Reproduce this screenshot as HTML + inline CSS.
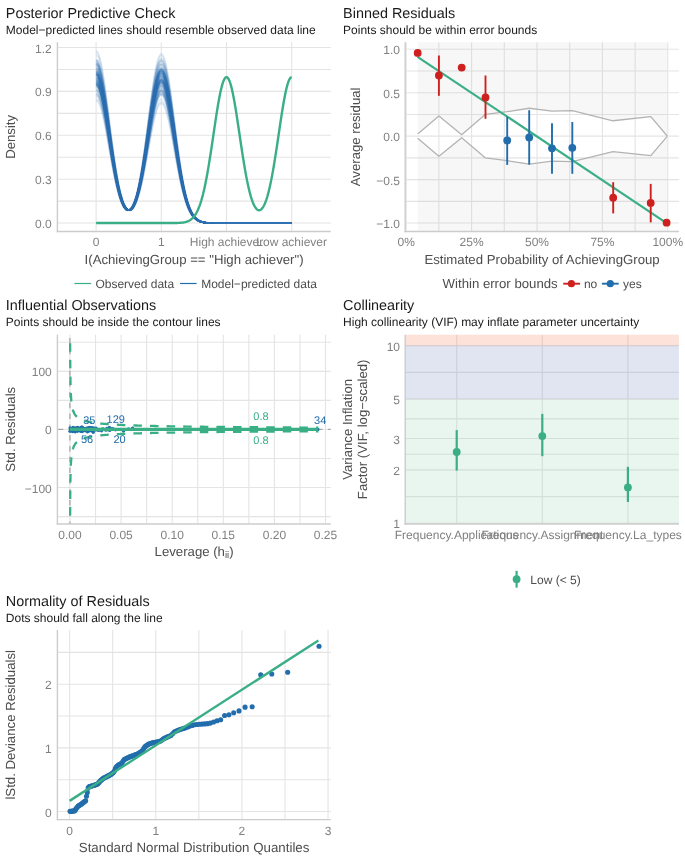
<!DOCTYPE html>
<html><head><meta charset="utf-8"><style>
html,body{margin:0;padding:0;background:#fff;}
svg{display:block;font-family:"Liberation Sans", sans-serif;will-change:transform;text-rendering:geometricPrecision;}
</style></head><body>
<svg width="685" height="861" viewBox="0 0 685 861">
<rect width="685" height="861" fill="#fff"/>
<text x="5.8" y="17.8" font-size="14.4" fill="#1a1a1a" text-anchor="start" >Posterior Predictive Check</text>
<text x="5.8" y="33.8" font-size="12" fill="#1a1a1a" text-anchor="start" >Model−predicted lines should resemble observed data line</text>
<line x1="57.4" y1="223.07" x2="330.8" y2="223.07" stroke="#e4e4e4" stroke-width="1.1" />
<line x1="57.4" y1="201.12" x2="330.8" y2="201.12" stroke="#e4e4e4" stroke-width="1.1" />
<line x1="57.4" y1="179.18" x2="330.8" y2="179.18" stroke="#e4e4e4" stroke-width="1.1" />
<line x1="57.4" y1="157.23" x2="330.8" y2="157.23" stroke="#e4e4e4" stroke-width="1.1" />
<line x1="57.4" y1="135.29" x2="330.8" y2="135.29" stroke="#e4e4e4" stroke-width="1.1" />
<line x1="57.4" y1="113.34" x2="330.8" y2="113.34" stroke="#e4e4e4" stroke-width="1.1" />
<line x1="57.4" y1="91.4" x2="330.8" y2="91.4" stroke="#e4e4e4" stroke-width="1.1" />
<line x1="57.4" y1="69.45" x2="330.8" y2="69.45" stroke="#e4e4e4" stroke-width="1.1" />
<line x1="57.4" y1="47.51" x2="330.8" y2="47.51" stroke="#e4e4e4" stroke-width="1.1" />
<line x1="96.1" y1="42.2" x2="96.1" y2="231.55" stroke="#e4e4e4" stroke-width="1.1" />
<line x1="161.3" y1="42.2" x2="161.3" y2="231.55" stroke="#e4e4e4" stroke-width="1.1" />
<line x1="226.5" y1="42.2" x2="226.5" y2="231.55" stroke="#e4e4e4" stroke-width="1.1" />
<line x1="291.7" y1="42.2" x2="291.7" y2="231.55" stroke="#e4e4e4" stroke-width="1.1" />
<polyline points="96.1,50.89 97.4,51.75 98.71,54.3 100.01,58.47 101.32,64.13 102.62,71.12 103.92,79.25 105.23,88.29 106.53,98.03 107.84,108.2 109.14,118.6 110.44,128.99 111.75,139.17 113.05,148.98 114.36,158.27 115.66,166.91 116.96,174.83 118.27,181.96 119.57,188.28 120.88,193.77 122.18,198.44 123.48,202.3 124.79,205.39 126.09,207.72 127.4,209.33 128.7,210.25 130,210.49 131.31,210.08 132.61,209.01 133.92,207.31 135.22,204.96 136.52,201.98 137.83,198.36 139.13,194.12 140.44,189.27 141.74,183.85 143.04,177.9 144.35,171.49 145.65,164.7 146.96,157.65 148.26,150.44 149.56,143.23 150.87,136.16 152.17,129.4 153.48,123.12 154.78,117.47 156.08,112.62 157.39,108.68 158.69,105.79 160,104.02 161.3,103.42 162.6,104.02 163.91,105.79 165.21,108.69 166.52,112.62 167.82,117.48 169.12,123.13 170.43,129.42 171.73,136.19 173.04,143.27 174.34,150.5 175.64,157.73 176.95,164.83 178.25,171.67 179.56,178.16 180.86,184.23 182.16,189.8 183.47,194.86 184.77,199.39 186.08,203.39 187.38,206.88 188.68,209.88 189.99,212.43 191.29,214.57 192.6,216.35 193.9,217.81 195.2,219 196.51,219.94 197.81,220.7 199.12,221.28 200.42,221.74 201.72,222.09 203.03,222.35 204.33,222.55 205.64,222.7 206.94,222.81 208.24,222.89 209.55,222.94 210.85,222.98 212.16,223.01 213.46,223.03 214.76,223.04 216.07,223.05 217.37,223.06 218.68,223.06 219.98,223.07 221.28,223.07 222.59,223.07 223.89,223.07 225.2,223.07 226.5,223.07 227.8,223.07 229.11,223.07 230.41,223.07 231.72,223.07 233.02,223.07 234.32,223.07 235.63,223.07 236.93,223.07 238.24,223.07 239.54,223.07 240.84,223.07 242.15,223.07 243.45,223.07 244.76,223.07 246.06,223.07 247.36,223.07 248.67,223.07 249.97,223.07 251.28,223.07 252.58,223.07 253.88,223.07 255.19,223.07 256.49,223.07 257.8,223.07 259.1,223.07 260.4,223.07 261.71,223.07 263.01,223.07 264.32,223.07 265.62,223.07 266.92,223.07 268.23,223.07 269.53,223.07 270.84,223.07 272.14,223.07 273.44,223.07 274.75,223.07 276.05,223.07 277.36,223.07 278.66,223.07 279.96,223.07 281.27,223.07 282.57,223.07 283.88,223.07 285.18,223.07 286.48,223.07 287.79,223.07 289.09,223.07 290.4,223.07 291.7,223.07" fill="none" stroke="#3072b3" stroke-width="1.7" stroke-linejoin="round" stroke-opacity="0.12"/>
<polyline points="96.1,52.35 97.4,53.2 98.71,55.73 100.01,59.86 101.32,65.47 102.62,72.41 103.92,80.47 105.23,89.44 106.53,99.09 107.84,109.18 109.14,119.48 110.44,129.78 111.75,139.88 113.05,149.61 114.36,158.81 115.66,167.38 116.96,175.23 118.27,182.3 119.57,188.56 120.88,194 122.18,198.62 123.48,202.44 124.79,205.49 126.09,207.78 127.4,209.36 128.7,210.25 130,210.46 131.31,210.01 132.61,208.91 133.92,207.17 135.22,204.78 136.52,201.75 137.83,198.08 139.13,193.78 140.44,188.87 141.74,183.38 143.04,177.36 144.35,170.87 145.65,164 146.96,156.85 148.26,149.56 149.56,142.26 150.87,135.1 152.17,128.26 153.48,121.9 154.78,116.19 156.08,111.27 157.39,107.29 158.69,104.36 160,102.57 161.3,101.96 162.6,102.57 163.91,104.36 165.21,107.29 166.52,111.27 167.82,116.19 169.12,121.91 170.43,128.28 171.73,135.13 173.04,142.29 174.34,149.61 175.64,156.94 176.95,164.12 178.25,171.05 179.56,177.62 180.86,183.75 182.16,189.4 183.47,194.52 184.77,199.1 186.08,203.15 187.38,206.68 188.68,209.72 189.99,212.3 191.29,214.47 192.6,216.27 193.9,217.75 195.2,218.95 196.51,219.91 197.81,220.67 199.12,221.26 200.42,221.72 201.72,222.08 203.03,222.35 204.33,222.55 205.64,222.7 206.94,222.81 208.24,222.88 209.55,222.94 210.85,222.98 212.16,223.01 213.46,223.03 214.76,223.04 216.07,223.05 217.37,223.06 218.68,223.06 219.98,223.07 221.28,223.07 222.59,223.07 223.89,223.07 225.2,223.07 226.5,223.07 227.8,223.07 229.11,223.07 230.41,223.07 231.72,223.07 233.02,223.07 234.32,223.07 235.63,223.07 236.93,223.07 238.24,223.07 239.54,223.07 240.84,223.07 242.15,223.07 243.45,223.07 244.76,223.07 246.06,223.07 247.36,223.07 248.67,223.07 249.97,223.07 251.28,223.07 252.58,223.07 253.88,223.07 255.19,223.07 256.49,223.07 257.8,223.07 259.1,223.07 260.4,223.07 261.71,223.07 263.01,223.07 264.32,223.07 265.62,223.07 266.92,223.07 268.23,223.07 269.53,223.07 270.84,223.07 272.14,223.07 273.44,223.07 274.75,223.07 276.05,223.07 277.36,223.07 278.66,223.07 279.96,223.07 281.27,223.07 282.57,223.07 283.88,223.07 285.18,223.07 286.48,223.07 287.79,223.07 289.09,223.07 290.4,223.07 291.7,223.07" fill="none" stroke="#3072b3" stroke-width="1.7" stroke-linejoin="round" stroke-opacity="0.12"/>
<polyline points="96.1,55.27 97.4,56.11 98.71,58.59 100.01,62.65 101.32,68.17 102.62,74.98 103.92,82.9 105.23,91.72 106.53,101.2 107.84,111.12 109.14,121.25 110.44,131.38 111.75,141.3 113.05,150.86 114.36,159.9 115.66,168.32 116.96,176.03 118.27,182.98 119.57,189.12 120.88,194.46 122.18,198.98 123.48,202.72 124.79,205.69 126.09,207.92 127.4,209.43 128.7,210.25 130,210.39 131.31,209.88 132.61,208.71 133.92,206.89 135.22,204.42 136.52,201.3 137.83,197.52 139.13,193.11 140.44,188.07 141.74,182.44 143.04,176.26 144.35,169.61 145.65,162.58 146.96,155.26 148.26,147.79 149.56,140.31 150.87,132.98 152.17,125.98 153.48,119.46 154.78,113.61 156.08,108.58 157.39,104.5 158.69,101.5 160,99.66 161.3,99.04 162.6,99.66 163.91,101.5 165.21,104.5 166.52,108.58 167.82,113.62 169.12,119.47 170.43,125.99 171.73,133.01 173.04,140.35 174.34,147.84 175.64,155.34 176.95,162.7 178.25,169.79 179.56,176.52 180.86,182.8 182.16,188.59 183.47,193.83 184.77,198.53 186.08,202.67 187.38,206.28 188.68,209.4 189.99,212.04 191.29,214.26 192.6,216.11 193.9,217.62 195.2,218.85 196.51,219.83 197.81,220.61 199.12,221.22 200.42,221.69 201.72,222.05 203.03,222.33 204.33,222.53 205.64,222.69 206.94,222.8 208.24,222.88 209.55,222.94 210.85,222.98 212.16,223.01 213.46,223.03 214.76,223.04 216.07,223.05 217.37,223.06 218.68,223.06 219.98,223.07 221.28,223.07 222.59,223.07 223.89,223.07 225.2,223.07 226.5,223.07 227.8,223.07 229.11,223.07 230.41,223.07 231.72,223.07 233.02,223.07 234.32,223.07 235.63,223.07 236.93,223.07 238.24,223.07 239.54,223.07 240.84,223.07 242.15,223.07 243.45,223.07 244.76,223.07 246.06,223.07 247.36,223.07 248.67,223.07 249.97,223.07 251.28,223.07 252.58,223.07 253.88,223.07 255.19,223.07 256.49,223.07 257.8,223.07 259.1,223.07 260.4,223.07 261.71,223.07 263.01,223.07 264.32,223.07 265.62,223.07 266.92,223.07 268.23,223.07 269.53,223.07 270.84,223.07 272.14,223.07 273.44,223.07 274.75,223.07 276.05,223.07 277.36,223.07 278.66,223.07 279.96,223.07 281.27,223.07 282.57,223.07 283.88,223.07 285.18,223.07 286.48,223.07 287.79,223.07 289.09,223.07 290.4,223.07 291.7,223.07" fill="none" stroke="#3072b3" stroke-width="1.7" stroke-linejoin="round" stroke-opacity="0.12"/>
<polyline points="96.1,100.5 97.4,101.11 98.71,102.93 100.01,105.89 101.32,109.92 102.62,114.9 103.92,120.68 105.23,127.12 106.53,134.04 107.84,141.28 109.14,148.67 110.44,156.05 111.75,163.29 113.05,170.24 114.36,176.81 115.66,182.91 116.96,188.47 118.27,193.44 119.57,197.8 120.88,201.52 122.18,204.6 123.48,207.03 124.79,208.81 126.09,209.95 127.4,210.43 128.7,210.25 130,209.4 131.31,207.85 132.61,205.59 133.92,202.58 135.22,198.8 136.52,194.23 137.83,188.84 139.13,182.64 140.44,175.63 141.74,167.85 143.04,159.36 144.35,150.23 145.65,140.59 146.96,130.58 148.26,120.37 149.56,110.15 150.87,100.14 152.17,90.58 153.48,81.69 154.78,73.69 156.08,66.82 157.39,61.26 158.69,57.16 160,54.65 161.3,53.81 162.6,54.65 163.91,57.16 165.21,61.26 166.52,66.82 167.82,73.7 169.12,81.69 170.43,90.59 171.73,100.16 173.04,110.18 174.34,120.41 175.64,130.64 176.95,140.68 178.25,150.36 179.56,159.55 180.86,168.12 182.16,176.01 183.47,183.17 184.77,189.57 186.08,195.23 187.38,200.16 188.68,204.41 189.99,208.02 191.29,211.05 192.6,213.57 193.9,215.63 195.2,217.31 196.51,218.65 197.81,219.71 199.12,220.54 200.42,221.19 201.72,221.68 203.03,222.06 204.33,222.34 205.64,222.55 206.94,222.7 208.24,222.81 209.55,222.89 210.85,222.95 212.16,222.99 213.46,223.01 214.76,223.03 216.07,223.04 217.37,223.05 218.68,223.06 219.98,223.06 221.28,223.07 222.59,223.07 223.89,223.07 225.2,223.07 226.5,223.07 227.8,223.07 229.11,223.07 230.41,223.07 231.72,223.07 233.02,223.07 234.32,223.07 235.63,223.07 236.93,223.07 238.24,223.07 239.54,223.07 240.84,223.07 242.15,223.07 243.45,223.07 244.76,223.07 246.06,223.07 247.36,223.07 248.67,223.07 249.97,223.07 251.28,223.07 252.58,223.07 253.88,223.07 255.19,223.07 256.49,223.07 257.8,223.07 259.1,223.07 260.4,223.07 261.71,223.07 263.01,223.07 264.32,223.07 265.62,223.07 266.92,223.07 268.23,223.07 269.53,223.07 270.84,223.07 272.14,223.07 273.44,223.07 274.75,223.07 276.05,223.07 277.36,223.07 278.66,223.07 279.96,223.07 281.27,223.07 282.57,223.07 283.88,223.07 285.18,223.07 286.48,223.07 287.79,223.07 289.09,223.07 290.4,223.07 291.7,223.07" fill="none" stroke="#3072b3" stroke-width="1.7" stroke-linejoin="round" stroke-opacity="0.12"/>
<polyline points="96.1,99.04 97.4,99.66 98.71,101.5 100.01,104.5 101.32,108.58 102.62,113.61 103.92,119.46 105.23,125.98 106.53,132.98 107.84,140.31 109.14,147.79 110.44,155.26 111.75,162.58 113.05,169.61 114.36,176.26 115.66,182.44 116.96,188.07 118.27,193.11 119.57,197.52 120.88,201.3 122.18,204.42 123.48,206.89 124.79,208.71 126.09,209.88 127.4,210.39 128.7,210.25 130,209.43 131.31,207.92 132.61,205.69 133.92,202.72 135.22,198.98 136.52,194.46 137.83,189.12 139.13,182.98 140.44,176.03 141.74,168.32 143.04,159.9 144.35,150.86 145.65,141.3 146.96,131.38 148.26,121.25 149.56,111.12 150.87,101.2 152.17,91.72 153.48,82.9 154.78,74.98 156.08,68.17 157.39,62.65 158.69,58.59 160,56.11 161.3,55.27 162.6,56.11 163.91,58.59 165.21,62.65 166.52,68.17 167.82,74.99 169.12,82.91 170.43,91.73 171.73,101.22 173.04,111.15 174.34,121.29 175.64,131.44 176.95,141.39 178.25,150.99 179.56,160.09 180.86,168.59 182.16,176.42 183.47,183.51 184.77,189.86 186.08,195.47 187.38,200.36 188.68,204.57 189.99,208.15 191.29,211.16 192.6,213.65 193.9,215.7 195.2,217.36 196.51,218.69 197.81,219.74 199.12,220.57 200.42,221.21 201.72,221.7 203.03,222.07 204.33,222.35 205.64,222.55 206.94,222.7 208.24,222.81 209.55,222.89 210.85,222.95 212.16,222.99 213.46,223.01 214.76,223.03 216.07,223.05 217.37,223.05 218.68,223.06 219.98,223.06 221.28,223.07 222.59,223.07 223.89,223.07 225.2,223.07 226.5,223.07 227.8,223.07 229.11,223.07 230.41,223.07 231.72,223.07 233.02,223.07 234.32,223.07 235.63,223.07 236.93,223.07 238.24,223.07 239.54,223.07 240.84,223.07 242.15,223.07 243.45,223.07 244.76,223.07 246.06,223.07 247.36,223.07 248.67,223.07 249.97,223.07 251.28,223.07 252.58,223.07 253.88,223.07 255.19,223.07 256.49,223.07 257.8,223.07 259.1,223.07 260.4,223.07 261.71,223.07 263.01,223.07 264.32,223.07 265.62,223.07 266.92,223.07 268.23,223.07 269.53,223.07 270.84,223.07 272.14,223.07 273.44,223.07 274.75,223.07 276.05,223.07 277.36,223.07 278.66,223.07 279.96,223.07 281.27,223.07 282.57,223.07 283.88,223.07 285.18,223.07 286.48,223.07 287.79,223.07 289.09,223.07 290.4,223.07 291.7,223.07" fill="none" stroke="#3072b3" stroke-width="1.7" stroke-linejoin="round" stroke-opacity="0.12"/>
<polyline points="96.1,96.12 97.4,96.76 98.71,98.64 100.01,101.71 101.32,105.88 102.62,111.04 103.92,117.03 105.23,123.69 106.53,130.87 107.84,138.36 109.14,146.02 110.44,153.67 111.75,161.16 113.05,168.36 114.36,175.17 115.66,181.5 116.96,187.27 118.27,192.43 119.57,196.96 120.88,200.84 122.18,204.06 123.48,206.61 124.79,208.51 126.09,209.75 127.4,210.33 128.7,210.25 130,209.49 131.31,208.05 132.61,205.89 133.92,203 135.22,199.35 136.52,194.91 137.83,189.68 139.13,183.65 140.44,176.83 141.74,169.26 143.04,160.99 144.35,152.11 145.65,142.72 146.96,132.97 148.26,123.02 149.56,113.07 150.87,103.32 152.17,94 153.48,85.34 154.78,77.56 156.08,70.86 157.39,65.44 158.69,61.45 160,59.01 161.3,58.19 162.6,59.01 163.91,61.45 165.21,65.44 166.52,70.86 167.82,77.56 169.12,85.35 170.43,94.02 171.73,103.34 173.04,113.1 174.34,123.06 175.64,133.03 176.95,142.81 178.25,152.24 179.56,161.19 180.86,169.54 182.16,177.23 183.47,184.2 184.77,190.44 186.08,195.95 187.38,200.76 188.68,204.89 189.99,208.41 191.29,211.36 192.6,213.81 193.9,215.83 195.2,217.46 196.51,218.76 197.81,219.8 199.12,220.61 200.42,221.24 201.72,221.72 203.03,222.08 204.33,222.36 205.64,222.56 206.94,222.71 208.24,222.82 209.55,222.89 210.85,222.95 212.16,222.99 213.46,223.01 214.76,223.03 216.07,223.05 217.37,223.05 218.68,223.06 219.98,223.06 221.28,223.07 222.59,223.07 223.89,223.07 225.2,223.07 226.5,223.07 227.8,223.07 229.11,223.07 230.41,223.07 231.72,223.07 233.02,223.07 234.32,223.07 235.63,223.07 236.93,223.07 238.24,223.07 239.54,223.07 240.84,223.07 242.15,223.07 243.45,223.07 244.76,223.07 246.06,223.07 247.36,223.07 248.67,223.07 249.97,223.07 251.28,223.07 252.58,223.07 253.88,223.07 255.19,223.07 256.49,223.07 257.8,223.07 259.1,223.07 260.4,223.07 261.71,223.07 263.01,223.07 264.32,223.07 265.62,223.07 266.92,223.07 268.23,223.07 269.53,223.07 270.84,223.07 272.14,223.07 273.44,223.07 274.75,223.07 276.05,223.07 277.36,223.07 278.66,223.07 279.96,223.07 281.27,223.07 282.57,223.07 283.88,223.07 285.18,223.07 286.48,223.07 287.79,223.07 289.09,223.07 290.4,223.07 291.7,223.07" fill="none" stroke="#3072b3" stroke-width="1.7" stroke-linejoin="round" stroke-opacity="0.12"/>
<polyline points="96.1,59.65 97.4,60.46 98.71,62.88 100.01,66.84 101.32,72.21 102.62,78.84 103.92,86.56 105.23,95.15 106.53,104.38 107.84,114.04 109.14,123.91 110.44,133.77 111.75,143.43 113.05,152.73 114.36,161.54 115.66,169.73 116.96,177.24 118.27,183.99 119.57,189.96 120.88,195.14 122.18,199.53 123.48,203.14 124.79,205.99 126.09,208.11 127.4,209.52 128.7,210.25 130,210.3 131.31,209.68 132.61,208.41 133.92,206.48 135.22,203.88 136.52,200.61 137.83,196.68 139.13,192.09 140.44,186.86 141.74,181.03 143.04,174.63 144.35,167.74 145.65,160.45 146.96,152.87 148.26,145.13 149.56,137.39 150.87,129.81 152.17,122.55 153.48,115.81 154.78,109.75 156.08,104.53 157.39,100.31 158.69,97.21 160,95.31 161.3,94.67 162.6,95.31 163.91,97.21 165.21,100.32 166.52,104.54 167.82,109.75 169.12,115.82 170.43,122.57 171.73,129.83 173.04,137.43 174.34,145.19 175.64,152.95 176.95,160.57 178.25,167.91 179.56,174.88 180.86,181.38 182.16,187.37 183.47,192.8 184.77,197.66 186.08,201.95 187.38,205.69 188.68,208.91 189.99,211.65 191.29,213.95 192.6,215.86 193.9,217.43 195.2,218.7 196.51,219.72 197.81,220.52 199.12,221.15 200.42,221.64 201.72,222.02 203.03,222.3 204.33,222.52 205.64,222.67 206.94,222.79 208.24,222.87 209.55,222.93 210.85,222.98 212.16,223.01 213.46,223.03 214.76,223.04 216.07,223.05 217.37,223.06 218.68,223.06 219.98,223.06 221.28,223.07 222.59,223.07 223.89,223.07 225.2,223.07 226.5,223.07 227.8,223.07 229.11,223.07 230.41,223.07 231.72,223.07 233.02,223.07 234.32,223.07 235.63,223.07 236.93,223.07 238.24,223.07 239.54,223.07 240.84,223.07 242.15,223.07 243.45,223.07 244.76,223.07 246.06,223.07 247.36,223.07 248.67,223.07 249.97,223.07 251.28,223.07 252.58,223.07 253.88,223.07 255.19,223.07 256.49,223.07 257.8,223.07 259.1,223.07 260.4,223.07 261.71,223.07 263.01,223.07 264.32,223.07 265.62,223.07 266.92,223.07 268.23,223.07 269.53,223.07 270.84,223.07 272.14,223.07 273.44,223.07 274.75,223.07 276.05,223.07 277.36,223.07 278.66,223.07 279.96,223.07 281.27,223.07 282.57,223.07 283.88,223.07 285.18,223.07 286.48,223.07 287.79,223.07 289.09,223.07 290.4,223.07 291.7,223.07" fill="none" stroke="#3072b3" stroke-width="1.7" stroke-linejoin="round" stroke-opacity="0.12"/>
<polyline points="96.1,93.21 97.4,93.85 98.71,95.78 100.01,98.92 101.32,103.19 102.62,108.46 103.92,114.59 105.23,121.41 106.53,128.75 107.84,136.42 109.14,144.25 110.44,152.07 111.75,159.74 113.05,167.11 114.36,174.08 115.66,180.56 116.96,186.46 118.27,191.76 119.57,196.4 120.88,200.38 122.18,203.7 123.48,206.34 124.79,208.31 126.09,209.62 127.4,210.27 128.7,210.25 130,209.56 131.31,208.18 132.61,206.09 133.92,203.28 135.22,199.71 136.52,195.37 137.83,190.24 139.13,184.33 140.44,177.64 141.74,170.2 143.04,162.08 144.35,153.36 145.65,144.14 146.96,134.56 148.26,124.79 149.56,115.01 150.87,105.44 152.17,96.29 153.48,87.78 154.78,80.13 156.08,73.56 157.39,68.23 158.69,64.31 160,61.91 161.3,61.11 162.6,61.91 163.91,64.31 165.21,68.23 166.52,73.56 167.82,80.14 169.12,87.79 170.43,96.3 171.73,105.46 173.04,115.04 174.34,124.83 175.64,134.63 176.95,144.23 178.25,153.5 179.56,162.28 180.86,170.49 182.16,178.04 183.47,184.89 184.77,191.02 186.08,196.43 187.38,201.15 188.68,205.21 189.99,208.67 191.29,211.57 192.6,213.98 193.9,215.95 195.2,217.56 196.51,218.84 197.81,219.86 199.12,220.65 200.42,221.27 201.72,221.74 203.03,222.1 204.33,222.37 205.64,222.57 206.94,222.72 208.24,222.82 209.55,222.9 210.85,222.95 212.16,222.99 213.46,223.02 214.76,223.03 216.07,223.05 217.37,223.05 218.68,223.06 219.98,223.06 221.28,223.07 222.59,223.07 223.89,223.07 225.2,223.07 226.5,223.07 227.8,223.07 229.11,223.07 230.41,223.07 231.72,223.07 233.02,223.07 234.32,223.07 235.63,223.07 236.93,223.07 238.24,223.07 239.54,223.07 240.84,223.07 242.15,223.07 243.45,223.07 244.76,223.07 246.06,223.07 247.36,223.07 248.67,223.07 249.97,223.07 251.28,223.07 252.58,223.07 253.88,223.07 255.19,223.07 256.49,223.07 257.8,223.07 259.1,223.07 260.4,223.07 261.71,223.07 263.01,223.07 264.32,223.07 265.62,223.07 266.92,223.07 268.23,223.07 269.53,223.07 270.84,223.07 272.14,223.07 273.44,223.07 274.75,223.07 276.05,223.07 277.36,223.07 278.66,223.07 279.96,223.07 281.27,223.07 282.57,223.07 283.88,223.07 285.18,223.07 286.48,223.07 287.79,223.07 289.09,223.07 290.4,223.07 291.7,223.07" fill="none" stroke="#3072b3" stroke-width="1.7" stroke-linejoin="round" stroke-opacity="0.12"/>
<polyline points="96.1,71.16 97.4,71.92 98.71,74.17 100.01,77.84 101.32,82.83 102.62,89 103.92,96.17 105.23,104.15 106.53,112.74 107.84,121.72 109.14,130.88 110.44,140.05 111.75,149.02 113.05,157.67 114.36,165.84 115.66,173.45 116.96,180.4 118.27,186.65 119.57,192.17 120.88,196.94 122.18,200.96 123.48,204.23 124.79,206.79 126.09,208.63 127.4,209.78 128.7,210.25 130,210.04 131.31,209.17 132.61,207.61 133.92,205.38 135.22,202.45 136.52,198.81 137.83,194.47 139.13,189.43 140.44,183.7 141.74,177.31 143.04,170.33 144.35,162.81 145.65,154.85 146.96,146.59 148.26,138.16 149.56,129.72 150.87,121.45 152.17,113.54 153.48,106.19 154.78,99.59 156.08,93.91 157.39,89.31 158.69,85.92 160,83.85 161.3,83.15 162.6,83.85 163.91,85.93 165.21,89.31 166.52,93.91 167.82,99.6 169.12,106.2 170.43,113.56 171.73,121.47 173.04,129.75 174.34,138.21 175.64,146.67 176.95,154.97 178.25,162.97 179.56,170.56 180.86,177.65 182.16,184.17 183.47,190.09 184.77,195.38 186.08,200.06 187.38,204.13 188.68,207.64 189.99,210.63 191.29,213.14 192.6,215.22 193.9,216.92 195.2,218.31 196.51,219.42 197.81,220.29 199.12,220.98 200.42,221.52 201.72,221.92 203.03,222.23 204.33,222.47 205.64,222.64 206.94,222.76 208.24,222.86 209.55,222.92 210.85,222.97 212.16,223 213.46,223.02 214.76,223.04 216.07,223.05 217.37,223.06 218.68,223.06 219.98,223.06 221.28,223.07 222.59,223.07 223.89,223.07 225.2,223.07 226.5,223.07 227.8,223.07 229.11,223.07 230.41,223.07 231.72,223.07 233.02,223.07 234.32,223.07 235.63,223.07 236.93,223.07 238.24,223.07 239.54,223.07 240.84,223.07 242.15,223.07 243.45,223.07 244.76,223.07 246.06,223.07 247.36,223.07 248.67,223.07 249.97,223.07 251.28,223.07 252.58,223.07 253.88,223.07 255.19,223.07 256.49,223.07 257.8,223.07 259.1,223.07 260.4,223.07 261.71,223.07 263.01,223.07 264.32,223.07 265.62,223.07 266.92,223.07 268.23,223.07 269.53,223.07 270.84,223.07 272.14,223.07 273.44,223.07 274.75,223.07 276.05,223.07 277.36,223.07 278.66,223.07 279.96,223.07 281.27,223.07 282.57,223.07 283.88,223.07 285.18,223.07 286.48,223.07 287.79,223.07 289.09,223.07 290.4,223.07 291.7,223.07" fill="none" stroke="#3072b3" stroke-width="1.7" stroke-linejoin="round" stroke-opacity="0.12"/>
<polyline points="96.1,83.7 97.4,84.4 98.71,86.46 100.01,89.83 101.32,94.41 102.62,100.07 103.92,106.65 105.23,113.97 106.53,121.85 107.84,130.08 109.14,138.49 110.44,146.89 111.75,155.12 113.05,163.04 114.36,170.53 115.66,177.49 116.96,183.85 118.27,189.56 119.57,194.58 120.88,198.9 122.18,202.52 123.48,205.43 124.79,207.65 126.09,209.19 127.4,210.06 128.7,210.25 130,209.77 131.31,208.6 132.61,206.75 133.92,204.18 135.22,200.89 136.52,196.85 137.83,192.07 139.13,186.53 140.44,180.25 141.74,173.27 143.04,165.64 144.35,157.43 145.65,148.76 146.96,139.75 148.26,130.55 149.56,121.35 150.87,112.34 152.17,103.73 153.48,95.72 154.78,88.52 156.08,82.33 157.39,77.32 158.69,73.63 160,71.37 161.3,70.61 162.6,71.37 163.91,73.63 165.21,77.32 166.52,82.33 167.82,88.52 169.12,95.72 170.43,103.74 171.73,112.36 173.04,121.38 174.34,130.6 175.64,139.82 176.95,148.86 178.25,157.58 179.56,165.85 180.86,173.57 182.16,180.68 183.47,187.13 184.77,192.9 186.08,197.99 187.38,202.44 188.68,206.26 189.99,209.51 191.29,212.24 192.6,214.51 193.9,216.37 195.2,217.88 196.51,219.09 197.81,220.05 199.12,220.8 200.42,221.38 201.72,221.82 203.03,222.16 204.33,222.41 205.64,222.6 206.94,222.74 208.24,222.84 209.55,222.91 210.85,222.96 212.16,222.99 213.46,223.02 214.76,223.04 216.07,223.05 217.37,223.06 218.68,223.06 219.98,223.06 221.28,223.07 222.59,223.07 223.89,223.07 225.2,223.07 226.5,223.07 227.8,223.07 229.11,223.07 230.41,223.07 231.72,223.07 233.02,223.07 234.32,223.07 235.63,223.07 236.93,223.07 238.24,223.07 239.54,223.07 240.84,223.07 242.15,223.07 243.45,223.07 244.76,223.07 246.06,223.07 247.36,223.07 248.67,223.07 249.97,223.07 251.28,223.07 252.58,223.07 253.88,223.07 255.19,223.07 256.49,223.07 257.8,223.07 259.1,223.07 260.4,223.07 261.71,223.07 263.01,223.07 264.32,223.07 265.62,223.07 266.92,223.07 268.23,223.07 269.53,223.07 270.84,223.07 272.14,223.07 273.44,223.07 274.75,223.07 276.05,223.07 277.36,223.07 278.66,223.07 279.96,223.07 281.27,223.07 282.57,223.07 283.88,223.07 285.18,223.07 286.48,223.07 287.79,223.07 289.09,223.07 290.4,223.07 291.7,223.07" fill="none" stroke="#3072b3" stroke-width="1.7" stroke-linejoin="round" stroke-opacity="0.12"/>
<polyline points="96.1,65.84 97.4,66.63 98.71,68.96 100.01,72.76 101.32,77.93 102.62,84.31 103.92,91.74 105.23,100 106.53,108.88 107.84,118.17 109.14,127.66 110.44,137.15 111.75,146.44 113.05,155.39 114.36,163.86 115.66,171.73 116.96,178.94 118.27,185.42 119.57,191.15 120.88,196.11 122.18,200.3 123.48,203.73 124.79,206.42 126.09,208.39 127.4,209.66 128.7,210.25 130,210.16 131.31,209.41 132.61,207.98 133.92,205.88 135.22,203.11 136.52,199.64 137.83,195.49 139.13,190.66 140.44,185.16 141.74,179.03 143.04,172.31 144.35,165.08 145.65,157.44 146.96,149.49 148.26,141.38 149.56,133.26 150.87,125.31 152.17,117.7 153.48,110.63 154.78,104.28 156.08,98.81 157.39,94.39 158.69,91.13 160,89.14 161.3,88.47 162.6,89.14 163.91,91.13 165.21,94.39 166.52,98.82 167.82,104.29 169.12,110.64 170.43,117.72 171.73,125.33 173.04,133.29 174.34,141.43 175.64,149.57 176.95,157.55 178.25,165.25 179.56,172.55 180.86,179.37 182.16,185.65 183.47,191.34 184.77,196.43 186.08,200.93 187.38,204.85 188.68,208.23 189.99,211.1 191.29,213.51 192.6,215.51 193.9,217.16 195.2,218.49 196.51,219.55 197.81,220.4 199.12,221.06 200.42,221.57 201.72,221.97 203.03,222.27 204.33,222.49 205.64,222.65 206.94,222.78 208.24,222.86 209.55,222.93 210.85,222.97 212.16,223 213.46,223.02 214.76,223.04 216.07,223.05 217.37,223.06 218.68,223.06 219.98,223.06 221.28,223.07 222.59,223.07 223.89,223.07 225.2,223.07 226.5,223.07 227.8,223.07 229.11,223.07 230.41,223.07 231.72,223.07 233.02,223.07 234.32,223.07 235.63,223.07 236.93,223.07 238.24,223.07 239.54,223.07 240.84,223.07 242.15,223.07 243.45,223.07 244.76,223.07 246.06,223.07 247.36,223.07 248.67,223.07 249.97,223.07 251.28,223.07 252.58,223.07 253.88,223.07 255.19,223.07 256.49,223.07 257.8,223.07 259.1,223.07 260.4,223.07 261.71,223.07 263.01,223.07 264.32,223.07 265.62,223.07 266.92,223.07 268.23,223.07 269.53,223.07 270.84,223.07 272.14,223.07 273.44,223.07 274.75,223.07 276.05,223.07 277.36,223.07 278.66,223.07 279.96,223.07 281.27,223.07 282.57,223.07 283.88,223.07 285.18,223.07 286.48,223.07 287.79,223.07 289.09,223.07 290.4,223.07 291.7,223.07" fill="none" stroke="#3072b3" stroke-width="1.7" stroke-linejoin="round" stroke-opacity="0.12"/>
<polyline points="96.1,72.34 97.4,73.09 98.71,75.33 100.01,78.97 101.32,83.93 102.62,90.05 103.92,97.16 105.23,105.08 106.53,113.6 107.84,122.51 109.14,131.6 110.44,140.69 111.75,149.6 113.05,158.17 114.36,166.28 115.66,173.83 116.96,180.73 118.27,186.93 119.57,192.4 120.88,197.12 122.18,201.1 123.48,204.35 124.79,206.87 126.09,208.68 127.4,209.8 128.7,210.25 130,210.02 131.31,209.11 132.61,207.53 133.92,205.26 135.22,202.3 136.52,198.63 137.83,194.25 139.13,189.16 140.44,183.37 141.74,176.93 143.04,169.88 144.35,162.3 145.65,154.28 146.96,145.94 148.26,137.44 149.56,128.93 150.87,120.59 152.17,112.62 153.48,105.2 154.78,98.54 156.08,92.81 157.39,88.18 158.69,84.76 160,82.67 161.3,81.97 162.6,82.67 163.91,84.76 165.21,88.18 166.52,92.82 167.82,98.55 169.12,105.21 170.43,112.63 171.73,120.61 173.04,128.96 174.34,137.49 175.64,146.02 176.95,154.39 178.25,162.46 179.56,170.11 180.86,177.26 182.16,183.84 183.47,189.81 184.77,195.15 186.08,199.86 187.38,203.97 188.68,207.51 189.99,210.52 191.29,213.05 192.6,215.15 193.9,216.87 195.2,218.27 196.51,219.38 197.81,220.27 199.12,220.96 200.42,221.5 201.72,221.91 203.03,222.23 204.33,222.46 205.64,222.63 206.94,222.76 208.24,222.85 209.55,222.92 210.85,222.97 212.16,223 213.46,223.02 214.76,223.04 216.07,223.05 217.37,223.06 218.68,223.06 219.98,223.06 221.28,223.07 222.59,223.07 223.89,223.07 225.2,223.07 226.5,223.07 227.8,223.07 229.11,223.07 230.41,223.07 231.72,223.07 233.02,223.07 234.32,223.07 235.63,223.07 236.93,223.07 238.24,223.07 239.54,223.07 240.84,223.07 242.15,223.07 243.45,223.07 244.76,223.07 246.06,223.07 247.36,223.07 248.67,223.07 249.97,223.07 251.28,223.07 252.58,223.07 253.88,223.07 255.19,223.07 256.49,223.07 257.8,223.07 259.1,223.07 260.4,223.07 261.71,223.07 263.01,223.07 264.32,223.07 265.62,223.07 266.92,223.07 268.23,223.07 269.53,223.07 270.84,223.07 272.14,223.07 273.44,223.07 274.75,223.07 276.05,223.07 277.36,223.07 278.66,223.07 279.96,223.07 281.27,223.07 282.57,223.07 283.88,223.07 285.18,223.07 286.48,223.07 287.79,223.07 289.09,223.07 290.4,223.07 291.7,223.07" fill="none" stroke="#3072b3" stroke-width="1.7" stroke-linejoin="round" stroke-opacity="0.12"/>
<polyline points="96.1,62.82 97.4,63.62 98.71,65.99 100.01,69.87 101.32,75.14 102.62,81.64 103.92,89.21 105.23,97.63 106.53,106.68 107.84,116.16 109.14,125.83 110.44,135.5 111.75,144.97 113.05,154.09 114.36,162.72 115.66,170.76 116.96,178.11 118.27,184.72 119.57,190.57 120.88,195.64 122.18,199.92 123.48,203.44 124.79,206.21 126.09,208.25 127.4,209.59 128.7,210.25 130,210.23 131.31,209.54 132.61,208.19 133.92,206.17 135.22,203.48 136.52,200.12 137.83,196.07 139.13,191.36 140.44,185.99 141.74,180 143.04,173.44 144.35,166.38 145.65,158.91 146.96,151.14 148.26,143.21 149.56,135.28 150.87,127.5 152.17,120.07 153.48,113.16 154.78,106.95 156.08,101.61 157.39,97.28 158.69,94.1 160,92.15 161.3,91.49 162.6,92.15 163.91,94.1 165.21,97.28 166.52,101.61 167.82,106.96 169.12,113.17 170.43,120.09 171.73,127.53 173.04,135.31 174.34,143.27 175.64,151.22 176.95,159.03 178.25,166.55 179.56,173.69 180.86,180.35 182.16,186.49 183.47,192.05 184.77,197.03 186.08,201.43 187.38,205.26 188.68,208.56 189.99,211.37 191.29,213.73 192.6,215.68 193.9,217.29 195.2,218.59 196.51,219.63 197.81,220.46 199.12,221.11 200.42,221.61 201.72,221.99 203.03,222.28 204.33,222.5 205.64,222.66 206.94,222.78 208.24,222.87 209.55,222.93 210.85,222.97 212.16,223 213.46,223.03 214.76,223.04 216.07,223.05 217.37,223.06 218.68,223.06 219.98,223.06 221.28,223.07 222.59,223.07 223.89,223.07 225.2,223.07 226.5,223.07 227.8,223.07 229.11,223.07 230.41,223.07 231.72,223.07 233.02,223.07 234.32,223.07 235.63,223.07 236.93,223.07 238.24,223.07 239.54,223.07 240.84,223.07 242.15,223.07 243.45,223.07 244.76,223.07 246.06,223.07 247.36,223.07 248.67,223.07 249.97,223.07 251.28,223.07 252.58,223.07 253.88,223.07 255.19,223.07 256.49,223.07 257.8,223.07 259.1,223.07 260.4,223.07 261.71,223.07 263.01,223.07 264.32,223.07 265.62,223.07 266.92,223.07 268.23,223.07 269.53,223.07 270.84,223.07 272.14,223.07 273.44,223.07 274.75,223.07 276.05,223.07 277.36,223.07 278.66,223.07 279.96,223.07 281.27,223.07 282.57,223.07 283.88,223.07 285.18,223.07 286.48,223.07 287.79,223.07 289.09,223.07 290.4,223.07 291.7,223.07" fill="none" stroke="#3072b3" stroke-width="1.7" stroke-linejoin="round" stroke-opacity="0.12"/>
<polyline points="96.1,74.33 97.4,75.07 98.71,77.27 100.01,80.87 101.32,85.76 102.62,91.8 103.92,98.82 105.23,106.63 106.53,115.04 107.84,123.83 109.14,132.8 110.44,141.77 111.75,150.56 113.05,159.02 114.36,167.03 115.66,174.47 116.96,181.27 118.27,187.39 119.57,192.78 120.88,197.43 122.18,201.35 123.48,204.54 124.79,207 126.09,208.77 127.4,209.85 128.7,210.25 130,209.97 131.31,209.02 132.61,207.4 133.92,205.08 135.22,202.05 136.52,198.32 137.83,193.87 139.13,188.7 140.44,182.83 141.74,176.29 143.04,169.14 144.35,161.45 145.65,153.31 146.96,144.86 148.26,136.24 149.56,127.6 150.87,119.15 152.17,111.06 153.48,103.55 154.78,96.79 156.08,90.98 157.39,86.28 158.69,82.82 160,80.7 161.3,79.99 162.6,80.7 163.91,82.82 165.21,86.28 166.52,90.99 167.82,96.8 169.12,103.56 170.43,111.08 171.73,119.17 173.04,127.64 174.34,136.29 175.64,144.94 176.95,153.42 178.25,161.61 179.56,169.37 180.86,176.62 182.16,183.29 183.47,189.34 184.77,194.75 186.08,199.54 187.38,203.71 188.68,207.29 189.99,210.35 191.29,212.91 192.6,215.04 193.9,216.78 195.2,218.2 196.51,219.33 197.81,220.23 199.12,220.94 200.42,221.48 201.72,221.9 203.03,222.21 204.33,222.45 205.64,222.63 206.94,222.76 208.24,222.85 209.55,222.92 210.85,222.97 212.16,223 213.46,223.02 214.76,223.04 216.07,223.05 217.37,223.06 218.68,223.06 219.98,223.06 221.28,223.07 222.59,223.07 223.89,223.07 225.2,223.07 226.5,223.07 227.8,223.07 229.11,223.07 230.41,223.07 231.72,223.07 233.02,223.07 234.32,223.07 235.63,223.07 236.93,223.07 238.24,223.07 239.54,223.07 240.84,223.07 242.15,223.07 243.45,223.07 244.76,223.07 246.06,223.07 247.36,223.07 248.67,223.07 249.97,223.07 251.28,223.07 252.58,223.07 253.88,223.07 255.19,223.07 256.49,223.07 257.8,223.07 259.1,223.07 260.4,223.07 261.71,223.07 263.01,223.07 264.32,223.07 265.62,223.07 266.92,223.07 268.23,223.07 269.53,223.07 270.84,223.07 272.14,223.07 273.44,223.07 274.75,223.07 276.05,223.07 277.36,223.07 278.66,223.07 279.96,223.07 281.27,223.07 282.57,223.07 283.88,223.07 285.18,223.07 286.48,223.07 287.79,223.07 289.09,223.07 290.4,223.07 291.7,223.07" fill="none" stroke="#3072b3" stroke-width="1.7" stroke-linejoin="round" stroke-opacity="0.12"/>
<polyline points="96.1,68.8 97.4,69.57 98.71,71.85 100.01,75.59 101.32,80.66 102.62,86.92 103.92,94.2 105.23,102.31 106.53,111.03 107.84,120.14 109.14,129.45 110.44,138.76 111.75,147.88 113.05,156.66 114.36,164.96 115.66,172.68 116.96,179.75 118.27,186.11 119.57,191.72 120.88,196.57 122.18,200.66 123.48,204.01 124.79,206.62 126.09,208.52 127.4,209.73 128.7,210.25 130,210.1 131.31,209.27 132.61,207.78 133.92,205.6 135.22,202.74 136.52,199.18 137.83,194.93 139.13,189.98 140.44,184.35 141.74,178.07 143.04,171.21 144.35,163.82 145.65,156 146.96,147.88 148.26,139.59 149.56,131.29 150.87,123.16 152.17,115.39 153.48,108.16 154.78,101.67 156.08,96.09 157.39,91.56 158.69,88.24 160,86.2 161.3,85.51 162.6,86.2 163.91,88.24 165.21,91.57 166.52,96.09 167.82,101.68 169.12,108.17 170.43,115.4 171.73,123.18 173.04,131.32 174.34,139.64 175.64,147.95 176.95,156.11 178.25,163.98 179.56,171.44 180.86,178.41 182.16,184.82 183.47,190.64 184.77,195.85 186.08,200.45 187.38,204.45 188.68,207.9 189.99,210.84 191.29,213.3 192.6,215.35 193.9,217.03 195.2,218.39 196.51,219.48 197.81,220.34 199.12,221.02 200.42,221.54 201.72,221.94 203.03,222.25 204.33,222.48 205.64,222.65 206.94,222.77 208.24,222.86 209.55,222.92 210.85,222.97 212.16,223 213.46,223.02 214.76,223.04 216.07,223.05 217.37,223.06 218.68,223.06 219.98,223.06 221.28,223.07 222.59,223.07 223.89,223.07 225.2,223.07 226.5,223.07 227.8,223.07 229.11,223.07 230.41,223.07 231.72,223.07 233.02,223.07 234.32,223.07 235.63,223.07 236.93,223.07 238.24,223.07 239.54,223.07 240.84,223.07 242.15,223.07 243.45,223.07 244.76,223.07 246.06,223.07 247.36,223.07 248.67,223.07 249.97,223.07 251.28,223.07 252.58,223.07 253.88,223.07 255.19,223.07 256.49,223.07 257.8,223.07 259.1,223.07 260.4,223.07 261.71,223.07 263.01,223.07 264.32,223.07 265.62,223.07 266.92,223.07 268.23,223.07 269.53,223.07 270.84,223.07 272.14,223.07 273.44,223.07 274.75,223.07 276.05,223.07 277.36,223.07 278.66,223.07 279.96,223.07 281.27,223.07 282.57,223.07 283.88,223.07 285.18,223.07 286.48,223.07 287.79,223.07 289.09,223.07 290.4,223.07 291.7,223.07" fill="none" stroke="#3072b3" stroke-width="1.7" stroke-linejoin="round" stroke-opacity="0.12"/>
<polyline points="96.1,85.12 97.4,85.81 98.71,87.85 100.01,91.19 101.32,95.72 102.62,101.33 103.92,107.84 105.23,115.08 106.53,122.88 107.84,131.03 109.14,139.35 110.44,147.66 111.75,155.81 113.05,163.65 114.36,171.06 115.66,177.95 116.96,184.24 118.27,189.89 119.57,194.85 120.88,199.12 122.18,202.69 123.48,205.57 124.79,207.75 126.09,209.26 127.4,210.09 128.7,210.25 130,209.74 131.31,208.54 132.61,206.65 133.92,204.05 135.22,200.71 136.52,196.63 137.83,191.79 139.13,186.2 140.44,179.86 141.74,172.81 143.04,165.11 144.35,156.82 145.65,148.07 146.96,138.97 148.26,129.69 149.56,120.41 150.87,111.31 152.17,102.61 153.48,94.53 154.78,87.27 156.08,81.02 157.39,75.96 158.69,72.24 160,69.96 161.3,69.19 162.6,69.96 163.91,72.24 165.21,75.96 166.52,81.02 167.82,87.27 169.12,94.54 170.43,102.63 171.73,111.33 173.04,120.44 174.34,129.74 175.64,139.04 176.95,148.17 178.25,156.97 179.56,165.32 180.86,173.11 182.16,180.29 183.47,186.79 184.77,192.62 186.08,197.76 187.38,202.24 188.68,206.1 189.99,209.39 191.29,212.14 192.6,214.43 193.9,216.31 195.2,217.83 196.51,219.05 197.81,220.02 199.12,220.77 200.42,221.36 201.72,221.81 203.03,222.15 204.33,222.41 205.64,222.59 206.94,222.73 208.24,222.83 209.55,222.91 210.85,222.96 212.16,222.99 213.46,223.02 214.76,223.04 216.07,223.05 217.37,223.06 218.68,223.06 219.98,223.06 221.28,223.07 222.59,223.07 223.89,223.07 225.2,223.07 226.5,223.07 227.8,223.07 229.11,223.07 230.41,223.07 231.72,223.07 233.02,223.07 234.32,223.07 235.63,223.07 236.93,223.07 238.24,223.07 239.54,223.07 240.84,223.07 242.15,223.07 243.45,223.07 244.76,223.07 246.06,223.07 247.36,223.07 248.67,223.07 249.97,223.07 251.28,223.07 252.58,223.07 253.88,223.07 255.19,223.07 256.49,223.07 257.8,223.07 259.1,223.07 260.4,223.07 261.71,223.07 263.01,223.07 264.32,223.07 265.62,223.07 266.92,223.07 268.23,223.07 269.53,223.07 270.84,223.07 272.14,223.07 273.44,223.07 274.75,223.07 276.05,223.07 277.36,223.07 278.66,223.07 279.96,223.07 281.27,223.07 282.57,223.07 283.88,223.07 285.18,223.07 286.48,223.07 287.79,223.07 289.09,223.07 290.4,223.07 291.7,223.07" fill="none" stroke="#3072b3" stroke-width="1.7" stroke-linejoin="round" stroke-opacity="0.12"/>
<polyline points="96.1,74.67 97.4,75.41 98.71,77.61 100.01,81.2 101.32,86.07 102.62,92.1 103.92,99.11 105.23,106.9 106.53,115.29 107.84,124.06 109.14,133.01 110.44,141.96 111.75,150.73 113.05,159.17 114.36,167.15 115.66,174.58 116.96,181.37 118.27,187.47 119.57,192.84 120.88,197.49 122.18,201.39 123.48,204.57 124.79,207.03 126.09,208.79 127.4,209.86 128.7,210.25 130,209.97 131.31,209.01 132.61,207.37 133.92,205.04 135.22,202.01 136.52,198.27 137.83,193.8 139.13,188.62 140.44,182.73 141.74,176.18 143.04,169.01 144.35,161.3 145.65,153.15 146.96,144.68 148.26,136.03 149.56,127.38 150.87,118.9 152.17,110.8 153.48,103.26 154.78,96.49 156.08,90.67 157.39,85.95 158.69,82.48 160,80.36 161.3,79.64 162.6,80.36 163.91,82.48 165.21,85.96 166.52,90.67 167.82,96.5 169.12,103.27 170.43,110.81 171.73,118.92 173.04,127.41 174.34,136.08 175.64,144.75 176.95,153.26 178.25,161.46 179.56,169.24 180.86,176.51 182.16,183.19 183.47,189.26 184.77,194.69 186.08,199.48 187.38,203.66 188.68,207.26 189.99,210.32 191.29,212.89 192.6,215.02 193.9,216.77 195.2,218.19 196.51,219.32 197.81,220.22 199.12,220.93 200.42,221.48 201.72,221.9 203.03,222.21 204.33,222.45 205.64,222.63 206.94,222.76 208.24,222.85 209.55,222.92 210.85,222.97 212.16,223 213.46,223.02 214.76,223.04 216.07,223.05 217.37,223.06 218.68,223.06 219.98,223.06 221.28,223.07 222.59,223.07 223.89,223.07 225.2,223.07 226.5,223.07 227.8,223.07 229.11,223.07 230.41,223.07 231.72,223.07 233.02,223.07 234.32,223.07 235.63,223.07 236.93,223.07 238.24,223.07 239.54,223.07 240.84,223.07 242.15,223.07 243.45,223.07 244.76,223.07 246.06,223.07 247.36,223.07 248.67,223.07 249.97,223.07 251.28,223.07 252.58,223.07 253.88,223.07 255.19,223.07 256.49,223.07 257.8,223.07 259.1,223.07 260.4,223.07 261.71,223.07 263.01,223.07 264.32,223.07 265.62,223.07 266.92,223.07 268.23,223.07 269.53,223.07 270.84,223.07 272.14,223.07 273.44,223.07 274.75,223.07 276.05,223.07 277.36,223.07 278.66,223.07 279.96,223.07 281.27,223.07 282.57,223.07 283.88,223.07 285.18,223.07 286.48,223.07 287.79,223.07 289.09,223.07 290.4,223.07 291.7,223.07" fill="none" stroke="#3072b3" stroke-width="1.7" stroke-linejoin="round" stroke-opacity="0.12"/>
<polyline points="96.1,84.67 97.4,85.36 98.71,87.41 100.01,90.76 101.32,95.3 102.62,100.92 103.92,107.46 105.23,114.73 106.53,122.55 107.84,130.72 109.14,139.07 110.44,147.42 111.75,155.59 113.05,163.45 114.36,170.89 115.66,177.8 116.96,184.12 118.27,189.78 119.57,194.76 120.88,199.05 122.18,202.63 123.48,205.52 124.79,207.72 126.09,209.24 127.4,210.08 128.7,210.25 130,209.75 131.31,208.56 132.61,206.68 133.92,204.09 135.22,200.77 136.52,196.7 137.83,191.88 139.13,186.3 140.44,179.98 141.74,172.96 143.04,165.28 144.35,157.02 145.65,148.29 146.96,139.22 148.26,129.97 149.56,120.71 150.87,111.64 152.17,102.97 153.48,94.91 154.78,87.67 156.08,81.44 157.39,76.39 158.69,72.68 160,70.41 161.3,69.65 162.6,70.41 163.91,72.68 165.21,76.4 166.52,81.44 167.82,87.67 169.12,94.92 170.43,102.98 171.73,111.66 173.04,120.74 174.34,130.01 175.64,139.29 176.95,148.39 178.25,157.17 179.56,165.49 180.86,173.26 182.16,180.41 183.47,186.9 184.77,192.71 186.08,197.84 187.38,202.31 188.68,206.15 189.99,209.43 191.29,212.18 192.6,214.46 193.9,216.33 195.2,217.85 196.51,219.06 197.81,220.03 199.12,220.78 200.42,221.37 201.72,221.81 203.03,222.15 204.33,222.41 205.64,222.6 206.94,222.73 208.24,222.83 209.55,222.91 210.85,222.96 212.16,222.99 213.46,223.02 214.76,223.04 216.07,223.05 217.37,223.06 218.68,223.06 219.98,223.06 221.28,223.07 222.59,223.07 223.89,223.07 225.2,223.07 226.5,223.07 227.8,223.07 229.11,223.07 230.41,223.07 231.72,223.07 233.02,223.07 234.32,223.07 235.63,223.07 236.93,223.07 238.24,223.07 239.54,223.07 240.84,223.07 242.15,223.07 243.45,223.07 244.76,223.07 246.06,223.07 247.36,223.07 248.67,223.07 249.97,223.07 251.28,223.07 252.58,223.07 253.88,223.07 255.19,223.07 256.49,223.07 257.8,223.07 259.1,223.07 260.4,223.07 261.71,223.07 263.01,223.07 264.32,223.07 265.62,223.07 266.92,223.07 268.23,223.07 269.53,223.07 270.84,223.07 272.14,223.07 273.44,223.07 274.75,223.07 276.05,223.07 277.36,223.07 278.66,223.07 279.96,223.07 281.27,223.07 282.57,223.07 283.88,223.07 285.18,223.07 286.48,223.07 287.79,223.07 289.09,223.07 290.4,223.07 291.7,223.07" fill="none" stroke="#3072b3" stroke-width="1.7" stroke-linejoin="round" stroke-opacity="0.12"/>
<polyline points="96.1,73.93 97.4,74.67 98.71,76.88 100.01,80.49 101.32,85.39 102.62,91.45 103.92,98.49 105.23,106.32 106.53,114.75 107.84,123.56 109.14,132.56 110.44,141.56 111.75,150.37 113.05,158.85 114.36,166.88 115.66,174.34 116.96,181.16 118.27,187.29 119.57,192.7 120.88,197.37 122.18,201.3 123.48,204.5 124.79,206.98 126.09,208.75 127.4,209.84 128.7,210.25 130,209.98 131.31,209.04 132.61,207.42 133.92,205.11 135.22,202.1 136.52,198.38 137.83,193.94 139.13,188.79 140.44,182.94 141.74,176.42 143.04,169.29 144.35,161.62 145.65,153.51 146.96,145.08 148.26,136.48 149.56,127.87 150.87,119.44 152.17,111.38 153.48,103.88 154.78,97.14 156.08,91.35 157.39,86.66 158.69,83.21 160,81.1 161.3,80.38 162.6,81.1 163.91,83.21 165.21,86.66 166.52,91.35 167.82,97.15 169.12,103.89 170.43,111.39 171.73,119.46 173.04,127.9 174.34,136.53 175.64,145.15 176.95,153.62 178.25,161.78 179.56,169.52 180.86,176.75 182.16,183.4 183.47,189.43 184.77,194.83 186.08,199.6 187.38,203.76 188.68,207.34 189.99,210.38 191.29,212.94 192.6,215.06 193.9,216.8 195.2,218.21 196.51,219.34 197.81,220.24 199.12,220.94 200.42,221.48 201.72,221.9 203.03,222.22 204.33,222.45 205.64,222.63 206.94,222.76 208.24,222.85 209.55,222.92 210.85,222.97 212.16,223 213.46,223.02 214.76,223.04 216.07,223.05 217.37,223.06 218.68,223.06 219.98,223.06 221.28,223.07 222.59,223.07 223.89,223.07 225.2,223.07 226.5,223.07 227.8,223.07 229.11,223.07 230.41,223.07 231.72,223.07 233.02,223.07 234.32,223.07 235.63,223.07 236.93,223.07 238.24,223.07 239.54,223.07 240.84,223.07 242.15,223.07 243.45,223.07 244.76,223.07 246.06,223.07 247.36,223.07 248.67,223.07 249.97,223.07 251.28,223.07 252.58,223.07 253.88,223.07 255.19,223.07 256.49,223.07 257.8,223.07 259.1,223.07 260.4,223.07 261.71,223.07 263.01,223.07 264.32,223.07 265.62,223.07 266.92,223.07 268.23,223.07 269.53,223.07 270.84,223.07 272.14,223.07 273.44,223.07 274.75,223.07 276.05,223.07 277.36,223.07 278.66,223.07 279.96,223.07 281.27,223.07 282.57,223.07 283.88,223.07 285.18,223.07 286.48,223.07 287.79,223.07 289.09,223.07 290.4,223.07 291.7,223.07" fill="none" stroke="#3072b3" stroke-width="1.7" stroke-linejoin="round" stroke-opacity="0.12"/>
<polyline points="96.1,74.89 97.4,75.63 98.71,77.82 100.01,81.41 101.32,86.28 102.62,92.3 103.92,99.29 105.23,107.07 106.53,115.45 107.84,124.21 109.14,133.15 110.44,142.08 111.75,150.84 113.05,159.27 114.36,167.24 115.66,174.65 116.96,181.43 118.27,187.52 119.57,192.89 120.88,197.52 122.18,201.42 123.48,204.59 124.79,207.04 126.09,208.8 127.4,209.86 128.7,210.25 130,209.96 131.31,209 132.61,207.36 133.92,205.02 135.22,201.98 136.52,198.23 137.83,193.76 139.13,188.57 140.44,182.67 141.74,176.11 143.04,168.93 144.35,161.21 145.65,153.04 146.96,144.55 148.26,135.89 149.56,127.23 150.87,118.74 152.17,110.62 153.48,103.08 154.78,96.3 156.08,90.46 157.39,85.74 158.69,82.27 160,80.14 161.3,79.42 162.6,80.14 163.91,82.27 165.21,85.74 166.52,90.47 167.82,96.3 169.12,103.09 170.43,110.64 171.73,118.76 173.04,127.26 174.34,135.94 175.64,144.63 176.95,153.15 178.25,161.37 179.56,169.16 180.86,176.43 182.16,183.13 183.47,189.21 184.77,194.64 186.08,199.44 187.38,203.63 188.68,207.23 189.99,210.3 191.29,212.87 192.6,215.01 193.9,216.76 195.2,218.18 196.51,219.32 197.81,220.22 199.12,220.93 200.42,221.47 201.72,221.89 203.03,222.21 204.33,222.45 205.64,222.63 206.94,222.76 208.24,222.85 209.55,222.92 210.85,222.96 212.16,223 213.46,223.02 214.76,223.04 216.07,223.05 217.37,223.06 218.68,223.06 219.98,223.06 221.28,223.07 222.59,223.07 223.89,223.07 225.2,223.07 226.5,223.07 227.8,223.07 229.11,223.07 230.41,223.07 231.72,223.07 233.02,223.07 234.32,223.07 235.63,223.07 236.93,223.07 238.24,223.07 239.54,223.07 240.84,223.07 242.15,223.07 243.45,223.07 244.76,223.07 246.06,223.07 247.36,223.07 248.67,223.07 249.97,223.07 251.28,223.07 252.58,223.07 253.88,223.07 255.19,223.07 256.49,223.07 257.8,223.07 259.1,223.07 260.4,223.07 261.71,223.07 263.01,223.07 264.32,223.07 265.62,223.07 266.92,223.07 268.23,223.07 269.53,223.07 270.84,223.07 272.14,223.07 273.44,223.07 274.75,223.07 276.05,223.07 277.36,223.07 278.66,223.07 279.96,223.07 281.27,223.07 282.57,223.07 283.88,223.07 285.18,223.07 286.48,223.07 287.79,223.07 289.09,223.07 290.4,223.07 291.7,223.07" fill="none" stroke="#3072b3" stroke-width="1.7" stroke-linejoin="round" stroke-opacity="0.12"/>
<polyline points="96.1,86.58 97.4,87.26 98.71,89.29 100.01,92.59 101.32,97.07 102.62,102.62 103.92,109.06 105.23,116.23 106.53,123.94 107.84,132 109.14,140.24 110.44,148.46 111.75,156.52 113.05,164.28 114.36,171.61 115.66,178.42 116.96,184.64 118.27,190.22 119.57,195.13 120.88,199.35 122.18,202.87 123.48,205.7 124.79,207.85 126.09,209.32 127.4,210.12 128.7,210.25 130,209.7 131.31,208.47 132.61,206.55 133.92,203.91 135.22,200.53 136.52,196.4 137.83,191.51 139.13,185.86 140.44,179.46 141.74,172.34 143.04,164.56 144.35,156.2 145.65,147.36 146.96,138.17 148.26,128.8 149.56,119.43 150.87,110.25 152.17,101.47 153.48,93.31 154.78,85.98 156.08,79.67 157.39,74.56 158.69,70.8 160,68.5 161.3,67.73 162.6,68.5 163.91,70.8 165.21,74.56 166.52,79.67 167.82,85.98 169.12,93.32 170.43,101.48 171.73,110.27 173.04,119.46 174.34,128.85 175.64,138.24 176.95,147.46 178.25,156.34 179.56,164.77 180.86,172.64 182.16,179.88 183.47,186.45 184.77,192.33 186.08,197.52 187.38,202.05 188.68,205.94 189.99,209.26 191.29,212.04 192.6,214.35 193.9,216.24 195.2,217.78 196.51,219.01 197.81,219.99 199.12,220.75 200.42,221.34 201.72,221.8 203.03,222.14 204.33,222.4 205.64,222.59 206.94,222.73 208.24,222.83 209.55,222.9 210.85,222.96 212.16,222.99 213.46,223.02 214.76,223.04 216.07,223.05 217.37,223.05 218.68,223.06 219.98,223.06 221.28,223.07 222.59,223.07 223.89,223.07 225.2,223.07 226.5,223.07 227.8,223.07 229.11,223.07 230.41,223.07 231.72,223.07 233.02,223.07 234.32,223.07 235.63,223.07 236.93,223.07 238.24,223.07 239.54,223.07 240.84,223.07 242.15,223.07 243.45,223.07 244.76,223.07 246.06,223.07 247.36,223.07 248.67,223.07 249.97,223.07 251.28,223.07 252.58,223.07 253.88,223.07 255.19,223.07 256.49,223.07 257.8,223.07 259.1,223.07 260.4,223.07 261.71,223.07 263.01,223.07 264.32,223.07 265.62,223.07 266.92,223.07 268.23,223.07 269.53,223.07 270.84,223.07 272.14,223.07 273.44,223.07 274.75,223.07 276.05,223.07 277.36,223.07 278.66,223.07 279.96,223.07 281.27,223.07 282.57,223.07 283.88,223.07 285.18,223.07 286.48,223.07 287.79,223.07 289.09,223.07 290.4,223.07 291.7,223.07" fill="none" stroke="#3072b3" stroke-width="1.7" stroke-linejoin="round" stroke-opacity="0.12"/>
<polyline points="96.1,73.16 97.4,73.91 98.71,76.13 100.01,79.75 101.32,84.68 102.62,90.77 103.92,97.84 105.23,105.72 106.53,114.19 107.84,123.05 109.14,132.1 110.44,141.14 111.75,150 113.05,158.52 114.36,166.59 115.66,174.09 116.96,180.95 118.27,187.12 119.57,192.55 120.88,197.25 122.18,201.21 123.48,204.42 124.79,206.92 126.09,208.72 127.4,209.82 128.7,210.25 130,210 131.31,209.08 132.61,207.48 133.92,205.19 135.22,202.2 136.52,198.5 137.83,194.09 139.13,188.97 140.44,183.15 141.74,176.67 143.04,169.58 144.35,161.95 145.65,153.88 146.96,145.5 148.26,136.94 149.56,128.38 150.87,120 152.17,111.98 153.48,104.52 154.78,97.82 156.08,92.06 157.39,87.4 158.69,83.96 160,81.86 161.3,81.15 162.6,81.86 163.91,83.97 165.21,87.4 166.52,92.07 167.82,97.83 169.12,104.53 170.43,111.99 171.73,120.02 173.04,128.42 174.34,136.99 175.64,145.57 176.95,153.99 178.25,162.11 179.56,169.81 180.86,177 182.16,183.61 183.47,189.61 184.77,194.99 186.08,199.73 187.38,203.86 188.68,207.42 189.99,210.45 191.29,212.99 192.6,215.1 193.9,216.83 195.2,218.24 196.51,219.36 197.81,220.25 199.12,220.95 200.42,221.49 201.72,221.91 203.03,222.22 204.33,222.46 205.64,222.63 206.94,222.76 208.24,222.85 209.55,222.92 210.85,222.97 212.16,223 213.46,223.02 214.76,223.04 216.07,223.05 217.37,223.06 218.68,223.06 219.98,223.06 221.28,223.07 222.59,223.07 223.89,223.07 225.2,223.07 226.5,223.07 227.8,223.07 229.11,223.07 230.41,223.07 231.72,223.07 233.02,223.07 234.32,223.07 235.63,223.07 236.93,223.07 238.24,223.07 239.54,223.07 240.84,223.07 242.15,223.07 243.45,223.07 244.76,223.07 246.06,223.07 247.36,223.07 248.67,223.07 249.97,223.07 251.28,223.07 252.58,223.07 253.88,223.07 255.19,223.07 256.49,223.07 257.8,223.07 259.1,223.07 260.4,223.07 261.71,223.07 263.01,223.07 264.32,223.07 265.62,223.07 266.92,223.07 268.23,223.07 269.53,223.07 270.84,223.07 272.14,223.07 273.44,223.07 274.75,223.07 276.05,223.07 277.36,223.07 278.66,223.07 279.96,223.07 281.27,223.07 282.57,223.07 283.88,223.07 285.18,223.07 286.48,223.07 287.79,223.07 289.09,223.07 290.4,223.07 291.7,223.07" fill="none" stroke="#3072b3" stroke-width="1.7" stroke-linejoin="round" stroke-opacity="0.12"/>
<polyline points="96.1,82.27 97.4,82.97 98.71,85.06 100.01,88.46 101.32,93.09 102.62,98.81 103.92,105.45 105.23,112.85 106.53,120.81 107.84,129.13 109.14,137.62 110.44,146.11 111.75,154.42 113.05,162.43 114.36,169.99 115.66,177.03 116.96,183.46 118.27,189.22 119.57,194.3 120.88,198.68 122.18,202.34 123.48,205.29 124.79,207.55 126.09,209.13 127.4,210.02 128.7,210.25 130,209.8 131.31,208.67 132.61,206.85 133.92,204.32 135.22,201.07 136.52,197.08 137.83,192.34 139.13,186.86 140.44,180.64 141.74,173.73 143.04,166.17 144.35,158.05 145.65,149.46 146.96,140.53 148.26,131.42 149.56,122.31 150.87,113.38 152.17,104.85 153.48,96.91 154.78,89.78 156.08,83.65 157.39,78.69 158.69,75.03 160,72.8 161.3,72.04 162.6,72.8 163.91,75.03 165.21,78.69 166.52,83.66 167.82,89.79 169.12,96.92 170.43,104.86 171.73,113.4 173.04,122.34 174.34,131.47 175.64,140.6 176.95,149.56 178.25,158.2 179.56,166.39 180.86,174.04 182.16,181.08 183.47,187.47 184.77,193.18 186.08,198.23 187.38,202.63 188.68,206.42 189.99,209.64 191.29,212.35 192.6,214.59 193.9,216.43 195.2,217.93 196.51,219.13 197.81,220.07 199.12,220.82 200.42,221.39 201.72,221.83 203.03,222.17 204.33,222.42 205.64,222.6 206.94,222.74 208.24,222.84 209.55,222.91 210.85,222.96 212.16,222.99 213.46,223.02 214.76,223.04 216.07,223.05 217.37,223.06 218.68,223.06 219.98,223.06 221.28,223.07 222.59,223.07 223.89,223.07 225.2,223.07 226.5,223.07 227.8,223.07 229.11,223.07 230.41,223.07 231.72,223.07 233.02,223.07 234.32,223.07 235.63,223.07 236.93,223.07 238.24,223.07 239.54,223.07 240.84,223.07 242.15,223.07 243.45,223.07 244.76,223.07 246.06,223.07 247.36,223.07 248.67,223.07 249.97,223.07 251.28,223.07 252.58,223.07 253.88,223.07 255.19,223.07 256.49,223.07 257.8,223.07 259.1,223.07 260.4,223.07 261.71,223.07 263.01,223.07 264.32,223.07 265.62,223.07 266.92,223.07 268.23,223.07 269.53,223.07 270.84,223.07 272.14,223.07 273.44,223.07 274.75,223.07 276.05,223.07 277.36,223.07 278.66,223.07 279.96,223.07 281.27,223.07 282.57,223.07 283.88,223.07 285.18,223.07 286.48,223.07 287.79,223.07 289.09,223.07 290.4,223.07 291.7,223.07" fill="none" stroke="#3072b3" stroke-width="1.7" stroke-linejoin="round" stroke-opacity="0.12"/>
<polyline points="96.1,72.7 97.4,73.45 98.71,75.68 100.01,79.31 101.32,84.26 102.62,90.36 103.92,97.46 105.23,105.36 106.53,113.86 107.84,122.74 109.14,131.82 110.44,140.89 111.75,149.77 113.05,158.33 114.36,166.42 115.66,173.94 116.96,180.82 118.27,187.01 119.57,192.47 120.88,197.18 122.18,201.15 123.48,204.38 124.79,206.89 126.09,208.7 127.4,209.81 128.7,210.25 130,210.01 131.31,209.1 132.61,207.51 133.92,205.23 135.22,202.26 136.52,198.57 137.83,194.18 139.13,189.07 140.44,183.28 141.74,176.82 143.04,169.75 144.35,162.15 145.65,154.11 146.96,145.75 148.26,137.22 149.56,128.69 150.87,120.33 152.17,112.34 153.48,104.91 154.78,98.23 156.08,92.49 157.39,87.84 158.69,84.41 160,82.32 161.3,81.61 162.6,82.32 163.91,84.42 165.21,87.84 166.52,92.49 167.82,98.24 169.12,104.92 170.43,112.35 171.73,120.35 173.04,128.72 174.34,137.27 175.64,145.82 176.95,154.22 178.25,162.31 179.56,169.98 180.86,177.15 182.16,183.74 183.47,189.72 184.77,195.08 186.08,199.8 187.38,203.93 188.68,207.47 189.99,210.49 191.29,213.03 192.6,215.13 193.9,216.85 195.2,218.25 196.51,219.37 197.81,220.26 199.12,220.96 200.42,221.5 201.72,221.91 203.03,222.22 204.33,222.46 205.64,222.63 206.94,222.76 208.24,222.85 209.55,222.92 210.85,222.97 212.16,223 213.46,223.02 214.76,223.04 216.07,223.05 217.37,223.06 218.68,223.06 219.98,223.06 221.28,223.07 222.59,223.07 223.89,223.07 225.2,223.07 226.5,223.07 227.8,223.07 229.11,223.07 230.41,223.07 231.72,223.07 233.02,223.07 234.32,223.07 235.63,223.07 236.93,223.07 238.24,223.07 239.54,223.07 240.84,223.07 242.15,223.07 243.45,223.07 244.76,223.07 246.06,223.07 247.36,223.07 248.67,223.07 249.97,223.07 251.28,223.07 252.58,223.07 253.88,223.07 255.19,223.07 256.49,223.07 257.8,223.07 259.1,223.07 260.4,223.07 261.71,223.07 263.01,223.07 264.32,223.07 265.62,223.07 266.92,223.07 268.23,223.07 269.53,223.07 270.84,223.07 272.14,223.07 273.44,223.07 274.75,223.07 276.05,223.07 277.36,223.07 278.66,223.07 279.96,223.07 281.27,223.07 282.57,223.07 283.88,223.07 285.18,223.07 286.48,223.07 287.79,223.07 289.09,223.07 290.4,223.07 291.7,223.07" fill="none" stroke="#3072b3" stroke-width="1.7" stroke-linejoin="round" stroke-opacity="0.12"/>
<polyline points="96.1,68.05 97.4,68.83 98.71,71.12 100.01,74.87 101.32,79.97 102.62,86.26 103.92,93.58 105.23,101.73 106.53,110.49 107.84,119.65 109.14,129 110.44,138.35 111.75,147.52 113.05,156.34 114.36,164.68 115.66,172.44 116.96,179.55 118.27,185.93 119.57,191.58 120.88,196.45 122.18,200.57 123.48,203.94 124.79,206.57 126.09,208.49 127.4,209.71 128.7,210.25 130,210.11 131.31,209.31 132.61,207.83 133.92,205.67 135.22,202.83 136.52,199.3 137.83,195.07 139.13,190.15 140.44,184.55 141.74,178.32 143.04,171.49 144.35,164.14 145.65,156.36 146.96,148.28 148.26,140.04 149.56,131.79 150.87,123.7 152.17,115.97 153.48,108.79 154.78,102.33 156.08,96.77 157.39,92.28 158.69,88.97 160,86.94 161.3,86.26 162.6,86.94 163.91,88.97 165.21,92.28 166.52,96.78 167.82,102.34 169.12,108.8 170.43,115.99 171.73,123.73 173.04,131.82 174.34,140.09 175.64,148.36 176.95,156.48 178.25,164.3 179.56,171.72 180.86,178.65 182.16,185.03 183.47,190.82 184.77,196 186.08,200.57 187.38,204.55 188.68,207.99 189.99,210.9 191.29,213.36 192.6,215.39 193.9,217.06 195.2,218.41 196.51,219.5 197.81,220.36 199.12,221.03 200.42,221.55 201.72,221.95 203.03,222.25 204.33,222.48 205.64,222.65 206.94,222.77 208.24,222.86 209.55,222.92 210.85,222.97 212.16,223 213.46,223.02 214.76,223.04 216.07,223.05 217.37,223.06 218.68,223.06 219.98,223.06 221.28,223.07 222.59,223.07 223.89,223.07 225.2,223.07 226.5,223.07 227.8,223.07 229.11,223.07 230.41,223.07 231.72,223.07 233.02,223.07 234.32,223.07 235.63,223.07 236.93,223.07 238.24,223.07 239.54,223.07 240.84,223.07 242.15,223.07 243.45,223.07 244.76,223.07 246.06,223.07 247.36,223.07 248.67,223.07 249.97,223.07 251.28,223.07 252.58,223.07 253.88,223.07 255.19,223.07 256.49,223.07 257.8,223.07 259.1,223.07 260.4,223.07 261.71,223.07 263.01,223.07 264.32,223.07 265.62,223.07 266.92,223.07 268.23,223.07 269.53,223.07 270.84,223.07 272.14,223.07 273.44,223.07 274.75,223.07 276.05,223.07 277.36,223.07 278.66,223.07 279.96,223.07 281.27,223.07 282.57,223.07 283.88,223.07 285.18,223.07 286.48,223.07 287.79,223.07 289.09,223.07 290.4,223.07 291.7,223.07" fill="none" stroke="#3072b3" stroke-width="1.7" stroke-linejoin="round" stroke-opacity="0.12"/>
<polyline points="96.1,83.41 97.4,84.11 98.71,86.17 100.01,89.55 101.32,94.14 102.62,99.81 103.92,106.41 105.23,113.74 106.53,121.63 107.84,129.89 109.14,138.31 110.44,146.73 111.75,154.98 113.05,162.92 114.36,170.42 115.66,177.4 116.96,183.77 118.27,189.49 119.57,194.52 120.88,198.85 122.18,202.48 123.48,205.4 124.79,207.63 126.09,209.18 127.4,210.05 128.7,210.25 130,209.77 131.31,208.62 132.61,206.77 133.92,204.21 135.22,200.93 136.52,196.9 137.83,192.12 139.13,186.59 140.44,180.33 141.74,173.36 143.04,165.75 144.35,157.56 145.65,148.9 146.96,139.91 148.26,130.73 149.56,121.55 150.87,112.55 152.17,103.96 153.48,95.96 154.78,88.78 156.08,82.6 157.39,77.6 158.69,73.92 160,71.66 161.3,70.9 162.6,71.66 163.91,73.92 165.21,77.6 166.52,82.6 167.82,88.78 169.12,95.97 170.43,103.97 171.73,112.57 173.04,121.58 174.34,130.78 175.64,139.98 176.95,149 178.25,157.71 179.56,165.96 180.86,173.67 182.16,180.76 183.47,187.2 184.77,192.96 186.08,198.04 187.38,202.48 188.68,206.29 189.99,209.54 191.29,212.27 192.6,214.53 193.9,216.38 195.2,217.89 196.51,219.1 197.81,220.05 199.12,220.8 200.42,221.38 201.72,221.82 203.03,222.16 204.33,222.41 205.64,222.6 206.94,222.74 208.24,222.84 209.55,222.91 210.85,222.96 212.16,222.99 213.46,223.02 214.76,223.04 216.07,223.05 217.37,223.06 218.68,223.06 219.98,223.06 221.28,223.07 222.59,223.07 223.89,223.07 225.2,223.07 226.5,223.07 227.8,223.07 229.11,223.07 230.41,223.07 231.72,223.07 233.02,223.07 234.32,223.07 235.63,223.07 236.93,223.07 238.24,223.07 239.54,223.07 240.84,223.07 242.15,223.07 243.45,223.07 244.76,223.07 246.06,223.07 247.36,223.07 248.67,223.07 249.97,223.07 251.28,223.07 252.58,223.07 253.88,223.07 255.19,223.07 256.49,223.07 257.8,223.07 259.1,223.07 260.4,223.07 261.71,223.07 263.01,223.07 264.32,223.07 265.62,223.07 266.92,223.07 268.23,223.07 269.53,223.07 270.84,223.07 272.14,223.07 273.44,223.07 274.75,223.07 276.05,223.07 277.36,223.07 278.66,223.07 279.96,223.07 281.27,223.07 282.57,223.07 283.88,223.07 285.18,223.07 286.48,223.07 287.79,223.07 289.09,223.07 290.4,223.07 291.7,223.07" fill="none" stroke="#3072b3" stroke-width="1.7" stroke-linejoin="round" stroke-opacity="0.12"/>
<polyline points="96.1,66.29 97.4,67.07 98.71,69.39 100.01,73.19 101.32,78.34 102.62,84.71 103.92,92.11 105.23,100.35 106.53,109.21 107.84,118.47 109.14,127.93 110.44,137.39 111.75,146.66 113.05,155.58 114.36,164.02 115.66,171.88 116.96,179.06 118.27,185.53 119.57,191.24 120.88,196.18 122.18,200.35 123.48,203.77 124.79,206.45 126.09,208.41 127.4,209.67 128.7,210.25 130,210.15 131.31,209.39 132.61,207.95 133.92,205.84 135.22,203.05 136.52,199.57 137.83,195.41 139.13,190.56 140.44,185.04 141.74,178.88 143.04,172.14 144.35,164.89 145.65,157.22 146.96,149.25 148.26,141.11 149.56,132.96 150.87,124.98 152.17,117.35 153.48,110.26 154.78,103.88 156.08,98.4 157.39,93.96 158.69,90.69 160,88.69 161.3,88.02 162.6,88.7 163.91,90.7 165.21,93.96 166.52,98.4 167.82,103.89 169.12,110.27 170.43,117.37 171.73,125.01 173.04,133 174.34,141.16 175.64,149.32 176.95,157.34 178.25,165.06 179.56,172.39 180.86,179.23 182.16,185.52 183.47,191.23 184.77,196.34 186.08,200.86 187.38,204.79 188.68,208.18 189.99,211.06 191.29,213.48 192.6,215.49 193.9,217.14 195.2,218.47 196.51,219.54 197.81,220.39 199.12,221.05 200.42,221.57 201.72,221.96 203.03,222.26 204.33,222.49 205.64,222.65 206.94,222.77 208.24,222.86 209.55,222.93 210.85,222.97 212.16,223 213.46,223.02 214.76,223.04 216.07,223.05 217.37,223.06 218.68,223.06 219.98,223.06 221.28,223.07 222.59,223.07 223.89,223.07 225.2,223.07 226.5,223.07 227.8,223.07 229.11,223.07 230.41,223.07 231.72,223.07 233.02,223.07 234.32,223.07 235.63,223.07 236.93,223.07 238.24,223.07 239.54,223.07 240.84,223.07 242.15,223.07 243.45,223.07 244.76,223.07 246.06,223.07 247.36,223.07 248.67,223.07 249.97,223.07 251.28,223.07 252.58,223.07 253.88,223.07 255.19,223.07 256.49,223.07 257.8,223.07 259.1,223.07 260.4,223.07 261.71,223.07 263.01,223.07 264.32,223.07 265.62,223.07 266.92,223.07 268.23,223.07 269.53,223.07 270.84,223.07 272.14,223.07 273.44,223.07 274.75,223.07 276.05,223.07 277.36,223.07 278.66,223.07 279.96,223.07 281.27,223.07 282.57,223.07 283.88,223.07 285.18,223.07 286.48,223.07 287.79,223.07 289.09,223.07 290.4,223.07 291.7,223.07" fill="none" stroke="#3072b3" stroke-width="1.7" stroke-linejoin="round" stroke-opacity="0.12"/>
<polyline points="96.1,77.77 97.4,78.5 98.71,80.65 100.01,84.16 101.32,88.94 102.62,94.84 103.92,101.7 105.23,109.33 106.53,117.54 107.84,126.13 109.14,134.89 110.44,143.65 111.75,152.24 113.05,160.5 114.36,168.31 115.66,175.58 116.96,182.22 118.27,188.18 119.57,193.44 120.88,197.97 122.18,201.78 123.48,204.86 124.79,207.24 126.09,208.93 127.4,209.92 128.7,210.25 130,209.9 131.31,208.87 132.61,207.16 133.92,204.75 135.22,201.63 136.52,197.78 137.83,193.2 139.13,187.9 140.44,181.88 141.74,175.18 143.04,167.85 144.35,159.97 145.65,151.64 146.96,142.98 148.26,134.15 149.56,125.31 150.87,116.65 152.17,108.37 153.48,100.67 154.78,93.75 156.08,87.8 157.39,82.99 158.69,79.44 160,77.27 161.3,76.54 162.6,77.27 163.91,79.44 165.21,82.99 166.52,87.81 167.82,93.76 169.12,100.68 170.43,108.38 171.73,116.67 173.04,125.34 174.34,134.2 175.64,143.05 176.95,151.75 178.25,160.13 179.56,168.08 180.86,175.5 182.16,182.33 183.47,188.53 184.77,194.07 186.08,198.97 187.38,203.24 188.68,206.92 189.99,210.04 191.29,212.67 192.6,214.84 193.9,216.63 195.2,218.08 196.51,219.24 197.81,220.16 199.12,220.88 200.42,221.44 201.72,221.87 203.03,222.19 204.33,222.44 205.64,222.62 206.94,222.75 208.24,222.85 209.55,222.91 210.85,222.96 212.16,223 213.46,223.02 214.76,223.04 216.07,223.05 217.37,223.06 218.68,223.06 219.98,223.06 221.28,223.07 222.59,223.07 223.89,223.07 225.2,223.07 226.5,223.07 227.8,223.07 229.11,223.07 230.41,223.07 231.72,223.07 233.02,223.07 234.32,223.07 235.63,223.07 236.93,223.07 238.24,223.07 239.54,223.07 240.84,223.07 242.15,223.07 243.45,223.07 244.76,223.07 246.06,223.07 247.36,223.07 248.67,223.07 249.97,223.07 251.28,223.07 252.58,223.07 253.88,223.07 255.19,223.07 256.49,223.07 257.8,223.07 259.1,223.07 260.4,223.07 261.71,223.07 263.01,223.07 264.32,223.07 265.62,223.07 266.92,223.07 268.23,223.07 269.53,223.07 270.84,223.07 272.14,223.07 273.44,223.07 274.75,223.07 276.05,223.07 277.36,223.07 278.66,223.07 279.96,223.07 281.27,223.07 282.57,223.07 283.88,223.07 285.18,223.07 286.48,223.07 287.79,223.07 289.09,223.07 290.4,223.07 291.7,223.07" fill="none" stroke="#3072b3" stroke-width="1.7" stroke-linejoin="round" stroke-opacity="0.12"/>
<polyline points="96.1,61.73 97.4,62.53 98.71,64.92 100.01,68.82 101.32,74.13 102.62,80.68 103.92,88.3 105.23,96.77 106.53,105.89 107.84,115.43 109.14,125.17 110.44,134.9 111.75,144.44 113.05,153.62 114.36,162.32 115.66,170.4 116.96,177.81 118.27,184.47 119.57,190.36 120.88,195.46 122.18,199.79 123.48,203.33 124.79,206.13 126.09,208.21 127.4,209.57 128.7,210.25 130,210.25 131.31,209.59 132.61,208.27 133.92,206.28 135.22,203.62 136.52,200.29 137.83,196.28 139.13,191.61 140.44,186.29 141.74,180.36 143.04,173.85 144.35,166.85 145.65,159.44 146.96,151.74 148.26,143.87 149.56,136 150.87,128.3 152.17,120.92 153.48,114.07 154.78,107.91 156.08,102.61 157.39,98.33 158.69,95.17 160,93.24 161.3,92.59 162.6,93.24 163.91,95.17 165.21,98.33 166.52,102.62 167.82,107.92 169.12,114.08 170.43,120.94 171.73,128.32 173.04,136.04 174.34,143.93 175.64,151.82 176.95,159.56 178.25,167.02 179.56,174.1 180.86,180.71 182.16,186.79 183.47,192.31 184.77,197.25 186.08,201.61 187.38,205.41 188.68,208.68 189.99,211.47 191.29,213.8 192.6,215.75 193.9,217.34 195.2,218.63 196.51,219.66 197.81,220.48 199.12,221.12 200.42,221.62 201.72,222 203.03,222.29 204.33,222.51 205.64,222.67 206.94,222.78 208.24,222.87 209.55,222.93 210.85,222.97 212.16,223.01 213.46,223.03 214.76,223.04 216.07,223.05 217.37,223.06 218.68,223.06 219.98,223.06 221.28,223.07 222.59,223.07 223.89,223.07 225.2,223.07 226.5,223.07 227.8,223.07 229.11,223.07 230.41,223.07 231.72,223.07 233.02,223.07 234.32,223.07 235.63,223.07 236.93,223.07 238.24,223.07 239.54,223.07 240.84,223.07 242.15,223.07 243.45,223.07 244.76,223.07 246.06,223.07 247.36,223.07 248.67,223.07 249.97,223.07 251.28,223.07 252.58,223.07 253.88,223.07 255.19,223.07 256.49,223.07 257.8,223.07 259.1,223.07 260.4,223.07 261.71,223.07 263.01,223.07 264.32,223.07 265.62,223.07 266.92,223.07 268.23,223.07 269.53,223.07 270.84,223.07 272.14,223.07 273.44,223.07 274.75,223.07 276.05,223.07 277.36,223.07 278.66,223.07 279.96,223.07 281.27,223.07 282.57,223.07 283.88,223.07 285.18,223.07 286.48,223.07 287.79,223.07 289.09,223.07 290.4,223.07 291.7,223.07" fill="none" stroke="#3072b3" stroke-width="1.7" stroke-linejoin="round" stroke-opacity="0.12"/>
<polyline points="96.1,80.64 97.4,81.35 98.71,83.46 100.01,86.91 101.32,91.59 102.62,97.37 103.92,104.1 105.23,111.58 106.53,119.62 107.84,128.04 109.14,136.63 110.44,145.22 111.75,153.63 113.05,161.73 114.36,169.39 115.66,176.5 116.96,183.01 118.27,188.85 119.57,193.99 120.88,198.42 122.18,202.13 123.48,205.14 124.79,207.44 126.09,209.05 127.4,209.99 128.7,210.25 130,209.83 131.31,208.74 132.61,206.96 133.92,204.47 135.22,201.27 136.52,197.33 137.83,192.65 139.13,187.23 140.44,181.09 141.74,174.26 143.04,166.78 144.35,158.74 145.65,150.25 146.96,141.42 148.26,132.41 149.56,123.39 150.87,114.56 152.17,106.12 153.48,98.27 154.78,91.22 156.08,85.15 157.39,80.24 158.69,76.63 160,74.41 161.3,73.67 162.6,74.42 163.91,76.63 165.21,80.24 166.52,85.16 167.82,91.23 169.12,98.28 170.43,106.13 171.73,114.58 173.04,123.42 174.34,132.45 175.64,141.49 176.95,150.35 178.25,158.89 179.56,167 180.86,174.57 182.16,181.53 183.47,187.85 184.77,193.5 186.08,198.5 187.38,202.85 188.68,206.6 189.99,209.79 191.29,212.46 192.6,214.68 193.9,216.51 195.2,217.98 196.51,219.17 197.81,220.11 199.12,220.84 200.42,221.41 201.72,221.85 203.03,222.18 204.33,222.42 205.64,222.61 206.94,222.74 208.24,222.84 209.55,222.91 210.85,222.96 212.16,223 213.46,223.02 214.76,223.04 216.07,223.05 217.37,223.06 218.68,223.06 219.98,223.06 221.28,223.07 222.59,223.07 223.89,223.07 225.2,223.07 226.5,223.07 227.8,223.07 229.11,223.07 230.41,223.07 231.72,223.07 233.02,223.07 234.32,223.07 235.63,223.07 236.93,223.07 238.24,223.07 239.54,223.07 240.84,223.07 242.15,223.07 243.45,223.07 244.76,223.07 246.06,223.07 247.36,223.07 248.67,223.07 249.97,223.07 251.28,223.07 252.58,223.07 253.88,223.07 255.19,223.07 256.49,223.07 257.8,223.07 259.1,223.07 260.4,223.07 261.71,223.07 263.01,223.07 264.32,223.07 265.62,223.07 266.92,223.07 268.23,223.07 269.53,223.07 270.84,223.07 272.14,223.07 273.44,223.07 274.75,223.07 276.05,223.07 277.36,223.07 278.66,223.07 279.96,223.07 281.27,223.07 282.57,223.07 283.88,223.07 285.18,223.07 286.48,223.07 287.79,223.07 289.09,223.07 290.4,223.07 291.7,223.07" fill="none" stroke="#3072b3" stroke-width="1.7" stroke-linejoin="round" stroke-opacity="0.12"/>
<polyline points="96.1,73.83 97.4,74.57 98.71,76.78 100.01,80.39 101.32,85.3 102.62,91.36 103.92,98.4 105.23,106.24 106.53,114.68 107.84,123.5 109.14,132.5 110.44,141.5 111.75,150.32 113.05,158.81 114.36,166.84 115.66,174.31 116.96,181.13 118.27,187.27 119.57,192.68 120.88,197.36 122.18,201.29 123.48,204.49 124.79,206.97 126.09,208.75 127.4,209.84 128.7,210.25 130,209.98 131.31,209.05 132.61,207.43 133.92,205.12 135.22,202.12 136.52,198.4 137.83,193.96 139.13,188.81 140.44,182.97 141.74,176.45 143.04,169.33 144.35,161.66 145.65,153.56 146.96,145.13 148.26,136.54 149.56,127.94 150.87,119.51 152.17,111.46 153.48,103.97 154.78,97.24 156.08,91.45 157.39,86.76 158.69,83.31 160,81.2 161.3,80.49 162.6,81.2 163.91,83.31 165.21,86.76 166.52,91.45 167.82,97.24 169.12,103.97 170.43,111.47 171.73,119.53 173.04,127.97 174.34,136.59 175.64,145.21 176.95,153.67 178.25,161.82 179.56,169.56 180.86,176.78 182.16,183.43 183.47,189.46 184.77,194.85 186.08,199.62 187.38,203.77 188.68,207.35 189.99,210.39 191.29,212.95 192.6,215.07 193.9,216.81 195.2,218.22 196.51,219.35 197.81,220.24 199.12,220.94 200.42,221.49 201.72,221.9 203.03,222.22 204.33,222.45 205.64,222.63 206.94,222.76 208.24,222.85 209.55,222.92 210.85,222.97 212.16,223 213.46,223.02 214.76,223.04 216.07,223.05 217.37,223.06 218.68,223.06 219.98,223.06 221.28,223.07 222.59,223.07 223.89,223.07 225.2,223.07 226.5,223.07 227.8,223.07 229.11,223.07 230.41,223.07 231.72,223.07 233.02,223.07 234.32,223.07 235.63,223.07 236.93,223.07 238.24,223.07 239.54,223.07 240.84,223.07 242.15,223.07 243.45,223.07 244.76,223.07 246.06,223.07 247.36,223.07 248.67,223.07 249.97,223.07 251.28,223.07 252.58,223.07 253.88,223.07 255.19,223.07 256.49,223.07 257.8,223.07 259.1,223.07 260.4,223.07 261.71,223.07 263.01,223.07 264.32,223.07 265.62,223.07 266.92,223.07 268.23,223.07 269.53,223.07 270.84,223.07 272.14,223.07 273.44,223.07 274.75,223.07 276.05,223.07 277.36,223.07 278.66,223.07 279.96,223.07 281.27,223.07 282.57,223.07 283.88,223.07 285.18,223.07 286.48,223.07 287.79,223.07 289.09,223.07 290.4,223.07 291.7,223.07" fill="none" stroke="#3072b3" stroke-width="1.7" stroke-linejoin="round" stroke-opacity="0.12"/>
<polyline points="96.1,63.79 97.4,64.59 98.71,66.95 100.01,70.8 101.32,76.04 102.62,82.5 103.92,90.02 105.23,98.39 106.53,107.39 107.84,116.81 109.14,126.42 110.44,136.03 111.75,145.45 113.05,154.51 114.36,163.09 115.66,171.07 116.96,178.38 118.27,184.95 119.57,190.76 120.88,195.79 122.18,200.04 123.48,203.53 124.79,206.28 126.09,208.3 127.4,209.62 128.7,210.25 130,210.21 131.31,209.5 132.61,208.12 133.92,206.08 135.22,203.36 136.52,199.96 137.83,195.89 139.13,191.13 140.44,185.72 141.74,179.69 143.04,173.08 144.35,165.96 145.65,158.43 146.96,150.61 148.26,142.62 149.56,134.63 150.87,126.79 152.17,119.31 153.48,112.34 154.78,106.09 156.08,100.71 157.39,96.35 158.69,93.14 160,91.18 161.3,90.52 162.6,91.18 163.91,93.14 165.21,96.35 166.52,100.71 167.82,106.09 169.12,112.35 170.43,119.32 171.73,126.82 173.04,134.66 174.34,142.67 175.64,150.69 176.95,158.55 178.25,166.13 179.56,173.32 180.86,180.04 182.16,186.22 183.47,191.82 184.77,196.84 186.08,201.27 187.38,205.13 188.68,208.46 189.99,211.28 191.29,213.66 192.6,215.63 193.9,217.25 195.2,218.56 196.51,219.61 197.81,220.44 199.12,221.09 200.42,221.6 201.72,221.98 203.03,222.28 204.33,222.5 205.64,222.66 206.94,222.78 208.24,222.87 209.55,222.93 210.85,222.97 212.16,223 213.46,223.03 214.76,223.04 216.07,223.05 217.37,223.06 218.68,223.06 219.98,223.06 221.28,223.07 222.59,223.07 223.89,223.07 225.2,223.07 226.5,223.07 227.8,223.07 229.11,223.07 230.41,223.07 231.72,223.07 233.02,223.07 234.32,223.07 235.63,223.07 236.93,223.07 238.24,223.07 239.54,223.07 240.84,223.07 242.15,223.07 243.45,223.07 244.76,223.07 246.06,223.07 247.36,223.07 248.67,223.07 249.97,223.07 251.28,223.07 252.58,223.07 253.88,223.07 255.19,223.07 256.49,223.07 257.8,223.07 259.1,223.07 260.4,223.07 261.71,223.07 263.01,223.07 264.32,223.07 265.62,223.07 266.92,223.07 268.23,223.07 269.53,223.07 270.84,223.07 272.14,223.07 273.44,223.07 274.75,223.07 276.05,223.07 277.36,223.07 278.66,223.07 279.96,223.07 281.27,223.07 282.57,223.07 283.88,223.07 285.18,223.07 286.48,223.07 287.79,223.07 289.09,223.07 290.4,223.07 291.7,223.07" fill="none" stroke="#3072b3" stroke-width="1.7" stroke-linejoin="round" stroke-opacity="0.12"/>
<polyline points="96.1,63.97 97.4,64.76 98.71,67.12 100.01,70.97 101.32,76.2 102.62,82.66 103.92,90.17 105.23,98.53 106.53,107.52 107.84,116.92 109.14,126.53 110.44,136.12 111.75,145.53 113.05,154.59 114.36,163.15 115.66,171.13 116.96,178.42 118.27,184.99 119.57,190.79 120.88,195.82 122.18,200.06 123.48,203.55 124.79,206.29 126.09,208.31 127.4,209.62 128.7,210.25 130,210.2 131.31,209.49 132.61,208.11 133.92,206.06 135.22,203.34 136.52,199.94 137.83,195.85 139.13,191.09 140.44,185.68 141.74,179.63 143.04,173.01 144.35,165.89 145.65,158.35 146.96,150.51 148.26,142.51 149.56,134.51 150.87,126.67 152.17,119.17 153.48,112.2 154.78,105.93 156.08,100.55 157.39,96.18 158.69,92.97 160,91.01 161.3,90.34 162.6,91.01 163.91,92.97 165.21,96.18 166.52,100.55 167.82,105.94 169.12,112.21 170.43,119.19 171.73,126.69 173.04,134.55 174.34,142.57 175.64,150.59 176.95,158.47 178.25,166.06 179.56,173.26 180.86,179.98 182.16,186.17 183.47,191.78 184.77,196.8 186.08,201.24 187.38,205.11 188.68,208.44 189.99,211.27 191.29,213.65 192.6,215.62 193.9,217.24 195.2,218.55 196.51,219.6 197.81,220.44 199.12,221.09 200.42,221.6 201.72,221.98 203.03,222.28 204.33,222.5 205.64,222.66 206.94,222.78 208.24,222.87 209.55,222.93 210.85,222.97 212.16,223 213.46,223.03 214.76,223.04 216.07,223.05 217.37,223.06 218.68,223.06 219.98,223.06 221.28,223.07 222.59,223.07 223.89,223.07 225.2,223.07 226.5,223.07 227.8,223.07 229.11,223.07 230.41,223.07 231.72,223.07 233.02,223.07 234.32,223.07 235.63,223.07 236.93,223.07 238.24,223.07 239.54,223.07 240.84,223.07 242.15,223.07 243.45,223.07 244.76,223.07 246.06,223.07 247.36,223.07 248.67,223.07 249.97,223.07 251.28,223.07 252.58,223.07 253.88,223.07 255.19,223.07 256.49,223.07 257.8,223.07 259.1,223.07 260.4,223.07 261.71,223.07 263.01,223.07 264.32,223.07 265.62,223.07 266.92,223.07 268.23,223.07 269.53,223.07 270.84,223.07 272.14,223.07 273.44,223.07 274.75,223.07 276.05,223.07 277.36,223.07 278.66,223.07 279.96,223.07 281.27,223.07 282.57,223.07 283.88,223.07 285.18,223.07 286.48,223.07 287.79,223.07 289.09,223.07 290.4,223.07 291.7,223.07" fill="none" stroke="#3072b3" stroke-width="1.7" stroke-linejoin="round" stroke-opacity="0.12"/>
<polyline points="96.1,71.6 97.4,72.36 98.71,74.6 100.01,78.26 101.32,83.24 102.62,89.39 103.92,96.54 105.23,104.5 106.53,113.06 107.84,122.01 109.14,131.15 110.44,140.29 111.75,149.24 113.05,157.86 114.36,166.01 115.66,173.59 116.96,180.52 118.27,186.76 119.57,192.26 120.88,197.01 122.18,201.01 123.48,204.28 124.79,206.82 126.09,208.65 127.4,209.79 128.7,210.25 130,210.03 131.31,209.15 132.61,207.58 133.92,205.34 135.22,202.39 136.52,198.74 137.83,194.39 139.13,189.33 140.44,183.58 141.74,177.17 143.04,170.16 144.35,162.62 145.65,154.64 146.96,146.35 148.26,137.89 149.56,129.42 150.87,121.13 152.17,113.2 153.48,105.82 154.78,99.2 156.08,93.5 157.39,88.89 158.69,85.49 160,83.41 161.3,82.71 162.6,83.41 163.91,85.49 165.21,88.89 166.52,93.5 167.82,99.21 169.12,105.83 170.43,113.21 171.73,121.15 173.04,129.46 174.34,137.94 175.64,146.42 176.95,154.75 178.25,162.78 179.56,170.39 180.86,177.5 182.16,184.05 183.47,189.98 184.77,195.29 186.08,199.98 187.38,204.07 188.68,207.6 189.99,210.59 191.29,213.1 192.6,215.19 193.9,216.9 195.2,218.29 196.51,219.4 197.81,220.29 199.12,220.98 200.42,221.51 201.72,221.92 203.03,222.23 204.33,222.46 205.64,222.64 206.94,222.76 208.24,222.85 209.55,222.92 210.85,222.97 212.16,223 213.46,223.02 214.76,223.04 216.07,223.05 217.37,223.06 218.68,223.06 219.98,223.06 221.28,223.07 222.59,223.07 223.89,223.07 225.2,223.07 226.5,223.07 227.8,223.07 229.11,223.07 230.41,223.07 231.72,223.07 233.02,223.07 234.32,223.07 235.63,223.07 236.93,223.07 238.24,223.07 239.54,223.07 240.84,223.07 242.15,223.07 243.45,223.07 244.76,223.07 246.06,223.07 247.36,223.07 248.67,223.07 249.97,223.07 251.28,223.07 252.58,223.07 253.88,223.07 255.19,223.07 256.49,223.07 257.8,223.07 259.1,223.07 260.4,223.07 261.71,223.07 263.01,223.07 264.32,223.07 265.62,223.07 266.92,223.07 268.23,223.07 269.53,223.07 270.84,223.07 272.14,223.07 273.44,223.07 274.75,223.07 276.05,223.07 277.36,223.07 278.66,223.07 279.96,223.07 281.27,223.07 282.57,223.07 283.88,223.07 285.18,223.07 286.48,223.07 287.79,223.07 289.09,223.07 290.4,223.07 291.7,223.07" fill="none" stroke="#3072b3" stroke-width="1.7" stroke-linejoin="round" stroke-opacity="0.12"/>
<polyline points="96.1,74.81 97.4,75.55 98.71,77.75 100.01,81.33 101.32,86.21 102.62,92.23 103.92,99.23 105.23,107.01 106.53,115.39 107.84,124.15 109.14,133.1 110.44,142.04 111.75,150.8 113.05,159.23 114.36,167.21 115.66,174.62 116.96,181.41 118.27,187.5 119.57,192.87 120.88,197.51 122.18,201.41 123.48,204.58 124.79,207.04 126.09,208.79 127.4,209.86 128.7,210.25 130,209.96 131.31,209 132.61,207.36 133.92,205.03 135.22,201.99 136.52,198.24 137.83,193.77 139.13,188.58 140.44,182.69 141.74,176.14 143.04,168.96 144.35,161.24 145.65,153.08 146.96,144.6 148.26,135.94 149.56,127.28 150.87,118.8 152.17,110.68 153.48,103.14 154.78,96.37 156.08,90.54 157.39,85.82 158.69,82.34 160,80.22 161.3,79.5 162.6,80.22 163.91,82.34 165.21,85.82 166.52,90.54 167.82,96.37 169.12,103.15 170.43,110.7 171.73,118.82 173.04,127.31 174.34,135.99 175.64,144.67 176.95,153.19 178.25,161.4 179.56,169.19 180.86,176.46 182.16,183.15 183.47,189.22 184.77,194.66 186.08,199.46 187.38,203.64 188.68,207.24 189.99,210.3 191.29,212.88 192.6,215.01 193.9,216.76 195.2,218.18 196.51,219.32 197.81,220.22 199.12,220.93 200.42,221.48 201.72,221.89 203.03,222.21 204.33,222.45 205.64,222.63 206.94,222.76 208.24,222.85 209.55,222.92 210.85,222.96 212.16,223 213.46,223.02 214.76,223.04 216.07,223.05 217.37,223.06 218.68,223.06 219.98,223.06 221.28,223.07 222.59,223.07 223.89,223.07 225.2,223.07 226.5,223.07 227.8,223.07 229.11,223.07 230.41,223.07 231.72,223.07 233.02,223.07 234.32,223.07 235.63,223.07 236.93,223.07 238.24,223.07 239.54,223.07 240.84,223.07 242.15,223.07 243.45,223.07 244.76,223.07 246.06,223.07 247.36,223.07 248.67,223.07 249.97,223.07 251.28,223.07 252.58,223.07 253.88,223.07 255.19,223.07 256.49,223.07 257.8,223.07 259.1,223.07 260.4,223.07 261.71,223.07 263.01,223.07 264.32,223.07 265.62,223.07 266.92,223.07 268.23,223.07 269.53,223.07 270.84,223.07 272.14,223.07 273.44,223.07 274.75,223.07 276.05,223.07 277.36,223.07 278.66,223.07 279.96,223.07 281.27,223.07 282.57,223.07 283.88,223.07 285.18,223.07 286.48,223.07 287.79,223.07 289.09,223.07 290.4,223.07 291.7,223.07" fill="none" stroke="#3072b3" stroke-width="1.7" stroke-linejoin="round" stroke-opacity="0.12"/>
<polyline points="96.1,84.28 97.4,84.97 98.71,87.03 100.01,90.39 101.32,94.95 102.62,100.58 103.92,107.13 105.23,114.42 106.53,122.27 107.84,130.47 109.14,138.84 110.44,147.2 111.75,155.4 113.05,163.29 114.36,170.75 115.66,177.68 116.96,184.01 118.27,189.69 119.57,194.69 120.88,198.99 122.18,202.59 123.48,205.49 124.79,207.69 126.09,209.22 127.4,210.07 128.7,210.25 130,209.75 131.31,208.58 132.61,206.71 133.92,204.13 135.22,200.82 136.52,196.76 137.83,191.95 139.13,186.39 140.44,180.09 141.74,173.08 143.04,165.42 144.35,157.18 145.65,148.48 146.96,139.43 148.26,130.2 149.56,120.97 150.87,111.92 152.17,103.27 153.48,95.23 154.78,88.01 156.08,81.8 157.39,76.76 158.69,73.06 160,70.79 161.3,70.03 162.6,70.8 163.91,73.06 165.21,76.77 166.52,81.8 167.82,88.01 169.12,95.24 170.43,103.29 171.73,111.94 173.04,121 174.34,130.25 175.64,139.5 176.95,148.58 178.25,157.33 179.56,165.63 180.86,173.39 182.16,180.52 183.47,186.99 184.77,192.78 186.08,197.9 187.38,202.36 188.68,206.2 189.99,209.46 191.29,212.2 192.6,214.48 193.9,216.35 195.2,217.86 196.51,219.07 197.81,220.03 199.12,220.79 200.42,221.37 201.72,221.82 203.03,222.16 204.33,222.41 205.64,222.6 206.94,222.74 208.24,222.84 209.55,222.91 210.85,222.96 212.16,222.99 213.46,223.02 214.76,223.04 216.07,223.05 217.37,223.06 218.68,223.06 219.98,223.06 221.28,223.07 222.59,223.07 223.89,223.07 225.2,223.07 226.5,223.07 227.8,223.07 229.11,223.07 230.41,223.07 231.72,223.07 233.02,223.07 234.32,223.07 235.63,223.07 236.93,223.07 238.24,223.07 239.54,223.07 240.84,223.07 242.15,223.07 243.45,223.07 244.76,223.07 246.06,223.07 247.36,223.07 248.67,223.07 249.97,223.07 251.28,223.07 252.58,223.07 253.88,223.07 255.19,223.07 256.49,223.07 257.8,223.07 259.1,223.07 260.4,223.07 261.71,223.07 263.01,223.07 264.32,223.07 265.62,223.07 266.92,223.07 268.23,223.07 269.53,223.07 270.84,223.07 272.14,223.07 273.44,223.07 274.75,223.07 276.05,223.07 277.36,223.07 278.66,223.07 279.96,223.07 281.27,223.07 282.57,223.07 283.88,223.07 285.18,223.07 286.48,223.07 287.79,223.07 289.09,223.07 290.4,223.07 291.7,223.07" fill="none" stroke="#3072b3" stroke-width="1.7" stroke-linejoin="round" stroke-opacity="0.12"/>
<polyline points="96.1,72.48 97.4,73.23 98.71,75.46 100.01,79.1 101.32,84.05 102.62,90.17 103.92,97.28 105.23,105.19 106.53,113.7 107.84,122.6 109.14,131.68 110.44,140.76 111.75,149.67 113.05,158.23 114.36,166.33 115.66,173.87 116.96,180.76 118.27,186.96 119.57,192.42 120.88,197.14 122.18,201.12 123.48,204.36 124.79,206.88 126.09,208.69 127.4,209.81 128.7,210.25 130,210.01 131.31,209.11 132.61,207.52 133.92,205.25 135.22,202.28 136.52,198.61 137.83,194.22 139.13,189.12 140.44,183.34 141.74,176.89 143.04,169.83 144.35,162.24 145.65,154.21 146.96,145.87 148.26,137.36 149.56,128.84 150.87,120.49 152.17,112.51 153.48,105.09 154.78,98.43 156.08,92.69 157.39,88.05 158.69,84.63 160,82.54 161.3,81.84 162.6,82.54 163.91,84.63 165.21,88.05 166.52,92.69 167.82,98.43 169.12,105.1 170.43,112.53 171.73,120.51 173.04,128.87 174.34,137.41 175.64,145.95 176.95,154.32 178.25,162.4 179.56,170.06 180.86,177.22 182.16,183.8 183.47,189.77 184.77,195.12 186.08,199.84 187.38,203.96 188.68,207.5 189.99,210.51 191.29,213.04 192.6,215.14 193.9,216.86 195.2,218.26 196.51,219.38 197.81,220.27 199.12,220.96 200.42,221.5 201.72,221.91 203.03,222.23 204.33,222.46 205.64,222.63 206.94,222.76 208.24,222.85 209.55,222.92 210.85,222.97 212.16,223 213.46,223.02 214.76,223.04 216.07,223.05 217.37,223.06 218.68,223.06 219.98,223.06 221.28,223.07 222.59,223.07 223.89,223.07 225.2,223.07 226.5,223.07 227.8,223.07 229.11,223.07 230.41,223.07 231.72,223.07 233.02,223.07 234.32,223.07 235.63,223.07 236.93,223.07 238.24,223.07 239.54,223.07 240.84,223.07 242.15,223.07 243.45,223.07 244.76,223.07 246.06,223.07 247.36,223.07 248.67,223.07 249.97,223.07 251.28,223.07 252.58,223.07 253.88,223.07 255.19,223.07 256.49,223.07 257.8,223.07 259.1,223.07 260.4,223.07 261.71,223.07 263.01,223.07 264.32,223.07 265.62,223.07 266.92,223.07 268.23,223.07 269.53,223.07 270.84,223.07 272.14,223.07 273.44,223.07 274.75,223.07 276.05,223.07 277.36,223.07 278.66,223.07 279.96,223.07 281.27,223.07 282.57,223.07 283.88,223.07 285.18,223.07 286.48,223.07 287.79,223.07 289.09,223.07 290.4,223.07 291.7,223.07" fill="none" stroke="#3072b3" stroke-width="1.7" stroke-linejoin="round" stroke-opacity="0.12"/>
<polyline points="96.1,68.23 97.4,69 98.71,71.3 100.01,75.04 101.32,80.13 102.62,86.42 103.92,93.73 105.23,101.86 106.53,110.61 107.84,119.77 109.14,129.11 110.44,138.45 111.75,147.6 113.05,156.41 114.36,164.75 115.66,172.5 116.96,179.6 118.27,185.98 119.57,191.61 120.88,196.48 122.18,200.59 123.48,203.96 124.79,206.58 126.09,208.5 127.4,209.71 128.7,210.25 130,210.11 131.31,209.3 132.61,207.82 133.92,205.66 135.22,202.81 136.52,199.27 137.83,195.03 139.13,190.11 140.44,184.5 141.74,178.26 143.04,171.42 144.35,164.06 145.65,156.28 146.96,148.19 148.26,139.93 149.56,131.67 150.87,123.57 152.17,115.83 153.48,108.64 154.78,102.17 156.08,96.61 157.39,92.11 158.69,88.79 160,86.76 161.3,86.08 162.6,86.76 163.91,88.79 165.21,92.11 166.52,96.61 167.82,102.18 169.12,108.65 170.43,115.85 171.73,123.6 173.04,131.7 174.34,139.98 175.64,148.26 176.95,156.39 178.25,164.23 179.56,171.66 180.86,178.6 182.16,184.98 183.47,190.78 184.77,195.96 186.08,200.54 187.38,204.53 188.68,207.97 189.99,210.89 191.29,213.34 192.6,215.38 193.9,217.05 195.2,218.41 196.51,219.49 197.81,220.35 199.12,221.03 200.42,221.55 201.72,221.95 203.03,222.25 204.33,222.48 205.64,222.65 206.94,222.77 208.24,222.86 209.55,222.92 210.85,222.97 212.16,223 213.46,223.02 214.76,223.04 216.07,223.05 217.37,223.06 218.68,223.06 219.98,223.06 221.28,223.07 222.59,223.07 223.89,223.07 225.2,223.07 226.5,223.07 227.8,223.07 229.11,223.07 230.41,223.07 231.72,223.07 233.02,223.07 234.32,223.07 235.63,223.07 236.93,223.07 238.24,223.07 239.54,223.07 240.84,223.07 242.15,223.07 243.45,223.07 244.76,223.07 246.06,223.07 247.36,223.07 248.67,223.07 249.97,223.07 251.28,223.07 252.58,223.07 253.88,223.07 255.19,223.07 256.49,223.07 257.8,223.07 259.1,223.07 260.4,223.07 261.71,223.07 263.01,223.07 264.32,223.07 265.62,223.07 266.92,223.07 268.23,223.07 269.53,223.07 270.84,223.07 272.14,223.07 273.44,223.07 274.75,223.07 276.05,223.07 277.36,223.07 278.66,223.07 279.96,223.07 281.27,223.07 282.57,223.07 283.88,223.07 285.18,223.07 286.48,223.07 287.79,223.07 289.09,223.07 290.4,223.07 291.7,223.07" fill="none" stroke="#3072b3" stroke-width="1.7" stroke-linejoin="round" stroke-opacity="0.12"/>
<polyline points="96.1,84.49 97.4,85.18 98.71,87.23 100.01,90.58 101.32,95.14 102.62,100.76 103.92,107.31 105.23,114.59 106.53,122.42 107.84,130.6 109.14,138.96 110.44,147.32 111.75,155.5 113.05,163.38 114.36,170.82 115.66,177.74 116.96,184.07 118.27,189.74 119.57,194.73 120.88,199.02 122.18,202.61 123.48,205.5 124.79,207.71 126.09,209.23 127.4,210.07 128.7,210.25 130,209.75 131.31,208.57 132.61,206.69 133.92,204.11 135.22,200.79 136.52,196.73 137.83,191.92 139.13,186.35 140.44,180.03 141.74,173.02 143.04,165.34 144.35,157.1 145.65,148.38 146.96,139.32 148.26,130.08 149.56,120.83 150.87,111.77 152.17,103.11 153.48,95.06 154.78,87.83 156.08,81.61 157.39,76.57 158.69,72.86 160,70.59 161.3,69.83 162.6,70.59 163.91,72.86 165.21,76.57 166.52,81.61 167.82,87.83 169.12,95.07 170.43,103.13 171.73,111.79 173.04,120.86 174.34,130.12 175.64,139.39 176.95,148.48 178.25,157.24 179.56,165.56 180.86,173.32 182.16,180.46 183.47,186.94 184.77,192.74 186.08,197.87 187.38,202.33 188.68,206.17 189.99,209.44 191.29,212.19 192.6,214.47 193.9,216.34 195.2,217.85 196.51,219.07 197.81,220.03 199.12,220.78 200.42,221.37 201.72,221.82 203.03,222.15 204.33,222.41 205.64,222.6 206.94,222.73 208.24,222.83 209.55,222.91 210.85,222.96 212.16,222.99 213.46,223.02 214.76,223.04 216.07,223.05 217.37,223.06 218.68,223.06 219.98,223.06 221.28,223.07 222.59,223.07 223.89,223.07 225.2,223.07 226.5,223.07 227.8,223.07 229.11,223.07 230.41,223.07 231.72,223.07 233.02,223.07 234.32,223.07 235.63,223.07 236.93,223.07 238.24,223.07 239.54,223.07 240.84,223.07 242.15,223.07 243.45,223.07 244.76,223.07 246.06,223.07 247.36,223.07 248.67,223.07 249.97,223.07 251.28,223.07 252.58,223.07 253.88,223.07 255.19,223.07 256.49,223.07 257.8,223.07 259.1,223.07 260.4,223.07 261.71,223.07 263.01,223.07 264.32,223.07 265.62,223.07 266.92,223.07 268.23,223.07 269.53,223.07 270.84,223.07 272.14,223.07 273.44,223.07 274.75,223.07 276.05,223.07 277.36,223.07 278.66,223.07 279.96,223.07 281.27,223.07 282.57,223.07 283.88,223.07 285.18,223.07 286.48,223.07 287.79,223.07 289.09,223.07 290.4,223.07 291.7,223.07" fill="none" stroke="#3072b3" stroke-width="1.7" stroke-linejoin="round" stroke-opacity="0.12"/>
<polyline points="96.1,64.01 97.4,64.8 98.71,67.16 100.01,71.01 101.32,76.24 102.62,82.7 103.92,90.21 105.23,98.56 106.53,107.55 107.84,116.95 109.14,126.55 110.44,136.15 111.75,145.55 113.05,154.6 114.36,163.17 115.66,171.14 116.96,178.44 118.27,185 119.57,190.8 120.88,195.82 122.18,200.07 123.48,203.55 124.79,206.29 126.09,208.31 127.4,209.62 128.7,210.25 130,210.2 131.31,209.49 132.61,208.11 133.92,206.06 135.22,203.33 136.52,199.93 137.83,195.84 139.13,191.08 140.44,185.66 141.74,179.62 143.04,173 144.35,165.87 145.65,158.33 146.96,150.49 148.26,142.49 149.56,134.48 150.87,126.64 152.17,119.14 153.48,112.16 154.78,105.9 156.08,100.51 157.39,96.14 158.69,92.93 160,90.96 161.3,90.3 162.6,90.96 163.91,92.93 165.21,96.14 166.52,100.51 167.82,105.9 169.12,112.17 170.43,119.15 171.73,126.66 173.04,134.52 174.34,142.54 175.64,150.57 176.95,158.44 178.25,166.04 179.56,173.24 180.86,179.97 182.16,186.16 183.47,191.77 184.77,196.8 186.08,201.23 187.38,205.1 188.68,208.43 189.99,211.26 191.29,213.64 192.6,215.62 193.9,217.24 195.2,218.55 196.51,219.6 197.81,220.44 199.12,221.09 200.42,221.6 201.72,221.98 203.03,222.28 204.33,222.5 205.64,222.66 206.94,222.78 208.24,222.87 209.55,222.93 210.85,222.97 212.16,223 213.46,223.03 214.76,223.04 216.07,223.05 217.37,223.06 218.68,223.06 219.98,223.06 221.28,223.07 222.59,223.07 223.89,223.07 225.2,223.07 226.5,223.07 227.8,223.07 229.11,223.07 230.41,223.07 231.72,223.07 233.02,223.07 234.32,223.07 235.63,223.07 236.93,223.07 238.24,223.07 239.54,223.07 240.84,223.07 242.15,223.07 243.45,223.07 244.76,223.07 246.06,223.07 247.36,223.07 248.67,223.07 249.97,223.07 251.28,223.07 252.58,223.07 253.88,223.07 255.19,223.07 256.49,223.07 257.8,223.07 259.1,223.07 260.4,223.07 261.71,223.07 263.01,223.07 264.32,223.07 265.62,223.07 266.92,223.07 268.23,223.07 269.53,223.07 270.84,223.07 272.14,223.07 273.44,223.07 274.75,223.07 276.05,223.07 277.36,223.07 278.66,223.07 279.96,223.07 281.27,223.07 282.57,223.07 283.88,223.07 285.18,223.07 286.48,223.07 287.79,223.07 289.09,223.07 290.4,223.07 291.7,223.07" fill="none" stroke="#3072b3" stroke-width="1.7" stroke-linejoin="round" stroke-opacity="0.12"/>
<polyline points="96.1,73.08 97.4,73.83 98.71,76.05 100.01,79.68 101.32,84.61 102.62,90.7 103.92,97.78 105.23,105.66 106.53,114.13 107.84,123 109.14,132.05 110.44,141.09 111.75,149.96 113.05,158.49 114.36,166.56 115.66,174.07 116.96,180.93 118.27,187.1 119.57,192.54 120.88,197.24 122.18,201.2 123.48,204.42 124.79,206.92 126.09,208.71 127.4,209.82 128.7,210.25 130,210 131.31,209.08 132.61,207.48 133.92,205.19 135.22,202.21 136.52,198.51 137.83,194.1 139.13,188.98 140.44,183.17 141.74,176.69 143.04,169.61 144.35,161.98 145.65,153.92 146.96,145.54 148.26,136.99 149.56,128.43 150.87,120.05 152.17,112.04 153.48,104.59 154.78,97.89 156.08,92.13 157.39,87.47 158.69,84.04 160,81.94 161.3,81.23 162.6,81.94 163.91,84.04 165.21,87.47 166.52,92.14 167.82,97.9 169.12,104.6 170.43,112.05 171.73,120.08 173.04,128.47 174.34,137.04 175.64,145.62 176.95,154.03 178.25,162.14 179.56,169.84 180.86,177.02 182.16,183.63 183.47,189.63 184.77,195 186.08,199.74 187.38,203.87 188.68,207.43 189.99,210.46 191.29,213 192.6,215.11 193.9,216.84 195.2,218.24 196.51,219.37 197.81,220.26 199.12,220.95 200.42,221.49 201.72,221.91 203.03,222.22 204.33,222.46 205.64,222.63 206.94,222.76 208.24,222.85 209.55,222.92 210.85,222.97 212.16,223 213.46,223.02 214.76,223.04 216.07,223.05 217.37,223.06 218.68,223.06 219.98,223.06 221.28,223.07 222.59,223.07 223.89,223.07 225.2,223.07 226.5,223.07 227.8,223.07 229.11,223.07 230.41,223.07 231.72,223.07 233.02,223.07 234.32,223.07 235.63,223.07 236.93,223.07 238.24,223.07 239.54,223.07 240.84,223.07 242.15,223.07 243.45,223.07 244.76,223.07 246.06,223.07 247.36,223.07 248.67,223.07 249.97,223.07 251.28,223.07 252.58,223.07 253.88,223.07 255.19,223.07 256.49,223.07 257.8,223.07 259.1,223.07 260.4,223.07 261.71,223.07 263.01,223.07 264.32,223.07 265.62,223.07 266.92,223.07 268.23,223.07 269.53,223.07 270.84,223.07 272.14,223.07 273.44,223.07 274.75,223.07 276.05,223.07 277.36,223.07 278.66,223.07 279.96,223.07 281.27,223.07 282.57,223.07 283.88,223.07 285.18,223.07 286.48,223.07 287.79,223.07 289.09,223.07 290.4,223.07 291.7,223.07" fill="none" stroke="#3072b3" stroke-width="1.7" stroke-linejoin="round" stroke-opacity="0.12"/>
<polyline points="96.1,89.52 97.4,90.19 98.71,92.16 100.01,95.39 101.32,99.78 102.62,105.21 103.92,111.51 105.23,118.52 106.53,126.07 107.84,133.96 109.14,142.01 110.44,150.06 111.75,157.95 113.05,165.53 114.36,172.7 115.66,179.37 116.96,185.45 118.27,190.9 119.57,195.69 120.88,199.81 122.18,203.24 123.48,205.98 124.79,208.05 126.09,209.45 127.4,210.18 128.7,210.25 130,209.64 131.31,208.34 132.61,206.35 133.92,203.63 135.22,200.17 136.52,195.94 137.83,190.95 139.13,185.18 140.44,178.65 141.74,171.39 143.04,163.46 144.35,154.94 145.65,145.93 146.96,136.57 148.26,127.03 149.56,117.47 150.87,108.12 152.17,99.17 153.48,90.86 154.78,83.39 156.08,76.96 157.39,71.76 158.69,67.93 160,65.58 161.3,64.79 162.6,65.58 163.91,67.93 165.21,71.76 166.52,76.96 167.82,83.39 169.12,90.87 170.43,99.19 171.73,108.14 173.04,117.5 174.34,127.07 175.64,136.64 176.95,146.03 178.25,155.08 179.56,163.67 180.86,171.69 182.16,179.06 183.47,185.76 184.77,191.75 186.08,197.04 187.38,201.65 188.68,205.62 189.99,209 191.29,211.83 192.6,214.19 193.9,216.12 195.2,217.68 196.51,218.94 197.81,219.93 199.12,220.71 200.42,221.31 201.72,221.77 203.03,222.12 204.33,222.39 205.64,222.58 206.94,222.72 208.24,222.83 209.55,222.9 210.85,222.95 212.16,222.99 213.46,223.02 214.76,223.03 216.07,223.05 217.37,223.05 218.68,223.06 219.98,223.06 221.28,223.07 222.59,223.07 223.89,223.07 225.2,223.07 226.5,223.07 227.8,223.07 229.11,223.07 230.41,223.07 231.72,223.07 233.02,223.07 234.32,223.07 235.63,223.07 236.93,223.07 238.24,223.07 239.54,223.07 240.84,223.07 242.15,223.07 243.45,223.07 244.76,223.07 246.06,223.07 247.36,223.07 248.67,223.07 249.97,223.07 251.28,223.07 252.58,223.07 253.88,223.07 255.19,223.07 256.49,223.07 257.8,223.07 259.1,223.07 260.4,223.07 261.71,223.07 263.01,223.07 264.32,223.07 265.62,223.07 266.92,223.07 268.23,223.07 269.53,223.07 270.84,223.07 272.14,223.07 273.44,223.07 274.75,223.07 276.05,223.07 277.36,223.07 278.66,223.07 279.96,223.07 281.27,223.07 282.57,223.07 283.88,223.07 285.18,223.07 286.48,223.07 287.79,223.07 289.09,223.07 290.4,223.07 291.7,223.07" fill="none" stroke="#3072b3" stroke-width="1.7" stroke-linejoin="round" stroke-opacity="0.12"/>
<polyline points="96.1,85.54 97.4,86.23 98.71,88.27 100.01,91.59 101.32,96.11 102.62,101.7 103.92,108.19 105.23,115.41 106.53,123.18 107.84,131.31 109.14,139.61 110.44,147.89 111.75,156.02 113.05,163.83 114.36,171.22 115.66,178.08 116.96,184.36 118.27,189.98 119.57,194.93 120.88,199.19 122.18,202.74 123.48,205.61 124.79,207.78 126.09,209.27 127.4,210.1 128.7,210.25 130,209.73 131.31,208.52 132.61,206.62 133.92,204.01 135.22,200.66 136.52,196.57 137.83,191.71 139.13,186.1 140.44,179.74 141.74,172.67 143.04,164.95 144.35,156.64 145.65,147.86 146.96,138.74 148.26,129.44 149.56,120.12 150.87,111 152.17,102.28 153.48,94.18 154.78,86.89 156.08,80.63 157.39,75.56 158.69,71.82 160,69.54 161.3,68.77 162.6,69.54 163.91,71.82 165.21,75.56 166.52,80.63 167.82,86.9 169.12,94.19 170.43,102.3 171.73,111.02 173.04,120.15 174.34,129.48 175.64,138.81 176.95,147.96 178.25,156.79 179.56,165.16 180.86,172.98 182.16,180.17 183.47,186.69 184.77,192.53 186.08,197.69 187.38,202.19 188.68,206.06 189.99,209.35 191.29,212.11 192.6,214.41 193.9,216.29 195.2,217.82 196.51,219.04 197.81,220.01 199.12,220.77 200.42,221.36 201.72,221.81 203.03,222.15 204.33,222.4 205.64,222.59 206.94,222.73 208.24,222.83 209.55,222.91 210.85,222.96 212.16,222.99 213.46,223.02 214.76,223.04 216.07,223.05 217.37,223.06 218.68,223.06 219.98,223.06 221.28,223.07 222.59,223.07 223.89,223.07 225.2,223.07 226.5,223.07 227.8,223.07 229.11,223.07 230.41,223.07 231.72,223.07 233.02,223.07 234.32,223.07 235.63,223.07 236.93,223.07 238.24,223.07 239.54,223.07 240.84,223.07 242.15,223.07 243.45,223.07 244.76,223.07 246.06,223.07 247.36,223.07 248.67,223.07 249.97,223.07 251.28,223.07 252.58,223.07 253.88,223.07 255.19,223.07 256.49,223.07 257.8,223.07 259.1,223.07 260.4,223.07 261.71,223.07 263.01,223.07 264.32,223.07 265.62,223.07 266.92,223.07 268.23,223.07 269.53,223.07 270.84,223.07 272.14,223.07 273.44,223.07 274.75,223.07 276.05,223.07 277.36,223.07 278.66,223.07 279.96,223.07 281.27,223.07 282.57,223.07 283.88,223.07 285.18,223.07 286.48,223.07 287.79,223.07 289.09,223.07 290.4,223.07 291.7,223.07" fill="none" stroke="#3072b3" stroke-width="1.7" stroke-linejoin="round" stroke-opacity="0.12"/>
<polyline points="96.1,62.13 97.4,62.93 98.71,65.32 100.01,69.21 101.32,74.5 102.62,81.04 103.92,88.63 105.23,97.09 106.53,106.18 107.84,115.7 109.14,125.41 110.44,135.12 111.75,144.64 113.05,153.8 114.36,162.47 115.66,170.53 116.96,177.92 118.27,184.56 119.57,190.44 120.88,195.53 122.18,199.84 123.48,203.37 124.79,206.16 126.09,208.22 127.4,209.58 128.7,210.25 130,210.24 131.31,209.57 132.61,208.24 133.92,206.24 135.22,203.57 136.52,200.22 137.83,196.21 139.13,191.52 140.44,186.18 141.74,180.23 143.04,173.7 144.35,166.68 145.65,159.24 146.96,151.52 148.26,143.63 149.56,135.74 150.87,128 152.17,120.61 153.48,113.73 154.78,107.56 156.08,102.24 157.39,97.94 158.69,94.77 160,92.83 161.3,92.18 162.6,92.84 163.91,94.77 165.21,97.94 166.52,102.25 167.82,107.56 169.12,113.74 170.43,120.62 171.73,128.03 173.04,135.77 174.34,143.68 175.64,151.6 176.95,159.36 178.25,166.85 179.56,173.95 180.86,180.58 182.16,186.68 183.47,192.21 184.77,197.17 186.08,201.54 187.38,205.36 188.68,208.64 189.99,211.43 191.29,213.78 192.6,215.72 193.9,217.32 195.2,218.61 196.51,219.65 197.81,220.47 199.12,221.12 200.42,221.62 201.72,222 203.03,222.29 204.33,222.5 205.64,222.67 206.94,222.78 208.24,222.87 209.55,222.93 210.85,222.97 212.16,223 213.46,223.03 214.76,223.04 216.07,223.05 217.37,223.06 218.68,223.06 219.98,223.06 221.28,223.07 222.59,223.07 223.89,223.07 225.2,223.07 226.5,223.07 227.8,223.07 229.11,223.07 230.41,223.07 231.72,223.07 233.02,223.07 234.32,223.07 235.63,223.07 236.93,223.07 238.24,223.07 239.54,223.07 240.84,223.07 242.15,223.07 243.45,223.07 244.76,223.07 246.06,223.07 247.36,223.07 248.67,223.07 249.97,223.07 251.28,223.07 252.58,223.07 253.88,223.07 255.19,223.07 256.49,223.07 257.8,223.07 259.1,223.07 260.4,223.07 261.71,223.07 263.01,223.07 264.32,223.07 265.62,223.07 266.92,223.07 268.23,223.07 269.53,223.07 270.84,223.07 272.14,223.07 273.44,223.07 274.75,223.07 276.05,223.07 277.36,223.07 278.66,223.07 279.96,223.07 281.27,223.07 282.57,223.07 283.88,223.07 285.18,223.07 286.48,223.07 287.79,223.07 289.09,223.07 290.4,223.07 291.7,223.07" fill="none" stroke="#3072b3" stroke-width="1.7" stroke-linejoin="round" stroke-opacity="0.12"/>
<polyline points="96.1,84.35 97.4,85.04 98.71,87.09 100.01,90.45 101.32,95.01 102.62,100.64 103.92,107.19 105.23,114.48 106.53,122.31 107.84,130.51 109.14,138.88 110.44,147.24 111.75,155.43 113.05,163.32 114.36,170.77 115.66,177.7 116.96,184.03 118.27,189.71 119.57,194.7 120.88,199 122.18,202.59 123.48,205.49 124.79,207.7 126.09,209.22 127.4,210.07 128.7,210.25 130,209.75 131.31,208.58 132.61,206.7 133.92,204.12 135.22,200.81 136.52,196.75 137.83,191.94 139.13,186.38 140.44,180.07 141.74,173.06 143.04,165.4 144.35,157.16 145.65,148.45 146.96,139.4 148.26,130.16 149.56,120.92 150.87,111.87 152.17,103.22 153.48,95.18 154.78,87.95 156.08,81.73 157.39,76.7 158.69,73 160,70.73 161.3,69.97 162.6,70.73 163.91,73 165.21,76.7 166.52,81.74 167.82,87.96 169.12,95.19 170.43,103.24 171.73,111.89 173.04,120.95 174.34,130.21 175.64,139.46 176.95,148.55 178.25,157.3 179.56,165.61 180.86,173.36 182.16,180.5 183.47,186.98 184.77,192.77 186.08,197.89 187.38,202.35 188.68,206.19 189.99,209.46 191.29,212.2 192.6,214.48 193.9,216.34 195.2,217.86 196.51,219.07 197.81,220.03 199.12,220.79 200.42,221.37 201.72,221.82 203.03,222.16 204.33,222.41 205.64,222.6 206.94,222.74 208.24,222.84 209.55,222.91 210.85,222.96 212.16,222.99 213.46,223.02 214.76,223.04 216.07,223.05 217.37,223.06 218.68,223.06 219.98,223.06 221.28,223.07 222.59,223.07 223.89,223.07 225.2,223.07 226.5,223.07 227.8,223.07 229.11,223.07 230.41,223.07 231.72,223.07 233.02,223.07 234.32,223.07 235.63,223.07 236.93,223.07 238.24,223.07 239.54,223.07 240.84,223.07 242.15,223.07 243.45,223.07 244.76,223.07 246.06,223.07 247.36,223.07 248.67,223.07 249.97,223.07 251.28,223.07 252.58,223.07 253.88,223.07 255.19,223.07 256.49,223.07 257.8,223.07 259.1,223.07 260.4,223.07 261.71,223.07 263.01,223.07 264.32,223.07 265.62,223.07 266.92,223.07 268.23,223.07 269.53,223.07 270.84,223.07 272.14,223.07 273.44,223.07 274.75,223.07 276.05,223.07 277.36,223.07 278.66,223.07 279.96,223.07 281.27,223.07 282.57,223.07 283.88,223.07 285.18,223.07 286.48,223.07 287.79,223.07 289.09,223.07 290.4,223.07 291.7,223.07" fill="none" stroke="#3072b3" stroke-width="1.7" stroke-linejoin="round" stroke-opacity="0.12"/>
<polyline points="96.1,60.2 97.4,61.01 98.71,63.43 100.01,67.37 101.32,72.72 102.62,79.33 103.92,87.02 105.23,95.58 106.53,104.78 107.84,114.41 109.14,124.24 110.44,134.07 111.75,143.7 113.05,152.97 114.36,161.75 115.66,169.91 116.96,177.39 118.27,184.12 119.57,190.07 120.88,195.23 122.18,199.6 123.48,203.19 124.79,206.03 126.09,208.14 127.4,209.54 128.7,210.25 130,210.29 131.31,209.66 132.61,208.37 133.92,206.42 135.22,203.81 136.52,200.53 137.83,196.58 139.13,191.97 140.44,186.71 141.74,180.85 143.04,174.42 144.35,167.5 145.65,160.18 146.96,152.57 148.26,144.8 149.56,137.02 150.87,129.4 152.17,122.12 153.48,115.34 154.78,109.26 156.08,104.02 157.39,99.78 158.69,96.66 160,94.75 161.3,94.11 162.6,94.75 163.91,96.66 165.21,99.79 166.52,104.03 167.82,109.26 169.12,115.35 170.43,122.13 171.73,129.43 173.04,137.06 174.34,144.85 175.64,152.65 176.95,160.3 178.25,167.67 179.56,174.67 180.86,181.2 182.16,187.21 183.47,192.67 184.77,197.55 186.08,201.86 187.38,205.62 188.68,208.85 189.99,211.6 191.29,213.91 192.6,215.83 193.9,217.4 195.2,218.68 196.51,219.7 197.81,220.51 199.12,221.15 200.42,221.64 201.72,222.01 203.03,222.3 204.33,222.51 205.64,222.67 206.94,222.79 208.24,222.87 209.55,222.93 210.85,222.98 212.16,223.01 213.46,223.03 214.76,223.04 216.07,223.05 217.37,223.06 218.68,223.06 219.98,223.06 221.28,223.07 222.59,223.07 223.89,223.07 225.2,223.07 226.5,223.07 227.8,223.07 229.11,223.07 230.41,223.07 231.72,223.07 233.02,223.07 234.32,223.07 235.63,223.07 236.93,223.07 238.24,223.07 239.54,223.07 240.84,223.07 242.15,223.07 243.45,223.07 244.76,223.07 246.06,223.07 247.36,223.07 248.67,223.07 249.97,223.07 251.28,223.07 252.58,223.07 253.88,223.07 255.19,223.07 256.49,223.07 257.8,223.07 259.1,223.07 260.4,223.07 261.71,223.07 263.01,223.07 264.32,223.07 265.62,223.07 266.92,223.07 268.23,223.07 269.53,223.07 270.84,223.07 272.14,223.07 273.44,223.07 274.75,223.07 276.05,223.07 277.36,223.07 278.66,223.07 279.96,223.07 281.27,223.07 282.57,223.07 283.88,223.07 285.18,223.07 286.48,223.07 287.79,223.07 289.09,223.07 290.4,223.07 291.7,223.07" fill="none" stroke="#3072b3" stroke-width="1.7" stroke-linejoin="round" stroke-opacity="0.12"/>
<polyline points="96.1,85.72 97.4,86.41 98.71,88.44 100.01,91.77 101.32,96.28 102.62,101.86 103.92,108.34 105.23,115.55 106.53,123.31 107.84,131.43 109.14,139.71 110.44,147.99 111.75,156.1 113.05,163.91 114.36,171.29 115.66,178.14 116.96,184.41 118.27,190.02 119.57,194.97 120.88,199.22 122.18,202.77 123.48,205.62 124.79,207.79 126.09,209.28 127.4,210.1 128.7,210.25 130,209.72 131.31,208.51 132.61,206.61 133.92,203.99 135.22,200.64 136.52,196.54 137.83,191.68 139.13,186.06 140.44,179.69 141.74,172.62 143.04,164.88 144.35,156.57 145.65,147.78 146.96,138.64 148.26,129.33 149.56,120 150.87,110.87 152.17,102.14 153.48,94.03 154.78,86.74 156.08,80.46 157.39,75.38 158.69,71.65 160,69.36 161.3,68.59 162.6,69.36 163.91,71.65 165.21,75.39 166.52,80.47 167.82,86.74 169.12,94.04 170.43,102.16 171.73,110.89 173.04,120.03 174.34,129.37 175.64,138.71 176.95,147.88 178.25,156.71 179.56,165.09 180.86,172.92 182.16,180.12 183.47,186.65 184.77,192.5 186.08,197.66 187.38,202.16 188.68,206.04 189.99,209.33 191.29,212.1 192.6,214.4 193.9,216.28 195.2,217.81 196.51,219.03 197.81,220 199.12,220.77 200.42,221.35 201.72,221.8 203.03,222.15 204.33,222.4 205.64,222.59 206.94,222.73 208.24,222.83 209.55,222.91 210.85,222.96 212.16,222.99 213.46,223.02 214.76,223.04 216.07,223.05 217.37,223.06 218.68,223.06 219.98,223.06 221.28,223.07 222.59,223.07 223.89,223.07 225.2,223.07 226.5,223.07 227.8,223.07 229.11,223.07 230.41,223.07 231.72,223.07 233.02,223.07 234.32,223.07 235.63,223.07 236.93,223.07 238.24,223.07 239.54,223.07 240.84,223.07 242.15,223.07 243.45,223.07 244.76,223.07 246.06,223.07 247.36,223.07 248.67,223.07 249.97,223.07 251.28,223.07 252.58,223.07 253.88,223.07 255.19,223.07 256.49,223.07 257.8,223.07 259.1,223.07 260.4,223.07 261.71,223.07 263.01,223.07 264.32,223.07 265.62,223.07 266.92,223.07 268.23,223.07 269.53,223.07 270.84,223.07 272.14,223.07 273.44,223.07 274.75,223.07 276.05,223.07 277.36,223.07 278.66,223.07 279.96,223.07 281.27,223.07 282.57,223.07 283.88,223.07 285.18,223.07 286.48,223.07 287.79,223.07 289.09,223.07 290.4,223.07 291.7,223.07" fill="none" stroke="#3072b3" stroke-width="1.7" stroke-linejoin="round" stroke-opacity="0.12"/>
<polyline points="96.1,74.98 97.4,75.72 98.71,77.91 100.01,81.49 101.32,86.36 102.62,92.38 103.92,99.37 105.23,107.15 106.53,115.51 107.84,124.27 109.14,133.2 110.44,142.13 111.75,150.88 113.05,159.3 114.36,167.27 115.66,174.68 116.96,181.45 118.27,187.54 119.57,192.9 120.88,197.54 122.18,201.43 123.48,204.6 124.79,207.05 126.09,208.8 127.4,209.86 128.7,210.25 130,209.96 131.31,209 132.61,207.35 133.92,205.01 135.22,201.97 136.52,198.22 137.83,193.74 139.13,188.55 140.44,182.65 141.74,176.08 143.04,168.9 144.35,161.17 145.65,153 146.96,144.51 148.26,135.84 149.56,127.17 150.87,118.67 152.17,110.55 153.48,103 154.78,96.22 156.08,90.38 157.39,85.66 158.69,82.18 160,80.05 161.3,79.33 162.6,80.05 163.91,82.18 165.21,85.66 166.52,90.38 167.82,96.22 169.12,103.01 170.43,110.57 171.73,118.7 173.04,127.2 174.34,135.89 175.64,144.58 176.95,153.11 178.25,161.33 179.56,169.12 180.86,176.41 182.16,183.11 183.47,189.18 184.77,194.62 186.08,199.43 187.38,203.62 188.68,207.22 189.99,210.29 191.29,212.86 192.6,215 193.9,216.75 195.2,218.18 196.51,219.32 197.81,220.22 199.12,220.93 200.42,221.47 201.72,221.89 203.03,222.21 204.33,222.45 205.64,222.63 206.94,222.76 208.24,222.85 209.55,222.92 210.85,222.96 212.16,223 213.46,223.02 214.76,223.04 216.07,223.05 217.37,223.06 218.68,223.06 219.98,223.06 221.28,223.07 222.59,223.07 223.89,223.07 225.2,223.07 226.5,223.07 227.8,223.07 229.11,223.07 230.41,223.07 231.72,223.07 233.02,223.07 234.32,223.07 235.63,223.07 236.93,223.07 238.24,223.07 239.54,223.07 240.84,223.07 242.15,223.07 243.45,223.07 244.76,223.07 246.06,223.07 247.36,223.07 248.67,223.07 249.97,223.07 251.28,223.07 252.58,223.07 253.88,223.07 255.19,223.07 256.49,223.07 257.8,223.07 259.1,223.07 260.4,223.07 261.71,223.07 263.01,223.07 264.32,223.07 265.62,223.07 266.92,223.07 268.23,223.07 269.53,223.07 270.84,223.07 272.14,223.07 273.44,223.07 274.75,223.07 276.05,223.07 277.36,223.07 278.66,223.07 279.96,223.07 281.27,223.07 282.57,223.07 283.88,223.07 285.18,223.07 286.48,223.07 287.79,223.07 289.09,223.07 290.4,223.07 291.7,223.07" fill="none" stroke="#3072b3" stroke-width="1.7" stroke-linejoin="round" stroke-opacity="0.12"/>
<polyline points="96.1,86.61 97.4,87.29 98.71,89.31 100.01,92.61 101.32,97.1 102.62,102.64 103.92,109.08 105.23,116.25 106.53,123.96 107.84,132.02 109.14,140.25 110.44,148.48 111.75,156.54 113.05,164.29 114.36,171.62 115.66,178.43 116.96,184.65 118.27,190.23 119.57,195.14 120.88,199.35 122.18,202.88 123.48,205.71 124.79,207.85 126.09,209.32 127.4,210.12 128.7,210.25 130,209.7 131.31,208.47 132.61,206.55 133.92,203.9 135.22,200.53 136.52,196.4 137.83,191.51 139.13,185.85 140.44,179.45 141.74,172.33 143.04,164.55 144.35,156.19 145.65,147.34 146.96,138.16 148.26,128.79 149.56,119.41 150.87,110.23 152.17,101.45 153.48,93.29 154.78,85.95 156.08,79.64 157.39,74.54 158.69,70.78 160,68.48 161.3,67.7 162.6,68.48 163.91,70.78 165.21,74.54 166.52,79.65 167.82,85.96 169.12,93.3 170.43,101.46 171.73,110.25 173.04,119.44 174.34,128.83 175.64,138.23 176.95,147.44 178.25,156.33 179.56,164.76 180.86,172.63 182.16,179.87 183.47,186.44 184.77,192.32 186.08,197.52 187.38,202.04 188.68,205.94 189.99,209.25 191.29,212.04 192.6,214.35 193.9,216.24 195.2,217.78 196.51,219.01 197.81,219.99 199.12,220.75 200.42,221.34 201.72,221.8 203.03,222.14 204.33,222.4 205.64,222.59 206.94,222.73 208.24,222.83 209.55,222.9 210.85,222.96 212.16,222.99 213.46,223.02 214.76,223.04 216.07,223.05 217.37,223.05 218.68,223.06 219.98,223.06 221.28,223.07 222.59,223.07 223.89,223.07 225.2,223.07 226.5,223.07 227.8,223.07 229.11,223.07 230.41,223.07 231.72,223.07 233.02,223.07 234.32,223.07 235.63,223.07 236.93,223.07 238.24,223.07 239.54,223.07 240.84,223.07 242.15,223.07 243.45,223.07 244.76,223.07 246.06,223.07 247.36,223.07 248.67,223.07 249.97,223.07 251.28,223.07 252.58,223.07 253.88,223.07 255.19,223.07 256.49,223.07 257.8,223.07 259.1,223.07 260.4,223.07 261.71,223.07 263.01,223.07 264.32,223.07 265.62,223.07 266.92,223.07 268.23,223.07 269.53,223.07 270.84,223.07 272.14,223.07 273.44,223.07 274.75,223.07 276.05,223.07 277.36,223.07 278.66,223.07 279.96,223.07 281.27,223.07 282.57,223.07 283.88,223.07 285.18,223.07 286.48,223.07 287.79,223.07 289.09,223.07 290.4,223.07 291.7,223.07" fill="none" stroke="#3072b3" stroke-width="1.7" stroke-linejoin="round" stroke-opacity="0.12"/>
<polyline points="96.1,80.85 97.4,81.56 98.71,83.66 100.01,87.11 101.32,91.78 102.62,97.56 103.92,104.27 105.23,111.74 106.53,119.77 107.84,128.18 109.14,136.76 110.44,145.33 111.75,153.73 113.05,161.82 114.36,169.46 115.66,176.57 116.96,183.07 118.27,188.9 119.57,194.03 120.88,198.45 122.18,202.16 123.48,205.16 124.79,207.46 126.09,209.06 127.4,209.99 128.7,210.25 130,209.83 131.31,208.73 132.61,206.94 133.92,204.45 135.22,201.24 136.52,197.3 137.83,192.61 139.13,187.19 140.44,181.03 141.74,174.19 143.04,166.7 144.35,158.65 145.65,150.14 146.96,141.3 148.26,132.28 149.56,123.25 150.87,114.41 152.17,105.96 153.48,98.1 154.78,91.04 156.08,84.96 157.39,80.04 158.69,76.42 160,74.21 161.3,73.46 162.6,74.21 163.91,76.43 165.21,80.05 166.52,84.97 167.82,91.04 169.12,98.11 170.43,105.97 171.73,114.43 173.04,123.29 174.34,132.33 175.64,141.37 176.95,150.25 178.25,158.81 179.56,166.92 180.86,174.5 182.16,181.47 183.47,187.8 184.77,193.46 186.08,198.46 187.38,202.82 188.68,206.58 189.99,209.77 191.29,212.45 192.6,214.67 193.9,216.5 195.2,217.98 196.51,219.16 197.81,220.1 199.12,220.84 200.42,221.41 201.72,221.84 203.03,222.18 204.33,222.42 205.64,222.61 206.94,222.74 208.24,222.84 209.55,222.91 210.85,222.96 212.16,223 213.46,223.02 214.76,223.04 216.07,223.05 217.37,223.06 218.68,223.06 219.98,223.06 221.28,223.07 222.59,223.07 223.89,223.07 225.2,223.07 226.5,223.07 227.8,223.07 229.11,223.07 230.41,223.07 231.72,223.07 233.02,223.07 234.32,223.07 235.63,223.07 236.93,223.07 238.24,223.07 239.54,223.07 240.84,223.07 242.15,223.07 243.45,223.07 244.76,223.07 246.06,223.07 247.36,223.07 248.67,223.07 249.97,223.07 251.28,223.07 252.58,223.07 253.88,223.07 255.19,223.07 256.49,223.07 257.8,223.07 259.1,223.07 260.4,223.07 261.71,223.07 263.01,223.07 264.32,223.07 265.62,223.07 266.92,223.07 268.23,223.07 269.53,223.07 270.84,223.07 272.14,223.07 273.44,223.07 274.75,223.07 276.05,223.07 277.36,223.07 278.66,223.07 279.96,223.07 281.27,223.07 282.57,223.07 283.88,223.07 285.18,223.07 286.48,223.07 287.79,223.07 289.09,223.07 290.4,223.07 291.7,223.07" fill="none" stroke="#3072b3" stroke-width="1.7" stroke-linejoin="round" stroke-opacity="0.12"/>
<polyline points="96.1,87.73 97.4,88.41 98.71,90.41 100.01,93.68 101.32,98.13 102.62,103.63 103.92,110.02 105.23,117.12 106.53,124.77 107.84,132.77 109.14,140.93 110.44,149.09 111.75,157.08 113.05,164.77 114.36,172.04 115.66,178.79 116.96,184.96 118.27,190.49 119.57,195.35 120.88,199.53 122.18,203.02 123.48,205.81 124.79,207.93 126.09,209.37 127.4,210.14 128.7,210.25 130,209.68 131.31,208.42 132.61,206.47 133.92,203.8 135.22,200.39 136.52,196.22 137.83,191.29 139.13,185.59 140.44,179.14 141.74,171.97 143.04,164.13 144.35,155.71 145.65,146.8 146.96,137.55 148.26,128.11 149.56,118.67 150.87,109.42 152.17,100.57 153.48,92.35 154.78,84.96 156.08,78.61 157.39,73.47 158.69,69.68 160,67.36 161.3,66.58 162.6,67.36 163.91,69.68 165.21,73.47 166.52,78.61 167.82,84.97 169.12,92.36 170.43,100.59 171.73,109.44 173.04,118.7 174.34,128.16 175.64,137.62 176.95,146.9 178.25,155.85 179.56,164.34 180.86,172.27 182.16,179.56 183.47,186.18 184.77,192.1 186.08,197.33 187.38,201.89 188.68,205.82 189.99,209.15 191.29,211.96 192.6,214.29 193.9,216.19 195.2,217.74 196.51,218.98 197.81,219.97 199.12,220.74 200.42,221.33 201.72,221.79 203.03,222.13 204.33,222.39 205.64,222.59 206.94,222.73 208.24,222.83 209.55,222.9 210.85,222.96 212.16,222.99 213.46,223.02 214.76,223.03 216.07,223.05 217.37,223.05 218.68,223.06 219.98,223.06 221.28,223.07 222.59,223.07 223.89,223.07 225.2,223.07 226.5,223.07 227.8,223.07 229.11,223.07 230.41,223.07 231.72,223.07 233.02,223.07 234.32,223.07 235.63,223.07 236.93,223.07 238.24,223.07 239.54,223.07 240.84,223.07 242.15,223.07 243.45,223.07 244.76,223.07 246.06,223.07 247.36,223.07 248.67,223.07 249.97,223.07 251.28,223.07 252.58,223.07 253.88,223.07 255.19,223.07 256.49,223.07 257.8,223.07 259.1,223.07 260.4,223.07 261.71,223.07 263.01,223.07 264.32,223.07 265.62,223.07 266.92,223.07 268.23,223.07 269.53,223.07 270.84,223.07 272.14,223.07 273.44,223.07 274.75,223.07 276.05,223.07 277.36,223.07 278.66,223.07 279.96,223.07 281.27,223.07 282.57,223.07 283.88,223.07 285.18,223.07 286.48,223.07 287.79,223.07 289.09,223.07 290.4,223.07 291.7,223.07" fill="none" stroke="#3072b3" stroke-width="1.7" stroke-linejoin="round" stroke-opacity="0.12"/>
<polyline points="96.1,72.28 97.4,73.03 98.71,75.26 100.01,78.91 101.32,83.87 102.62,89.99 103.92,97.11 105.23,105.03 106.53,113.55 107.84,122.46 109.14,131.56 110.44,140.66 111.75,149.57 113.05,158.15 114.36,166.26 115.66,173.81 116.96,180.71 118.27,186.91 119.57,192.39 120.88,197.11 122.18,201.1 123.48,204.34 124.79,206.86 126.09,208.68 127.4,209.8 128.7,210.25 130,210.02 131.31,209.12 132.61,207.54 133.92,205.27 135.22,202.31 136.52,198.64 137.83,194.26 139.13,189.17 140.44,183.39 141.74,176.95 143.04,169.91 144.35,162.33 145.65,154.31 146.96,145.98 148.26,137.48 149.56,128.97 150.87,120.64 152.17,112.67 153.48,105.26 154.78,98.6 156.08,92.88 157.39,88.24 158.69,84.83 160,82.74 161.3,82.04 162.6,82.74 163.91,84.83 165.21,88.24 166.52,92.88 167.82,98.61 169.12,105.27 170.43,112.68 171.73,120.66 173.04,129 174.34,137.53 175.64,146.06 176.95,154.42 178.25,162.49 179.56,170.14 180.86,177.28 182.16,183.86 183.47,189.82 184.77,195.16 186.08,199.87 187.38,203.98 188.68,207.52 189.99,210.53 191.29,213.06 192.6,215.15 193.9,216.87 195.2,218.27 196.51,219.39 197.81,220.27 199.12,220.97 200.42,221.5 201.72,221.92 203.03,222.23 204.33,222.46 205.64,222.63 206.94,222.76 208.24,222.85 209.55,222.92 210.85,222.97 212.16,223 213.46,223.02 214.76,223.04 216.07,223.05 217.37,223.06 218.68,223.06 219.98,223.06 221.28,223.07 222.59,223.07 223.89,223.07 225.2,223.07 226.5,223.07 227.8,223.07 229.11,223.07 230.41,223.07 231.72,223.07 233.02,223.07 234.32,223.07 235.63,223.07 236.93,223.07 238.24,223.07 239.54,223.07 240.84,223.07 242.15,223.07 243.45,223.07 244.76,223.07 246.06,223.07 247.36,223.07 248.67,223.07 249.97,223.07 251.28,223.07 252.58,223.07 253.88,223.07 255.19,223.07 256.49,223.07 257.8,223.07 259.1,223.07 260.4,223.07 261.71,223.07 263.01,223.07 264.32,223.07 265.62,223.07 266.92,223.07 268.23,223.07 269.53,223.07 270.84,223.07 272.14,223.07 273.44,223.07 274.75,223.07 276.05,223.07 277.36,223.07 278.66,223.07 279.96,223.07 281.27,223.07 282.57,223.07 283.88,223.07 285.18,223.07 286.48,223.07 287.79,223.07 289.09,223.07 290.4,223.07 291.7,223.07" fill="none" stroke="#3072b3" stroke-width="1.7" stroke-linejoin="round" stroke-opacity="0.12"/>
<polyline points="96.1,68.39 97.4,69.16 98.71,71.45 100.01,75.19 101.32,80.28 102.62,86.56 103.92,93.86 105.23,101.99 106.53,110.73 107.84,119.87 109.14,129.21 110.44,138.53 111.75,147.68 113.05,156.48 114.36,164.81 115.66,172.55 116.96,179.64 118.27,186.01 119.57,191.64 120.88,196.51 122.18,200.61 123.48,203.97 124.79,206.59 126.09,208.5 127.4,209.72 128.7,210.25 130,210.1 131.31,209.29 132.61,207.81 133.92,205.64 135.22,202.79 136.52,199.25 137.83,195 139.13,190.07 140.44,184.46 141.74,178.21 143.04,171.36 144.35,163.99 145.65,156.2 146.96,148.1 148.26,139.84 149.56,131.56 150.87,123.46 152.17,115.71 153.48,108.51 154.78,102.03 156.08,96.46 157.39,91.96 158.69,88.64 160,86.61 161.3,85.92 162.6,86.61 163.91,88.64 165.21,91.96 166.52,96.47 167.82,102.04 169.12,108.52 170.43,115.73 171.73,123.48 173.04,131.6 174.34,139.89 175.64,148.18 176.95,156.31 178.25,164.16 179.56,171.6 180.86,178.55 182.16,184.94 183.47,190.74 184.77,195.93 186.08,200.51 187.38,204.51 188.68,207.95 189.99,210.87 191.29,213.33 192.6,215.37 193.9,217.04 195.2,218.4 196.51,219.49 197.81,220.35 199.12,221.02 200.42,221.55 201.72,221.95 203.03,222.25 204.33,222.48 205.64,222.65 206.94,222.77 208.24,222.86 209.55,222.92 210.85,222.97 212.16,223 213.46,223.02 214.76,223.04 216.07,223.05 217.37,223.06 218.68,223.06 219.98,223.06 221.28,223.07 222.59,223.07 223.89,223.07 225.2,223.07 226.5,223.07 227.8,223.07 229.11,223.07 230.41,223.07 231.72,223.07 233.02,223.07 234.32,223.07 235.63,223.07 236.93,223.07 238.24,223.07 239.54,223.07 240.84,223.07 242.15,223.07 243.45,223.07 244.76,223.07 246.06,223.07 247.36,223.07 248.67,223.07 249.97,223.07 251.28,223.07 252.58,223.07 253.88,223.07 255.19,223.07 256.49,223.07 257.8,223.07 259.1,223.07 260.4,223.07 261.71,223.07 263.01,223.07 264.32,223.07 265.62,223.07 266.92,223.07 268.23,223.07 269.53,223.07 270.84,223.07 272.14,223.07 273.44,223.07 274.75,223.07 276.05,223.07 277.36,223.07 278.66,223.07 279.96,223.07 281.27,223.07 282.57,223.07 283.88,223.07 285.18,223.07 286.48,223.07 287.79,223.07 289.09,223.07 290.4,223.07 291.7,223.07" fill="none" stroke="#3072b3" stroke-width="1.7" stroke-linejoin="round" stroke-opacity="0.12"/>
<polyline points="96.1,80.62 97.4,81.33 98.71,83.44 100.01,86.89 101.32,91.57 102.62,97.35 103.92,104.08 105.23,111.56 106.53,119.61 107.84,128.03 109.14,136.62 110.44,145.21 111.75,153.62 113.05,161.72 114.36,169.38 115.66,176.5 116.96,183 118.27,188.84 119.57,193.99 120.88,198.42 122.18,202.13 123.48,205.14 124.79,207.44 126.09,209.05 127.4,209.99 128.7,210.25 130,209.83 131.31,208.74 132.61,206.96 133.92,204.48 135.22,201.27 136.52,197.33 137.83,192.66 139.13,187.24 140.44,181.1 141.74,174.26 143.04,166.79 144.35,158.75 145.65,150.26 146.96,141.43 148.26,132.42 149.56,123.41 150.87,114.58 152.17,106.14 153.48,98.29 154.78,91.24 156.08,85.17 157.39,80.26 158.69,76.65 160,74.44 161.3,73.69 162.6,74.44 163.91,76.65 165.21,80.27 166.52,85.18 167.82,91.24 169.12,98.3 170.43,106.15 171.73,114.6 173.04,123.44 174.34,132.47 175.64,141.5 176.95,150.36 178.25,158.9 179.56,167.01 180.86,174.57 182.16,181.54 183.47,187.85 184.77,193.51 186.08,198.5 187.38,202.85 188.68,206.6 189.99,209.79 191.29,212.46 192.6,214.68 193.9,216.51 195.2,217.98 196.51,219.17 197.81,220.11 199.12,220.84 200.42,221.41 201.72,221.85 203.03,222.18 204.33,222.43 205.64,222.61 206.94,222.74 208.24,222.84 209.55,222.91 210.85,222.96 212.16,223 213.46,223.02 214.76,223.04 216.07,223.05 217.37,223.06 218.68,223.06 219.98,223.06 221.28,223.07 222.59,223.07 223.89,223.07 225.2,223.07 226.5,223.07 227.8,223.07 229.11,223.07 230.41,223.07 231.72,223.07 233.02,223.07 234.32,223.07 235.63,223.07 236.93,223.07 238.24,223.07 239.54,223.07 240.84,223.07 242.15,223.07 243.45,223.07 244.76,223.07 246.06,223.07 247.36,223.07 248.67,223.07 249.97,223.07 251.28,223.07 252.58,223.07 253.88,223.07 255.19,223.07 256.49,223.07 257.8,223.07 259.1,223.07 260.4,223.07 261.71,223.07 263.01,223.07 264.32,223.07 265.62,223.07 266.92,223.07 268.23,223.07 269.53,223.07 270.84,223.07 272.14,223.07 273.44,223.07 274.75,223.07 276.05,223.07 277.36,223.07 278.66,223.07 279.96,223.07 281.27,223.07 282.57,223.07 283.88,223.07 285.18,223.07 286.48,223.07 287.79,223.07 289.09,223.07 290.4,223.07 291.7,223.07" fill="none" stroke="#3072b3" stroke-width="1.7" stroke-linejoin="round" stroke-opacity="0.12"/>
<polyline points="96.1,78.44 97.4,79.16 98.71,81.31 100.01,84.81 101.32,89.56 102.62,95.43 103.92,102.26 105.23,109.86 106.53,118.03 107.84,126.57 109.14,135.3 110.44,144.02 111.75,152.57 113.05,160.79 114.36,168.56 115.66,175.79 116.96,182.4 118.27,188.34 119.57,193.57 120.88,198.08 122.18,201.86 123.48,204.93 124.79,207.29 126.09,208.96 127.4,209.94 128.7,210.25 130,209.88 131.31,208.84 132.61,207.11 133.92,204.68 135.22,201.54 136.52,197.68 137.83,193.07 139.13,187.74 140.44,181.7 141.74,174.96 143.04,167.6 144.35,159.69 145.65,151.31 146.96,142.62 148.26,133.74 149.56,124.86 150.87,116.16 152.17,107.84 153.48,100.11 154.78,93.16 156.08,87.18 157.39,82.34 158.69,78.78 160,76.6 161.3,75.87 162.6,76.6 163.91,78.78 165.21,82.35 166.52,87.19 167.82,93.17 169.12,100.12 170.43,107.86 171.73,116.18 173.04,124.89 174.34,133.79 175.64,142.69 176.95,151.42 178.25,159.84 179.56,167.82 180.86,175.28 182.16,182.14 183.47,188.37 184.77,193.94 186.08,198.86 187.38,203.15 188.68,206.84 189.99,209.98 191.29,212.62 192.6,214.81 193.9,216.6 195.2,218.06 196.51,219.22 197.81,220.15 199.12,220.87 200.42,221.43 201.72,221.86 203.03,222.19 204.33,222.43 205.64,222.62 206.94,222.75 208.24,222.84 209.55,222.91 210.85,222.96 212.16,223 213.46,223.02 214.76,223.04 216.07,223.05 217.37,223.06 218.68,223.06 219.98,223.06 221.28,223.07 222.59,223.07 223.89,223.07 225.2,223.07 226.5,223.07 227.8,223.07 229.11,223.07 230.41,223.07 231.72,223.07 233.02,223.07 234.32,223.07 235.63,223.07 236.93,223.07 238.24,223.07 239.54,223.07 240.84,223.07 242.15,223.07 243.45,223.07 244.76,223.07 246.06,223.07 247.36,223.07 248.67,223.07 249.97,223.07 251.28,223.07 252.58,223.07 253.88,223.07 255.19,223.07 256.49,223.07 257.8,223.07 259.1,223.07 260.4,223.07 261.71,223.07 263.01,223.07 264.32,223.07 265.62,223.07 266.92,223.07 268.23,223.07 269.53,223.07 270.84,223.07 272.14,223.07 273.44,223.07 274.75,223.07 276.05,223.07 277.36,223.07 278.66,223.07 279.96,223.07 281.27,223.07 282.57,223.07 283.88,223.07 285.18,223.07 286.48,223.07 287.79,223.07 289.09,223.07 290.4,223.07 291.7,223.07" fill="none" stroke="#3072b3" stroke-width="1.7" stroke-linejoin="round" stroke-opacity="0.12"/>
<polyline points="96.1,77.86 97.4,78.59 98.71,80.74 100.01,84.25 101.32,89.02 102.62,94.92 103.92,101.77 105.23,109.4 106.53,117.61 107.84,126.19 109.14,134.95 110.44,143.7 111.75,152.28 113.05,160.54 114.36,168.35 115.66,175.61 116.96,182.24 118.27,188.21 119.57,193.46 120.88,197.99 122.18,201.79 123.48,204.87 124.79,207.25 126.09,208.93 127.4,209.93 128.7,210.25 130,209.9 131.31,208.87 132.61,207.15 133.92,204.74 135.22,201.61 136.52,197.77 137.83,193.19 139.13,187.88 140.44,181.86 141.74,175.15 143.04,167.82 144.35,159.93 145.65,151.6 146.96,142.93 148.26,134.09 149.56,125.25 150.87,116.58 152.17,108.3 153.48,100.59 154.78,93.67 156.08,87.72 157.39,82.9 158.69,79.35 160,77.18 161.3,76.45 162.6,77.18 163.91,79.35 165.21,82.9 166.52,87.72 167.82,93.68 169.12,100.6 170.43,108.31 171.73,116.6 173.04,125.28 174.34,134.14 175.64,143 176.95,151.7 178.25,160.09 179.56,168.04 180.86,175.47 182.16,182.3 183.47,188.5 184.77,194.05 186.08,198.95 187.38,203.23 188.68,206.91 189.99,210.03 191.29,212.66 192.6,214.84 193.9,216.63 195.2,218.08 196.51,219.24 197.81,220.16 199.12,220.88 200.42,221.44 201.72,221.87 203.03,222.19 204.33,222.44 205.64,222.62 206.94,222.75 208.24,222.85 209.55,222.91 210.85,222.96 212.16,223 213.46,223.02 214.76,223.04 216.07,223.05 217.37,223.06 218.68,223.06 219.98,223.06 221.28,223.07 222.59,223.07 223.89,223.07 225.2,223.07 226.5,223.07 227.8,223.07 229.11,223.07 230.41,223.07 231.72,223.07 233.02,223.07 234.32,223.07 235.63,223.07 236.93,223.07 238.24,223.07 239.54,223.07 240.84,223.07 242.15,223.07 243.45,223.07 244.76,223.07 246.06,223.07 247.36,223.07 248.67,223.07 249.97,223.07 251.28,223.07 252.58,223.07 253.88,223.07 255.19,223.07 256.49,223.07 257.8,223.07 259.1,223.07 260.4,223.07 261.71,223.07 263.01,223.07 264.32,223.07 265.62,223.07 266.92,223.07 268.23,223.07 269.53,223.07 270.84,223.07 272.14,223.07 273.44,223.07 274.75,223.07 276.05,223.07 277.36,223.07 278.66,223.07 279.96,223.07 281.27,223.07 282.57,223.07 283.88,223.07 285.18,223.07 286.48,223.07 287.79,223.07 289.09,223.07 290.4,223.07 291.7,223.07" fill="none" stroke="#3072b3" stroke-width="1.7" stroke-linejoin="round" stroke-opacity="0.12"/>
<polyline points="96.1,67.63 97.4,68.4 98.71,70.7 100.01,74.47 101.32,79.58 102.62,85.89 103.92,93.23 105.23,101.39 106.53,110.18 107.84,119.36 109.14,128.74 110.44,138.12 111.75,147.31 113.05,156.15 114.36,164.52 115.66,172.31 116.96,179.43 118.27,185.84 119.57,191.49 120.88,196.39 122.18,200.52 123.48,203.9 124.79,206.54 126.09,208.47 127.4,209.7 128.7,210.25 130,210.12 131.31,209.33 132.61,207.86 133.92,205.71 135.22,202.89 136.52,199.37 137.83,195.15 139.13,190.25 140.44,184.67 141.74,178.45 143.04,171.65 144.35,164.32 145.65,156.57 146.96,148.52 148.26,140.3 149.56,132.07 150.87,124.01 152.17,116.31 153.48,109.14 154.78,102.71 156.08,97.17 157.39,92.68 158.69,89.38 160,87.37 161.3,86.69 162.6,87.37 163.91,89.39 165.21,92.69 166.52,97.17 167.82,102.71 169.12,109.15 170.43,116.32 171.73,124.03 173.04,132.1 174.34,140.35 175.64,148.59 176.95,156.68 178.25,164.49 179.56,171.88 180.86,178.79 182.16,185.15 183.47,190.92 184.77,196.08 186.08,200.64 187.38,204.61 188.68,208.03 189.99,210.94 191.29,213.39 192.6,215.41 193.9,217.08 195.2,218.43 196.51,219.51 197.81,220.36 199.12,221.04 200.42,221.55 201.72,221.95 203.03,222.25 204.33,222.48 205.64,222.65 206.94,222.77 208.24,222.86 209.55,222.92 210.85,222.97 212.16,223 213.46,223.02 214.76,223.04 216.07,223.05 217.37,223.06 218.68,223.06 219.98,223.06 221.28,223.07 222.59,223.07 223.89,223.07 225.2,223.07 226.5,223.07 227.8,223.07 229.11,223.07 230.41,223.07 231.72,223.07 233.02,223.07 234.32,223.07 235.63,223.07 236.93,223.07 238.24,223.07 239.54,223.07 240.84,223.07 242.15,223.07 243.45,223.07 244.76,223.07 246.06,223.07 247.36,223.07 248.67,223.07 249.97,223.07 251.28,223.07 252.58,223.07 253.88,223.07 255.19,223.07 256.49,223.07 257.8,223.07 259.1,223.07 260.4,223.07 261.71,223.07 263.01,223.07 264.32,223.07 265.62,223.07 266.92,223.07 268.23,223.07 269.53,223.07 270.84,223.07 272.14,223.07 273.44,223.07 274.75,223.07 276.05,223.07 277.36,223.07 278.66,223.07 279.96,223.07 281.27,223.07 282.57,223.07 283.88,223.07 285.18,223.07 286.48,223.07 287.79,223.07 289.09,223.07 290.4,223.07 291.7,223.07" fill="none" stroke="#3072b3" stroke-width="1.7" stroke-linejoin="round" stroke-opacity="0.12"/>
<polyline points="96.1,73.38 97.4,74.12 98.71,76.34 100.01,79.96 101.32,84.88 102.62,90.96 103.92,98.03 105.23,105.89 106.53,114.35 107.84,123.2 109.14,132.23 110.44,141.26 111.75,150.1 113.05,158.62 114.36,166.67 115.66,174.16 116.96,181.01 118.27,187.17 119.57,192.6 120.88,197.29 122.18,201.23 123.48,204.45 124.79,206.94 126.09,208.73 127.4,209.83 128.7,210.25 130,209.99 131.31,209.07 132.61,207.46 133.92,205.17 135.22,202.17 136.52,198.47 137.83,194.05 139.13,188.92 140.44,183.09 141.74,176.6 143.04,169.5 144.35,161.86 145.65,153.78 146.96,145.38 148.26,136.81 149.56,128.24 150.87,119.84 152.17,111.81 153.48,104.34 154.78,97.63 156.08,91.86 157.39,87.19 158.69,83.75 160,81.64 161.3,80.93 162.6,81.64 163.91,83.75 165.21,87.19 166.52,91.86 167.82,97.64 169.12,104.35 170.43,111.82 171.73,119.86 173.04,128.27 174.34,136.86 175.64,145.45 176.95,153.89 178.25,162.01 179.56,169.73 180.86,176.93 182.16,183.55 183.47,189.56 184.77,194.94 186.08,199.69 187.38,203.83 188.68,207.4 189.99,210.43 191.29,212.98 192.6,215.09 193.9,216.83 195.2,218.23 196.51,219.36 197.81,220.25 199.12,220.95 200.42,221.49 201.72,221.91 203.03,222.22 204.33,222.46 205.64,222.63 206.94,222.76 208.24,222.85 209.55,222.92 210.85,222.97 212.16,223 213.46,223.02 214.76,223.04 216.07,223.05 217.37,223.06 218.68,223.06 219.98,223.06 221.28,223.07 222.59,223.07 223.89,223.07 225.2,223.07 226.5,223.07 227.8,223.07 229.11,223.07 230.41,223.07 231.72,223.07 233.02,223.07 234.32,223.07 235.63,223.07 236.93,223.07 238.24,223.07 239.54,223.07 240.84,223.07 242.15,223.07 243.45,223.07 244.76,223.07 246.06,223.07 247.36,223.07 248.67,223.07 249.97,223.07 251.28,223.07 252.58,223.07 253.88,223.07 255.19,223.07 256.49,223.07 257.8,223.07 259.1,223.07 260.4,223.07 261.71,223.07 263.01,223.07 264.32,223.07 265.62,223.07 266.92,223.07 268.23,223.07 269.53,223.07 270.84,223.07 272.14,223.07 273.44,223.07 274.75,223.07 276.05,223.07 277.36,223.07 278.66,223.07 279.96,223.07 281.27,223.07 282.57,223.07 283.88,223.07 285.18,223.07 286.48,223.07 287.79,223.07 289.09,223.07 290.4,223.07 291.7,223.07" fill="none" stroke="#3072b3" stroke-width="1.7" stroke-linejoin="round" stroke-opacity="0.12"/>
<polyline points="96.1,84.02 97.4,84.72 98.71,86.78 100.01,90.14 101.32,94.71 102.62,100.36 103.92,106.92 105.23,114.22 106.53,122.08 107.84,130.3 109.14,138.68 110.44,147.06 111.75,155.28 113.05,163.18 114.36,170.65 115.66,177.59 116.96,183.94 118.27,189.63 119.57,194.64 120.88,198.95 122.18,202.56 123.48,205.46 124.79,207.67 126.09,209.21 127.4,210.06 128.7,210.25 130,209.76 131.31,208.59 132.61,206.73 133.92,204.15 135.22,200.85 136.52,196.8 137.83,192 139.13,186.45 140.44,180.16 141.74,173.17 143.04,165.52 144.35,157.29 145.65,148.6 146.96,139.57 148.26,130.36 149.56,121.14 150.87,112.11 152.17,103.47 153.48,95.45 154.78,88.24 156.08,82.03 157.39,77.01 158.69,73.31 160,71.05 161.3,70.29 162.6,71.05 163.91,73.31 165.21,77.01 166.52,82.04 167.82,88.24 169.12,95.46 170.43,103.49 171.73,112.13 173.04,121.17 174.34,130.4 175.64,139.64 176.95,148.7 178.25,157.44 179.56,165.73 180.86,173.47 182.16,180.59 183.47,187.05 184.77,192.83 186.08,197.94 187.38,202.39 188.68,206.23 189.99,209.48 191.29,212.22 192.6,214.49 193.9,216.36 195.2,217.87 196.51,219.08 197.81,220.04 199.12,220.79 200.42,221.37 201.72,221.82 203.03,222.16 204.33,222.41 205.64,222.6 206.94,222.74 208.24,222.84 209.55,222.91 210.85,222.96 212.16,222.99 213.46,223.02 214.76,223.04 216.07,223.05 217.37,223.06 218.68,223.06 219.98,223.06 221.28,223.07 222.59,223.07 223.89,223.07 225.2,223.07 226.5,223.07 227.8,223.07 229.11,223.07 230.41,223.07 231.72,223.07 233.02,223.07 234.32,223.07 235.63,223.07 236.93,223.07 238.24,223.07 239.54,223.07 240.84,223.07 242.15,223.07 243.45,223.07 244.76,223.07 246.06,223.07 247.36,223.07 248.67,223.07 249.97,223.07 251.28,223.07 252.58,223.07 253.88,223.07 255.19,223.07 256.49,223.07 257.8,223.07 259.1,223.07 260.4,223.07 261.71,223.07 263.01,223.07 264.32,223.07 265.62,223.07 266.92,223.07 268.23,223.07 269.53,223.07 270.84,223.07 272.14,223.07 273.44,223.07 274.75,223.07 276.05,223.07 277.36,223.07 278.66,223.07 279.96,223.07 281.27,223.07 282.57,223.07 283.88,223.07 285.18,223.07 286.48,223.07 287.79,223.07 289.09,223.07 290.4,223.07 291.7,223.07" fill="none" stroke="#3072b3" stroke-width="1.7" stroke-linejoin="round" stroke-opacity="0.12"/>
<polyline points="96.1,95.11 97.4,95.75 98.71,97.64 100.01,100.74 101.32,104.94 102.62,110.14 103.92,116.18 105.23,122.9 106.53,130.13 107.84,137.69 109.14,145.4 110.44,153.11 111.75,160.67 113.05,167.93 114.36,174.79 115.66,181.17 116.96,186.99 118.27,192.2 119.57,196.77 120.88,200.68 122.18,203.93 123.48,206.52 124.79,208.44 126.09,209.7 127.4,210.31 128.7,210.25 130,209.51 131.31,208.09 132.61,205.96 133.92,203.09 135.22,199.47 136.52,195.07 137.83,189.88 139.13,183.89 140.44,177.11 141.74,169.59 143.04,161.37 144.35,152.54 145.65,143.21 146.96,133.52 148.26,123.64 149.56,113.75 150.87,104.06 152.17,94.8 153.48,86.19 154.78,78.45 156.08,71.8 157.39,66.41 158.69,62.45 160,60.02 161.3,59.2 162.6,60.02 163.91,62.45 165.21,66.41 166.52,71.8 167.82,78.46 169.12,86.2 170.43,94.81 171.73,104.08 173.04,113.78 174.34,123.68 175.64,133.59 176.95,143.31 178.25,152.68 179.56,161.57 180.86,169.87 182.16,177.51 183.47,184.44 184.77,190.64 186.08,196.12 187.38,200.89 188.68,205 189.99,208.5 191.29,211.43 192.6,213.87 193.9,215.87 195.2,217.49 196.51,218.79 197.81,219.82 199.12,220.62 200.42,221.25 201.72,221.73 203.03,222.09 204.33,222.36 205.64,222.56 206.94,222.71 208.24,222.82 209.55,222.9 210.85,222.95 212.16,222.99 213.46,223.02 214.76,223.03 216.07,223.05 217.37,223.05 218.68,223.06 219.98,223.06 221.28,223.07 222.59,223.07 223.89,223.07 225.2,223.07 226.5,223.07 227.8,223.07 229.11,223.07 230.41,223.07 231.72,223.07 233.02,223.07 234.32,223.07 235.63,223.07 236.93,223.07 238.24,223.07 239.54,223.07 240.84,223.07 242.15,223.07 243.45,223.07 244.76,223.07 246.06,223.07 247.36,223.07 248.67,223.07 249.97,223.07 251.28,223.07 252.58,223.07 253.88,223.07 255.19,223.07 256.49,223.07 257.8,223.07 259.1,223.07 260.4,223.07 261.71,223.07 263.01,223.07 264.32,223.07 265.62,223.07 266.92,223.07 268.23,223.07 269.53,223.07 270.84,223.07 272.14,223.07 273.44,223.07 274.75,223.07 276.05,223.07 277.36,223.07 278.66,223.07 279.96,223.07 281.27,223.07 282.57,223.07 283.88,223.07 285.18,223.07 286.48,223.07 287.79,223.07 289.09,223.07 290.4,223.07 291.7,223.07" fill="none" stroke="#3072b3" stroke-width="1.7" stroke-linejoin="round" stroke-opacity="0.12"/>
<polyline points="96.1,85.56 97.4,86.25 98.71,88.29 100.01,91.61 101.32,96.13 102.62,101.72 103.92,108.21 105.23,115.43 106.53,123.2 107.84,131.32 109.14,139.62 110.44,147.91 111.75,156.03 113.05,163.84 114.36,171.23 115.66,178.09 116.96,184.36 118.27,189.99 119.57,194.94 120.88,199.19 122.18,202.75 123.48,205.61 124.79,207.78 126.09,209.28 127.4,210.1 128.7,210.25 130,209.73 131.31,208.52 132.61,206.62 133.92,204 135.22,200.66 136.52,196.56 137.83,191.71 139.13,186.1 140.44,179.74 141.74,172.67 143.04,164.94 144.35,156.63 145.65,147.85 146.96,138.73 148.26,129.42 149.56,120.11 150.87,110.99 152.17,102.27 153.48,94.16 154.78,86.88 156.08,80.61 157.39,75.54 158.69,71.8 160,69.52 161.3,68.75 162.6,69.52 163.91,71.8 165.21,75.54 166.52,80.61 167.82,86.88 169.12,94.17 170.43,102.28 171.73,111.01 173.04,120.14 174.34,129.47 175.64,138.8 176.95,147.95 178.25,156.78 179.56,165.15 180.86,172.97 182.16,180.16 183.47,186.69 184.77,192.53 186.08,197.69 187.38,202.18 188.68,206.06 189.99,209.35 191.29,212.11 192.6,214.41 193.9,216.29 195.2,217.82 196.51,219.04 197.81,220.01 199.12,220.77 200.42,221.36 201.72,221.81 203.03,222.15 204.33,222.4 205.64,222.59 206.94,222.73 208.24,222.83 209.55,222.91 210.85,222.96 212.16,222.99 213.46,223.02 214.76,223.04 216.07,223.05 217.37,223.06 218.68,223.06 219.98,223.06 221.28,223.07 222.59,223.07 223.89,223.07 225.2,223.07 226.5,223.07 227.8,223.07 229.11,223.07 230.41,223.07 231.72,223.07 233.02,223.07 234.32,223.07 235.63,223.07 236.93,223.07 238.24,223.07 239.54,223.07 240.84,223.07 242.15,223.07 243.45,223.07 244.76,223.07 246.06,223.07 247.36,223.07 248.67,223.07 249.97,223.07 251.28,223.07 252.58,223.07 253.88,223.07 255.19,223.07 256.49,223.07 257.8,223.07 259.1,223.07 260.4,223.07 261.71,223.07 263.01,223.07 264.32,223.07 265.62,223.07 266.92,223.07 268.23,223.07 269.53,223.07 270.84,223.07 272.14,223.07 273.44,223.07 274.75,223.07 276.05,223.07 277.36,223.07 278.66,223.07 279.96,223.07 281.27,223.07 282.57,223.07 283.88,223.07 285.18,223.07 286.48,223.07 287.79,223.07 289.09,223.07 290.4,223.07 291.7,223.07" fill="none" stroke="#3072b3" stroke-width="1.7" stroke-linejoin="round" stroke-opacity="0.12"/>
<polyline points="96.1,93.92 97.4,94.57 98.71,96.48 100.01,99.6 101.32,103.85 102.62,109.09 103.92,115.19 105.23,121.97 106.53,129.27 107.84,136.9 109.14,144.68 110.44,152.47 111.75,160.09 113.05,167.42 114.36,174.35 115.66,180.79 116.96,186.66 118.27,191.92 119.57,196.54 120.88,200.5 122.18,203.78 123.48,206.4 124.79,208.36 126.09,209.65 127.4,210.28 128.7,210.25 130,209.54 131.31,208.15 132.61,206.04 133.92,203.21 135.22,199.62 136.52,195.26 137.83,190.1 139.13,184.16 140.44,177.44 141.74,169.97 143.04,161.82 144.35,153.05 145.65,143.79 146.96,134.17 148.26,124.36 149.56,114.54 150.87,104.92 152.17,95.73 153.48,87.18 154.78,79.5 156.08,72.89 157.39,67.55 158.69,63.61 160,61.2 161.3,60.39 162.6,61.2 163.91,63.61 165.21,67.55 166.52,72.9 167.82,79.51 169.12,87.19 170.43,95.74 171.73,104.94 173.04,114.57 174.34,124.4 175.64,134.23 176.95,143.88 178.25,153.19 179.56,162.01 180.86,170.26 182.16,177.84 183.47,184.72 184.77,190.88 186.08,196.31 187.38,201.05 188.68,205.13 189.99,208.6 191.29,211.52 192.6,213.94 193.9,215.92 195.2,217.53 196.51,218.82 197.81,219.84 199.12,220.64 200.42,221.26 201.72,221.74 203.03,222.1 204.33,222.37 205.64,222.57 206.94,222.71 208.24,222.82 209.55,222.9 210.85,222.95 212.16,222.99 213.46,223.02 214.76,223.03 216.07,223.05 217.37,223.05 218.68,223.06 219.98,223.06 221.28,223.07 222.59,223.07 223.89,223.07 225.2,223.07 226.5,223.07 227.8,223.07 229.11,223.07 230.41,223.07 231.72,223.07 233.02,223.07 234.32,223.07 235.63,223.07 236.93,223.07 238.24,223.07 239.54,223.07 240.84,223.07 242.15,223.07 243.45,223.07 244.76,223.07 246.06,223.07 247.36,223.07 248.67,223.07 249.97,223.07 251.28,223.07 252.58,223.07 253.88,223.07 255.19,223.07 256.49,223.07 257.8,223.07 259.1,223.07 260.4,223.07 261.71,223.07 263.01,223.07 264.32,223.07 265.62,223.07 266.92,223.07 268.23,223.07 269.53,223.07 270.84,223.07 272.14,223.07 273.44,223.07 274.75,223.07 276.05,223.07 277.36,223.07 278.66,223.07 279.96,223.07 281.27,223.07 282.57,223.07 283.88,223.07 285.18,223.07 286.48,223.07 287.79,223.07 289.09,223.07 290.4,223.07 291.7,223.07" fill="none" stroke="#3072b3" stroke-width="1.7" stroke-linejoin="round" stroke-opacity="0.12"/>
<polyline points="96.1,82.51 97.4,83.21 98.71,85.29 100.01,88.69 101.32,93.31 102.62,99.02 103.92,105.65 105.23,113.04 106.53,120.98 107.84,129.29 109.14,137.76 110.44,146.24 111.75,154.54 113.05,162.53 114.36,170.08 115.66,177.11 116.96,183.52 118.27,189.28 119.57,194.35 120.88,198.71 122.18,202.37 123.48,205.32 124.79,207.57 126.09,209.14 127.4,210.03 128.7,210.25 130,209.79 131.31,208.66 132.61,206.83 133.92,204.3 135.22,201.04 136.52,197.04 137.83,192.29 139.13,186.8 140.44,180.58 141.74,173.65 143.04,166.08 144.35,157.94 145.65,149.34 146.96,140.4 148.26,131.28 149.56,122.15 150.87,113.21 152.17,104.66 153.48,96.71 154.78,89.57 156.08,83.43 157.39,78.46 158.69,74.8 160,72.56 161.3,71.8 162.6,72.56 163.91,74.8 165.21,78.46 166.52,83.43 167.82,89.58 169.12,96.72 170.43,104.67 171.73,113.23 173.04,122.18 174.34,131.32 175.64,140.47 176.95,149.44 178.25,158.09 179.56,166.3 180.86,173.96 182.16,181.01 183.47,187.41 184.77,193.13 186.08,198.19 187.38,202.6 188.68,206.39 189.99,209.62 191.29,212.33 192.6,214.58 193.9,216.42 195.2,217.92 196.51,219.12 197.81,220.07 199.12,220.81 200.42,221.39 201.72,221.83 203.03,222.17 204.33,222.42 205.64,222.6 206.94,222.74 208.24,222.84 209.55,222.91 210.85,222.96 212.16,222.99 213.46,223.02 214.76,223.04 216.07,223.05 217.37,223.06 218.68,223.06 219.98,223.06 221.28,223.07 222.59,223.07 223.89,223.07 225.2,223.07 226.5,223.07 227.8,223.07 229.11,223.07 230.41,223.07 231.72,223.07 233.02,223.07 234.32,223.07 235.63,223.07 236.93,223.07 238.24,223.07 239.54,223.07 240.84,223.07 242.15,223.07 243.45,223.07 244.76,223.07 246.06,223.07 247.36,223.07 248.67,223.07 249.97,223.07 251.28,223.07 252.58,223.07 253.88,223.07 255.19,223.07 256.49,223.07 257.8,223.07 259.1,223.07 260.4,223.07 261.71,223.07 263.01,223.07 264.32,223.07 265.62,223.07 266.92,223.07 268.23,223.07 269.53,223.07 270.84,223.07 272.14,223.07 273.44,223.07 274.75,223.07 276.05,223.07 277.36,223.07 278.66,223.07 279.96,223.07 281.27,223.07 282.57,223.07 283.88,223.07 285.18,223.07 286.48,223.07 287.79,223.07 289.09,223.07 290.4,223.07 291.7,223.07" fill="none" stroke="#3072b3" stroke-width="1.7" stroke-linejoin="round" stroke-opacity="0.12"/>
<polyline points="96.1,80.68 97.4,81.39 98.71,83.5 100.01,86.94 101.32,91.62 102.62,97.41 103.92,104.13 105.23,111.61 106.53,119.65 107.84,128.07 109.14,136.66 110.44,145.24 111.75,153.65 113.05,161.75 114.36,169.4 115.66,176.52 116.96,183.02 118.27,188.86 119.57,194 120.88,198.43 122.18,202.14 123.48,205.14 124.79,207.44 126.09,209.06 127.4,209.99 128.7,210.25 130,209.83 131.31,208.74 132.61,206.96 133.92,204.47 135.22,201.26 136.52,197.33 137.83,192.65 139.13,187.23 140.44,181.08 141.74,174.24 143.04,166.77 144.35,158.73 145.65,150.23 146.96,141.4 148.26,132.38 149.56,123.37 150.87,114.54 152.17,106.09 153.48,98.24 154.78,91.19 156.08,85.12 157.39,80.21 158.69,76.59 160,74.38 161.3,73.63 162.6,74.38 163.91,76.59 165.21,80.21 166.52,85.12 167.82,91.19 169.12,98.25 170.43,106.11 171.73,114.56 173.04,123.4 174.34,132.43 175.64,141.47 176.95,150.33 178.25,158.88 179.56,166.98 180.86,174.55 182.16,181.52 183.47,187.84 184.77,193.5 186.08,198.49 187.38,202.85 188.68,206.59 189.99,209.78 191.29,212.46 192.6,214.68 193.9,216.5 195.2,217.98 196.51,219.17 197.81,220.11 199.12,220.84 200.42,221.41 201.72,221.85 203.03,222.18 204.33,222.42 205.64,222.61 206.94,222.74 208.24,222.84 209.55,222.91 210.85,222.96 212.16,223 213.46,223.02 214.76,223.04 216.07,223.05 217.37,223.06 218.68,223.06 219.98,223.06 221.28,223.07 222.59,223.07 223.89,223.07 225.2,223.07 226.5,223.07 227.8,223.07 229.11,223.07 230.41,223.07 231.72,223.07 233.02,223.07 234.32,223.07 235.63,223.07 236.93,223.07 238.24,223.07 239.54,223.07 240.84,223.07 242.15,223.07 243.45,223.07 244.76,223.07 246.06,223.07 247.36,223.07 248.67,223.07 249.97,223.07 251.28,223.07 252.58,223.07 253.88,223.07 255.19,223.07 256.49,223.07 257.8,223.07 259.1,223.07 260.4,223.07 261.71,223.07 263.01,223.07 264.32,223.07 265.62,223.07 266.92,223.07 268.23,223.07 269.53,223.07 270.84,223.07 272.14,223.07 273.44,223.07 274.75,223.07 276.05,223.07 277.36,223.07 278.66,223.07 279.96,223.07 281.27,223.07 282.57,223.07 283.88,223.07 285.18,223.07 286.48,223.07 287.79,223.07 289.09,223.07 290.4,223.07 291.7,223.07" fill="none" stroke="#3072b3" stroke-width="1.7" stroke-linejoin="round" stroke-opacity="0.12"/>
<polyline points="96.1,83.84 97.4,84.53 98.71,86.59 100.01,89.96 101.32,94.54 102.62,100.19 103.92,106.77 105.23,114.08 106.53,121.95 107.84,130.17 109.14,138.57 110.44,146.96 111.75,155.19 113.05,163.1 114.36,170.58 115.66,177.53 116.96,183.89 118.27,189.59 119.57,194.6 120.88,198.92 122.18,202.53 123.48,205.44 124.79,207.66 126.09,209.2 127.4,210.06 128.7,210.25 130,209.76 131.31,208.6 132.61,206.74 133.92,204.17 135.22,200.87 136.52,196.83 137.83,192.04 139.13,186.5 140.44,180.21 141.74,173.22 143.04,165.59 144.35,157.37 145.65,148.69 146.96,139.67 148.26,130.47 149.56,121.26 150.87,112.24 152.17,103.62 153.48,95.6 154.78,88.4 156.08,82.2 157.39,77.19 158.69,73.49 160,71.23 161.3,70.47 162.6,71.24 163.91,73.5 165.21,77.19 166.52,82.21 167.82,88.4 169.12,95.61 170.43,103.63 171.73,112.26 173.04,121.29 174.34,130.52 175.64,139.74 176.95,148.79 178.25,157.52 179.56,165.8 180.86,173.53 182.16,180.64 183.47,187.1 184.77,192.87 186.08,197.97 187.38,202.42 188.68,206.25 189.99,209.5 191.29,212.23 192.6,214.5 193.9,216.37 195.2,217.87 196.51,219.08 197.81,220.04 199.12,220.79 200.42,221.37 201.72,221.82 203.03,222.16 204.33,222.41 205.64,222.6 206.94,222.74 208.24,222.84 209.55,222.91 210.85,222.96 212.16,222.99 213.46,223.02 214.76,223.04 216.07,223.05 217.37,223.06 218.68,223.06 219.98,223.06 221.28,223.07 222.59,223.07 223.89,223.07 225.2,223.07 226.5,223.07 227.8,223.07 229.11,223.07 230.41,223.07 231.72,223.07 233.02,223.07 234.32,223.07 235.63,223.07 236.93,223.07 238.24,223.07 239.54,223.07 240.84,223.07 242.15,223.07 243.45,223.07 244.76,223.07 246.06,223.07 247.36,223.07 248.67,223.07 249.97,223.07 251.28,223.07 252.58,223.07 253.88,223.07 255.19,223.07 256.49,223.07 257.8,223.07 259.1,223.07 260.4,223.07 261.71,223.07 263.01,223.07 264.32,223.07 265.62,223.07 266.92,223.07 268.23,223.07 269.53,223.07 270.84,223.07 272.14,223.07 273.44,223.07 274.75,223.07 276.05,223.07 277.36,223.07 278.66,223.07 279.96,223.07 281.27,223.07 282.57,223.07 283.88,223.07 285.18,223.07 286.48,223.07 287.79,223.07 289.09,223.07 290.4,223.07 291.7,223.07" fill="none" stroke="#3072b3" stroke-width="1.7" stroke-linejoin="round" stroke-opacity="0.12"/>
<polyline points="96.1,69.96 97.4,70.73 98.71,72.99 100.01,76.7 101.32,81.73 102.62,87.95 103.92,95.18 105.23,103.22 106.53,111.87 107.84,120.92 109.14,130.16 110.44,139.39 111.75,148.44 113.05,157.15 114.36,165.4 115.66,173.06 116.96,180.07 118.27,186.38 119.57,191.94 120.88,196.75 122.18,200.81 123.48,204.12 124.79,206.7 126.09,208.58 127.4,209.75 128.7,210.25 130,210.07 131.31,209.22 132.61,207.7 133.92,205.49 135.22,202.6 136.52,199 137.83,194.7 139.13,189.71 140.44,184.03 141.74,177.7 143.04,170.77 144.35,163.32 145.65,155.44 146.96,147.24 148.26,138.88 149.56,130.51 150.87,122.32 152.17,114.48 153.48,107.19 154.78,100.64 156.08,95.01 157.39,90.45 158.69,87.09 160,85.04 161.3,84.35 162.6,85.04 163.91,87.1 165.21,90.45 166.52,95.01 167.82,100.65 169.12,107.2 170.43,114.49 171.73,122.34 173.04,130.55 174.34,138.93 175.64,147.32 176.95,155.55 178.25,163.48 179.56,171.01 180.86,178.03 182.16,184.5 183.47,190.37 184.77,195.62 186.08,200.25 187.38,204.3 188.68,207.78 189.99,210.73 191.29,213.22 192.6,215.28 193.9,216.98 195.2,218.35 196.51,219.45 197.81,220.32 199.12,221 200.42,221.53 201.72,221.93 203.03,222.24 204.33,222.47 205.64,222.64 206.94,222.77 208.24,222.86 209.55,222.92 210.85,222.97 212.16,223 213.46,223.02 214.76,223.04 216.07,223.05 217.37,223.06 218.68,223.06 219.98,223.06 221.28,223.07 222.59,223.07 223.89,223.07 225.2,223.07 226.5,223.07 227.8,223.07 229.11,223.07 230.41,223.07 231.72,223.07 233.02,223.07 234.32,223.07 235.63,223.07 236.93,223.07 238.24,223.07 239.54,223.07 240.84,223.07 242.15,223.07 243.45,223.07 244.76,223.07 246.06,223.07 247.36,223.07 248.67,223.07 249.97,223.07 251.28,223.07 252.58,223.07 253.88,223.07 255.19,223.07 256.49,223.07 257.8,223.07 259.1,223.07 260.4,223.07 261.71,223.07 263.01,223.07 264.32,223.07 265.62,223.07 266.92,223.07 268.23,223.07 269.53,223.07 270.84,223.07 272.14,223.07 273.44,223.07 274.75,223.07 276.05,223.07 277.36,223.07 278.66,223.07 279.96,223.07 281.27,223.07 282.57,223.07 283.88,223.07 285.18,223.07 286.48,223.07 287.79,223.07 289.09,223.07 290.4,223.07 291.7,223.07" fill="none" stroke="#3072b3" stroke-width="1.7" stroke-linejoin="round" stroke-opacity="0.12"/>
<polyline points="96.1,76.92 97.4,77.65 98.71,79.81 100.01,83.35 101.32,88.15 102.62,94.09 103.92,100.99 105.23,108.66 106.53,116.92 107.84,125.56 109.14,134.38 110.44,143.19 111.75,151.82 113.05,160.13 114.36,167.99 115.66,175.3 116.96,181.98 118.27,187.99 119.57,193.28 120.88,197.84 122.18,201.67 123.48,204.78 124.79,207.18 126.09,208.89 127.4,209.91 128.7,210.25 130,209.92 131.31,208.91 132.61,207.22 133.92,204.83 135.22,201.73 136.52,197.91 137.83,193.37 139.13,188.1 140.44,182.12 141.74,175.46 143.04,168.17 144.35,160.34 145.65,152.06 146.96,143.45 148.26,134.66 149.56,125.88 150.87,117.27 152.17,109.04 153.48,101.38 154.78,94.51 156.08,88.59 157.39,83.8 158.69,80.28 160,78.12 161.3,77.39 162.6,78.12 163.91,80.28 165.21,83.8 166.52,88.59 167.82,94.51 169.12,101.39 170.43,109.05 171.73,117.29 173.04,125.91 174.34,134.71 175.64,143.52 176.95,152.16 178.25,160.49 179.56,168.4 180.86,175.78 182.16,182.57 183.47,188.73 184.77,194.24 186.08,199.11 187.38,203.35 188.68,207.01 189.99,210.12 191.29,212.73 192.6,214.89 193.9,216.67 195.2,218.11 196.51,219.26 197.81,220.18 199.12,220.9 200.42,221.45 201.72,221.88 203.03,222.2 204.33,222.44 205.64,222.62 206.94,222.75 208.24,222.85 209.55,222.91 210.85,222.96 212.16,223 213.46,223.02 214.76,223.04 216.07,223.05 217.37,223.06 218.68,223.06 219.98,223.06 221.28,223.07 222.59,223.07 223.89,223.07 225.2,223.07 226.5,223.07 227.8,223.07 229.11,223.07 230.41,223.07 231.72,223.07 233.02,223.07 234.32,223.07 235.63,223.07 236.93,223.07 238.24,223.07 239.54,223.07 240.84,223.07 242.15,223.07 243.45,223.07 244.76,223.07 246.06,223.07 247.36,223.07 248.67,223.07 249.97,223.07 251.28,223.07 252.58,223.07 253.88,223.07 255.19,223.07 256.49,223.07 257.8,223.07 259.1,223.07 260.4,223.07 261.71,223.07 263.01,223.07 264.32,223.07 265.62,223.07 266.92,223.07 268.23,223.07 269.53,223.07 270.84,223.07 272.14,223.07 273.44,223.07 274.75,223.07 276.05,223.07 277.36,223.07 278.66,223.07 279.96,223.07 281.27,223.07 282.57,223.07 283.88,223.07 285.18,223.07 286.48,223.07 287.79,223.07 289.09,223.07 290.4,223.07 291.7,223.07" fill="none" stroke="#3072b3" stroke-width="1.7" stroke-linejoin="round" stroke-opacity="0.12"/>
<polyline points="96.1,78.84 97.4,79.56 98.71,81.7 100.01,85.19 101.32,89.93 102.62,95.79 103.92,102.59 105.23,110.17 106.53,118.32 107.84,126.84 109.14,135.54 110.44,144.24 111.75,152.76 113.05,160.96 114.36,168.71 115.66,175.92 116.96,182.51 118.27,188.43 119.57,193.65 120.88,198.14 122.18,201.91 123.48,204.97 124.79,207.32 126.09,208.97 127.4,209.95 128.7,210.25 130,209.87 131.31,208.82 132.61,207.08 133.92,204.64 135.22,201.49 136.52,197.61 137.83,193 139.13,187.65 140.44,181.59 141.74,174.84 143.04,167.45 144.35,159.51 145.65,151.12 146.96,142.4 148.26,133.5 149.56,124.59 150.87,115.87 152.17,107.53 153.48,99.77 154.78,92.81 156.08,86.81 157.39,81.96 158.69,78.39 160,76.2 161.3,75.47 162.6,76.2 163.91,78.39 165.21,81.96 166.52,86.82 167.82,92.81 169.12,99.78 170.43,107.54 171.73,115.89 173.04,124.62 174.34,133.55 175.64,142.47 176.95,151.22 178.25,159.67 179.56,167.67 180.86,175.15 182.16,182.03 183.47,188.27 184.77,193.86 186.08,198.79 187.38,203.09 188.68,206.8 189.99,209.95 191.29,212.59 192.6,214.78 193.9,216.58 195.2,218.04 196.51,219.21 197.81,220.14 199.12,220.87 200.42,221.43 201.72,221.86 203.03,222.19 204.33,222.43 205.64,222.61 206.94,222.75 208.24,222.84 209.55,222.91 210.85,222.96 212.16,223 213.46,223.02 214.76,223.04 216.07,223.05 217.37,223.06 218.68,223.06 219.98,223.06 221.28,223.07 222.59,223.07 223.89,223.07 225.2,223.07 226.5,223.07 227.8,223.07 229.11,223.07 230.41,223.07 231.72,223.07 233.02,223.07 234.32,223.07 235.63,223.07 236.93,223.07 238.24,223.07 239.54,223.07 240.84,223.07 242.15,223.07 243.45,223.07 244.76,223.07 246.06,223.07 247.36,223.07 248.67,223.07 249.97,223.07 251.28,223.07 252.58,223.07 253.88,223.07 255.19,223.07 256.49,223.07 257.8,223.07 259.1,223.07 260.4,223.07 261.71,223.07 263.01,223.07 264.32,223.07 265.62,223.07 266.92,223.07 268.23,223.07 269.53,223.07 270.84,223.07 272.14,223.07 273.44,223.07 274.75,223.07 276.05,223.07 277.36,223.07 278.66,223.07 279.96,223.07 281.27,223.07 282.57,223.07 283.88,223.07 285.18,223.07 286.48,223.07 287.79,223.07 289.09,223.07 290.4,223.07 291.7,223.07" fill="none" stroke="#3072b3" stroke-width="1.7" stroke-linejoin="round" stroke-opacity="0.12"/>
<polyline points="96.1,79.06 97.4,79.78 98.71,81.91 100.01,85.4 101.32,90.13 102.62,95.98 103.92,102.78 105.23,110.34 106.53,118.48 107.84,126.99 109.14,135.68 110.44,144.36 111.75,152.87 113.05,161.05 114.36,168.8 115.66,175.99 116.96,182.57 118.27,188.48 119.57,193.69 120.88,198.17 122.18,201.94 123.48,204.99 124.79,207.33 126.09,208.98 127.4,209.95 128.7,210.25 130,209.87 131.31,208.81 132.61,207.07 133.92,204.62 135.22,201.47 136.52,197.58 137.83,192.96 139.13,187.6 140.44,181.53 141.74,174.77 143.04,167.37 144.35,159.42 145.65,151.01 146.96,142.28 148.26,133.36 149.56,124.45 150.87,115.71 152.17,107.36 153.48,99.59 154.78,92.61 156.08,86.61 157.39,81.75 158.69,78.18 160,75.99 161.3,75.25 162.6,75.99 163.91,78.18 165.21,81.76 166.52,86.62 167.82,92.62 169.12,99.6 170.43,107.37 171.73,115.73 173.04,124.48 174.34,133.41 175.64,142.35 176.95,151.12 178.25,159.57 179.56,167.59 180.86,175.08 182.16,181.97 183.47,188.22 184.77,193.82 186.08,198.76 187.38,203.06 188.68,206.77 189.99,209.93 191.29,212.57 192.6,214.77 193.9,216.58 195.2,218.04 196.51,219.21 197.81,220.14 199.12,220.86 200.42,221.43 201.72,221.86 203.03,222.19 204.33,222.43 205.64,222.61 206.94,222.75 208.24,222.84 209.55,222.91 210.85,222.96 212.16,223 213.46,223.02 214.76,223.04 216.07,223.05 217.37,223.06 218.68,223.06 219.98,223.06 221.28,223.07 222.59,223.07 223.89,223.07 225.2,223.07 226.5,223.07 227.8,223.07 229.11,223.07 230.41,223.07 231.72,223.07 233.02,223.07 234.32,223.07 235.63,223.07 236.93,223.07 238.24,223.07 239.54,223.07 240.84,223.07 242.15,223.07 243.45,223.07 244.76,223.07 246.06,223.07 247.36,223.07 248.67,223.07 249.97,223.07 251.28,223.07 252.58,223.07 253.88,223.07 255.19,223.07 256.49,223.07 257.8,223.07 259.1,223.07 260.4,223.07 261.71,223.07 263.01,223.07 264.32,223.07 265.62,223.07 266.92,223.07 268.23,223.07 269.53,223.07 270.84,223.07 272.14,223.07 273.44,223.07 274.75,223.07 276.05,223.07 277.36,223.07 278.66,223.07 279.96,223.07 281.27,223.07 282.57,223.07 283.88,223.07 285.18,223.07 286.48,223.07 287.79,223.07 289.09,223.07 290.4,223.07 291.7,223.07" fill="none" stroke="#3072b3" stroke-width="1.7" stroke-linejoin="round" stroke-opacity="0.12"/>
<polyline points="96.1,72.34 97.4,73.09 98.71,75.33 100.01,78.97 101.32,83.93 102.62,90.05 103.92,97.16 105.23,105.08 106.53,113.6 107.84,122.51 109.14,131.6 110.44,140.69 111.75,149.6 113.05,158.17 114.36,166.28 115.66,173.83 116.96,180.73 118.27,186.93 119.57,192.4 120.88,197.12 122.18,201.1 123.48,204.35 124.79,206.87 126.09,208.68 127.4,209.8 128.7,210.25 130,210.02 131.31,209.11 132.61,207.53 133.92,205.26 135.22,202.3 136.52,198.63 137.83,194.25 139.13,189.16 140.44,183.37 141.74,176.93 143.04,169.88 144.35,162.3 145.65,154.28 146.96,145.94 148.26,137.44 149.56,128.93 150.87,120.59 152.17,112.62 153.48,105.2 154.78,98.54 156.08,92.81 157.39,88.18 158.69,84.76 160,82.67 161.3,81.97 162.6,82.67 163.91,84.76 165.21,88.18 166.52,92.82 167.82,98.55 169.12,105.21 170.43,112.63 171.73,120.61 173.04,128.96 174.34,137.49 175.64,146.02 176.95,154.39 178.25,162.46 179.56,170.11 180.86,177.26 182.16,183.84 183.47,189.81 184.77,195.15 186.08,199.86 187.38,203.97 188.68,207.51 189.99,210.52 191.29,213.05 192.6,215.15 193.9,216.87 195.2,218.27 196.51,219.38 197.81,220.27 199.12,220.96 200.42,221.5 201.72,221.91 203.03,222.23 204.33,222.46 205.64,222.63 206.94,222.76 208.24,222.85 209.55,222.92 210.85,222.97 212.16,223 213.46,223.02 214.76,223.04 216.07,223.05 217.37,223.06 218.68,223.06 219.98,223.06 221.28,223.07 222.59,223.07 223.89,223.07 225.2,223.07 226.5,223.07 227.8,223.07 229.11,223.07 230.41,223.07 231.72,223.07 233.02,223.07 234.32,223.07 235.63,223.07 236.93,223.07 238.24,223.07 239.54,223.07 240.84,223.07 242.15,223.07 243.45,223.07 244.76,223.07 246.06,223.07 247.36,223.07 248.67,223.07 249.97,223.07 251.28,223.07 252.58,223.07 253.88,223.07 255.19,223.07 256.49,223.07 257.8,223.07 259.1,223.07 260.4,223.07 261.71,223.07 263.01,223.07 264.32,223.07 265.62,223.07 266.92,223.07 268.23,223.07 269.53,223.07 270.84,223.07 272.14,223.07 273.44,223.07 274.75,223.07 276.05,223.07 277.36,223.07 278.66,223.07 279.96,223.07 281.27,223.07 282.57,223.07 283.88,223.07 285.18,223.07 286.48,223.07 287.79,223.07 289.09,223.07 290.4,223.07 291.7,223.07" fill="none" stroke="#3072b3" stroke-width="1.7" stroke-linejoin="round" stroke-opacity="0.12"/>
<polyline points="96.1,74.17 97.4,74.91 98.71,77.11 100.01,80.72 101.32,85.61 102.62,91.66 103.92,98.69 105.23,106.51 106.53,114.92 107.84,123.72 109.14,132.71 110.44,141.69 111.75,150.49 113.05,158.96 114.36,166.97 115.66,174.42 116.96,181.23 118.27,187.35 119.57,192.75 120.88,197.41 122.18,201.33 123.48,204.52 124.79,206.99 126.09,208.76 127.4,209.85 128.7,210.25 130,209.98 131.31,209.03 132.61,207.41 133.92,205.09 135.22,202.07 136.52,198.34 137.83,193.9 139.13,188.73 140.44,182.87 141.74,176.34 143.04,169.2 144.35,161.52 145.65,153.39 146.96,144.95 148.26,136.33 149.56,127.71 150.87,119.26 152.17,111.19 153.48,103.68 154.78,96.93 156.08,91.13 157.39,86.43 158.69,82.97 160,80.86 161.3,80.15 162.6,80.86 163.91,82.98 165.21,86.44 166.52,91.13 167.82,96.94 169.12,103.69 170.43,111.2 171.73,119.29 173.04,127.74 174.34,136.38 175.64,145.02 176.95,153.5 178.25,161.68 179.56,169.43 180.86,176.67 182.16,183.33 183.47,189.38 184.77,194.79 186.08,199.56 187.38,203.73 188.68,207.31 189.99,210.36 191.29,212.92 192.6,215.05 193.9,216.79 195.2,218.2 196.51,219.34 197.81,220.23 199.12,220.94 200.42,221.48 201.72,221.9 203.03,222.22 204.33,222.45 205.64,222.63 206.94,222.76 208.24,222.85 209.55,222.92 210.85,222.97 212.16,223 213.46,223.02 214.76,223.04 216.07,223.05 217.37,223.06 218.68,223.06 219.98,223.06 221.28,223.07 222.59,223.07 223.89,223.07 225.2,223.07 226.5,223.07 227.8,223.07 229.11,223.07 230.41,223.07 231.72,223.07 233.02,223.07 234.32,223.07 235.63,223.07 236.93,223.07 238.24,223.07 239.54,223.07 240.84,223.07 242.15,223.07 243.45,223.07 244.76,223.07 246.06,223.07 247.36,223.07 248.67,223.07 249.97,223.07 251.28,223.07 252.58,223.07 253.88,223.07 255.19,223.07 256.49,223.07 257.8,223.07 259.1,223.07 260.4,223.07 261.71,223.07 263.01,223.07 264.32,223.07 265.62,223.07 266.92,223.07 268.23,223.07 269.53,223.07 270.84,223.07 272.14,223.07 273.44,223.07 274.75,223.07 276.05,223.07 277.36,223.07 278.66,223.07 279.96,223.07 281.27,223.07 282.57,223.07 283.88,223.07 285.18,223.07 286.48,223.07 287.79,223.07 289.09,223.07 290.4,223.07 291.7,223.07" fill="none" stroke="#3072b3" stroke-width="1.7" stroke-linejoin="round" stroke-opacity="0.12"/>
<polyline points="96.1,69.95 97.4,70.72 98.71,72.98 100.01,76.69 101.32,81.72 102.62,87.94 103.92,95.17 105.23,103.21 106.53,111.86 107.84,120.91 109.14,130.15 110.44,139.39 111.75,148.44 113.05,157.15 114.36,165.39 115.66,173.06 116.96,180.07 118.27,186.37 119.57,191.94 120.88,196.75 122.18,200.81 123.48,204.12 124.79,206.7 126.09,208.57 127.4,209.75 128.7,210.25 130,210.07 131.31,209.22 132.61,207.7 133.92,205.49 135.22,202.6 136.52,199 137.83,194.7 139.13,189.71 140.44,184.03 141.74,177.7 143.04,170.78 144.35,163.32 145.65,155.44 146.96,147.25 148.26,138.89 149.56,130.52 150.87,122.32 152.17,114.49 153.48,107.2 154.78,100.65 156.08,95.02 157.39,90.46 158.69,87.11 160,85.05 161.3,84.36 162.6,85.05 163.91,87.11 165.21,90.46 166.52,95.02 167.82,100.66 169.12,107.21 170.43,114.5 171.73,122.35 173.04,130.55 174.34,138.94 175.64,147.32 176.95,155.55 178.25,163.49 179.56,171.01 180.86,178.04 182.16,184.5 183.47,190.37 184.77,195.62 186.08,200.26 187.38,204.3 188.68,207.78 189.99,210.74 191.29,213.22 192.6,215.28 193.9,216.98 195.2,218.35 196.51,219.45 197.81,220.32 199.12,221 200.42,221.53 201.72,221.93 203.03,222.24 204.33,222.47 205.64,222.64 206.94,222.77 208.24,222.86 209.55,222.92 210.85,222.97 212.16,223 213.46,223.02 214.76,223.04 216.07,223.05 217.37,223.06 218.68,223.06 219.98,223.06 221.28,223.07 222.59,223.07 223.89,223.07 225.2,223.07 226.5,223.07 227.8,223.07 229.11,223.07 230.41,223.07 231.72,223.07 233.02,223.07 234.32,223.07 235.63,223.07 236.93,223.07 238.24,223.07 239.54,223.07 240.84,223.07 242.15,223.07 243.45,223.07 244.76,223.07 246.06,223.07 247.36,223.07 248.67,223.07 249.97,223.07 251.28,223.07 252.58,223.07 253.88,223.07 255.19,223.07 256.49,223.07 257.8,223.07 259.1,223.07 260.4,223.07 261.71,223.07 263.01,223.07 264.32,223.07 265.62,223.07 266.92,223.07 268.23,223.07 269.53,223.07 270.84,223.07 272.14,223.07 273.44,223.07 274.75,223.07 276.05,223.07 277.36,223.07 278.66,223.07 279.96,223.07 281.27,223.07 282.57,223.07 283.88,223.07 285.18,223.07 286.48,223.07 287.79,223.07 289.09,223.07 290.4,223.07 291.7,223.07" fill="none" stroke="#3072b3" stroke-width="1.7" stroke-linejoin="round" stroke-opacity="0.12"/>
<polyline points="96.1,80.03 97.4,80.74 98.71,82.86 100.01,86.32 101.32,91.02 102.62,96.83 103.92,103.58 105.23,111.1 106.53,119.18 107.84,127.63 109.14,136.26 110.44,144.89 111.75,153.34 113.05,161.47 114.36,169.16 115.66,176.31 116.96,182.84 118.27,188.71 119.57,193.87 120.88,198.33 122.18,202.06 123.48,205.08 124.79,207.4 126.09,209.03 127.4,209.97 128.7,210.25 130,209.85 131.31,208.77 132.61,207 133.92,204.53 135.22,201.34 136.52,197.43 137.83,192.77 139.13,187.38 140.44,181.26 141.74,174.45 143.04,167.01 144.35,159.01 145.65,150.54 146.96,141.75 148.26,132.78 149.56,123.8 150.87,115.01 152.17,106.6 153.48,98.78 154.78,91.76 156.08,85.72 157.39,80.83 158.69,77.23 160,75.03 161.3,74.28 162.6,75.03 163.91,77.23 165.21,80.83 166.52,85.72 167.82,91.77 169.12,98.79 170.43,106.61 171.73,115.03 173.04,123.83 174.34,132.83 175.64,141.82 176.95,150.65 178.25,159.16 179.56,167.23 180.86,174.77 182.16,181.7 183.47,187.99 184.77,193.63 186.08,198.6 187.38,202.93 188.68,206.67 189.99,209.84 191.29,212.51 192.6,214.72 193.9,216.53 195.2,218 196.51,219.18 197.81,220.12 199.12,220.85 200.42,221.42 201.72,221.85 203.03,222.18 204.33,222.43 205.64,222.61 206.94,222.74 208.24,222.84 209.55,222.91 210.85,222.96 212.16,223 213.46,223.02 214.76,223.04 216.07,223.05 217.37,223.06 218.68,223.06 219.98,223.06 221.28,223.07 222.59,223.07 223.89,223.07 225.2,223.07 226.5,223.07 227.8,223.07 229.11,223.07 230.41,223.07 231.72,223.07 233.02,223.07 234.32,223.07 235.63,223.07 236.93,223.07 238.24,223.07 239.54,223.07 240.84,223.07 242.15,223.07 243.45,223.07 244.76,223.07 246.06,223.07 247.36,223.07 248.67,223.07 249.97,223.07 251.28,223.07 252.58,223.07 253.88,223.07 255.19,223.07 256.49,223.07 257.8,223.07 259.1,223.07 260.4,223.07 261.71,223.07 263.01,223.07 264.32,223.07 265.62,223.07 266.92,223.07 268.23,223.07 269.53,223.07 270.84,223.07 272.14,223.07 273.44,223.07 274.75,223.07 276.05,223.07 277.36,223.07 278.66,223.07 279.96,223.07 281.27,223.07 282.57,223.07 283.88,223.07 285.18,223.07 286.48,223.07 287.79,223.07 289.09,223.07 290.4,223.07 291.7,223.07" fill="none" stroke="#3072b3" stroke-width="1.7" stroke-linejoin="round" stroke-opacity="0.12"/>
<polyline points="96.1,71.24 97.4,72 98.71,74.25 100.01,77.92 101.32,82.91 102.62,89.08 103.92,96.24 105.23,104.22 106.53,112.8 107.84,121.77 109.14,130.94 110.44,140.09 111.75,149.07 113.05,157.7 114.36,165.87 115.66,173.47 116.96,180.42 118.27,186.67 119.57,192.19 120.88,196.95 122.18,200.97 123.48,204.24 124.79,206.79 126.09,208.63 127.4,209.78 128.7,210.25 130,210.04 131.31,209.16 132.61,207.61 133.92,205.37 135.22,202.44 136.52,198.8 137.83,194.46 139.13,189.41 140.44,183.68 141.74,177.29 143.04,170.29 144.35,162.77 145.65,154.81 146.96,146.54 148.26,138.11 149.56,129.66 150.87,121.39 152.17,113.48 153.48,106.12 154.78,99.52 156.08,93.83 157.39,89.23 158.69,85.84 160,83.77 161.3,83.07 162.6,83.77 163.91,85.84 165.21,89.23 166.52,93.83 167.82,99.52 169.12,106.13 170.43,113.49 171.73,121.41 173.04,129.69 174.34,138.16 175.64,146.62 176.95,154.93 178.25,162.93 179.56,170.53 180.86,177.62 182.16,184.15 183.47,190.07 184.77,195.36 186.08,200.04 187.38,204.12 188.68,207.64 189.99,210.62 191.29,213.13 192.6,215.21 193.9,216.92 195.2,218.3 196.51,219.41 197.81,220.29 199.12,220.98 200.42,221.51 201.72,221.92 203.03,222.23 204.33,222.47 205.64,222.64 206.94,222.76 208.24,222.86 209.55,222.92 210.85,222.97 212.16,223 213.46,223.02 214.76,223.04 216.07,223.05 217.37,223.06 218.68,223.06 219.98,223.06 221.28,223.07 222.59,223.07 223.89,223.07 225.2,223.07 226.5,223.07 227.8,223.07 229.11,223.07 230.41,223.07 231.72,223.07 233.02,223.07 234.32,223.07 235.63,223.07 236.93,223.07 238.24,223.07 239.54,223.07 240.84,223.07 242.15,223.07 243.45,223.07 244.76,223.07 246.06,223.07 247.36,223.07 248.67,223.07 249.97,223.07 251.28,223.07 252.58,223.07 253.88,223.07 255.19,223.07 256.49,223.07 257.8,223.07 259.1,223.07 260.4,223.07 261.71,223.07 263.01,223.07 264.32,223.07 265.62,223.07 266.92,223.07 268.23,223.07 269.53,223.07 270.84,223.07 272.14,223.07 273.44,223.07 274.75,223.07 276.05,223.07 277.36,223.07 278.66,223.07 279.96,223.07 281.27,223.07 282.57,223.07 283.88,223.07 285.18,223.07 286.48,223.07 287.79,223.07 289.09,223.07 290.4,223.07 291.7,223.07" fill="none" stroke="#3072b3" stroke-width="1.7" stroke-linejoin="round" stroke-opacity="0.12"/>
<polyline points="96.1,74.42 97.4,75.16 98.71,77.36 100.01,80.96 101.32,85.85 102.62,91.88 103.92,98.9 105.23,106.71 106.53,115.11 107.84,123.89 109.14,132.86 110.44,141.83 111.75,150.61 113.05,159.06 114.36,167.06 115.66,174.5 116.96,181.3 118.27,187.41 119.57,192.8 120.88,197.45 122.18,201.36 123.48,204.55 124.79,207.01 126.09,208.78 127.4,209.85 128.7,210.25 130,209.97 131.31,209.02 132.61,207.39 133.92,205.07 135.22,202.04 136.52,198.3 137.83,193.85 139.13,188.67 140.44,182.8 141.74,176.26 143.04,169.11 144.35,161.41 145.65,153.27 146.96,144.81 148.26,136.18 149.56,127.54 150.87,119.08 152.17,110.99 153.48,103.47 154.78,96.71 156.08,90.9 157.39,86.19 158.69,82.73 160,80.61 161.3,79.89 162.6,80.61 163.91,82.73 165.21,86.19 166.52,90.9 167.82,96.72 169.12,103.48 170.43,111 171.73,119.1 173.04,127.57 174.34,136.23 175.64,144.88 176.95,153.38 178.25,161.57 179.56,169.33 180.86,176.59 182.16,183.26 183.47,189.32 184.77,194.74 186.08,199.52 187.38,203.69 188.68,207.28 189.99,210.34 191.29,212.9 192.6,215.03 193.9,216.78 195.2,218.2 196.51,219.33 197.81,220.23 199.12,220.93 200.42,221.48 201.72,221.9 203.03,222.21 204.33,222.45 205.64,222.63 206.94,222.76 208.24,222.85 209.55,222.92 210.85,222.97 212.16,223 213.46,223.02 214.76,223.04 216.07,223.05 217.37,223.06 218.68,223.06 219.98,223.06 221.28,223.07 222.59,223.07 223.89,223.07 225.2,223.07 226.5,223.07 227.8,223.07 229.11,223.07 230.41,223.07 231.72,223.07 233.02,223.07 234.32,223.07 235.63,223.07 236.93,223.07 238.24,223.07 239.54,223.07 240.84,223.07 242.15,223.07 243.45,223.07 244.76,223.07 246.06,223.07 247.36,223.07 248.67,223.07 249.97,223.07 251.28,223.07 252.58,223.07 253.88,223.07 255.19,223.07 256.49,223.07 257.8,223.07 259.1,223.07 260.4,223.07 261.71,223.07 263.01,223.07 264.32,223.07 265.62,223.07 266.92,223.07 268.23,223.07 269.53,223.07 270.84,223.07 272.14,223.07 273.44,223.07 274.75,223.07 276.05,223.07 277.36,223.07 278.66,223.07 279.96,223.07 281.27,223.07 282.57,223.07 283.88,223.07 285.18,223.07 286.48,223.07 287.79,223.07 289.09,223.07 290.4,223.07 291.7,223.07" fill="none" stroke="#3072b3" stroke-width="1.7" stroke-linejoin="round" stroke-opacity="0.12"/>
<polyline points="96.1,80.66 97.4,81.37 98.71,83.48 100.01,86.92 101.32,91.6 102.62,97.39 103.92,104.11 105.23,111.59 106.53,119.64 107.84,128.05 109.14,136.64 110.44,145.23 111.75,153.64 113.05,161.74 114.36,169.39 115.66,176.51 116.96,183.01 118.27,188.85 119.57,193.99 120.88,198.42 122.18,202.14 123.48,205.14 124.79,207.44 126.09,209.06 127.4,209.99 128.7,210.25 130,209.83 131.31,208.74 132.61,206.96 133.92,204.47 135.22,201.27 136.52,197.33 137.83,192.65 139.13,187.23 140.44,181.09 141.74,174.25 143.04,166.77 144.35,158.74 145.65,150.24 146.96,141.41 148.26,132.4 149.56,123.38 150.87,114.55 152.17,106.11 153.48,98.26 154.78,91.21 156.08,85.14 157.39,80.23 158.69,76.61 160,74.4 161.3,73.65 162.6,74.4 163.91,76.61 165.21,80.23 166.52,85.14 167.82,91.21 169.12,98.27 170.43,106.12 171.73,114.57 173.04,123.41 174.34,132.45 175.64,141.48 176.95,150.34 178.25,158.89 179.56,166.99 180.86,174.56 182.16,181.53 183.47,187.85 184.77,193.5 186.08,198.5 187.38,202.85 188.68,206.6 189.99,209.78 191.29,212.46 192.6,214.68 193.9,216.51 195.2,217.98 196.51,219.17 197.81,220.11 199.12,220.84 200.42,221.41 201.72,221.85 203.03,222.18 204.33,222.42 205.64,222.61 206.94,222.74 208.24,222.84 209.55,222.91 210.85,222.96 212.16,223 213.46,223.02 214.76,223.04 216.07,223.05 217.37,223.06 218.68,223.06 219.98,223.06 221.28,223.07 222.59,223.07 223.89,223.07 225.2,223.07 226.5,223.07 227.8,223.07 229.11,223.07 230.41,223.07 231.72,223.07 233.02,223.07 234.32,223.07 235.63,223.07 236.93,223.07 238.24,223.07 239.54,223.07 240.84,223.07 242.15,223.07 243.45,223.07 244.76,223.07 246.06,223.07 247.36,223.07 248.67,223.07 249.97,223.07 251.28,223.07 252.58,223.07 253.88,223.07 255.19,223.07 256.49,223.07 257.8,223.07 259.1,223.07 260.4,223.07 261.71,223.07 263.01,223.07 264.32,223.07 265.62,223.07 266.92,223.07 268.23,223.07 269.53,223.07 270.84,223.07 272.14,223.07 273.44,223.07 274.75,223.07 276.05,223.07 277.36,223.07 278.66,223.07 279.96,223.07 281.27,223.07 282.57,223.07 283.88,223.07 285.18,223.07 286.48,223.07 287.79,223.07 289.09,223.07 290.4,223.07 291.7,223.07" fill="none" stroke="#3072b3" stroke-width="1.7" stroke-linejoin="round" stroke-opacity="0.12"/>
<polyline points="96.1,71.17 97.4,71.92 98.71,74.17 100.01,77.85 101.32,82.84 102.62,89.01 103.92,96.18 105.23,104.16 106.53,112.74 107.84,121.72 109.14,130.89 110.44,140.05 111.75,149.03 113.05,157.67 114.36,165.84 115.66,173.45 116.96,180.4 118.27,186.66 119.57,192.17 120.88,196.94 122.18,200.96 123.48,204.23 124.79,206.79 126.09,208.63 127.4,209.78 128.7,210.25 130,210.04 131.31,209.17 132.61,207.61 133.92,205.38 135.22,202.45 136.52,198.81 137.83,194.47 139.13,189.43 140.44,183.7 141.74,177.31 143.04,170.32 144.35,162.8 145.65,154.85 146.96,146.59 148.26,138.15 149.56,129.71 150.87,121.44 152.17,113.54 153.48,106.19 154.78,99.58 156.08,93.9 157.39,89.3 158.69,85.92 160,83.84 161.3,83.15 162.6,83.85 163.91,85.92 165.21,89.3 166.52,93.91 167.82,99.59 169.12,106.2 170.43,113.55 171.73,121.47 173.04,129.74 174.34,138.2 175.64,146.66 176.95,154.96 178.25,162.97 179.56,170.56 180.86,177.64 182.16,184.17 183.47,190.08 184.77,195.38 186.08,200.06 187.38,204.13 188.68,207.64 189.99,210.63 191.29,213.13 192.6,215.22 193.9,216.92 195.2,218.31 196.51,219.42 197.81,220.29 199.12,220.98 200.42,221.52 201.72,221.92 203.03,222.23 204.33,222.47 205.64,222.64 206.94,222.76 208.24,222.86 209.55,222.92 210.85,222.97 212.16,223 213.46,223.02 214.76,223.04 216.07,223.05 217.37,223.06 218.68,223.06 219.98,223.06 221.28,223.07 222.59,223.07 223.89,223.07 225.2,223.07 226.5,223.07 227.8,223.07 229.11,223.07 230.41,223.07 231.72,223.07 233.02,223.07 234.32,223.07 235.63,223.07 236.93,223.07 238.24,223.07 239.54,223.07 240.84,223.07 242.15,223.07 243.45,223.07 244.76,223.07 246.06,223.07 247.36,223.07 248.67,223.07 249.97,223.07 251.28,223.07 252.58,223.07 253.88,223.07 255.19,223.07 256.49,223.07 257.8,223.07 259.1,223.07 260.4,223.07 261.71,223.07 263.01,223.07 264.32,223.07 265.62,223.07 266.92,223.07 268.23,223.07 269.53,223.07 270.84,223.07 272.14,223.07 273.44,223.07 274.75,223.07 276.05,223.07 277.36,223.07 278.66,223.07 279.96,223.07 281.27,223.07 282.57,223.07 283.88,223.07 285.18,223.07 286.48,223.07 287.79,223.07 289.09,223.07 290.4,223.07 291.7,223.07" fill="none" stroke="#3072b3" stroke-width="1.7" stroke-linejoin="round" stroke-opacity="0.12"/>
<polyline points="96.1,82.44 97.4,83.15 98.71,85.23 100.01,88.63 101.32,93.25 102.62,98.96 103.92,105.6 105.23,112.99 106.53,120.93 107.84,129.24 109.14,137.73 110.44,146.2 111.75,154.51 113.05,162.5 114.36,170.06 115.66,177.09 116.96,183.5 118.27,189.27 119.57,194.34 120.88,198.7 122.18,202.36 123.48,205.31 124.79,207.57 126.09,209.14 127.4,210.03 128.7,210.25 130,209.79 131.31,208.66 132.61,206.83 133.92,204.3 135.22,201.04 136.52,197.05 137.83,192.31 139.13,186.82 140.44,180.6 141.74,173.67 143.04,166.11 144.35,157.97 145.65,149.37 146.96,140.43 148.26,131.31 149.56,122.19 150.87,113.25 152.17,104.71 153.48,96.77 154.78,89.63 156.08,83.49 157.39,78.52 158.69,74.86 160,72.62 161.3,71.87 162.6,72.62 163.91,74.86 165.21,78.52 166.52,83.49 167.82,89.64 169.12,96.78 170.43,104.72 171.73,113.28 173.04,122.22 174.34,131.36 175.64,140.5 176.95,149.47 178.25,158.12 179.56,166.32 180.86,173.98 182.16,181.03 183.47,187.42 184.77,193.15 186.08,198.2 187.38,202.61 188.68,206.4 189.99,209.62 191.29,212.33 192.6,214.58 193.9,216.43 195.2,217.92 196.51,219.12 197.81,220.07 199.12,220.81 200.42,221.39 201.72,221.83 203.03,222.17 204.33,222.42 205.64,222.6 206.94,222.74 208.24,222.84 209.55,222.91 210.85,222.96 212.16,222.99 213.46,223.02 214.76,223.04 216.07,223.05 217.37,223.06 218.68,223.06 219.98,223.06 221.28,223.07 222.59,223.07 223.89,223.07 225.2,223.07 226.5,223.07 227.8,223.07 229.11,223.07 230.41,223.07 231.72,223.07 233.02,223.07 234.32,223.07 235.63,223.07 236.93,223.07 238.24,223.07 239.54,223.07 240.84,223.07 242.15,223.07 243.45,223.07 244.76,223.07 246.06,223.07 247.36,223.07 248.67,223.07 249.97,223.07 251.28,223.07 252.58,223.07 253.88,223.07 255.19,223.07 256.49,223.07 257.8,223.07 259.1,223.07 260.4,223.07 261.71,223.07 263.01,223.07 264.32,223.07 265.62,223.07 266.92,223.07 268.23,223.07 269.53,223.07 270.84,223.07 272.14,223.07 273.44,223.07 274.75,223.07 276.05,223.07 277.36,223.07 278.66,223.07 279.96,223.07 281.27,223.07 282.57,223.07 283.88,223.07 285.18,223.07 286.48,223.07 287.79,223.07 289.09,223.07 290.4,223.07 291.7,223.07" fill="none" stroke="#3072b3" stroke-width="1.7" stroke-linejoin="round" stroke-opacity="0.12"/>
<polyline points="96.1,81.82 97.4,82.53 98.71,84.62 100.01,88.04 101.32,92.68 102.62,98.41 103.92,105.08 105.23,112.5 106.53,120.48 107.84,128.83 109.14,137.35 110.44,145.86 111.75,154.21 113.05,162.24 114.36,169.83 115.66,176.88 116.96,183.33 118.27,189.12 119.57,194.22 120.88,198.61 122.18,202.28 123.48,205.25 124.79,207.52 126.09,209.11 127.4,210.01 128.7,210.25 130,209.81 131.31,208.69 132.61,206.88 133.92,204.36 135.22,201.12 136.52,197.15 137.83,192.43 139.13,186.96 140.44,180.77 141.74,173.88 143.04,166.34 144.35,158.24 145.65,149.67 146.96,140.77 148.26,131.69 149.56,122.61 150.87,113.71 152.17,105.2 153.48,97.29 154.78,90.18 156.08,84.06 157.39,79.12 158.69,75.47 160,73.24 161.3,72.49 162.6,73.24 163.91,75.47 165.21,79.12 166.52,84.07 167.82,90.18 169.12,97.3 170.43,105.21 171.73,113.73 173.04,122.64 174.34,131.74 175.64,140.84 176.95,149.78 178.25,158.39 179.56,166.56 180.86,174.18 182.16,181.2 183.47,187.57 184.77,193.27 186.08,198.3 187.38,202.69 188.68,206.47 189.99,209.68 191.29,212.38 192.6,214.62 193.9,216.45 195.2,217.94 196.51,219.14 197.81,220.08 199.12,220.82 200.42,221.4 201.72,221.84 203.03,222.17 204.33,222.42 205.64,222.6 206.94,222.74 208.24,222.84 209.55,222.91 210.85,222.96 212.16,223 213.46,223.02 214.76,223.04 216.07,223.05 217.37,223.06 218.68,223.06 219.98,223.06 221.28,223.07 222.59,223.07 223.89,223.07 225.2,223.07 226.5,223.07 227.8,223.07 229.11,223.07 230.41,223.07 231.72,223.07 233.02,223.07 234.32,223.07 235.63,223.07 236.93,223.07 238.24,223.07 239.54,223.07 240.84,223.07 242.15,223.07 243.45,223.07 244.76,223.07 246.06,223.07 247.36,223.07 248.67,223.07 249.97,223.07 251.28,223.07 252.58,223.07 253.88,223.07 255.19,223.07 256.49,223.07 257.8,223.07 259.1,223.07 260.4,223.07 261.71,223.07 263.01,223.07 264.32,223.07 265.62,223.07 266.92,223.07 268.23,223.07 269.53,223.07 270.84,223.07 272.14,223.07 273.44,223.07 274.75,223.07 276.05,223.07 277.36,223.07 278.66,223.07 279.96,223.07 281.27,223.07 282.57,223.07 283.88,223.07 285.18,223.07 286.48,223.07 287.79,223.07 289.09,223.07 290.4,223.07 291.7,223.07" fill="none" stroke="#3072b3" stroke-width="1.7" stroke-linejoin="round" stroke-opacity="0.12"/>
<polyline points="96.1,78.03 97.4,78.76 98.71,80.91 100.01,84.42 101.32,89.18 102.62,95.07 103.92,101.92 105.23,109.54 106.53,117.73 107.84,126.3 109.14,135.05 110.44,143.8 111.75,152.37 113.05,160.61 114.36,168.41 115.66,175.66 116.96,182.29 118.27,188.24 119.57,193.49 120.88,198.01 122.18,201.81 123.48,204.89 124.79,207.26 126.09,208.94 127.4,209.93 128.7,210.25 130,209.89 131.31,208.86 132.61,207.14 133.92,204.72 135.22,201.59 136.52,197.74 137.83,193.15 139.13,187.84 140.44,181.81 141.74,175.1 143.04,167.75 144.35,159.86 145.65,151.51 146.96,142.84 148.26,133.99 149.56,125.13 150.87,116.46 152.17,108.16 153.48,100.45 154.78,93.52 156.08,87.56 157.39,82.74 158.69,79.18 160,77.01 161.3,76.28 162.6,77.01 163.91,79.18 165.21,82.74 166.52,87.56 167.82,93.53 169.12,100.46 170.43,108.18 171.73,116.48 173.04,125.16 174.34,134.04 175.64,142.91 176.95,151.62 178.25,160.01 179.56,167.98 180.86,175.41 182.16,182.26 183.47,188.46 184.77,194.02 186.08,198.93 187.38,203.2 188.68,206.89 189.99,210.02 191.29,212.65 192.6,214.83 193.9,216.62 195.2,218.07 196.51,219.24 197.81,220.16 199.12,220.88 200.42,221.44 201.72,221.87 203.03,222.19 204.33,222.44 205.64,222.62 206.94,222.75 208.24,222.84 209.55,222.91 210.85,222.96 212.16,223 213.46,223.02 214.76,223.04 216.07,223.05 217.37,223.06 218.68,223.06 219.98,223.06 221.28,223.07 222.59,223.07 223.89,223.07 225.2,223.07 226.5,223.07 227.8,223.07 229.11,223.07 230.41,223.07 231.72,223.07 233.02,223.07 234.32,223.07 235.63,223.07 236.93,223.07 238.24,223.07 239.54,223.07 240.84,223.07 242.15,223.07 243.45,223.07 244.76,223.07 246.06,223.07 247.36,223.07 248.67,223.07 249.97,223.07 251.28,223.07 252.58,223.07 253.88,223.07 255.19,223.07 256.49,223.07 257.8,223.07 259.1,223.07 260.4,223.07 261.71,223.07 263.01,223.07 264.32,223.07 265.62,223.07 266.92,223.07 268.23,223.07 269.53,223.07 270.84,223.07 272.14,223.07 273.44,223.07 274.75,223.07 276.05,223.07 277.36,223.07 278.66,223.07 279.96,223.07 281.27,223.07 282.57,223.07 283.88,223.07 285.18,223.07 286.48,223.07 287.79,223.07 289.09,223.07 290.4,223.07 291.7,223.07" fill="none" stroke="#3072b3" stroke-width="1.7" stroke-linejoin="round" stroke-opacity="0.12"/>
<polyline points="96.1,74.77 97.4,75.51 98.71,77.7 100.01,81.29 101.32,86.17 102.62,92.19 103.92,99.19 105.23,106.98 106.53,115.36 107.84,124.12 109.14,133.07 110.44,142.01 111.75,150.78 113.05,159.21 114.36,167.19 115.66,174.61 116.96,181.39 118.27,187.49 119.57,192.86 120.88,197.5 122.18,201.41 123.48,204.58 124.79,207.04 126.09,208.79 127.4,209.86 128.7,210.25 130,209.96 131.31,209.01 132.61,207.37 133.92,205.03 135.22,202 136.52,198.25 137.83,193.78 139.13,188.59 140.44,182.71 141.74,176.15 143.04,168.98 144.35,161.26 145.65,153.1 146.96,144.62 148.26,135.97 149.56,127.31 150.87,118.83 152.17,110.72 153.48,103.18 154.78,96.4 156.08,90.58 157.39,85.86 158.69,82.39 160,80.26 161.3,79.55 162.6,80.26 163.91,82.39 165.21,85.86 166.52,90.58 167.82,96.41 169.12,103.19 170.43,110.73 171.73,118.85 173.04,127.34 174.34,136.02 175.64,144.7 176.95,153.21 178.25,161.42 179.56,169.2 180.86,176.47 182.16,183.17 183.47,189.23 184.77,194.67 186.08,199.46 187.38,203.65 188.68,207.25 189.99,210.31 191.29,212.88 192.6,215.01 193.9,216.76 195.2,218.18 196.51,219.32 197.81,220.22 199.12,220.93 200.42,221.48 201.72,221.89 203.03,222.21 204.33,222.45 205.64,222.63 206.94,222.76 208.24,222.85 209.55,222.92 210.85,222.96 212.16,223 213.46,223.02 214.76,223.04 216.07,223.05 217.37,223.06 218.68,223.06 219.98,223.06 221.28,223.07 222.59,223.07 223.89,223.07 225.2,223.07 226.5,223.07 227.8,223.07 229.11,223.07 230.41,223.07 231.72,223.07 233.02,223.07 234.32,223.07 235.63,223.07 236.93,223.07 238.24,223.07 239.54,223.07 240.84,223.07 242.15,223.07 243.45,223.07 244.76,223.07 246.06,223.07 247.36,223.07 248.67,223.07 249.97,223.07 251.28,223.07 252.58,223.07 253.88,223.07 255.19,223.07 256.49,223.07 257.8,223.07 259.1,223.07 260.4,223.07 261.71,223.07 263.01,223.07 264.32,223.07 265.62,223.07 266.92,223.07 268.23,223.07 269.53,223.07 270.84,223.07 272.14,223.07 273.44,223.07 274.75,223.07 276.05,223.07 277.36,223.07 278.66,223.07 279.96,223.07 281.27,223.07 282.57,223.07 283.88,223.07 285.18,223.07 286.48,223.07 287.79,223.07 289.09,223.07 290.4,223.07 291.7,223.07" fill="none" stroke="#3072b3" stroke-width="1.7" stroke-linejoin="round" stroke-opacity="0.12"/>
<polyline points="96.1,71.77 97.4,72.52 98.71,74.76 100.01,78.42 101.32,83.4 102.62,89.54 103.92,96.68 105.23,104.63 106.53,113.18 107.84,122.12 109.14,131.25 110.44,140.38 111.75,149.32 113.05,157.93 114.36,166.07 115.66,173.64 116.96,180.57 118.27,186.79 119.57,192.29 120.88,197.03 122.18,201.03 123.48,204.29 124.79,206.83 126.09,208.66 127.4,209.79 128.7,210.25 130,210.03 131.31,209.14 132.61,207.57 133.92,205.32 135.22,202.37 136.52,198.72 137.83,194.36 139.13,189.29 140.44,183.53 141.74,177.12 143.04,170.1 144.35,162.55 145.65,154.56 146.96,146.26 148.26,137.79 149.56,129.31 150.87,121.01 152.17,113.07 153.48,105.69 154.78,99.05 156.08,93.35 157.39,88.73 158.69,85.33 160,83.25 161.3,82.55 162.6,83.25 163.91,85.33 165.21,88.73 166.52,93.35 167.82,99.06 169.12,105.7 170.43,113.08 171.73,121.03 173.04,129.34 174.34,137.84 175.64,146.33 176.95,154.67 178.25,162.71 179.56,170.33 180.86,177.45 182.16,184 183.47,189.94 184.77,195.26 186.08,199.96 187.38,204.05 188.68,207.58 189.99,210.57 191.29,213.09 192.6,215.18 193.9,216.9 195.2,218.29 196.51,219.4 197.81,220.28 199.12,220.97 200.42,221.51 201.72,221.92 203.03,222.23 204.33,222.46 205.64,222.64 206.94,222.76 208.24,222.85 209.55,222.92 210.85,222.97 212.16,223 213.46,223.02 214.76,223.04 216.07,223.05 217.37,223.06 218.68,223.06 219.98,223.06 221.28,223.07 222.59,223.07 223.89,223.07 225.2,223.07 226.5,223.07 227.8,223.07 229.11,223.07 230.41,223.07 231.72,223.07 233.02,223.07 234.32,223.07 235.63,223.07 236.93,223.07 238.24,223.07 239.54,223.07 240.84,223.07 242.15,223.07 243.45,223.07 244.76,223.07 246.06,223.07 247.36,223.07 248.67,223.07 249.97,223.07 251.28,223.07 252.58,223.07 253.88,223.07 255.19,223.07 256.49,223.07 257.8,223.07 259.1,223.07 260.4,223.07 261.71,223.07 263.01,223.07 264.32,223.07 265.62,223.07 266.92,223.07 268.23,223.07 269.53,223.07 270.84,223.07 272.14,223.07 273.44,223.07 274.75,223.07 276.05,223.07 277.36,223.07 278.66,223.07 279.96,223.07 281.27,223.07 282.57,223.07 283.88,223.07 285.18,223.07 286.48,223.07 287.79,223.07 289.09,223.07 290.4,223.07 291.7,223.07" fill="none" stroke="#3072b3" stroke-width="1.7" stroke-linejoin="round" stroke-opacity="0.12"/>
<polyline points="96.1,74.83 97.4,75.57 98.71,77.77 100.01,81.35 101.32,86.23 102.62,92.25 103.92,99.24 105.23,107.03 106.53,115.41 107.84,124.17 109.14,133.11 110.44,142.05 111.75,150.81 113.05,159.24 114.36,167.21 115.66,174.63 116.96,181.41 118.27,187.5 119.57,192.88 120.88,197.51 122.18,201.41 123.48,204.58 124.79,207.04 126.09,208.79 127.4,209.86 128.7,210.25 130,209.96 131.31,209 132.61,207.36 133.92,205.03 135.22,201.99 136.52,198.24 137.83,193.77 139.13,188.58 140.44,182.69 141.74,176.13 143.04,168.95 144.35,161.23 145.65,153.07 146.96,144.59 148.26,135.93 149.56,127.27 150.87,118.78 152.17,110.67 153.48,103.13 154.78,96.35 156.08,90.52 157.39,85.8 158.69,82.32 160,80.2 161.3,79.48 162.6,80.2 163.91,82.32 165.21,85.8 166.52,90.52 167.82,96.35 169.12,103.13 170.43,110.68 171.73,118.8 173.04,127.3 174.34,135.98 175.64,144.66 176.95,153.18 178.25,161.39 179.56,169.18 180.86,176.45 182.16,183.15 183.47,189.22 184.77,194.65 186.08,199.45 187.38,203.64 188.68,207.24 189.99,210.3 191.29,212.87 192.6,215.01 193.9,216.76 195.2,218.18 196.51,219.32 197.81,220.22 199.12,220.93 200.42,221.47 201.72,221.89 203.03,222.21 204.33,222.45 205.64,222.63 206.94,222.76 208.24,222.85 209.55,222.92 210.85,222.96 212.16,223 213.46,223.02 214.76,223.04 216.07,223.05 217.37,223.06 218.68,223.06 219.98,223.06 221.28,223.07 222.59,223.07 223.89,223.07 225.2,223.07 226.5,223.07 227.8,223.07 229.11,223.07 230.41,223.07 231.72,223.07 233.02,223.07 234.32,223.07 235.63,223.07 236.93,223.07 238.24,223.07 239.54,223.07 240.84,223.07 242.15,223.07 243.45,223.07 244.76,223.07 246.06,223.07 247.36,223.07 248.67,223.07 249.97,223.07 251.28,223.07 252.58,223.07 253.88,223.07 255.19,223.07 256.49,223.07 257.8,223.07 259.1,223.07 260.4,223.07 261.71,223.07 263.01,223.07 264.32,223.07 265.62,223.07 266.92,223.07 268.23,223.07 269.53,223.07 270.84,223.07 272.14,223.07 273.44,223.07 274.75,223.07 276.05,223.07 277.36,223.07 278.66,223.07 279.96,223.07 281.27,223.07 282.57,223.07 283.88,223.07 285.18,223.07 286.48,223.07 287.79,223.07 289.09,223.07 290.4,223.07 291.7,223.07" fill="none" stroke="#3072b3" stroke-width="1.7" stroke-linejoin="round" stroke-opacity="0.12"/>
<polyline points="96.1,83.46 97.4,84.15 98.71,86.22 100.01,89.6 101.32,94.19 102.62,99.86 103.92,106.45 105.23,113.78 106.53,121.67 107.84,129.92 109.14,138.34 110.44,146.75 111.75,155 113.05,162.94 114.36,170.44 115.66,177.41 116.96,183.78 118.27,189.5 119.57,194.53 120.88,198.86 122.18,202.48 123.48,205.41 124.79,207.64 126.09,209.18 127.4,210.05 128.7,210.25 130,209.77 131.31,208.62 132.61,206.76 133.92,204.21 135.22,200.92 136.52,196.89 137.83,192.11 139.13,186.58 140.44,180.32 141.74,173.35 143.04,165.73 144.35,157.54 145.65,148.88 146.96,139.88 148.26,130.7 149.56,121.52 150.87,112.52 152.17,103.92 153.48,95.92 154.78,88.74 156.08,82.56 157.39,77.55 158.69,73.87 160,71.62 161.3,70.86 162.6,71.62 163.91,73.87 165.21,77.55 166.52,82.56 167.82,88.74 169.12,95.93 170.43,103.93 171.73,112.54 173.04,121.55 174.34,130.75 175.64,139.95 176.95,148.98 178.25,157.69 179.56,165.94 180.86,173.65 182.16,180.75 183.47,187.19 184.77,192.95 186.08,198.03 187.38,202.47 188.68,206.29 189.99,209.53 191.29,212.26 192.6,214.53 193.9,216.38 195.2,217.89 196.51,219.09 197.81,220.05 199.12,220.8 200.42,221.38 201.72,221.82 203.03,222.16 204.33,222.41 205.64,222.6 206.94,222.74 208.24,222.84 209.55,222.91 210.85,222.96 212.16,222.99 213.46,223.02 214.76,223.04 216.07,223.05 217.37,223.06 218.68,223.06 219.98,223.06 221.28,223.07 222.59,223.07 223.89,223.07 225.2,223.07 226.5,223.07 227.8,223.07 229.11,223.07 230.41,223.07 231.72,223.07 233.02,223.07 234.32,223.07 235.63,223.07 236.93,223.07 238.24,223.07 239.54,223.07 240.84,223.07 242.15,223.07 243.45,223.07 244.76,223.07 246.06,223.07 247.36,223.07 248.67,223.07 249.97,223.07 251.28,223.07 252.58,223.07 253.88,223.07 255.19,223.07 256.49,223.07 257.8,223.07 259.1,223.07 260.4,223.07 261.71,223.07 263.01,223.07 264.32,223.07 265.62,223.07 266.92,223.07 268.23,223.07 269.53,223.07 270.84,223.07 272.14,223.07 273.44,223.07 274.75,223.07 276.05,223.07 277.36,223.07 278.66,223.07 279.96,223.07 281.27,223.07 282.57,223.07 283.88,223.07 285.18,223.07 286.48,223.07 287.79,223.07 289.09,223.07 290.4,223.07 291.7,223.07" fill="none" stroke="#3072b3" stroke-width="1.7" stroke-linejoin="round" stroke-opacity="0.12"/>
<polyline points="96.1,75.58 97.4,76.31 98.71,78.5 100.01,82.07 101.32,86.91 102.62,92.9 103.92,99.87 105.23,107.61 106.53,115.95 107.84,124.66 109.14,133.56 110.44,142.46 111.75,151.17 113.05,159.56 114.36,167.49 115.66,174.87 116.96,181.62 118.27,187.68 119.57,193.02 120.88,197.63 122.18,201.51 123.48,204.66 124.79,207.09 126.09,208.83 127.4,209.88 128.7,210.25 130,209.95 131.31,208.97 132.61,207.31 133.92,204.96 135.22,201.9 136.52,198.12 137.83,193.63 139.13,188.41 140.44,182.48 141.74,175.89 143.04,168.67 144.35,160.91 145.65,152.71 146.96,144.18 148.26,135.48 149.56,126.77 150.87,118.24 152.17,110.08 153.48,102.5 154.78,95.69 156.08,89.83 157.39,85.08 158.69,81.59 160,79.45 161.3,78.74 162.6,79.46 163.91,81.59 165.21,85.09 166.52,89.83 167.82,95.7 169.12,102.51 170.43,110.1 171.73,118.26 173.04,126.8 174.34,135.53 175.64,144.25 176.95,152.82 178.25,161.07 179.56,168.9 180.86,176.21 182.16,182.94 183.47,189.04 184.77,194.51 186.08,199.33 187.38,203.54 188.68,207.16 189.99,210.24 191.29,212.82 192.6,214.97 193.9,216.73 195.2,218.16 196.51,219.3 197.81,220.21 199.12,220.92 200.42,221.47 201.72,221.89 203.03,222.21 204.33,222.45 205.64,222.62 206.94,222.75 208.24,222.85 209.55,222.92 210.85,222.96 212.16,223 213.46,223.02 214.76,223.04 216.07,223.05 217.37,223.06 218.68,223.06 219.98,223.06 221.28,223.07 222.59,223.07 223.89,223.07 225.2,223.07 226.5,223.07 227.8,223.07 229.11,223.07 230.41,223.07 231.72,223.07 233.02,223.07 234.32,223.07 235.63,223.07 236.93,223.07 238.24,223.07 239.54,223.07 240.84,223.07 242.15,223.07 243.45,223.07 244.76,223.07 246.06,223.07 247.36,223.07 248.67,223.07 249.97,223.07 251.28,223.07 252.58,223.07 253.88,223.07 255.19,223.07 256.49,223.07 257.8,223.07 259.1,223.07 260.4,223.07 261.71,223.07 263.01,223.07 264.32,223.07 265.62,223.07 266.92,223.07 268.23,223.07 269.53,223.07 270.84,223.07 272.14,223.07 273.44,223.07 274.75,223.07 276.05,223.07 277.36,223.07 278.66,223.07 279.96,223.07 281.27,223.07 282.57,223.07 283.88,223.07 285.18,223.07 286.48,223.07 287.79,223.07 289.09,223.07 290.4,223.07 291.7,223.07" fill="none" stroke="#3072b3" stroke-width="1.7" stroke-linejoin="round" stroke-opacity="0.12"/>
<polyline points="96.1,82.74 97.4,83.44 98.71,85.52 100.01,88.91 101.32,93.53 102.62,99.22 103.92,105.85 105.23,113.22 106.53,121.15 107.84,129.44 109.14,137.91 110.44,146.36 111.75,154.65 113.05,162.63 114.36,170.17 115.66,177.18 116.96,183.59 118.27,189.33 119.57,194.39 120.88,198.75 122.18,202.4 123.48,205.34 124.79,207.59 126.09,209.15 127.4,210.03 128.7,210.25 130,209.79 131.31,208.65 132.61,206.81 133.92,204.27 135.22,201.01 136.52,197 137.83,192.25 139.13,186.75 140.44,180.51 141.74,173.58 143.04,166 144.35,157.84 145.65,149.23 146.96,140.27 148.26,131.14 149.56,121.99 150.87,113.04 152.17,104.48 153.48,96.52 154.78,89.37 156.08,83.22 157.39,78.24 158.69,74.57 160,72.33 161.3,71.57 162.6,72.33 163.91,74.57 165.21,78.24 166.52,83.22 167.82,89.37 169.12,96.53 170.43,104.49 171.73,113.06 173.04,122.02 174.34,131.18 175.64,140.34 176.95,149.33 178.25,157.99 179.56,166.21 180.86,173.89 182.16,180.95 183.47,187.36 184.77,193.09 186.08,198.15 187.38,202.57 188.68,206.37 189.99,209.6 191.29,212.31 192.6,214.57 193.9,216.41 195.2,217.91 196.51,219.11 197.81,220.06 199.12,220.81 200.42,221.39 201.72,221.83 203.03,222.16 204.33,222.42 205.64,222.6 206.94,222.74 208.24,222.84 209.55,222.91 210.85,222.96 212.16,222.99 213.46,223.02 214.76,223.04 216.07,223.05 217.37,223.06 218.68,223.06 219.98,223.06 221.28,223.07 222.59,223.07 223.89,223.07 225.2,223.07 226.5,223.07 227.8,223.07 229.11,223.07 230.41,223.07 231.72,223.07 233.02,223.07 234.32,223.07 235.63,223.07 236.93,223.07 238.24,223.07 239.54,223.07 240.84,223.07 242.15,223.07 243.45,223.07 244.76,223.07 246.06,223.07 247.36,223.07 248.67,223.07 249.97,223.07 251.28,223.07 252.58,223.07 253.88,223.07 255.19,223.07 256.49,223.07 257.8,223.07 259.1,223.07 260.4,223.07 261.71,223.07 263.01,223.07 264.32,223.07 265.62,223.07 266.92,223.07 268.23,223.07 269.53,223.07 270.84,223.07 272.14,223.07 273.44,223.07 274.75,223.07 276.05,223.07 277.36,223.07 278.66,223.07 279.96,223.07 281.27,223.07 282.57,223.07 283.88,223.07 285.18,223.07 286.48,223.07 287.79,223.07 289.09,223.07 290.4,223.07 291.7,223.07" fill="none" stroke="#3072b3" stroke-width="1.7" stroke-linejoin="round" stroke-opacity="0.12"/>
<polyline points="96.1,83.71 97.4,84.41 98.71,86.47 100.01,89.84 101.32,94.42 102.62,100.08 103.92,106.66 105.23,113.98 106.53,121.85 107.84,130.09 109.14,138.5 110.44,146.9 111.75,155.13 113.05,163.05 114.36,170.53 115.66,177.49 116.96,183.85 118.27,189.56 119.57,194.58 120.88,198.9 122.18,202.52 123.48,205.43 124.79,207.65 126.09,209.19 127.4,210.06 128.7,210.25 130,209.77 131.31,208.6 132.61,206.75 133.92,204.18 135.22,200.89 136.52,196.85 137.83,192.06 139.13,186.52 140.44,180.25 141.74,173.27 143.04,165.63 144.35,157.43 145.65,148.75 146.96,139.74 148.26,130.55 149.56,121.34 150.87,112.33 152.17,103.72 153.48,95.71 154.78,88.51 156.08,82.32 157.39,77.31 158.69,73.62 160,71.36 161.3,70.6 162.6,71.36 163.91,73.62 165.21,77.31 166.52,82.32 167.82,88.52 169.12,95.72 170.43,103.73 171.73,112.35 173.04,121.38 174.34,130.59 175.64,139.81 176.95,148.85 178.25,157.58 179.56,165.85 180.86,173.57 182.16,180.68 183.47,187.13 184.77,192.9 186.08,197.99 187.38,202.44 188.68,206.26 189.99,209.51 191.29,212.24 192.6,214.51 193.9,216.37 195.2,217.88 196.51,219.09 197.81,220.04 199.12,220.8 200.42,221.38 201.72,221.82 203.03,222.16 204.33,222.41 205.64,222.6 206.94,222.74 208.24,222.84 209.55,222.91 210.85,222.96 212.16,222.99 213.46,223.02 214.76,223.04 216.07,223.05 217.37,223.06 218.68,223.06 219.98,223.06 221.28,223.07 222.59,223.07 223.89,223.07 225.2,223.07 226.5,223.07 227.8,223.07 229.11,223.07 230.41,223.07 231.72,223.07 233.02,223.07 234.32,223.07 235.63,223.07 236.93,223.07 238.24,223.07 239.54,223.07 240.84,223.07 242.15,223.07 243.45,223.07 244.76,223.07 246.06,223.07 247.36,223.07 248.67,223.07 249.97,223.07 251.28,223.07 252.58,223.07 253.88,223.07 255.19,223.07 256.49,223.07 257.8,223.07 259.1,223.07 260.4,223.07 261.71,223.07 263.01,223.07 264.32,223.07 265.62,223.07 266.92,223.07 268.23,223.07 269.53,223.07 270.84,223.07 272.14,223.07 273.44,223.07 274.75,223.07 276.05,223.07 277.36,223.07 278.66,223.07 279.96,223.07 281.27,223.07 282.57,223.07 283.88,223.07 285.18,223.07 286.48,223.07 287.79,223.07 289.09,223.07 290.4,223.07 291.7,223.07" fill="none" stroke="#3072b3" stroke-width="1.7" stroke-linejoin="round" stroke-opacity="0.12"/>
<polyline points="96.1,73.54 97.4,74.28 98.71,76.5 100.01,80.12 101.32,85.03 102.62,91.1 103.92,98.16 105.23,106.02 106.53,114.47 107.84,123.3 109.14,132.33 110.44,141.34 111.75,150.18 113.05,158.69 114.36,166.73 115.66,174.21 116.96,181.06 118.27,187.2 119.57,192.63 120.88,197.31 122.18,201.25 123.48,204.46 124.79,206.95 126.09,208.74 127.4,209.83 128.7,210.25 130,209.99 131.31,209.06 132.61,207.45 133.92,205.15 135.22,202.15 136.52,198.44 137.83,194.02 139.13,188.88 140.44,183.04 141.74,176.55 143.04,169.44 144.35,161.79 145.65,153.7 146.96,145.29 148.26,136.71 149.56,128.13 150.87,119.72 152.17,111.68 153.48,104.21 154.78,97.49 156.08,91.71 157.39,87.03 158.69,83.59 160,81.48 161.3,80.77 162.6,81.48 163.91,83.59 165.21,87.04 166.52,91.71 167.82,97.49 169.12,104.21 170.43,111.69 171.73,119.74 173.04,128.16 174.34,136.76 175.64,145.37 176.95,153.81 178.25,161.95 179.56,169.66 180.86,176.87 182.16,183.51 183.47,189.52 184.77,194.91 186.08,199.67 187.38,203.81 188.68,207.38 189.99,210.42 191.29,212.97 192.6,215.08 193.9,216.82 195.2,218.23 196.51,219.35 197.81,220.25 199.12,220.95 200.42,221.49 201.72,221.9 203.03,222.22 204.33,222.46 205.64,222.63 206.94,222.76 208.24,222.85 209.55,222.92 210.85,222.97 212.16,223 213.46,223.02 214.76,223.04 216.07,223.05 217.37,223.06 218.68,223.06 219.98,223.06 221.28,223.07 222.59,223.07 223.89,223.07 225.2,223.07 226.5,223.07 227.8,223.07 229.11,223.07 230.41,223.07 231.72,223.07 233.02,223.07 234.32,223.07 235.63,223.07 236.93,223.07 238.24,223.07 239.54,223.07 240.84,223.07 242.15,223.07 243.45,223.07 244.76,223.07 246.06,223.07 247.36,223.07 248.67,223.07 249.97,223.07 251.28,223.07 252.58,223.07 253.88,223.07 255.19,223.07 256.49,223.07 257.8,223.07 259.1,223.07 260.4,223.07 261.71,223.07 263.01,223.07 264.32,223.07 265.62,223.07 266.92,223.07 268.23,223.07 269.53,223.07 270.84,223.07 272.14,223.07 273.44,223.07 274.75,223.07 276.05,223.07 277.36,223.07 278.66,223.07 279.96,223.07 281.27,223.07 282.57,223.07 283.88,223.07 285.18,223.07 286.48,223.07 287.79,223.07 289.09,223.07 290.4,223.07 291.7,223.07" fill="none" stroke="#3072b3" stroke-width="1.7" stroke-linejoin="round" stroke-opacity="0.12"/>
<polyline points="96.1,59.69 97.4,60.5 98.71,62.92 100.01,66.87 101.32,72.25 102.62,78.88 103.92,86.59 105.23,95.18 106.53,104.41 107.84,114.07 109.14,123.93 110.44,133.79 111.75,143.45 113.05,152.75 114.36,161.55 115.66,169.75 116.96,177.25 118.27,184 119.57,189.97 120.88,195.15 122.18,199.53 123.48,203.14 124.79,205.99 126.09,208.11 127.4,209.53 128.7,210.25 130,210.3 131.31,209.68 132.61,208.41 133.92,206.47 135.22,203.87 136.52,200.61 137.83,196.67 139.13,192.08 140.44,186.85 141.74,181.01 143.04,174.61 144.35,167.72 145.65,160.43 146.96,152.85 148.26,145.11 149.56,137.36 150.87,129.78 152.17,122.52 153.48,115.77 154.78,109.71 156.08,104.5 157.39,100.28 158.69,97.17 160,95.27 161.3,94.63 162.6,95.27 163.91,97.17 165.21,100.28 166.52,104.5 167.82,109.72 169.12,115.79 170.43,122.54 171.73,129.8 173.04,137.4 174.34,145.17 175.64,152.93 176.95,160.55 178.25,167.9 179.56,174.86 180.86,181.37 182.16,187.36 183.47,192.79 184.77,197.65 186.08,201.94 187.38,205.69 188.68,208.91 189.99,211.65 191.29,213.95 192.6,215.86 193.9,217.43 195.2,218.7 196.51,219.71 197.81,220.52 199.12,221.15 200.42,221.64 201.72,222.02 203.03,222.3 204.33,222.52 205.64,222.67 206.94,222.79 208.24,222.87 209.55,222.93 210.85,222.98 212.16,223.01 213.46,223.03 214.76,223.04 216.07,223.05 217.37,223.06 218.68,223.06 219.98,223.06 221.28,223.07 222.59,223.07 223.89,223.07 225.2,223.07 226.5,223.07 227.8,223.07 229.11,223.07 230.41,223.07 231.72,223.07 233.02,223.07 234.32,223.07 235.63,223.07 236.93,223.07 238.24,223.07 239.54,223.07 240.84,223.07 242.15,223.07 243.45,223.07 244.76,223.07 246.06,223.07 247.36,223.07 248.67,223.07 249.97,223.07 251.28,223.07 252.58,223.07 253.88,223.07 255.19,223.07 256.49,223.07 257.8,223.07 259.1,223.07 260.4,223.07 261.71,223.07 263.01,223.07 264.32,223.07 265.62,223.07 266.92,223.07 268.23,223.07 269.53,223.07 270.84,223.07 272.14,223.07 273.44,223.07 274.75,223.07 276.05,223.07 277.36,223.07 278.66,223.07 279.96,223.07 281.27,223.07 282.57,223.07 283.88,223.07 285.18,223.07 286.48,223.07 287.79,223.07 289.09,223.07 290.4,223.07 291.7,223.07" fill="none" stroke="#3072b3" stroke-width="1.7" stroke-linejoin="round" stroke-opacity="0.12"/>
<polyline points="96.1,76.64 97.4,77.37 98.71,79.54 100.01,83.09 101.32,87.9 102.62,93.84 103.92,100.76 105.23,108.45 106.53,116.72 107.84,125.38 109.14,134.21 110.44,143.04 111.75,151.69 113.05,160.02 114.36,167.89 115.66,175.21 116.96,181.91 118.27,187.92 119.57,193.22 120.88,197.8 122.18,201.64 123.48,204.76 124.79,207.16 126.09,208.87 127.4,209.9 128.7,210.25 130,209.92 131.31,208.92 132.61,207.24 133.92,204.85 135.22,201.77 136.52,197.96 137.83,193.42 139.13,188.16 140.44,182.19 141.74,175.54 143.04,168.27 144.35,160.46 145.65,152.19 146.96,143.6 148.26,134.83 149.56,126.06 150.87,117.47 152.17,109.25 153.48,101.61 154.78,94.75 156.08,88.84 157.39,84.06 158.69,80.55 160,78.39 161.3,77.67 162.6,78.39 163.91,80.55 165.21,84.07 166.52,88.85 167.82,94.75 169.12,101.62 170.43,109.26 171.73,117.49 173.04,126.09 174.34,134.88 175.64,143.67 176.95,152.3 178.25,160.61 179.56,168.5 180.86,175.87 182.16,182.64 183.47,188.79 184.77,194.3 186.08,199.16 187.38,203.39 188.68,207.04 189.99,210.14 191.29,212.75 192.6,214.91 193.9,216.68 195.2,218.12 196.51,219.27 197.81,220.19 199.12,220.9 200.42,221.45 201.72,221.88 203.03,222.2 204.33,222.44 205.64,222.62 206.94,222.75 208.24,222.85 209.55,222.92 210.85,222.96 212.16,223 213.46,223.02 214.76,223.04 216.07,223.05 217.37,223.06 218.68,223.06 219.98,223.06 221.28,223.07 222.59,223.07 223.89,223.07 225.2,223.07 226.5,223.07 227.8,223.07 229.11,223.07 230.41,223.07 231.72,223.07 233.02,223.07 234.32,223.07 235.63,223.07 236.93,223.07 238.24,223.07 239.54,223.07 240.84,223.07 242.15,223.07 243.45,223.07 244.76,223.07 246.06,223.07 247.36,223.07 248.67,223.07 249.97,223.07 251.28,223.07 252.58,223.07 253.88,223.07 255.19,223.07 256.49,223.07 257.8,223.07 259.1,223.07 260.4,223.07 261.71,223.07 263.01,223.07 264.32,223.07 265.62,223.07 266.92,223.07 268.23,223.07 269.53,223.07 270.84,223.07 272.14,223.07 273.44,223.07 274.75,223.07 276.05,223.07 277.36,223.07 278.66,223.07 279.96,223.07 281.27,223.07 282.57,223.07 283.88,223.07 285.18,223.07 286.48,223.07 287.79,223.07 289.09,223.07 290.4,223.07 291.7,223.07" fill="none" stroke="#3072b3" stroke-width="1.7" stroke-linejoin="round" stroke-opacity="0.12"/>
<polyline points="96.1,93.53 97.4,94.17 98.71,96.09 100.01,99.22 101.32,103.48 102.62,108.74 103.92,114.86 105.23,121.66 106.53,128.98 107.84,136.63 109.14,144.44 110.44,152.25 111.75,159.9 113.05,167.25 114.36,174.2 115.66,180.66 116.96,186.55 118.27,191.83 119.57,196.46 120.88,200.43 122.18,203.74 123.48,206.37 124.79,208.33 126.09,209.63 127.4,210.27 128.7,210.25 130,209.55 131.31,208.16 132.61,206.07 133.92,203.25 135.22,199.67 136.52,195.32 137.83,190.18 139.13,184.25 140.44,177.55 141.74,170.1 143.04,161.97 144.35,153.22 145.65,143.98 146.96,134.39 148.26,124.6 149.56,114.8 150.87,105.21 152.17,96.04 153.48,87.51 154.78,79.85 156.08,73.26 157.39,67.93 158.69,64 160,61.6 161.3,60.79 162.6,61.6 163.91,64 165.21,67.93 166.52,73.26 167.82,79.86 169.12,87.52 170.43,96.05 171.73,105.23 173.04,114.83 174.34,124.64 175.64,134.45 176.95,144.08 178.25,153.36 179.56,162.16 180.86,170.38 182.16,177.95 183.47,184.81 184.77,190.95 186.08,196.38 187.38,201.11 188.68,205.18 189.99,208.64 191.29,211.55 192.6,213.96 193.9,215.94 195.2,217.54 196.51,218.83 197.81,219.85 199.12,220.65 200.42,221.27 201.72,221.74 203.03,222.1 204.33,222.37 205.64,222.57 206.94,222.72 208.24,222.82 209.55,222.9 210.85,222.95 212.16,222.99 213.46,223.02 214.76,223.03 216.07,223.05 217.37,223.05 218.68,223.06 219.98,223.06 221.28,223.07 222.59,223.07 223.89,223.07 225.2,223.07 226.5,223.07 227.8,223.07 229.11,223.07 230.41,223.07 231.72,223.07 233.02,223.07 234.32,223.07 235.63,223.07 236.93,223.07 238.24,223.07 239.54,223.07 240.84,223.07 242.15,223.07 243.45,223.07 244.76,223.07 246.06,223.07 247.36,223.07 248.67,223.07 249.97,223.07 251.28,223.07 252.58,223.07 253.88,223.07 255.19,223.07 256.49,223.07 257.8,223.07 259.1,223.07 260.4,223.07 261.71,223.07 263.01,223.07 264.32,223.07 265.62,223.07 266.92,223.07 268.23,223.07 269.53,223.07 270.84,223.07 272.14,223.07 273.44,223.07 274.75,223.07 276.05,223.07 277.36,223.07 278.66,223.07 279.96,223.07 281.27,223.07 282.57,223.07 283.88,223.07 285.18,223.07 286.48,223.07 287.79,223.07 289.09,223.07 290.4,223.07 291.7,223.07" fill="none" stroke="#3072b3" stroke-width="1.7" stroke-linejoin="round" stroke-opacity="0.12"/>
<polyline points="96.1,69.99 97.4,70.76 98.71,73.02 100.01,76.73 101.32,81.76 102.62,87.98 103.92,95.2 105.23,103.24 106.53,111.89 107.84,120.94 109.14,130.18 110.44,139.41 111.75,148.46 113.05,157.17 114.36,165.41 115.66,173.07 116.96,180.08 118.27,186.38 119.57,191.95 120.88,196.76 122.18,200.81 123.48,204.12 124.79,206.71 126.09,208.58 127.4,209.75 128.7,210.25 130,210.07 131.31,209.22 132.61,207.69 133.92,205.49 135.22,202.59 136.52,199 137.83,194.7 139.13,189.7 140.44,184.02 141.74,177.69 143.04,170.76 144.35,163.31 145.65,155.42 146.96,147.23 148.26,138.86 149.56,130.49 150.87,122.29 152.17,114.45 153.48,107.17 154.78,100.62 156.08,94.98 157.39,90.42 158.69,87.07 160,85.01 161.3,84.32 162.6,85.01 163.91,87.07 165.21,90.42 166.52,94.99 167.82,100.62 169.12,107.18 170.43,114.47 171.73,122.32 173.04,130.53 174.34,138.91 175.64,147.3 176.95,155.53 178.25,163.47 179.56,171 180.86,178.02 182.16,184.49 183.47,190.36 184.77,195.61 186.08,200.25 187.38,204.29 188.68,207.77 189.99,210.73 191.29,213.22 192.6,215.28 193.9,216.97 195.2,218.35 196.51,219.45 197.81,220.32 199.12,221 200.42,221.53 201.72,221.93 203.03,222.24 204.33,222.47 205.64,222.64 206.94,222.77 208.24,222.86 209.55,222.92 210.85,222.97 212.16,223 213.46,223.02 214.76,223.04 216.07,223.05 217.37,223.06 218.68,223.06 219.98,223.06 221.28,223.07 222.59,223.07 223.89,223.07 225.2,223.07 226.5,223.07 227.8,223.07 229.11,223.07 230.41,223.07 231.72,223.07 233.02,223.07 234.32,223.07 235.63,223.07 236.93,223.07 238.24,223.07 239.54,223.07 240.84,223.07 242.15,223.07 243.45,223.07 244.76,223.07 246.06,223.07 247.36,223.07 248.67,223.07 249.97,223.07 251.28,223.07 252.58,223.07 253.88,223.07 255.19,223.07 256.49,223.07 257.8,223.07 259.1,223.07 260.4,223.07 261.71,223.07 263.01,223.07 264.32,223.07 265.62,223.07 266.92,223.07 268.23,223.07 269.53,223.07 270.84,223.07 272.14,223.07 273.44,223.07 274.75,223.07 276.05,223.07 277.36,223.07 278.66,223.07 279.96,223.07 281.27,223.07 282.57,223.07 283.88,223.07 285.18,223.07 286.48,223.07 287.79,223.07 289.09,223.07 290.4,223.07 291.7,223.07" fill="none" stroke="#3072b3" stroke-width="1.7" stroke-linejoin="round" stroke-opacity="0.12"/>
<polyline points="96.1,77.55 97.4,78.27 98.71,80.43 100.01,83.95 101.32,88.73 102.62,94.64 103.92,101.51 105.23,109.15 106.53,117.38 107.84,125.98 109.14,134.76 110.44,143.53 111.75,152.13 113.05,160.4 114.36,168.23 115.66,175.51 116.96,182.16 118.27,188.13 119.57,193.4 120.88,197.94 122.18,201.75 123.48,204.84 124.79,207.23 126.09,208.92 127.4,209.92 128.7,210.25 130,209.9 131.31,208.88 132.61,207.17 133.92,204.77 135.22,201.65 136.52,197.82 137.83,193.25 139.13,187.95 140.44,181.94 141.74,175.25 143.04,167.94 144.35,160.07 145.65,151.75 146.96,143.1 148.26,134.28 149.56,125.46 150.87,116.81 152.17,108.54 153.48,100.86 154.78,93.95 156.08,88.01 157.39,83.2 158.69,79.66 160,77.5 161.3,76.77 162.6,77.5 163.91,79.66 165.21,83.2 166.52,88.01 167.82,93.96 169.12,100.87 170.43,108.56 171.73,116.83 173.04,125.49 174.34,134.33 175.64,143.18 176.95,151.86 178.25,160.22 179.56,168.16 180.86,175.57 182.16,182.39 183.47,188.58 184.77,194.12 186.08,199.01 187.38,203.27 188.68,206.94 189.99,210.06 191.29,212.68 192.6,214.86 193.9,216.64 195.2,218.09 196.51,219.25 197.81,220.17 199.12,220.89 200.42,221.44 201.72,221.87 203.03,222.2 204.33,222.44 205.64,222.62 206.94,222.75 208.24,222.85 209.55,222.91 210.85,222.96 212.16,223 213.46,223.02 214.76,223.04 216.07,223.05 217.37,223.06 218.68,223.06 219.98,223.06 221.28,223.07 222.59,223.07 223.89,223.07 225.2,223.07 226.5,223.07 227.8,223.07 229.11,223.07 230.41,223.07 231.72,223.07 233.02,223.07 234.32,223.07 235.63,223.07 236.93,223.07 238.24,223.07 239.54,223.07 240.84,223.07 242.15,223.07 243.45,223.07 244.76,223.07 246.06,223.07 247.36,223.07 248.67,223.07 249.97,223.07 251.28,223.07 252.58,223.07 253.88,223.07 255.19,223.07 256.49,223.07 257.8,223.07 259.1,223.07 260.4,223.07 261.71,223.07 263.01,223.07 264.32,223.07 265.62,223.07 266.92,223.07 268.23,223.07 269.53,223.07 270.84,223.07 272.14,223.07 273.44,223.07 274.75,223.07 276.05,223.07 277.36,223.07 278.66,223.07 279.96,223.07 281.27,223.07 282.57,223.07 283.88,223.07 285.18,223.07 286.48,223.07 287.79,223.07 289.09,223.07 290.4,223.07 291.7,223.07" fill="none" stroke="#3072b3" stroke-width="1.7" stroke-linejoin="round" stroke-opacity="0.12"/>
<polyline points="96.1,91.04 97.4,91.7 98.71,93.65 100.01,96.85 101.32,101.19 102.62,106.55 103.92,112.78 105.23,119.71 106.53,127.17 107.84,134.97 109.14,142.94 110.44,150.89 111.75,158.69 113.05,166.19 114.36,173.27 115.66,179.86 116.96,185.87 118.27,191.25 119.57,195.99 120.88,200.05 122.18,203.43 123.48,206.13 124.79,208.16 126.09,209.52 127.4,210.22 128.7,210.25 130,209.6 131.31,208.27 132.61,206.24 133.92,203.48 135.22,199.98 136.52,195.71 137.83,190.66 139.13,184.83 140.44,178.23 141.74,170.9 143.04,162.89 144.35,154.29 145.65,145.19 146.96,135.74 148.26,126.1 149.56,116.46 150.87,107.01 152.17,97.98 153.48,89.59 154.78,82.04 156.08,75.56 157.39,70.3 158.69,66.44 160,64.07 161.3,63.27 162.6,64.07 163.91,66.44 165.21,70.3 166.52,75.56 167.82,82.05 169.12,89.6 170.43,98 171.73,107.03 173.04,116.49 174.34,126.15 175.64,135.81 176.95,145.29 178.25,154.43 179.56,163.1 180.86,171.19 182.16,178.64 183.47,185.4 184.77,191.45 186.08,196.79 187.38,201.44 188.68,205.45 189.99,208.86 191.29,211.72 192.6,214.1 193.9,216.05 195.2,217.63 196.51,218.9 197.81,219.9 199.12,220.69 200.42,221.29 201.72,221.76 203.03,222.12 204.33,222.38 205.64,222.58 206.94,222.72 208.24,222.82 209.55,222.9 210.85,222.95 212.16,222.99 213.46,223.02 214.76,223.03 216.07,223.05 217.37,223.05 218.68,223.06 219.98,223.06 221.28,223.07 222.59,223.07 223.89,223.07 225.2,223.07 226.5,223.07 227.8,223.07 229.11,223.07 230.41,223.07 231.72,223.07 233.02,223.07 234.32,223.07 235.63,223.07 236.93,223.07 238.24,223.07 239.54,223.07 240.84,223.07 242.15,223.07 243.45,223.07 244.76,223.07 246.06,223.07 247.36,223.07 248.67,223.07 249.97,223.07 251.28,223.07 252.58,223.07 253.88,223.07 255.19,223.07 256.49,223.07 257.8,223.07 259.1,223.07 260.4,223.07 261.71,223.07 263.01,223.07 264.32,223.07 265.62,223.07 266.92,223.07 268.23,223.07 269.53,223.07 270.84,223.07 272.14,223.07 273.44,223.07 274.75,223.07 276.05,223.07 277.36,223.07 278.66,223.07 279.96,223.07 281.27,223.07 282.57,223.07 283.88,223.07 285.18,223.07 286.48,223.07 287.79,223.07 289.09,223.07 290.4,223.07 291.7,223.07" fill="none" stroke="#3072b3" stroke-width="1.7" stroke-linejoin="round" stroke-opacity="0.12"/>
<polyline points="96.1,78.77 97.4,79.49 98.71,81.63 100.01,85.12 101.32,89.87 102.62,95.72 103.92,102.54 105.23,110.12 106.53,118.27 107.84,126.8 109.14,135.5 110.44,144.2 111.75,152.73 113.05,160.93 114.36,168.69 115.66,175.9 116.96,182.49 118.27,188.42 119.57,193.63 120.88,198.13 122.18,201.9 123.48,204.96 124.79,207.31 126.09,208.97 127.4,209.95 128.7,210.25 130,209.88 131.31,208.83 132.61,207.09 133.92,204.65 135.22,201.5 136.52,197.62 137.83,193.01 139.13,187.67 140.44,181.61 141.74,174.86 143.04,167.48 144.35,159.54 145.65,151.15 146.96,142.43 148.26,133.54 149.56,124.64 150.87,115.92 152.17,107.58 153.48,99.83 154.78,92.87 156.08,86.88 157.39,82.03 158.69,78.46 160,76.27 161.3,75.54 162.6,76.27 163.91,78.46 165.21,82.03 166.52,86.88 167.82,92.87 169.12,99.84 170.43,107.6 171.73,115.94 173.04,124.67 174.34,133.59 175.64,142.51 176.95,151.26 178.25,159.7 179.56,167.7 180.86,175.17 182.16,182.05 183.47,188.29 184.77,193.87 186.08,198.8 187.38,203.1 188.68,206.8 189.99,209.95 191.29,212.59 192.6,214.79 193.9,216.59 195.2,218.05 196.51,219.22 197.81,220.14 199.12,220.87 200.42,221.43 201.72,221.86 203.03,222.19 204.33,222.43 205.64,222.61 206.94,222.75 208.24,222.84 209.55,222.91 210.85,222.96 212.16,223 213.46,223.02 214.76,223.04 216.07,223.05 217.37,223.06 218.68,223.06 219.98,223.06 221.28,223.07 222.59,223.07 223.89,223.07 225.2,223.07 226.5,223.07 227.8,223.07 229.11,223.07 230.41,223.07 231.72,223.07 233.02,223.07 234.32,223.07 235.63,223.07 236.93,223.07 238.24,223.07 239.54,223.07 240.84,223.07 242.15,223.07 243.45,223.07 244.76,223.07 246.06,223.07 247.36,223.07 248.67,223.07 249.97,223.07 251.28,223.07 252.58,223.07 253.88,223.07 255.19,223.07 256.49,223.07 257.8,223.07 259.1,223.07 260.4,223.07 261.71,223.07 263.01,223.07 264.32,223.07 265.62,223.07 266.92,223.07 268.23,223.07 269.53,223.07 270.84,223.07 272.14,223.07 273.44,223.07 274.75,223.07 276.05,223.07 277.36,223.07 278.66,223.07 279.96,223.07 281.27,223.07 282.57,223.07 283.88,223.07 285.18,223.07 286.48,223.07 287.79,223.07 289.09,223.07 290.4,223.07 291.7,223.07" fill="none" stroke="#3072b3" stroke-width="1.7" stroke-linejoin="round" stroke-opacity="0.12"/>
<polyline points="96.1,73.53 97.4,74.28 98.71,76.49 100.01,80.11 101.32,85.03 102.62,91.1 103.92,98.16 105.23,106.01 106.53,114.46 107.84,123.3 109.14,132.32 110.44,141.34 111.75,150.18 113.05,158.68 114.36,166.73 115.66,174.21 116.96,181.05 118.27,187.2 119.57,192.63 120.88,197.31 122.18,201.25 123.48,204.46 124.79,206.95 126.09,208.74 127.4,209.83 128.7,210.25 130,209.99 131.31,209.06 132.61,207.45 133.92,205.15 135.22,202.15 136.52,198.44 137.83,194.02 139.13,188.88 140.44,183.05 141.74,176.55 143.04,169.44 144.35,161.79 145.65,153.7 146.96,145.29 148.26,136.72 149.56,128.13 150.87,119.72 152.17,111.68 153.48,104.21 154.78,97.49 156.08,91.72 157.39,87.04 158.69,83.6 160,81.49 161.3,80.78 162.6,81.49 163.91,83.6 165.21,87.04 166.52,91.72 167.82,97.5 169.12,104.22 170.43,111.7 171.73,119.75 173.04,128.17 174.34,136.77 175.64,145.37 176.95,153.81 178.25,161.95 179.56,169.67 180.86,176.88 182.16,183.51 183.47,189.53 184.77,194.91 186.08,199.67 187.38,203.81 188.68,207.38 189.99,210.42 191.29,212.97 192.6,215.08 193.9,216.82 195.2,218.23 196.51,219.35 197.81,220.25 199.12,220.95 200.42,221.49 201.72,221.9 203.03,222.22 204.33,222.46 205.64,222.63 206.94,222.76 208.24,222.85 209.55,222.92 210.85,222.97 212.16,223 213.46,223.02 214.76,223.04 216.07,223.05 217.37,223.06 218.68,223.06 219.98,223.06 221.28,223.07 222.59,223.07 223.89,223.07 225.2,223.07 226.5,223.07 227.8,223.07 229.11,223.07 230.41,223.07 231.72,223.07 233.02,223.07 234.32,223.07 235.63,223.07 236.93,223.07 238.24,223.07 239.54,223.07 240.84,223.07 242.15,223.07 243.45,223.07 244.76,223.07 246.06,223.07 247.36,223.07 248.67,223.07 249.97,223.07 251.28,223.07 252.58,223.07 253.88,223.07 255.19,223.07 256.49,223.07 257.8,223.07 259.1,223.07 260.4,223.07 261.71,223.07 263.01,223.07 264.32,223.07 265.62,223.07 266.92,223.07 268.23,223.07 269.53,223.07 270.84,223.07 272.14,223.07 273.44,223.07 274.75,223.07 276.05,223.07 277.36,223.07 278.66,223.07 279.96,223.07 281.27,223.07 282.57,223.07 283.88,223.07 285.18,223.07 286.48,223.07 287.79,223.07 289.09,223.07 290.4,223.07 291.7,223.07" fill="none" stroke="#3072b3" stroke-width="1.7" stroke-linejoin="round" stroke-opacity="0.12"/>
<polyline points="96.1,60.67 97.4,61.48 98.71,63.88 100.01,67.81 101.32,73.15 102.62,79.74 103.92,87.41 105.23,95.94 106.53,105.12 107.84,114.72 109.14,124.52 110.44,134.32 111.75,143.93 113.05,153.17 114.36,161.92 115.66,170.06 116.96,177.52 118.27,184.23 119.57,190.16 120.88,195.3 122.18,199.65 123.48,203.23 124.79,206.06 126.09,208.16 127.4,209.55 128.7,210.25 130,210.28 131.31,209.64 132.61,208.34 133.92,206.38 135.22,203.75 136.52,200.45 137.83,196.49 139.13,191.86 140.44,186.58 141.74,180.7 143.04,174.25 144.35,167.3 145.65,159.95 146.96,152.31 148.26,144.52 149.56,136.71 150.87,129.07 152.17,121.75 153.48,114.96 154.78,108.85 156.08,103.59 157.39,99.34 158.69,96.21 160,94.29 161.3,93.65 162.6,94.29 163.91,96.21 165.21,99.34 166.52,103.6 167.82,108.85 169.12,114.97 170.43,121.77 171.73,129.09 173.04,136.75 174.34,144.57 175.64,152.4 176.95,160.07 178.25,167.48 179.56,174.5 180.86,181.05 182.16,187.09 183.47,192.56 184.77,197.46 186.08,201.78 187.38,205.55 188.68,208.8 189.99,211.56 191.29,213.88 192.6,215.8 193.9,217.38 195.2,218.66 196.51,219.69 197.81,220.5 199.12,221.14 200.42,221.63 201.72,222.01 203.03,222.3 204.33,222.51 205.64,222.67 206.94,222.79 208.24,222.87 209.55,222.93 210.85,222.98 212.16,223.01 213.46,223.03 214.76,223.04 216.07,223.05 217.37,223.06 218.68,223.06 219.98,223.06 221.28,223.07 222.59,223.07 223.89,223.07 225.2,223.07 226.5,223.07 227.8,223.07 229.11,223.07 230.41,223.07 231.72,223.07 233.02,223.07 234.32,223.07 235.63,223.07 236.93,223.07 238.24,223.07 239.54,223.07 240.84,223.07 242.15,223.07 243.45,223.07 244.76,223.07 246.06,223.07 247.36,223.07 248.67,223.07 249.97,223.07 251.28,223.07 252.58,223.07 253.88,223.07 255.19,223.07 256.49,223.07 257.8,223.07 259.1,223.07 260.4,223.07 261.71,223.07 263.01,223.07 264.32,223.07 265.62,223.07 266.92,223.07 268.23,223.07 269.53,223.07 270.84,223.07 272.14,223.07 273.44,223.07 274.75,223.07 276.05,223.07 277.36,223.07 278.66,223.07 279.96,223.07 281.27,223.07 282.57,223.07 283.88,223.07 285.18,223.07 286.48,223.07 287.79,223.07 289.09,223.07 290.4,223.07 291.7,223.07" fill="none" stroke="#3072b3" stroke-width="1.7" stroke-linejoin="round" stroke-opacity="0.12"/>
<polyline points="96.1,64.21 97.4,65.01 98.71,67.36 100.01,71.2 101.32,76.42 102.62,82.88 103.92,90.37 105.23,98.72 106.53,107.7 107.84,117.09 109.14,126.67 110.44,136.26 111.75,145.65 113.05,154.69 114.36,163.25 115.66,171.21 116.96,178.49 118.27,185.05 119.57,190.84 120.88,195.85 122.18,200.09 123.48,203.57 124.79,206.31 126.09,208.32 127.4,209.63 128.7,210.25 130,210.2 131.31,209.48 132.61,208.09 133.92,206.04 135.22,203.31 136.52,199.9 137.83,195.81 139.13,191.04 140.44,185.61 141.74,179.55 143.04,172.92 144.35,165.78 145.65,158.23 146.96,150.38 148.26,142.37 149.56,134.35 150.87,126.49 152.17,118.98 153.48,111.99 154.78,105.72 156.08,100.32 157.39,95.95 158.69,92.73 160,90.76 161.3,90.1 162.6,90.76 163.91,92.73 165.21,95.95 166.52,100.32 167.82,105.72 169.12,112 170.43,118.99 171.73,126.51 173.04,134.38 174.34,142.42 175.64,150.46 176.95,158.35 178.25,165.95 179.56,173.16 180.86,179.9 182.16,186.1 183.47,191.72 184.77,196.76 186.08,201.2 187.38,205.07 188.68,208.41 189.99,211.25 191.29,213.63 192.6,215.61 193.9,217.23 195.2,218.54 196.51,219.6 197.81,220.43 199.12,221.09 200.42,221.59 201.72,221.98 203.03,222.28 204.33,222.5 205.64,222.66 206.94,222.78 208.24,222.87 209.55,222.93 210.85,222.97 212.16,223 213.46,223.03 214.76,223.04 216.07,223.05 217.37,223.06 218.68,223.06 219.98,223.06 221.28,223.07 222.59,223.07 223.89,223.07 225.2,223.07 226.5,223.07 227.8,223.07 229.11,223.07 230.41,223.07 231.72,223.07 233.02,223.07 234.32,223.07 235.63,223.07 236.93,223.07 238.24,223.07 239.54,223.07 240.84,223.07 242.15,223.07 243.45,223.07 244.76,223.07 246.06,223.07 247.36,223.07 248.67,223.07 249.97,223.07 251.28,223.07 252.58,223.07 253.88,223.07 255.19,223.07 256.49,223.07 257.8,223.07 259.1,223.07 260.4,223.07 261.71,223.07 263.01,223.07 264.32,223.07 265.62,223.07 266.92,223.07 268.23,223.07 269.53,223.07 270.84,223.07 272.14,223.07 273.44,223.07 274.75,223.07 276.05,223.07 277.36,223.07 278.66,223.07 279.96,223.07 281.27,223.07 282.57,223.07 283.88,223.07 285.18,223.07 286.48,223.07 287.79,223.07 289.09,223.07 290.4,223.07 291.7,223.07" fill="none" stroke="#3072b3" stroke-width="1.7" stroke-linejoin="round" stroke-opacity="0.12"/>
<polyline points="96.1,63.36 97.4,64.16 98.71,66.52 100.01,70.39 101.32,75.64 102.62,82.12 103.92,89.66 105.23,98.05 106.53,107.08 107.84,116.52 109.14,126.16 110.44,135.79 111.75,145.23 113.05,154.33 114.36,162.93 115.66,170.93 116.96,178.26 118.27,184.85 119.57,190.67 120.88,195.72 122.18,199.99 123.48,203.49 124.79,206.25 126.09,208.28 127.4,209.61 128.7,210.25 130,210.22 131.31,209.52 132.61,208.15 133.92,206.12 135.22,203.42 136.52,200.03 137.83,195.97 139.13,191.23 140.44,185.84 141.74,179.83 143.04,173.24 144.35,166.15 145.65,158.64 146.96,150.84 148.26,142.88 149.56,134.92 150.87,127.11 152.17,119.65 153.48,112.71 154.78,106.47 156.08,101.11 157.39,96.76 158.69,93.57 160,91.61 161.3,90.95 162.6,91.61 163.91,93.57 165.21,96.77 166.52,101.11 167.82,106.48 169.12,112.72 170.43,119.66 171.73,127.13 173.04,134.95 174.34,142.94 175.64,150.92 176.95,158.76 178.25,166.32 179.56,173.48 180.86,180.18 182.16,186.34 183.47,191.92 184.77,196.92 186.08,201.34 187.38,205.19 188.68,208.5 189.99,211.32 191.29,213.69 192.6,215.65 193.9,217.27 195.2,218.57 196.51,219.62 197.81,220.45 199.12,221.1 200.42,221.6 201.72,221.99 203.03,222.28 204.33,222.5 205.64,222.66 206.94,222.78 208.24,222.87 209.55,222.93 210.85,222.97 212.16,223 213.46,223.03 214.76,223.04 216.07,223.05 217.37,223.06 218.68,223.06 219.98,223.06 221.28,223.07 222.59,223.07 223.89,223.07 225.2,223.07 226.5,223.07 227.8,223.07 229.11,223.07 230.41,223.07 231.72,223.07 233.02,223.07 234.32,223.07 235.63,223.07 236.93,223.07 238.24,223.07 239.54,223.07 240.84,223.07 242.15,223.07 243.45,223.07 244.76,223.07 246.06,223.07 247.36,223.07 248.67,223.07 249.97,223.07 251.28,223.07 252.58,223.07 253.88,223.07 255.19,223.07 256.49,223.07 257.8,223.07 259.1,223.07 260.4,223.07 261.71,223.07 263.01,223.07 264.32,223.07 265.62,223.07 266.92,223.07 268.23,223.07 269.53,223.07 270.84,223.07 272.14,223.07 273.44,223.07 274.75,223.07 276.05,223.07 277.36,223.07 278.66,223.07 279.96,223.07 281.27,223.07 282.57,223.07 283.88,223.07 285.18,223.07 286.48,223.07 287.79,223.07 289.09,223.07 290.4,223.07 291.7,223.07" fill="none" stroke="#3072b3" stroke-width="1.7" stroke-linejoin="round" stroke-opacity="0.12"/>
<polyline points="96.1,84.31 97.4,85 98.71,87.06 100.01,90.42 101.32,94.98 102.62,100.61 103.92,107.16 105.23,114.45 106.53,122.29 107.84,130.49 109.14,138.86 110.44,147.22 111.75,155.42 113.05,163.3 114.36,170.76 115.66,177.69 116.96,184.02 118.27,189.7 119.57,194.7 120.88,198.99 122.18,202.59 123.48,205.49 124.79,207.69 126.09,209.22 127.4,210.07 128.7,210.25 130,209.75 131.31,208.58 132.61,206.71 133.92,204.12 135.22,200.81 136.52,196.76 137.83,191.95 139.13,186.39 140.44,180.08 141.74,173.07 143.04,165.41 144.35,157.17 145.65,148.46 146.96,139.41 148.26,130.18 149.56,120.95 150.87,111.9 152.17,103.25 153.48,95.21 154.78,87.98 156.08,81.77 157.39,76.74 158.69,73.03 160,70.76 161.3,70 162.6,70.77 163.91,73.03 165.21,76.74 166.52,81.77 167.82,87.99 169.12,95.22 170.43,103.26 171.73,111.92 173.04,120.98 174.34,130.23 175.64,139.48 176.95,148.56 178.25,157.32 179.56,165.62 180.86,173.38 182.16,180.51 183.47,186.98 184.77,192.78 186.08,197.89 187.38,202.35 188.68,206.19 189.99,209.46 191.29,212.2 192.6,214.48 193.9,216.34 195.2,217.86 196.51,219.07 197.81,220.03 199.12,220.79 200.42,221.37 201.72,221.82 203.03,222.16 204.33,222.41 205.64,222.6 206.94,222.74 208.24,222.84 209.55,222.91 210.85,222.96 212.16,222.99 213.46,223.02 214.76,223.04 216.07,223.05 217.37,223.06 218.68,223.06 219.98,223.06 221.28,223.07 222.59,223.07 223.89,223.07 225.2,223.07 226.5,223.07 227.8,223.07 229.11,223.07 230.41,223.07 231.72,223.07 233.02,223.07 234.32,223.07 235.63,223.07 236.93,223.07 238.24,223.07 239.54,223.07 240.84,223.07 242.15,223.07 243.45,223.07 244.76,223.07 246.06,223.07 247.36,223.07 248.67,223.07 249.97,223.07 251.28,223.07 252.58,223.07 253.88,223.07 255.19,223.07 256.49,223.07 257.8,223.07 259.1,223.07 260.4,223.07 261.71,223.07 263.01,223.07 264.32,223.07 265.62,223.07 266.92,223.07 268.23,223.07 269.53,223.07 270.84,223.07 272.14,223.07 273.44,223.07 274.75,223.07 276.05,223.07 277.36,223.07 278.66,223.07 279.96,223.07 281.27,223.07 282.57,223.07 283.88,223.07 285.18,223.07 286.48,223.07 287.79,223.07 289.09,223.07 290.4,223.07 291.7,223.07" fill="none" stroke="#3072b3" stroke-width="1.7" stroke-linejoin="round" stroke-opacity="0.12"/>
<polyline points="96.1,65.13 97.4,65.92 98.71,68.26 100.01,72.08 101.32,77.27 102.62,83.68 103.92,91.14 105.23,99.44 106.53,108.36 107.84,117.7 109.14,127.23 110.44,136.76 111.75,146.1 113.05,155.08 114.36,163.59 115.66,171.5 116.96,178.74 118.27,185.26 119.57,191.01 120.88,196 122.18,200.21 123.48,203.66 124.79,206.37 126.09,208.36 127.4,209.65 128.7,210.25 130,210.18 131.31,209.44 132.61,208.03 133.92,205.95 135.22,203.2 136.52,199.76 137.83,195.63 139.13,190.82 140.44,185.36 141.74,179.26 143.04,172.58 144.35,165.39 145.65,157.78 146.96,149.88 148.26,141.81 149.56,133.73 150.87,125.82 152.17,118.26 153.48,111.23 154.78,104.91 156.08,99.47 157.39,95.07 158.69,91.83 160,89.85 161.3,89.18 162.6,89.85 163.91,91.83 165.21,95.07 166.52,99.48 167.82,104.91 169.12,111.24 170.43,118.28 171.73,125.85 173.04,133.77 174.34,141.86 175.64,149.96 176.95,157.9 178.25,165.56 179.56,172.82 180.86,179.6 182.16,185.84 183.47,191.51 184.77,196.57 186.08,201.05 187.38,204.95 188.68,208.31 189.99,211.16 191.29,213.56 192.6,215.55 193.9,217.19 195.2,218.51 196.51,219.57 197.81,220.41 199.12,221.07 200.42,221.58 201.72,221.97 203.03,222.27 204.33,222.49 205.64,222.66 206.94,222.78 208.24,222.86 209.55,222.93 210.85,222.97 212.16,223 213.46,223.03 214.76,223.04 216.07,223.05 217.37,223.06 218.68,223.06 219.98,223.06 221.28,223.07 222.59,223.07 223.89,223.07 225.2,223.07 226.5,223.07 227.8,223.07 229.11,223.07 230.41,223.07 231.72,223.07 233.02,223.07 234.32,223.07 235.63,223.07 236.93,223.07 238.24,223.07 239.54,223.07 240.84,223.07 242.15,223.07 243.45,223.07 244.76,223.07 246.06,223.07 247.36,223.07 248.67,223.07 249.97,223.07 251.28,223.07 252.58,223.07 253.88,223.07 255.19,223.07 256.49,223.07 257.8,223.07 259.1,223.07 260.4,223.07 261.71,223.07 263.01,223.07 264.32,223.07 265.62,223.07 266.92,223.07 268.23,223.07 269.53,223.07 270.84,223.07 272.14,223.07 273.44,223.07 274.75,223.07 276.05,223.07 277.36,223.07 278.66,223.07 279.96,223.07 281.27,223.07 282.57,223.07 283.88,223.07 285.18,223.07 286.48,223.07 287.79,223.07 289.09,223.07 290.4,223.07 291.7,223.07" fill="none" stroke="#3072b3" stroke-width="1.7" stroke-linejoin="round" stroke-opacity="0.12"/>
<polyline points="96.1,76.16 97.4,76.89 98.71,79.07 100.01,82.62 101.32,87.45 102.62,93.42 103.92,100.35 105.23,108.07 106.53,116.37 107.84,125.05 109.14,133.92 110.44,142.77 111.75,151.46 113.05,159.81 114.36,167.71 115.66,175.06 116.96,181.78 118.27,187.81 119.57,193.13 120.88,197.72 122.18,201.58 123.48,204.71 124.79,207.13 126.09,208.85 127.4,209.89 128.7,210.25 130,209.93 131.31,208.94 132.61,207.27 133.92,204.9 135.22,201.83 136.52,198.03 137.83,193.51 139.13,188.27 140.44,182.32 141.74,175.7 143.04,168.46 144.35,160.66 145.65,152.42 146.96,143.86 148.26,135.12 149.56,126.38 150.87,117.82 152.17,109.63 153.48,102.02 154.78,95.17 156.08,89.29 157.39,84.53 158.69,81.02 160,78.87 161.3,78.15 162.6,78.87 163.91,81.02 165.21,84.53 166.52,89.29 167.82,95.18 169.12,102.02 170.43,109.64 171.73,117.84 173.04,126.41 174.34,135.17 175.64,143.93 176.95,152.53 178.25,160.82 179.56,168.68 180.86,176.02 182.16,182.78 183.47,188.91 184.77,194.39 186.08,199.23 187.38,203.46 188.68,207.09 189.99,210.18 191.29,212.78 192.6,214.94 193.9,216.7 195.2,218.14 196.51,219.28 197.81,220.19 199.12,220.91 200.42,221.46 201.72,221.88 203.03,222.2 204.33,222.44 205.64,222.62 206.94,222.75 208.24,222.85 209.55,222.92 210.85,222.96 212.16,223 213.46,223.02 214.76,223.04 216.07,223.05 217.37,223.06 218.68,223.06 219.98,223.06 221.28,223.07 222.59,223.07 223.89,223.07 225.2,223.07 226.5,223.07 227.8,223.07 229.11,223.07 230.41,223.07 231.72,223.07 233.02,223.07 234.32,223.07 235.63,223.07 236.93,223.07 238.24,223.07 239.54,223.07 240.84,223.07 242.15,223.07 243.45,223.07 244.76,223.07 246.06,223.07 247.36,223.07 248.67,223.07 249.97,223.07 251.28,223.07 252.58,223.07 253.88,223.07 255.19,223.07 256.49,223.07 257.8,223.07 259.1,223.07 260.4,223.07 261.71,223.07 263.01,223.07 264.32,223.07 265.62,223.07 266.92,223.07 268.23,223.07 269.53,223.07 270.84,223.07 272.14,223.07 273.44,223.07 274.75,223.07 276.05,223.07 277.36,223.07 278.66,223.07 279.96,223.07 281.27,223.07 282.57,223.07 283.88,223.07 285.18,223.07 286.48,223.07 287.79,223.07 289.09,223.07 290.4,223.07 291.7,223.07" fill="none" stroke="#3072b3" stroke-width="1.7" stroke-linejoin="round" stroke-opacity="0.12"/>
<polyline points="96.1,81.79 97.4,82.49 98.71,84.59 100.01,88 101.32,92.65 102.62,98.38 103.92,105.05 105.23,112.47 106.53,120.46 107.84,128.81 109.14,137.33 110.44,145.85 111.75,154.19 113.05,162.22 114.36,169.81 115.66,176.87 116.96,183.32 118.27,189.11 119.57,194.21 120.88,198.6 122.18,202.28 123.48,205.25 124.79,207.52 126.09,209.11 127.4,210.01 128.7,210.25 130,209.81 131.31,208.69 132.61,206.88 133.92,204.36 135.22,201.13 136.52,197.15 137.83,192.43 139.13,186.97 140.44,180.78 141.74,173.89 143.04,166.35 144.35,158.25 145.65,149.69 146.96,140.79 148.26,131.71 149.56,122.63 150.87,113.73 152.17,105.22 153.48,97.32 154.78,90.21 156.08,84.1 157.39,79.15 158.69,75.5 160,73.27 161.3,72.52 162.6,73.28 163.91,75.51 165.21,79.15 166.52,84.1 167.82,90.21 169.12,97.32 170.43,105.24 171.73,113.75 173.04,122.66 174.34,131.76 175.64,140.86 176.95,149.79 178.25,158.4 179.56,166.57 180.86,174.2 182.16,181.21 183.47,187.58 184.77,193.28 186.08,198.31 187.38,202.7 188.68,206.47 189.99,209.68 191.29,212.38 192.6,214.62 193.9,216.46 195.2,217.94 196.51,219.14 197.81,220.08 199.12,220.82 200.42,221.4 201.72,221.84 203.03,222.17 204.33,222.42 205.64,222.61 206.94,222.74 208.24,222.84 209.55,222.91 210.85,222.96 212.16,223 213.46,223.02 214.76,223.04 216.07,223.05 217.37,223.06 218.68,223.06 219.98,223.06 221.28,223.07 222.59,223.07 223.89,223.07 225.2,223.07 226.5,223.07 227.8,223.07 229.11,223.07 230.41,223.07 231.72,223.07 233.02,223.07 234.32,223.07 235.63,223.07 236.93,223.07 238.24,223.07 239.54,223.07 240.84,223.07 242.15,223.07 243.45,223.07 244.76,223.07 246.06,223.07 247.36,223.07 248.67,223.07 249.97,223.07 251.28,223.07 252.58,223.07 253.88,223.07 255.19,223.07 256.49,223.07 257.8,223.07 259.1,223.07 260.4,223.07 261.71,223.07 263.01,223.07 264.32,223.07 265.62,223.07 266.92,223.07 268.23,223.07 269.53,223.07 270.84,223.07 272.14,223.07 273.44,223.07 274.75,223.07 276.05,223.07 277.36,223.07 278.66,223.07 279.96,223.07 281.27,223.07 282.57,223.07 283.88,223.07 285.18,223.07 286.48,223.07 287.79,223.07 289.09,223.07 290.4,223.07 291.7,223.07" fill="none" stroke="#3072b3" stroke-width="1.7" stroke-linejoin="round" stroke-opacity="0.12"/>
<polyline points="96.1,84.76 97.4,85.45 98.71,87.5 100.01,90.84 101.32,95.39 102.62,101 103.92,107.53 105.23,114.8 106.53,122.61 107.84,130.78 109.14,139.13 110.44,147.47 111.75,155.63 113.05,163.49 114.36,170.92 115.66,177.83 116.96,184.14 118.27,189.8 119.57,194.78 120.88,199.06 122.18,202.65 123.48,205.53 124.79,207.73 126.09,209.24 127.4,210.08 128.7,210.25 130,209.74 131.31,208.56 132.61,206.67 133.92,204.08 135.22,200.76 136.52,196.69 137.83,191.86 139.13,186.28 140.44,179.96 141.74,172.93 143.04,165.24 144.35,156.98 145.65,148.25 146.96,139.17 148.26,129.91 149.56,120.65 150.87,111.58 152.17,102.9 153.48,94.84 154.78,87.59 156.08,81.35 157.39,76.31 158.69,72.59 160,70.32 161.3,69.55 162.6,70.32 163.91,72.59 165.21,76.31 166.52,81.36 167.82,87.59 169.12,94.84 170.43,102.91 171.73,111.6 173.04,120.68 174.34,129.96 175.64,139.24 176.95,148.35 178.25,157.13 179.56,165.45 180.86,173.23 182.16,180.39 183.47,186.88 184.77,192.69 186.08,197.82 187.38,202.29 188.68,206.14 189.99,209.42 191.29,212.17 192.6,214.45 193.9,216.33 195.2,217.84 196.51,219.06 197.81,220.02 199.12,220.78 200.42,221.36 201.72,221.81 203.03,222.15 204.33,222.41 205.64,222.6 206.94,222.73 208.24,222.83 209.55,222.91 210.85,222.96 212.16,222.99 213.46,223.02 214.76,223.04 216.07,223.05 217.37,223.06 218.68,223.06 219.98,223.06 221.28,223.07 222.59,223.07 223.89,223.07 225.2,223.07 226.5,223.07 227.8,223.07 229.11,223.07 230.41,223.07 231.72,223.07 233.02,223.07 234.32,223.07 235.63,223.07 236.93,223.07 238.24,223.07 239.54,223.07 240.84,223.07 242.15,223.07 243.45,223.07 244.76,223.07 246.06,223.07 247.36,223.07 248.67,223.07 249.97,223.07 251.28,223.07 252.58,223.07 253.88,223.07 255.19,223.07 256.49,223.07 257.8,223.07 259.1,223.07 260.4,223.07 261.71,223.07 263.01,223.07 264.32,223.07 265.62,223.07 266.92,223.07 268.23,223.07 269.53,223.07 270.84,223.07 272.14,223.07 273.44,223.07 274.75,223.07 276.05,223.07 277.36,223.07 278.66,223.07 279.96,223.07 281.27,223.07 282.57,223.07 283.88,223.07 285.18,223.07 286.48,223.07 287.79,223.07 289.09,223.07 290.4,223.07 291.7,223.07" fill="none" stroke="#3072b3" stroke-width="1.7" stroke-linejoin="round" stroke-opacity="0.12"/>
<polyline points="96.1,82.24 97.4,82.94 98.71,85.02 100.01,88.43 101.32,93.06 102.62,98.78 103.92,105.43 105.23,112.82 106.53,120.78 107.84,129.1 109.14,137.6 110.44,146.09 111.75,154.41 113.05,162.41 114.36,169.98 115.66,177.02 116.96,183.45 118.27,189.22 119.57,194.3 120.88,198.67 122.18,202.33 123.48,205.29 124.79,207.55 126.09,209.13 127.4,210.02 128.7,210.25 130,209.8 131.31,208.67 132.61,206.85 133.92,204.32 135.22,201.07 136.52,197.08 137.83,192.35 139.13,186.87 140.44,180.65 141.74,173.74 143.04,166.18 144.35,158.06 145.65,149.47 146.96,140.55 148.26,131.44 149.56,122.33 150.87,113.41 152.17,104.87 153.48,96.94 154.78,89.81 156.08,83.68 157.39,78.72 158.69,75.07 160,72.83 161.3,72.08 162.6,72.83 163.91,75.07 165.21,78.72 166.52,83.69 167.82,89.82 169.12,96.95 170.43,104.89 171.73,113.43 173.04,122.36 174.34,131.49 175.64,140.62 176.95,149.57 178.25,158.21 179.56,166.4 180.86,174.05 182.16,181.09 183.47,187.47 184.77,193.19 186.08,198.24 187.38,202.64 188.68,206.42 189.99,209.64 191.29,212.35 192.6,214.59 193.9,216.44 195.2,217.93 196.51,219.13 197.81,220.07 199.12,220.82 200.42,221.39 201.72,221.83 203.03,222.17 204.33,222.42 205.64,222.6 206.94,222.74 208.24,222.84 209.55,222.91 210.85,222.96 212.16,222.99 213.46,223.02 214.76,223.04 216.07,223.05 217.37,223.06 218.68,223.06 219.98,223.06 221.28,223.07 222.59,223.07 223.89,223.07 225.2,223.07 226.5,223.07 227.8,223.07 229.11,223.07 230.41,223.07 231.72,223.07 233.02,223.07 234.32,223.07 235.63,223.07 236.93,223.07 238.24,223.07 239.54,223.07 240.84,223.07 242.15,223.07 243.45,223.07 244.76,223.07 246.06,223.07 247.36,223.07 248.67,223.07 249.97,223.07 251.28,223.07 252.58,223.07 253.88,223.07 255.19,223.07 256.49,223.07 257.8,223.07 259.1,223.07 260.4,223.07 261.71,223.07 263.01,223.07 264.32,223.07 265.62,223.07 266.92,223.07 268.23,223.07 269.53,223.07 270.84,223.07 272.14,223.07 273.44,223.07 274.75,223.07 276.05,223.07 277.36,223.07 278.66,223.07 279.96,223.07 281.27,223.07 282.57,223.07 283.88,223.07 285.18,223.07 286.48,223.07 287.79,223.07 289.09,223.07 290.4,223.07 291.7,223.07" fill="none" stroke="#3072b3" stroke-width="1.7" stroke-linejoin="round" stroke-opacity="0.12"/>
<polyline points="96.1,81.48 97.4,82.18 98.71,84.28 100.01,87.7 101.32,92.36 102.62,98.11 103.92,104.79 105.23,112.23 106.53,120.23 107.84,128.6 109.14,137.14 110.44,145.67 111.75,154.04 113.05,162.09 114.36,169.7 115.66,176.77 116.96,183.24 118.27,189.04 119.57,194.15 120.88,198.55 122.18,202.24 123.48,205.22 124.79,207.5 126.09,209.09 127.4,210.01 128.7,210.25 130,209.82 131.31,208.7 132.61,206.9 133.92,204.39 135.22,201.17 136.52,197.2 137.83,192.49 139.13,187.04 140.44,180.86 141.74,173.99 143.04,166.47 144.35,158.39 145.65,149.84 146.96,140.96 148.26,131.9 149.56,122.84 150.87,113.96 152.17,105.47 153.48,97.58 154.78,90.48 156.08,84.38 157.39,79.45 158.69,75.81 160,73.59 161.3,72.84 162.6,73.59 163.91,75.81 165.21,79.45 166.52,84.39 167.82,90.49 169.12,97.59 170.43,105.48 171.73,113.98 173.04,122.87 174.34,131.95 175.64,141.03 176.95,149.94 178.25,158.54 179.56,166.69 180.86,174.3 182.16,181.3 183.47,187.65 184.77,193.34 186.08,198.36 187.38,202.74 188.68,206.51 189.99,209.71 191.29,212.4 192.6,214.64 193.9,216.47 195.2,217.95 196.51,219.15 197.81,220.09 199.12,220.83 200.42,221.4 201.72,221.84 203.03,222.17 204.33,222.42 205.64,222.61 206.94,222.74 208.24,222.84 209.55,222.91 210.85,222.96 212.16,223 213.46,223.02 214.76,223.04 216.07,223.05 217.37,223.06 218.68,223.06 219.98,223.06 221.28,223.07 222.59,223.07 223.89,223.07 225.2,223.07 226.5,223.07 227.8,223.07 229.11,223.07 230.41,223.07 231.72,223.07 233.02,223.07 234.32,223.07 235.63,223.07 236.93,223.07 238.24,223.07 239.54,223.07 240.84,223.07 242.15,223.07 243.45,223.07 244.76,223.07 246.06,223.07 247.36,223.07 248.67,223.07 249.97,223.07 251.28,223.07 252.58,223.07 253.88,223.07 255.19,223.07 256.49,223.07 257.8,223.07 259.1,223.07 260.4,223.07 261.71,223.07 263.01,223.07 264.32,223.07 265.62,223.07 266.92,223.07 268.23,223.07 269.53,223.07 270.84,223.07 272.14,223.07 273.44,223.07 274.75,223.07 276.05,223.07 277.36,223.07 278.66,223.07 279.96,223.07 281.27,223.07 282.57,223.07 283.88,223.07 285.18,223.07 286.48,223.07 287.79,223.07 289.09,223.07 290.4,223.07 291.7,223.07" fill="none" stroke="#3072b3" stroke-width="1.7" stroke-linejoin="round" stroke-opacity="0.12"/>
<polyline points="96.1,89.77 97.4,90.43 98.71,92.4 100.01,95.63 101.32,100.01 102.62,105.42 103.92,111.72 105.23,118.72 106.53,126.25 107.84,134.12 109.14,142.16 110.44,150.2 111.75,158.07 113.05,165.64 114.36,172.8 115.66,179.45 116.96,185.52 118.27,190.96 119.57,195.74 120.88,199.85 122.18,203.27 123.48,206.01 124.79,208.07 126.09,209.46 127.4,210.19 128.7,210.25 130,209.63 131.31,208.33 132.61,206.33 133.92,203.6 135.22,200.14 136.52,195.91 137.83,190.9 139.13,185.12 140.44,178.58 141.74,171.31 143.04,163.37 144.35,154.83 145.65,145.81 146.96,136.44 148.26,126.88 149.56,117.31 150.87,107.94 152.17,98.98 153.48,90.65 154.78,83.17 156.08,76.73 157.39,71.52 158.69,67.68 160,65.34 161.3,64.55 162.6,65.34 163.91,67.69 165.21,71.52 166.52,76.73 167.82,83.17 169.12,90.66 170.43,98.99 171.73,107.96 173.04,117.34 174.34,126.92 175.64,136.5 176.95,145.91 178.25,154.98 179.56,163.57 180.86,171.61 182.16,178.99 183.47,185.7 184.77,191.7 186.08,197 187.38,201.62 188.68,205.59 189.99,208.97 191.29,211.81 192.6,214.17 193.9,216.1 195.2,217.67 196.51,218.93 197.81,219.92 199.12,220.7 200.42,221.31 201.72,221.77 203.03,222.12 204.33,222.39 205.64,222.58 206.94,222.72 208.24,222.83 209.55,222.9 210.85,222.95 212.16,222.99 213.46,223.02 214.76,223.03 216.07,223.05 217.37,223.05 218.68,223.06 219.98,223.06 221.28,223.07 222.59,223.07 223.89,223.07 225.2,223.07 226.5,223.07 227.8,223.07 229.11,223.07 230.41,223.07 231.72,223.07 233.02,223.07 234.32,223.07 235.63,223.07 236.93,223.07 238.24,223.07 239.54,223.07 240.84,223.07 242.15,223.07 243.45,223.07 244.76,223.07 246.06,223.07 247.36,223.07 248.67,223.07 249.97,223.07 251.28,223.07 252.58,223.07 253.88,223.07 255.19,223.07 256.49,223.07 257.8,223.07 259.1,223.07 260.4,223.07 261.71,223.07 263.01,223.07 264.32,223.07 265.62,223.07 266.92,223.07 268.23,223.07 269.53,223.07 270.84,223.07 272.14,223.07 273.44,223.07 274.75,223.07 276.05,223.07 277.36,223.07 278.66,223.07 279.96,223.07 281.27,223.07 282.57,223.07 283.88,223.07 285.18,223.07 286.48,223.07 287.79,223.07 289.09,223.07 290.4,223.07 291.7,223.07" fill="none" stroke="#3072b3" stroke-width="1.7" stroke-linejoin="round" stroke-opacity="0.12"/>
<polyline points="96.1,75.34 97.4,76.07 98.71,78.26 100.01,81.84 101.32,86.69 102.62,92.69 103.92,99.66 105.23,107.43 106.53,115.77 107.84,124.5 109.14,133.42 110.44,142.33 111.75,151.06 113.05,159.46 114.36,167.4 115.66,174.79 116.96,181.55 118.27,187.62 119.57,192.97 120.88,197.59 122.18,201.48 123.48,204.63 124.79,207.07 126.09,208.82 127.4,209.87 128.7,210.25 130,209.95 131.31,208.98 132.61,207.33 133.92,204.98 135.22,201.93 136.52,198.16 137.83,193.67 139.13,188.46 140.44,182.55 141.74,175.97 143.04,168.76 144.35,161.02 145.65,152.82 146.96,144.31 148.26,135.62 149.56,126.93 150.87,118.41 152.17,110.27 153.48,102.7 154.78,95.9 156.08,90.05 157.39,85.31 158.69,81.83 160,79.69 161.3,78.98 162.6,79.69 163.91,81.83 165.21,85.32 166.52,90.05 167.82,95.91 169.12,102.71 170.43,110.29 171.73,118.44 173.04,126.96 174.34,135.67 175.64,144.38 176.95,152.93 178.25,161.17 179.56,168.99 180.86,176.29 182.16,183.01 183.47,189.1 184.77,194.55 186.08,199.37 187.38,203.57 188.68,207.18 189.99,210.26 191.29,212.84 192.6,214.98 193.9,216.74 195.2,218.16 196.51,219.31 197.81,220.21 199.12,220.92 200.42,221.47 201.72,221.89 203.03,222.21 204.33,222.45 205.64,222.62 206.94,222.75 208.24,222.85 209.55,222.92 210.85,222.96 212.16,223 213.46,223.02 214.76,223.04 216.07,223.05 217.37,223.06 218.68,223.06 219.98,223.06 221.28,223.07 222.59,223.07 223.89,223.07 225.2,223.07 226.5,223.07 227.8,223.07 229.11,223.07 230.41,223.07 231.72,223.07 233.02,223.07 234.32,223.07 235.63,223.07 236.93,223.07 238.24,223.07 239.54,223.07 240.84,223.07 242.15,223.07 243.45,223.07 244.76,223.07 246.06,223.07 247.36,223.07 248.67,223.07 249.97,223.07 251.28,223.07 252.58,223.07 253.88,223.07 255.19,223.07 256.49,223.07 257.8,223.07 259.1,223.07 260.4,223.07 261.71,223.07 263.01,223.07 264.32,223.07 265.62,223.07 266.92,223.07 268.23,223.07 269.53,223.07 270.84,223.07 272.14,223.07 273.44,223.07 274.75,223.07 276.05,223.07 277.36,223.07 278.66,223.07 279.96,223.07 281.27,223.07 282.57,223.07 283.88,223.07 285.18,223.07 286.48,223.07 287.79,223.07 289.09,223.07 290.4,223.07 291.7,223.07" fill="none" stroke="#3072b3" stroke-width="1.7" stroke-linejoin="round" stroke-opacity="0.12"/>
<polyline points="96.1,90.28 97.4,90.94 98.71,92.91 100.01,96.12 101.32,100.49 102.62,105.88 103.92,112.15 105.23,119.12 106.53,126.62 107.84,134.47 109.14,142.48 110.44,150.48 111.75,158.32 113.05,165.86 114.36,172.99 115.66,179.61 116.96,185.66 118.27,191.08 119.57,195.84 120.88,199.93 122.18,203.33 123.48,206.06 124.79,208.11 126.09,209.49 127.4,210.2 128.7,210.25 130,209.62 131.31,208.31 132.61,206.29 133.92,203.55 135.22,200.07 136.52,195.83 137.83,190.8 139.13,185 140.44,178.44 141.74,171.15 143.04,163.18 144.35,154.61 145.65,145.56 146.96,136.16 148.26,126.56 149.56,116.97 150.87,107.57 152.17,98.58 153.48,90.22 154.78,82.71 156.08,76.26 157.39,71.03 158.69,67.18 160,64.82 161.3,64.03 162.6,64.83 163.91,67.18 165.21,71.03 166.52,76.26 167.82,82.72 169.12,90.23 170.43,98.59 171.73,107.58 173.04,117 174.34,126.61 175.64,136.22 176.95,145.66 178.25,154.75 179.56,163.38 180.86,171.44 182.16,178.85 183.47,185.58 184.77,191.6 186.08,196.91 187.38,201.55 188.68,205.54 189.99,208.93 191.29,211.78 192.6,214.14 193.9,216.08 195.2,217.66 196.51,218.92 197.81,219.91 199.12,220.7 200.42,221.3 201.72,221.77 203.03,222.12 204.33,222.38 205.64,222.58 206.94,222.72 208.24,222.83 209.55,222.9 210.85,222.95 212.16,222.99 213.46,223.02 214.76,223.03 216.07,223.05 217.37,223.05 218.68,223.06 219.98,223.06 221.28,223.07 222.59,223.07 223.89,223.07 225.2,223.07 226.5,223.07 227.8,223.07 229.11,223.07 230.41,223.07 231.72,223.07 233.02,223.07 234.32,223.07 235.63,223.07 236.93,223.07 238.24,223.07 239.54,223.07 240.84,223.07 242.15,223.07 243.45,223.07 244.76,223.07 246.06,223.07 247.36,223.07 248.67,223.07 249.97,223.07 251.28,223.07 252.58,223.07 253.88,223.07 255.19,223.07 256.49,223.07 257.8,223.07 259.1,223.07 260.4,223.07 261.71,223.07 263.01,223.07 264.32,223.07 265.62,223.07 266.92,223.07 268.23,223.07 269.53,223.07 270.84,223.07 272.14,223.07 273.44,223.07 274.75,223.07 276.05,223.07 277.36,223.07 278.66,223.07 279.96,223.07 281.27,223.07 282.57,223.07 283.88,223.07 285.18,223.07 286.48,223.07 287.79,223.07 289.09,223.07 290.4,223.07 291.7,223.07" fill="none" stroke="#3072b3" stroke-width="1.7" stroke-linejoin="round" stroke-opacity="0.12"/>
<polyline points="96.1,80.06 97.4,80.77 98.71,82.89 100.01,86.35 101.32,91.05 102.62,96.86 103.92,103.61 105.23,111.12 106.53,119.2 107.84,127.65 109.14,136.28 110.44,144.9 111.75,153.35 113.05,161.48 114.36,169.17 115.66,176.32 116.96,182.85 118.27,188.71 119.57,193.88 120.88,198.33 122.18,202.06 123.48,205.08 124.79,207.4 126.09,209.03 127.4,209.98 128.7,210.25 130,209.85 131.31,208.77 132.61,207 133.92,204.53 135.22,201.34 136.52,197.42 137.83,192.76 139.13,187.37 140.44,181.25 141.74,174.44 143.04,167 144.35,158.99 145.65,150.53 146.96,141.73 148.26,132.76 149.56,123.78 150.87,114.99 152.17,106.58 153.48,98.76 154.78,91.74 156.08,85.69 157.39,80.8 158.69,77.2 160,75 161.3,74.25 162.6,75 163.91,77.2 165.21,80.8 166.52,85.7 167.82,91.74 169.12,98.77 170.43,106.59 171.73,115.01 173.04,123.81 174.34,132.81 175.64,141.81 176.95,150.63 178.25,159.15 179.56,167.22 180.86,174.76 182.16,181.69 183.47,187.99 184.77,193.62 186.08,198.59 187.38,202.93 188.68,206.66 189.99,209.84 191.29,212.5 192.6,214.72 193.9,216.53 195.2,218 196.51,219.18 197.81,220.12 199.12,220.85 200.42,221.42 201.72,221.85 203.03,222.18 204.33,222.43 205.64,222.61 206.94,222.74 208.24,222.84 209.55,222.91 210.85,222.96 212.16,223 213.46,223.02 214.76,223.04 216.07,223.05 217.37,223.06 218.68,223.06 219.98,223.06 221.28,223.07 222.59,223.07 223.89,223.07 225.2,223.07 226.5,223.07 227.8,223.07 229.11,223.07 230.41,223.07 231.72,223.07 233.02,223.07 234.32,223.07 235.63,223.07 236.93,223.07 238.24,223.07 239.54,223.07 240.84,223.07 242.15,223.07 243.45,223.07 244.76,223.07 246.06,223.07 247.36,223.07 248.67,223.07 249.97,223.07 251.28,223.07 252.58,223.07 253.88,223.07 255.19,223.07 256.49,223.07 257.8,223.07 259.1,223.07 260.4,223.07 261.71,223.07 263.01,223.07 264.32,223.07 265.62,223.07 266.92,223.07 268.23,223.07 269.53,223.07 270.84,223.07 272.14,223.07 273.44,223.07 274.75,223.07 276.05,223.07 277.36,223.07 278.66,223.07 279.96,223.07 281.27,223.07 282.57,223.07 283.88,223.07 285.18,223.07 286.48,223.07 287.79,223.07 289.09,223.07 290.4,223.07 291.7,223.07" fill="none" stroke="#3072b3" stroke-width="1.7" stroke-linejoin="round" stroke-opacity="0.12"/>
<polyline points="96.1,223.07 96.91,223.07 97.73,223.07 98.55,223.07 99.36,223.07 100.17,223.07 100.99,223.07 101.8,223.07 102.62,223.07 103.44,223.07 104.25,223.07 105.06,223.07 105.88,223.07 106.69,223.07 107.51,223.07 108.32,223.07 109.14,223.07 109.95,223.07 110.77,223.07 111.58,223.07 112.4,223.07 113.21,223.07 114.03,223.07 114.84,223.07 115.66,223.07 116.47,223.07 117.29,223.07 118.1,223.07 118.92,223.07 119.73,223.07 120.55,223.07 121.36,223.07 122.18,223.07 123,223.07 123.81,223.07 124.62,223.07 125.44,223.07 126.25,223.07 127.07,223.07 127.88,223.07 128.7,223.07 129.51,223.07 130.33,223.07 131.15,223.07 131.96,223.07 132.78,223.07 133.59,223.07 134.4,223.07 135.22,223.07 136.03,223.07 136.85,223.07 137.66,223.07 138.48,223.07 139.3,223.07 140.11,223.07 140.93,223.07 141.74,223.07 142.56,223.07 143.37,223.07 144.19,223.07 145,223.07 145.81,223.07 146.63,223.07 147.44,223.07 148.26,223.07 149.07,223.07 149.89,223.07 150.7,223.07 151.52,223.07 152.34,223.07 153.15,223.07 153.97,223.07 154.78,223.07 155.59,223.07 156.41,223.07 157.22,223.07 158.04,223.07 158.85,223.07 159.67,223.07 160.49,223.07 161.3,223.07 162.12,223.07 162.93,223.07 163.75,223.07 164.56,223.07 165.38,223.07 166.19,223.07 167,223.07 167.82,223.06 168.63,223.06 169.45,223.06 170.27,223.06 171.08,223.05 171.9,223.05 172.71,223.04 173.52,223.03 174.34,223.02 175.15,223.01 175.97,222.99 176.78,222.97 177.6,222.94 178.42,222.91 179.23,222.87 180.05,222.81 180.86,222.75 181.68,222.67 182.49,222.58 183.31,222.47 184.12,222.33 184.94,222.16 185.75,221.96 186.56,221.73 187.38,221.45 188.19,221.12 189.01,220.73 189.82,220.27 190.64,219.74 191.45,219.13 192.27,218.42 193.08,217.6 193.9,216.66 194.72,215.59 195.53,214.38 196.34,213 197.16,211.46 197.97,209.73 198.79,207.81 199.6,205.68 200.42,203.32 201.23,200.74 202.05,197.91 202.87,194.84 203.68,191.51 204.5,187.94 205.31,184.1 206.12,180.02 206.94,175.7 207.75,171.14 208.57,166.37 209.38,161.41 210.2,156.27 211.02,150.98 211.83,145.58 212.65,140.09 213.46,134.57 214.28,129.05 215.09,123.57 215.9,118.18 216.72,112.93 217.53,107.87 218.35,103.05 219.17,98.51 219.98,94.3 220.8,90.47 221.61,87.06 222.43,84.11 223.24,81.65 224.06,79.7 224.87,78.29 225.69,77.44 226.5,77.16 227.31,77.44 228.13,78.29 228.94,79.7 229.76,81.64 230.57,84.11 231.39,87.06 232.2,90.47 233.02,94.3 233.83,98.5 234.65,103.03 235.47,107.86 236.28,112.91 237.09,118.16 237.91,123.54 238.72,129.01 239.54,134.52 240.35,140.03 241.17,145.5 241.98,150.88 242.8,156.14 243.62,161.24 244.43,166.17 245.25,170.89 246.06,175.38 246.88,179.63 247.69,183.61 248.5,187.33 249.32,190.77 250.13,193.93 250.95,196.81 251.77,199.4 252.58,201.7 253.4,203.73 254.21,205.47 255.03,206.94 255.84,208.14 256.65,209.06 257.47,209.72 258.28,210.12 259.1,210.25 259.92,210.12 260.73,209.72 261.55,209.06 262.36,208.14 263.18,206.94 263.99,205.47 264.81,203.73 265.62,201.7 266.44,199.4 267.25,196.81 268.07,193.93 268.88,190.77 269.7,187.33 270.51,183.61 271.32,179.63 272.14,175.38 272.95,170.89 273.77,166.17 274.58,161.24 275.4,156.14 276.22,150.88 277.03,145.5 277.85,140.03 278.66,134.52 279.48,129.01 280.29,123.54 281.11,118.16 281.92,112.91 282.74,107.86 283.55,103.03 284.37,98.5 285.18,94.3 286,90.47 286.81,87.06 287.62,84.11 288.44,81.64 289.25,79.7 290.07,78.29 290.88,77.44 291.7,77.16" fill="none" stroke="#3aaf85" stroke-width="2.4" stroke-linejoin="round" />
<line x1="57.4" y1="42.2" x2="57.4" y2="232.25" stroke="#cccccc" stroke-width="1.4" />
<line x1="56.7" y1="231.55" x2="330.8" y2="231.55" stroke="#cccccc" stroke-width="1.4" />
<text x="51.8" y="228.07" font-size="12" fill="#808080" text-anchor="end" >0.0</text>
<text x="51.8" y="184.18" font-size="12" fill="#808080" text-anchor="end" >0.3</text>
<text x="51.8" y="140.29" font-size="12" fill="#808080" text-anchor="end" >0.6</text>
<text x="51.8" y="96.4" font-size="12" fill="#808080" text-anchor="end" >0.9</text>
<text x="51.8" y="52.51" font-size="12" fill="#808080" text-anchor="end" >1.2</text>
<text x="96.1" y="245.8" font-size="12" fill="#808080" text-anchor="middle" >0</text>
<text x="161.3" y="245.8" font-size="12" fill="#808080" text-anchor="middle" >1</text>
<text x="226.5" y="245.8" font-size="12" fill="#808080" text-anchor="middle" >High achiever</text>
<text x="291.7" y="245.8" font-size="12" fill="#808080" text-anchor="middle" >Low achiever</text>
<text x="194.1" y="264.2" font-size="13.2" fill="#4d4d4d" text-anchor="middle" >I(AchievingGroup == "High achiever")</text>
<text transform="translate(15.0,136.88) rotate(-90)" font-size="13.2" fill="#4d4d4d" text-anchor="middle">Density</text>
<line x1="74.4" y1="283.5" x2="91.2" y2="283.5" stroke="#3aaf85" stroke-width="1.2" />
<text x="95.4" y="288" font-size="12" fill="#4d4d4d" text-anchor="start" >Observed data</text>
<line x1="180" y1="283.5" x2="196.6" y2="283.5" stroke="#226dab" stroke-width="1.2" />
<text x="201.2" y="288" font-size="12" fill="#4d4d4d" text-anchor="start" >Model−predicted data</text>
<text x="343.1" y="17.8" font-size="14.4" fill="#1a1a1a" text-anchor="start" >Binned Residuals</text>
<text x="343.1" y="33.8" font-size="12" fill="#1a1a1a" text-anchor="start" >Points should be within error bounds</text>
<line x1="405.2" y1="223.05" x2="678.9" y2="223.05" stroke="#e4e4e4" stroke-width="1.1" />
<line x1="405.2" y1="201.33" x2="678.9" y2="201.33" stroke="#e4e4e4" stroke-width="1.1" />
<line x1="405.2" y1="179.6" x2="678.9" y2="179.6" stroke="#e4e4e4" stroke-width="1.1" />
<line x1="405.2" y1="157.88" x2="678.9" y2="157.88" stroke="#e4e4e4" stroke-width="1.1" />
<line x1="405.2" y1="136.16" x2="678.9" y2="136.16" stroke="#e4e4e4" stroke-width="1.1" />
<line x1="405.2" y1="114.44" x2="678.9" y2="114.44" stroke="#e4e4e4" stroke-width="1.1" />
<line x1="405.2" y1="92.72" x2="678.9" y2="92.72" stroke="#e4e4e4" stroke-width="1.1" />
<line x1="405.2" y1="70.99" x2="678.9" y2="70.99" stroke="#e4e4e4" stroke-width="1.1" />
<line x1="405.2" y1="49.27" x2="678.9" y2="49.27" stroke="#e4e4e4" stroke-width="1.1" />
<line x1="406.2" y1="42.2" x2="406.2" y2="231.55" stroke="#e4e4e4" stroke-width="1.1" />
<line x1="438.9" y1="42.2" x2="438.9" y2="231.55" stroke="#e4e4e4" stroke-width="1.1" />
<line x1="471.6" y1="42.2" x2="471.6" y2="231.55" stroke="#e4e4e4" stroke-width="1.1" />
<line x1="504.3" y1="42.2" x2="504.3" y2="231.55" stroke="#e4e4e4" stroke-width="1.1" />
<line x1="537" y1="42.2" x2="537" y2="231.55" stroke="#e4e4e4" stroke-width="1.1" />
<line x1="569.7" y1="42.2" x2="569.7" y2="231.55" stroke="#e4e4e4" stroke-width="1.1" />
<line x1="602.4" y1="42.2" x2="602.4" y2="231.55" stroke="#e4e4e4" stroke-width="1.1" />
<line x1="635.1" y1="42.2" x2="635.1" y2="231.55" stroke="#e4e4e4" stroke-width="1.1" />
<line x1="667.8" y1="42.2" x2="667.8" y2="231.55" stroke="#e4e4e4" stroke-width="1.1" />
<path d="M417.7,42.2 L417.7,133.96 L438.9,115.96 L461.7,134.66 L485.5,114.36 L507.2,111.66 L529.2,108.26 L552,111.16 L572.3,110.66 L613,120.76 L650.8,116.66 L667.2,135.96 L667.2,42.2 Z" fill="#b3b3b3" fill-opacity="0.1"/>
<path d="M417.7,231.55 L417.7,138.36 L438.9,156.36 L461.7,137.66 L485.5,157.96 L507.2,160.66 L529.2,164.06 L552,161.16 L572.3,161.66 L613,151.56 L650.8,155.66 L667.2,136.36 L667.2,231.55 Z" fill="#b3b3b3" fill-opacity="0.1"/>
<polyline points="417.7,133.96 438.9,115.96 461.7,134.66 485.5,114.36 507.2,111.66 529.2,108.26 552,111.16 572.3,110.66 613,120.76 650.8,116.66 667.2,135.96" fill="none" stroke="#b3b3b3" stroke-width="1.3" stroke-linejoin="round" />
<polyline points="417.7,138.36 438.9,156.36 461.7,137.66 485.5,157.96 507.2,160.66 529.2,164.06 552,161.16 572.3,161.66 613,151.56 650.8,155.66 667.2,136.36" fill="none" stroke="#b3b3b3" stroke-width="1.3" stroke-linejoin="round" />
<line x1="417.5" y1="56.8" x2="665.5" y2="222.3" stroke="#3aaf85" stroke-width="2.2" />
<circle cx="417.7" cy="52.9" r="3.9" fill="#cd201f"/>
<line x1="438.9" y1="55.5" x2="438.9" y2="95.8" stroke="#cd201f" stroke-width="1.9" />
<circle cx="438.9" cy="75.5" r="3.9" fill="#cd201f"/>
<circle cx="461.7" cy="67.6" r="3.9" fill="#cd201f"/>
<line x1="485.5" y1="75.5" x2="485.5" y2="118.8" stroke="#cd201f" stroke-width="1.9" />
<circle cx="485.5" cy="97.4" r="3.9" fill="#cd201f"/>
<line x1="507.2" y1="116.7" x2="507.2" y2="164.9" stroke="#226dab" stroke-width="1.9" />
<circle cx="507.2" cy="140.4" r="3.9" fill="#226dab"/>
<line x1="529.2" y1="110.2" x2="529.2" y2="164.6" stroke="#226dab" stroke-width="1.9" />
<circle cx="529.2" cy="137.4" r="3.9" fill="#226dab"/>
<line x1="552" y1="123.2" x2="552" y2="173.8" stroke="#226dab" stroke-width="1.9" />
<circle cx="552" cy="148.3" r="3.9" fill="#226dab"/>
<line x1="572.3" y1="122" x2="572.3" y2="173.8" stroke="#226dab" stroke-width="1.9" />
<circle cx="572.3" cy="147.8" r="3.9" fill="#226dab"/>
<line x1="613.2" y1="182.2" x2="613.2" y2="213.4" stroke="#cd201f" stroke-width="1.9" />
<circle cx="613.2" cy="197.7" r="3.9" fill="#cd201f"/>
<line x1="650.7" y1="183.9" x2="650.7" y2="222.4" stroke="#cd201f" stroke-width="1.9" />
<circle cx="650.7" cy="202.9" r="3.9" fill="#cd201f"/>
<circle cx="666.6" cy="222.7" r="3.9" fill="#cd201f"/>
<line x1="405.2" y1="42.2" x2="405.2" y2="232.25" stroke="#cccccc" stroke-width="1.4" />
<line x1="404.5" y1="231.55" x2="678.9" y2="231.55" stroke="#cccccc" stroke-width="1.4" />
<text x="400" y="54.27" font-size="12" fill="#808080" text-anchor="end" >1.0</text>
<text x="400" y="97.72" font-size="12" fill="#808080" text-anchor="end" >0.5</text>
<text x="400" y="141.16" font-size="12" fill="#808080" text-anchor="end" >0.0</text>
<text x="400" y="184.6" font-size="12" fill="#808080" text-anchor="end" >−0.5</text>
<text x="400" y="228.05" font-size="12" fill="#808080" text-anchor="end" >−1.0</text>
<text x="406.2" y="245.8" font-size="12" fill="#808080" text-anchor="middle" >0%</text>
<text x="471.6" y="245.8" font-size="12" fill="#808080" text-anchor="middle" >25%</text>
<text x="537" y="245.8" font-size="12" fill="#808080" text-anchor="middle" >50%</text>
<text x="602.4" y="245.8" font-size="12" fill="#808080" text-anchor="middle" >75%</text>
<text x="667.8" y="245.8" font-size="12" fill="#808080" text-anchor="middle" >100%</text>
<text x="542.05" y="264.2" font-size="13.2" fill="#4d4d4d" text-anchor="middle" >Estimated Probability of AchievingGroup</text>
<text transform="translate(360.1,136.88) rotate(-90)" font-size="13.2" fill="#4d4d4d" text-anchor="middle">Average residual</text>
<text x="442.6" y="288.4" font-size="13.2" fill="#4d4d4d" text-anchor="start" >Within error bounds</text>
<line x1="563.3" y1="283.7" x2="580.1" y2="283.7" stroke="#cd201f" stroke-width="1.9" />
<circle cx="571.4" cy="283.7" r="3.6" fill="#cd201f"/>
<text x="583.9" y="288" font-size="12" fill="#4d4d4d" text-anchor="start" >no</text>
<line x1="601.9" y1="283.7" x2="618.7" y2="283.7" stroke="#226dab" stroke-width="1.9" />
<circle cx="610.3" cy="283.7" r="3.6" fill="#226dab"/>
<text x="623" y="288" font-size="12" fill="#4d4d4d" text-anchor="start" >yes</text>
<text x="5.8" y="310.3" font-size="14.4" fill="#1a1a1a" text-anchor="start" >Influential Observations</text>
<text x="5.8" y="326" font-size="12" fill="#1a1a1a" text-anchor="start" >Points should be inside the contour lines</text>
<line x1="57.4" y1="516.6" x2="330.8" y2="516.6" stroke="#e4e4e4" stroke-width="1.1" />
<line x1="57.4" y1="487.55" x2="330.8" y2="487.55" stroke="#e4e4e4" stroke-width="1.1" />
<line x1="57.4" y1="458.5" x2="330.8" y2="458.5" stroke="#e4e4e4" stroke-width="1.1" />
<line x1="57.4" y1="429.45" x2="330.8" y2="429.45" stroke="#e4e4e4" stroke-width="1.1" />
<line x1="57.4" y1="400.4" x2="330.8" y2="400.4" stroke="#e4e4e4" stroke-width="1.1" />
<line x1="57.4" y1="371.35" x2="330.8" y2="371.35" stroke="#e4e4e4" stroke-width="1.1" />
<line x1="57.4" y1="342.3" x2="330.8" y2="342.3" stroke="#e4e4e4" stroke-width="1.1" />
<line x1="70" y1="334.7" x2="70" y2="524" stroke="#e4e4e4" stroke-width="1.1" />
<line x1="95.55" y1="334.7" x2="95.55" y2="524" stroke="#e4e4e4" stroke-width="1.1" />
<line x1="121.1" y1="334.7" x2="121.1" y2="524" stroke="#e4e4e4" stroke-width="1.1" />
<line x1="146.65" y1="334.7" x2="146.65" y2="524" stroke="#e4e4e4" stroke-width="1.1" />
<line x1="172.2" y1="334.7" x2="172.2" y2="524" stroke="#e4e4e4" stroke-width="1.1" />
<line x1="197.75" y1="334.7" x2="197.75" y2="524" stroke="#e4e4e4" stroke-width="1.1" />
<line x1="223.3" y1="334.7" x2="223.3" y2="524" stroke="#e4e4e4" stroke-width="1.1" />
<line x1="248.85" y1="334.7" x2="248.85" y2="524" stroke="#e4e4e4" stroke-width="1.1" />
<line x1="274.4" y1="334.7" x2="274.4" y2="524" stroke="#e4e4e4" stroke-width="1.1" />
<line x1="299.95" y1="334.7" x2="299.95" y2="524" stroke="#e4e4e4" stroke-width="1.1" />
<line x1="325.5" y1="334.7" x2="325.5" y2="524" stroke="#e4e4e4" stroke-width="1.1" />
<line x1="69.9" y1="334.7" x2="69.9" y2="524" stroke="#a6a6a6" stroke-width="1.3" stroke-dasharray="5.4 5.4" stroke-dashoffset="-3.3"/>
<line x1="57.4" y1="429.45" x2="330.8" y2="429.45" stroke="#a6a6a6" stroke-width="1.3" stroke-dasharray="5.4 5.4" stroke-dashoffset="-0.5"/>
<circle cx="91.69" cy="430.52" r="1.7" fill="#226dab"/>
<circle cx="82.32" cy="431.58" r="1.7" fill="#226dab"/>
<circle cx="72.64" cy="431.55" r="1.7" fill="#226dab"/>
<circle cx="90.25" cy="429.26" r="1.7" fill="#226dab"/>
<circle cx="94.95" cy="429.92" r="1.7" fill="#226dab"/>
<circle cx="77.33" cy="429.72" r="1.7" fill="#226dab"/>
<circle cx="83.58" cy="429.31" r="1.7" fill="#226dab"/>
<circle cx="93.13" cy="429.78" r="1.7" fill="#226dab"/>
<circle cx="82.81" cy="429.4" r="1.7" fill="#226dab"/>
<circle cx="77.55" cy="427.41" r="1.7" fill="#226dab"/>
<circle cx="71.07" cy="430" r="1.7" fill="#226dab"/>
<circle cx="72.94" cy="429.94" r="1.7" fill="#226dab"/>
<circle cx="77.08" cy="429.78" r="1.7" fill="#226dab"/>
<circle cx="107.26" cy="429.43" r="1.7" fill="#226dab"/>
<circle cx="73.23" cy="428.82" r="1.7" fill="#226dab"/>
<circle cx="107.1" cy="429.66" r="1.7" fill="#226dab"/>
<circle cx="81.48" cy="427.15" r="1.7" fill="#226dab"/>
<circle cx="96.85" cy="429.79" r="1.7" fill="#226dab"/>
<circle cx="82.27" cy="427.33" r="1.7" fill="#226dab"/>
<circle cx="87.47" cy="431.71" r="1.7" fill="#226dab"/>
<circle cx="82.17" cy="429.93" r="1.7" fill="#226dab"/>
<circle cx="77.13" cy="429.02" r="1.7" fill="#226dab"/>
<circle cx="74.11" cy="429.18" r="1.7" fill="#226dab"/>
<circle cx="77.93" cy="428.25" r="1.7" fill="#226dab"/>
<circle cx="97.69" cy="429.42" r="1.7" fill="#226dab"/>
<circle cx="78.31" cy="428.77" r="1.7" fill="#226dab"/>
<circle cx="78.79" cy="430.42" r="1.7" fill="#226dab"/>
<circle cx="78.47" cy="428.47" r="1.7" fill="#226dab"/>
<circle cx="71.77" cy="429.76" r="1.7" fill="#226dab"/>
<circle cx="73.91" cy="429.48" r="1.7" fill="#226dab"/>
<circle cx="70.05" cy="431.24" r="1.7" fill="#226dab"/>
<circle cx="102.18" cy="429.26" r="1.7" fill="#226dab"/>
<circle cx="86.13" cy="428.54" r="1.7" fill="#226dab"/>
<circle cx="75.68" cy="429.43" r="1.7" fill="#226dab"/>
<circle cx="89.28" cy="427.35" r="1.7" fill="#226dab"/>
<circle cx="80.18" cy="427.98" r="1.7" fill="#226dab"/>
<circle cx="109.69" cy="430.4" r="1.7" fill="#226dab"/>
<circle cx="79.62" cy="428.73" r="1.7" fill="#226dab"/>
<circle cx="101.42" cy="429.7" r="1.7" fill="#226dab"/>
<circle cx="93.78" cy="428.48" r="1.7" fill="#226dab"/>
<circle cx="80.66" cy="431.21" r="1.7" fill="#226dab"/>
<circle cx="113.25" cy="428.94" r="1.7" fill="#226dab"/>
<circle cx="84.11" cy="428.99" r="1.7" fill="#226dab"/>
<circle cx="101.57" cy="430.78" r="1.7" fill="#226dab"/>
<circle cx="92.38" cy="427.67" r="1.7" fill="#226dab"/>
<circle cx="85.29" cy="429.68" r="1.7" fill="#226dab"/>
<circle cx="74.69" cy="428.92" r="1.7" fill="#226dab"/>
<circle cx="79.21" cy="429.2" r="1.7" fill="#226dab"/>
<circle cx="93.21" cy="432.37" r="1.7" fill="#226dab"/>
<circle cx="73.06" cy="429.2" r="1.7" fill="#226dab"/>
<circle cx="92.64" cy="429.55" r="1.7" fill="#226dab"/>
<circle cx="81.24" cy="429.07" r="1.7" fill="#226dab"/>
<circle cx="98.59" cy="430.42" r="1.7" fill="#226dab"/>
<circle cx="88.51" cy="429.18" r="1.7" fill="#226dab"/>
<circle cx="108.47" cy="428.74" r="1.7" fill="#226dab"/>
<circle cx="91.01" cy="429.23" r="1.7" fill="#226dab"/>
<circle cx="75.13" cy="429.87" r="1.7" fill="#226dab"/>
<circle cx="75.17" cy="431.71" r="1.7" fill="#226dab"/>
<circle cx="92.12" cy="430.65" r="1.7" fill="#226dab"/>
<circle cx="85.4" cy="428.83" r="1.7" fill="#226dab"/>
<circle cx="91.01" cy="428" r="1.7" fill="#226dab"/>
<circle cx="75.62" cy="428.47" r="1.7" fill="#226dab"/>
<circle cx="105.98" cy="429.46" r="1.7" fill="#226dab"/>
<circle cx="89.99" cy="429.6" r="1.7" fill="#226dab"/>
<circle cx="99.67" cy="429.34" r="1.7" fill="#226dab"/>
<circle cx="85.13" cy="429.35" r="1.7" fill="#226dab"/>
<circle cx="78.52" cy="429.15" r="1.7" fill="#226dab"/>
<circle cx="109.32" cy="427.51" r="1.7" fill="#226dab"/>
<circle cx="95.02" cy="429.78" r="1.7" fill="#226dab"/>
<circle cx="86.72" cy="429.45" r="1.7" fill="#226dab"/>
<circle cx="82.43" cy="429.06" r="1.7" fill="#226dab"/>
<circle cx="77.39" cy="431.28" r="1.7" fill="#226dab"/>
<circle cx="90.8" cy="428.2" r="1.7" fill="#226dab"/>
<circle cx="74.41" cy="430.86" r="1.7" fill="#226dab"/>
<circle cx="85.98" cy="430.8" r="1.7" fill="#226dab"/>
<circle cx="88.78" cy="428.35" r="1.7" fill="#226dab"/>
<circle cx="74.09" cy="428.4" r="1.7" fill="#226dab"/>
<circle cx="73.49" cy="430.86" r="1.7" fill="#226dab"/>
<circle cx="82.07" cy="427.29" r="1.7" fill="#226dab"/>
<circle cx="84.29" cy="430.44" r="1.7" fill="#226dab"/>
<circle cx="93.09" cy="429.36" r="1.7" fill="#226dab"/>
<circle cx="70.12" cy="428.06" r="1.7" fill="#226dab"/>
<circle cx="102.97" cy="429.05" r="1.7" fill="#226dab"/>
<circle cx="89.75" cy="430.78" r="1.7" fill="#226dab"/>
<circle cx="85.26" cy="428.36" r="1.7" fill="#226dab"/>
<circle cx="72.64" cy="431.19" r="1.7" fill="#226dab"/>
<circle cx="90.81" cy="428" r="1.7" fill="#226dab"/>
<circle cx="89.22" cy="430.49" r="1.7" fill="#226dab"/>
<circle cx="115.55" cy="429.8" r="1.7" fill="#226dab"/>
<circle cx="92.44" cy="429.58" r="1.7" fill="#226dab"/>
<circle cx="87.6" cy="427.92" r="1.7" fill="#226dab"/>
<circle cx="89.35" cy="429.86" r="1.7" fill="#226dab"/>
<circle cx="80.56" cy="430.83" r="1.7" fill="#226dab"/>
<circle cx="71.39" cy="430.02" r="1.7" fill="#226dab"/>
<circle cx="74.6" cy="430.65" r="1.7" fill="#226dab"/>
<circle cx="79.73" cy="430.29" r="1.7" fill="#226dab"/>
<circle cx="92.64" cy="430.58" r="1.7" fill="#226dab"/>
<circle cx="89.16" cy="430.57" r="1.7" fill="#226dab"/>
<circle cx="80.7" cy="429.36" r="1.7" fill="#226dab"/>
<circle cx="94.85" cy="428.96" r="1.7" fill="#226dab"/>
<circle cx="75.41" cy="428.06" r="1.7" fill="#226dab"/>
<circle cx="73.66" cy="429.65" r="1.7" fill="#226dab"/>
<circle cx="82.97" cy="429.33" r="1.7" fill="#226dab"/>
<circle cx="79.28" cy="429.28" r="1.7" fill="#226dab"/>
<circle cx="74.78" cy="428.91" r="1.7" fill="#226dab"/>
<circle cx="71.73" cy="429.22" r="1.7" fill="#226dab"/>
<circle cx="87.57" cy="429.25" r="1.7" fill="#226dab"/>
<circle cx="88.75" cy="430.25" r="1.7" fill="#226dab"/>
<circle cx="73.03" cy="427.45" r="1.7" fill="#226dab"/>
<circle cx="88.76" cy="429.45" r="1.7" fill="#226dab"/>
<circle cx="73.37" cy="428.51" r="1.7" fill="#226dab"/>
<circle cx="96.03" cy="428.29" r="1.7" fill="#226dab"/>
<circle cx="94.45" cy="428.2" r="1.7" fill="#226dab"/>
<circle cx="76.2" cy="429.16" r="1.7" fill="#226dab"/>
<circle cx="105.66" cy="430.1" r="1.7" fill="#226dab"/>
<circle cx="132.68" cy="428.41" r="1.7" fill="#226dab"/>
<circle cx="123.54" cy="430.94" r="1.7" fill="#226dab"/>
<circle cx="112.01" cy="428.62" r="1.7" fill="#226dab"/>
<circle cx="94.16" cy="428.67" r="1.7" fill="#226dab"/>
<circle cx="106.88" cy="428.48" r="1.7" fill="#226dab"/>
<circle cx="132.61" cy="428.2" r="1.7" fill="#226dab"/>
<circle cx="92.97" cy="429.7" r="1.7" fill="#226dab"/>
<circle cx="128.44" cy="429.01" r="1.7" fill="#226dab"/>
<circle cx="107.01" cy="429.45" r="1.7" fill="#226dab"/>
<circle cx="110.24" cy="428.62" r="1.7" fill="#226dab"/>
<circle cx="317.83" cy="429.45" r="1.7" fill="#226dab"/>
<line x1="70" y1="429.45" x2="317.83" y2="429.45" stroke="#3aaf85" stroke-width="3.3" />
<polyline points="70.15,342.3 70.15,342.73 70.15,343.16 70.15,343.59 70.15,344.02 70.15,344.44 70.15,344.86 70.16,345.28 70.16,345.7 70.16,346.12 70.16,346.53 70.16,346.94 70.16,347.35 70.17,347.76 70.17,348.16 70.17,348.57 70.17,348.97 70.17,349.37 70.17,349.77 70.18,350.16 70.18,350.56 70.18,350.95 70.18,351.34 70.18,351.72 70.18,352.11 70.19,352.49 70.19,352.88 70.19,353.26 70.19,353.63 70.19,354.01 70.2,354.39 70.2,354.76 70.2,355.13 70.2,355.5 70.2,355.86 70.21,356.23 70.21,356.59 70.21,356.95 70.21,357.31 70.21,357.67 70.22,358.03 70.22,358.38 70.22,358.74 70.22,359.09 70.23,359.44 70.23,359.78 70.23,360.13 70.23,360.47 70.23,360.82 70.24,361.16 70.24,361.5 70.24,361.83 70.24,362.17 70.25,362.5 70.25,362.84 70.25,363.17 70.25,363.5 70.26,363.82 70.26,364.15 70.26,364.47 70.26,364.8 70.27,365.12 70.27,365.44 70.27,365.75 70.27,366.07 70.28,366.38 70.28,366.7 70.28,367.01 70.29,367.32 70.29,367.63 70.29,367.93 70.29,368.24 70.3,368.54 70.3,368.85 70.3,369.15 70.31,369.45 70.31,369.74 70.31,370.04 70.32,370.34 70.32,370.63 70.32,370.92 70.33,371.21 70.33,371.5 70.33,371.79 70.34,372.07 70.34,372.36 70.34,372.64 70.35,372.92 70.35,373.21 70.35,373.48 70.36,373.76 70.36,374.04 70.36,374.31 70.37,374.59 70.37,374.86 70.37,375.13 70.38,375.4 70.38,375.67 70.39,375.94 70.39,376.2 70.39,376.47 70.4,376.73 70.4,376.99 70.41,377.25 70.41,377.51 70.41,377.77 70.42,378.02 70.42,378.28 70.43,378.53 70.43,378.79 70.43,379.04 70.44,379.29 70.44,379.54 70.45,379.79 70.45,380.03 70.46,380.28 70.46,380.52 70.47,380.76 70.47,381.01 70.47,381.25 70.48,381.49 70.48,381.72 70.49,381.96 70.49,382.2 70.5,382.43 70.5,382.67 70.51,382.9 70.51,383.13 70.52,383.36 70.52,383.59 70.53,383.82 70.54,384.04 70.54,384.27 70.55,384.49 70.55,384.71 70.56,384.94 70.56,385.16 70.57,385.38 70.57,385.6 70.58,385.81 70.59,386.03 70.59,386.25 70.6,386.46 70.6,386.67 70.61,386.89 70.62,387.1 70.62,387.31 70.63,387.52 70.63,387.73 70.64,387.93 70.65,388.14 70.65,388.34 70.66,388.55 70.67,388.75 70.67,388.95 70.68,389.16 70.69,389.36 70.69,389.55 70.7,389.75 70.71,389.95 70.71,390.15 70.72,390.34 70.73,390.54 70.74,390.73 70.74,390.92 70.75,391.11 70.76,391.3 70.77,391.49 70.77,391.68 70.78,391.87 70.79,392.05 70.8,392.24 70.8,392.43 70.81,392.61 70.82,392.79 70.83,392.97 70.84,393.16 70.85,393.34 70.85,393.52 70.86,393.69 70.87,393.87 70.88,394.05 70.89,394.22 70.9,394.4 70.91,394.57 70.92,394.75 70.92,394.92 70.93,395.09 70.94,395.26 70.95,395.43 70.96,395.6 70.97,395.77 70.98,395.94 70.99,396.1 71,396.27 71.01,396.43 71.02,396.6 71.03,396.76 71.04,396.92 71.05,397.08 71.06,397.24 71.07,397.4 71.08,397.56 71.1,397.72 71.11,397.88 71.12,398.04 71.13,398.19 71.14,398.35 71.15,398.5 71.16,398.66 71.17,398.81 71.19,398.96 71.2,399.11 71.21,399.26 71.22,399.41 71.23,399.56 71.25,399.71 71.26,399.86 71.27,400.01 71.28,400.15 71.3,400.3 71.31,400.44 71.32,400.59 71.34,400.73 71.35,400.87 71.36,401.01 71.38,401.16 71.39,401.3 71.4,401.44 71.42,401.58 71.43,401.71 71.45,401.85 71.46,401.99 71.48,402.13 71.49,402.26 71.51,402.4 71.52,402.53 71.54,402.67 71.55,402.8 71.57,402.93 71.58,403.06 71.6,403.19 71.61,403.32 71.63,403.45 71.65,403.58 71.66,403.71 71.68,403.84 71.7,403.97 71.71,404.09 71.73,404.22 71.75,404.35 71.77,404.47 71.78,404.59 71.8,404.72 71.82,404.84 71.84,404.96 71.86,405.08 71.87,405.21 71.89,405.33 71.91,405.45 71.93,405.57 71.95,405.68 71.97,405.8 71.99,405.92 72.01,406.04 72.03,406.15 72.05,406.27 72.07,406.38 72.09,406.5 72.11,406.61 72.13,406.73 72.16,406.84 72.18,406.95 72.2,407.06 72.22,407.18 72.24,407.29 72.26,407.4 72.29,407.51 72.31,407.62 72.33,407.72 72.36,407.83 72.38,407.94 72.4,408.05 72.43,408.15 72.45,408.26 72.48,408.36 72.5,408.47 72.53,408.57 72.55,408.68 72.58,408.78 72.6,408.88 72.63,408.99 72.66,409.09 72.68,409.19 72.71,409.29 72.74,409.39 72.76,409.49 72.79,409.59 72.82,409.69 72.85,409.79 72.88,409.88 72.9,409.98 72.93,410.08 72.96,410.18 72.99,410.27 73.02,410.37 73.05,410.46 73.08,410.56 73.11,410.65 73.15,410.74 73.18,410.84 73.21,410.93 73.24,411.02 73.27,411.11 73.31,411.21 73.34,411.3 73.37,411.39 73.41,411.48 73.44,411.57 73.47,411.65 73.51,411.74 73.54,411.83 73.58,411.92 73.62,412.01 73.65,412.09 73.69,412.18 73.72,412.27 73.76,412.35 73.8,412.44 73.84,412.52 73.88,412.61 73.91,412.69 73.95,412.77 73.99,412.86 74.03,412.94 74.07,413.02 74.11,413.1 74.16,413.18 74.2,413.27 74.24,413.35 74.28,413.43 74.32,413.51 74.37,413.59 74.41,413.67 74.46,413.74 74.5,413.82 74.55,413.9 74.59,413.98 74.64,414.05 74.68,414.13 74.73,414.21 74.78,414.28 74.82,414.36 74.87,414.43 74.92,414.51 74.97,414.58 75.02,414.66 75.07,414.73 75.12,414.81 75.17,414.88 75.22,414.95 75.28,415.02 75.33,415.1 75.38,415.17 75.44,415.24 75.49,415.31 75.55,415.38 75.6,415.45 75.66,415.52 75.71,415.59 75.77,415.66 75.83,415.73 75.89,415.8 75.95,415.86 76.01,415.93 76.07,416 76.13,416.07 76.19,416.13 76.25,416.2 76.31,416.27 76.37,416.33 76.44,416.4 76.5,416.46 76.57,416.53 76.63,416.59 76.7,416.66 76.77,416.72 76.83,416.78 76.9,416.85 76.97,416.91 77.04,416.97 77.11,417.03 77.18,417.1 77.26,417.16 77.33,417.22 77.4,417.28 77.48,417.34 77.55,417.4 77.63,417.46 77.7,417.52 77.78,417.58 77.86,417.64 77.94,417.7 78.01,417.76 78.09,417.82 78.18,417.88 78.26,417.93 78.34,417.99 78.42,418.05 78.51,418.11 78.59,418.16 78.68,418.22 78.77,418.28 78.85,418.33 78.94,418.39 79.03,418.44 79.12,418.5 79.21,418.55 79.3,418.61 79.4,418.66 79.49,418.72 79.59,418.77 79.68,418.82 79.78,418.88 79.88,418.93 79.98,418.98 80.08,419.03 80.18,419.09 80.28,419.14 80.38,419.19 80.48,419.24 80.59,419.29 80.7,419.34 80.8,419.39 80.91,419.44 81.02,419.49 81.13,419.54 81.24,419.59 81.35,419.64 81.47,419.69 81.58,419.74 81.7,419.79 81.81,419.84 81.93,419.89 82.05,419.94 82.17,419.98 82.29,420.03 82.42,420.08 82.54,420.13 82.67,420.17 82.79,420.22 82.92,420.27 83.05,420.31 83.18,420.36 83.31,420.4 83.45,420.45 83.58,420.49 83.72,420.54 83.85,420.58 83.99,420.63 84.13,420.67 84.27,420.72 84.42,420.76 84.56,420.8 84.71,420.85 84.85,420.89 85,420.93 85.15,420.98 85.3,421.02 85.46,421.06 85.61,421.1 85.77,421.15 85.92,421.19 86.08,421.23 86.24,421.27 86.41,421.31 86.57,421.35 86.74,421.4 86.9,421.44 87.07,421.48 87.24,421.52 87.42,421.56 87.59,421.6 87.77,421.64 87.94,421.68 88.12,421.71 88.3,421.75 88.49,421.79 88.67,421.83 88.86,421.87 89.05,421.91 89.24,421.95 89.43,421.98 89.62,422.02 89.82,422.06 90.02,422.1 90.22,422.13 90.42,422.17 90.63,422.21 90.83,422.24 91.04,422.28 91.25,422.32 91.46,422.35 91.68,422.39 91.89,422.43 92.11,422.46 92.33,422.5 92.56,422.53 92.78,422.57 93.01,422.6 93.24,422.64 93.47,422.67 93.71,422.71 93.95,422.74 94.18,422.77 94.43,422.81 94.67,422.84 94.92,422.88 95.17,422.91 95.42,422.94 95.67,422.98 95.93,423.01 96.19,423.04 96.45,423.07 96.72,423.11 96.98,423.14 97.25,423.17 97.52,423.2 97.8,423.23 98.08,423.27 98.36,423.3 98.64,423.33 98.93,423.36 99.22,423.39 99.51,423.42 99.81,423.45 100.1,423.48 100.4,423.51 100.71,423.54 101.02,423.58 101.33,423.61 101.64,423.64 101.96,423.66 102.27,423.69 102.6,423.72 102.92,423.75 103.25,423.78 103.59,423.81 103.92,423.84 104.26,423.87 104.6,423.9 104.95,423.93 105.3,423.96 105.65,423.98 106.01,424.01 106.37,424.04 106.73,424.07 107.1,424.09 107.47,424.12 107.84,424.15 108.22,424.18 108.61,424.2 108.99,424.23 109.38,424.26 109.78,424.29 110.17,424.31 110.57,424.34 110.98,424.36 111.39,424.39 111.8,424.42 112.22,424.44 112.64,424.47 113.07,424.5 113.5,424.52 113.94,424.55 114.38,424.57 114.82,424.6 115.27,424.62 115.72,424.65 116.18,424.67 116.64,424.7 117.11,424.72 117.58,424.75 118.05,424.77 118.53,424.8 119.02,424.82 119.51,424.84 120,424.87 120.5,424.89 121.01,424.92 121.52,424.94 122.03,424.96 122.55,424.99 123.08,425.01 123.61,425.03 124.15,425.06 124.69,425.08 125.24,425.1 125.79,425.12 126.35,425.15 126.91,425.17 127.48,425.19 128.05,425.21 128.63,425.24 129.22,425.26 129.81,425.28 130.41,425.3 131.01,425.33 131.62,425.35 132.24,425.37 132.86,425.39 133.49,425.41 134.13,425.43 134.77,425.45 135.42,425.48 136.07,425.5 136.73,425.52 137.4,425.54 138.07,425.56 138.75,425.58 139.44,425.6 140.13,425.62 140.84,425.64 141.54,425.66 142.26,425.68 142.98,425.7 143.71,425.72 144.45,425.74 145.19,425.76 145.95,425.78 146.7,425.8 147.47,425.82 148.25,425.84 149.03,425.86 149.82,425.88 150.62,425.9 151.42,425.92 152.24,425.94 153.06,425.96 153.89,425.97 154.73,425.99 155.58,426.01 156.43,426.03 157.3,426.05 158.17,426.07 159.05,426.09 159.94,426.1 160.84,426.12 161.75,426.14 162.67,426.16 163.59,426.18 164.53,426.19 165.48,426.21 166.43,426.23 167.39,426.25 168.37,426.27 169.35,426.28 170.35,426.3 171.35,426.32 172.36,426.33 173.39,426.35 174.42,426.37 175.46,426.39 176.52,426.4 177.58,426.42 178.66,426.44 179.75,426.45 180.84,426.47 181.95,426.49 183.07,426.5 184.2,426.52 185.34,426.54 186.5,426.55 187.66,426.57 188.84,426.58 190.03,426.6 191.23,426.62 192.44,426.63 193.67,426.65 194.9,426.66 196.15,426.68 197.41,426.7 198.69,426.71 199.97,426.73 201.27,426.74 202.59,426.76 203.91,426.77 205.25,426.79 206.6,426.8 207.97,426.82 209.35,426.83 210.74,426.85 212.15,426.86 213.57,426.88 215.01,426.89 216.46,426.91 217.92,426.92 219.4,426.94 220.9,426.95 222.4,426.97 223.93,426.98 225.47,427 227.02,427.01 228.59,427.02 230.18,427.04 231.78,427.05 233.4,427.07 235.03,427.08 236.68,427.1 238.35,427.11 240.03,427.12 241.73,427.14 243.45,427.15 245.18,427.16 246.94,427.18 248.71,427.19 250.49,427.21 252.3,427.22 254.12,427.23 255.96,427.25 257.82,427.26 259.7,427.27 261.6,427.29 263.51,427.3 265.45,427.31 267.4,427.33 269.38,427.34 271.37,427.35 273.38,427.36 275.42,427.38 277.47,427.39 279.55,427.4 281.64,427.42 283.76,427.43 285.9,427.44 288.06,427.45 290.24,427.47 292.44,427.48 294.66,427.49 296.91,427.5 299.18,427.52 301.47,427.53 303.78,427.54 306.12,427.55 308.48,427.57 310.87,427.58 313.28,427.59 315.71,427.6 318.17,427.61 318.35,427.62" fill="none" stroke="#3aaf85" stroke-width="2.3" stroke-linejoin="round" stroke-dasharray="8.5 8.1" stroke-dashoffset="-1.0"/>
<polyline points="70.15,516.6 70.15,516.17 70.15,515.74 70.15,515.31 70.15,514.88 70.15,514.46 70.15,514.04 70.16,513.62 70.16,513.2 70.16,512.78 70.16,512.37 70.16,511.96 70.16,511.55 70.17,511.14 70.17,510.74 70.17,510.33 70.17,509.93 70.17,509.53 70.17,509.13 70.18,508.74 70.18,508.34 70.18,507.95 70.18,507.56 70.18,507.18 70.18,506.79 70.19,506.41 70.19,506.02 70.19,505.64 70.19,505.27 70.19,504.89 70.2,504.51 70.2,504.14 70.2,503.77 70.2,503.4 70.2,503.04 70.21,502.67 70.21,502.31 70.21,501.95 70.21,501.59 70.21,501.23 70.22,500.87 70.22,500.52 70.22,500.16 70.22,499.81 70.23,499.46 70.23,499.12 70.23,498.77 70.23,498.43 70.23,498.08 70.24,497.74 70.24,497.4 70.24,497.07 70.24,496.73 70.25,496.4 70.25,496.06 70.25,495.73 70.25,495.4 70.26,495.08 70.26,494.75 70.26,494.43 70.26,494.1 70.27,493.78 70.27,493.46 70.27,493.15 70.27,492.83 70.28,492.52 70.28,492.2 70.28,491.89 70.29,491.58 70.29,491.27 70.29,490.97 70.29,490.66 70.3,490.36 70.3,490.05 70.3,489.75 70.31,489.45 70.31,489.16 70.31,488.86 70.32,488.56 70.32,488.27 70.32,487.98 70.33,487.69 70.33,487.4 70.33,487.11 70.34,486.83 70.34,486.54 70.34,486.26 70.35,485.98 70.35,485.69 70.35,485.42 70.36,485.14 70.36,484.86 70.36,484.59 70.37,484.31 70.37,484.04 70.37,483.77 70.38,483.5 70.38,483.23 70.39,482.96 70.39,482.7 70.39,482.43 70.4,482.17 70.4,481.91 70.41,481.65 70.41,481.39 70.41,481.13 70.42,480.88 70.42,480.62 70.43,480.37 70.43,480.11 70.43,479.86 70.44,479.61 70.44,479.36 70.45,479.11 70.45,478.87 70.46,478.62 70.46,478.38 70.47,478.14 70.47,477.89 70.47,477.65 70.48,477.41 70.48,477.18 70.49,476.94 70.49,476.7 70.5,476.47 70.5,476.23 70.51,476 70.51,475.77 70.52,475.54 70.52,475.31 70.53,475.08 70.54,474.86 70.54,474.63 70.55,474.41 70.55,474.19 70.56,473.96 70.56,473.74 70.57,473.52 70.57,473.3 70.58,473.09 70.59,472.87 70.59,472.65 70.6,472.44 70.6,472.23 70.61,472.01 70.62,471.8 70.62,471.59 70.63,471.38 70.63,471.17 70.64,470.97 70.65,470.76 70.65,470.56 70.66,470.35 70.67,470.15 70.67,469.95 70.68,469.74 70.69,469.54 70.69,469.35 70.7,469.15 70.71,468.95 70.71,468.75 70.72,468.56 70.73,468.36 70.74,468.17 70.74,467.98 70.75,467.79 70.76,467.6 70.77,467.41 70.77,467.22 70.78,467.03 70.79,466.85 70.8,466.66 70.8,466.47 70.81,466.29 70.82,466.11 70.83,465.93 70.84,465.74 70.85,465.56 70.85,465.38 70.86,465.21 70.87,465.03 70.88,464.85 70.89,464.68 70.9,464.5 70.91,464.33 70.92,464.15 70.92,463.98 70.93,463.81 70.94,463.64 70.95,463.47 70.96,463.3 70.97,463.13 70.98,462.96 70.99,462.8 71,462.63 71.01,462.47 71.02,462.3 71.03,462.14 71.04,461.98 71.05,461.82 71.06,461.66 71.07,461.5 71.08,461.34 71.1,461.18 71.11,461.02 71.12,460.86 71.13,460.71 71.14,460.55 71.15,460.4 71.16,460.24 71.17,460.09 71.19,459.94 71.2,459.79 71.21,459.64 71.22,459.49 71.23,459.34 71.25,459.19 71.26,459.04 71.27,458.89 71.28,458.75 71.3,458.6 71.31,458.46 71.32,458.31 71.34,458.17 71.35,458.03 71.36,457.89 71.38,457.74 71.39,457.6 71.4,457.46 71.42,457.32 71.43,457.19 71.45,457.05 71.46,456.91 71.48,456.77 71.49,456.64 71.51,456.5 71.52,456.37 71.54,456.23 71.55,456.1 71.57,455.97 71.58,455.84 71.6,455.71 71.61,455.58 71.63,455.45 71.65,455.32 71.66,455.19 71.68,455.06 71.7,454.93 71.71,454.81 71.73,454.68 71.75,454.55 71.77,454.43 71.78,454.31 71.8,454.18 71.82,454.06 71.84,453.94 71.86,453.82 71.87,453.69 71.89,453.57 71.91,453.45 71.93,453.33 71.95,453.22 71.97,453.1 71.99,452.98 72.01,452.86 72.03,452.75 72.05,452.63 72.07,452.52 72.09,452.4 72.11,452.29 72.13,452.17 72.16,452.06 72.18,451.95 72.2,451.84 72.22,451.72 72.24,451.61 72.26,451.5 72.29,451.39 72.31,451.28 72.33,451.18 72.36,451.07 72.38,450.96 72.4,450.85 72.43,450.75 72.45,450.64 72.48,450.54 72.5,450.43 72.53,450.33 72.55,450.22 72.58,450.12 72.6,450.02 72.63,449.91 72.66,449.81 72.68,449.71 72.71,449.61 72.74,449.51 72.76,449.41 72.79,449.31 72.82,449.21 72.85,449.11 72.88,449.02 72.9,448.92 72.93,448.82 72.96,448.72 72.99,448.63 73.02,448.53 73.05,448.44 73.08,448.34 73.11,448.25 73.15,448.16 73.18,448.06 73.21,447.97 73.24,447.88 73.27,447.79 73.31,447.69 73.34,447.6 73.37,447.51 73.41,447.42 73.44,447.33 73.47,447.25 73.51,447.16 73.54,447.07 73.58,446.98 73.62,446.89 73.65,446.81 73.69,446.72 73.72,446.63 73.76,446.55 73.8,446.46 73.84,446.38 73.88,446.29 73.91,446.21 73.95,446.13 73.99,446.04 74.03,445.96 74.07,445.88 74.11,445.8 74.16,445.72 74.2,445.63 74.24,445.55 74.28,445.47 74.32,445.39 74.37,445.31 74.41,445.23 74.46,445.16 74.5,445.08 74.55,445 74.59,444.92 74.64,444.85 74.68,444.77 74.73,444.69 74.78,444.62 74.82,444.54 74.87,444.47 74.92,444.39 74.97,444.32 75.02,444.24 75.07,444.17 75.12,444.09 75.17,444.02 75.22,443.95 75.28,443.88 75.33,443.8 75.38,443.73 75.44,443.66 75.49,443.59 75.55,443.52 75.6,443.45 75.66,443.38 75.71,443.31 75.77,443.24 75.83,443.17 75.89,443.1 75.95,443.04 76.01,442.97 76.07,442.9 76.13,442.83 76.19,442.77 76.25,442.7 76.31,442.63 76.37,442.57 76.44,442.5 76.5,442.44 76.57,442.37 76.63,442.31 76.7,442.24 76.77,442.18 76.83,442.12 76.9,442.05 76.97,441.99 77.04,441.93 77.11,441.87 77.18,441.8 77.26,441.74 77.33,441.68 77.4,441.62 77.48,441.56 77.55,441.5 77.63,441.44 77.7,441.38 77.78,441.32 77.86,441.26 77.94,441.2 78.01,441.14 78.09,441.08 78.18,441.02 78.26,440.97 78.34,440.91 78.42,440.85 78.51,440.79 78.59,440.74 78.68,440.68 78.77,440.62 78.85,440.57 78.94,440.51 79.03,440.46 79.12,440.4 79.21,440.35 79.3,440.29 79.4,440.24 79.49,440.18 79.59,440.13 79.68,440.08 79.78,440.02 79.88,439.97 79.98,439.92 80.08,439.87 80.18,439.81 80.28,439.76 80.38,439.71 80.48,439.66 80.59,439.61 80.7,439.56 80.8,439.51 80.91,439.46 81.02,439.41 81.13,439.36 81.24,439.31 81.35,439.26 81.47,439.21 81.58,439.16 81.7,439.11 81.81,439.06 81.93,439.01 82.05,438.96 82.17,438.92 82.29,438.87 82.42,438.82 82.54,438.77 82.67,438.73 82.79,438.68 82.92,438.63 83.05,438.59 83.18,438.54 83.31,438.5 83.45,438.45 83.58,438.41 83.72,438.36 83.85,438.32 83.99,438.27 84.13,438.23 84.27,438.18 84.42,438.14 84.56,438.1 84.71,438.05 84.85,438.01 85,437.97 85.15,437.92 85.3,437.88 85.46,437.84 85.61,437.8 85.77,437.75 85.92,437.71 86.08,437.67 86.24,437.63 86.41,437.59 86.57,437.55 86.74,437.5 86.9,437.46 87.07,437.42 87.24,437.38 87.42,437.34 87.59,437.3 87.77,437.26 87.94,437.22 88.12,437.19 88.3,437.15 88.49,437.11 88.67,437.07 88.86,437.03 89.05,436.99 89.24,436.95 89.43,436.92 89.62,436.88 89.82,436.84 90.02,436.8 90.22,436.77 90.42,436.73 90.63,436.69 90.83,436.66 91.04,436.62 91.25,436.58 91.46,436.55 91.68,436.51 91.89,436.47 92.11,436.44 92.33,436.4 92.56,436.37 92.78,436.33 93.01,436.3 93.24,436.26 93.47,436.23 93.71,436.19 93.95,436.16 94.18,436.13 94.43,436.09 94.67,436.06 94.92,436.02 95.17,435.99 95.42,435.96 95.67,435.92 95.93,435.89 96.19,435.86 96.45,435.83 96.72,435.79 96.98,435.76 97.25,435.73 97.52,435.7 97.8,435.67 98.08,435.63 98.36,435.6 98.64,435.57 98.93,435.54 99.22,435.51 99.51,435.48 99.81,435.45 100.1,435.42 100.4,435.39 100.71,435.36 101.02,435.32 101.33,435.29 101.64,435.26 101.96,435.24 102.27,435.21 102.6,435.18 102.92,435.15 103.25,435.12 103.59,435.09 103.92,435.06 104.26,435.03 104.6,435 104.95,434.97 105.3,434.94 105.65,434.92 106.01,434.89 106.37,434.86 106.73,434.83 107.1,434.81 107.47,434.78 107.84,434.75 108.22,434.72 108.61,434.7 108.99,434.67 109.38,434.64 109.78,434.61 110.17,434.59 110.57,434.56 110.98,434.54 111.39,434.51 111.8,434.48 112.22,434.46 112.64,434.43 113.07,434.4 113.5,434.38 113.94,434.35 114.38,434.33 114.82,434.3 115.27,434.28 115.72,434.25 116.18,434.23 116.64,434.2 117.11,434.18 117.58,434.15 118.05,434.13 118.53,434.1 119.02,434.08 119.51,434.06 120,434.03 120.5,434.01 121.01,433.98 121.52,433.96 122.03,433.94 122.55,433.91 123.08,433.89 123.61,433.87 124.15,433.84 124.69,433.82 125.24,433.8 125.79,433.78 126.35,433.75 126.91,433.73 127.48,433.71 128.05,433.69 128.63,433.66 129.22,433.64 129.81,433.62 130.41,433.6 131.01,433.57 131.62,433.55 132.24,433.53 132.86,433.51 133.49,433.49 134.13,433.47 134.77,433.45 135.42,433.42 136.07,433.4 136.73,433.38 137.4,433.36 138.07,433.34 138.75,433.32 139.44,433.3 140.13,433.28 140.84,433.26 141.54,433.24 142.26,433.22 142.98,433.2 143.71,433.18 144.45,433.16 145.19,433.14 145.95,433.12 146.7,433.1 147.47,433.08 148.25,433.06 149.03,433.04 149.82,433.02 150.62,433 151.42,432.98 152.24,432.96 153.06,432.94 153.89,432.93 154.73,432.91 155.58,432.89 156.43,432.87 157.3,432.85 158.17,432.83 159.05,432.81 159.94,432.8 160.84,432.78 161.75,432.76 162.67,432.74 163.59,432.72 164.53,432.71 165.48,432.69 166.43,432.67 167.39,432.65 168.37,432.63 169.35,432.62 170.35,432.6 171.35,432.58 172.36,432.57 173.39,432.55 174.42,432.53 175.46,432.51 176.52,432.5 177.58,432.48 178.66,432.46 179.75,432.45 180.84,432.43 181.95,432.41 183.07,432.4 184.2,432.38 185.34,432.36 186.5,432.35 187.66,432.33 188.84,432.32 190.03,432.3 191.23,432.28 192.44,432.27 193.67,432.25 194.9,432.24 196.15,432.22 197.41,432.2 198.69,432.19 199.97,432.17 201.27,432.16 202.59,432.14 203.91,432.13 205.25,432.11 206.6,432.1 207.97,432.08 209.35,432.07 210.74,432.05 212.15,432.04 213.57,432.02 215.01,432.01 216.46,431.99 217.92,431.98 219.4,431.96 220.9,431.95 222.4,431.93 223.93,431.92 225.47,431.9 227.02,431.89 228.59,431.88 230.18,431.86 231.78,431.85 233.4,431.83 235.03,431.82 236.68,431.8 238.35,431.79 240.03,431.78 241.73,431.76 243.45,431.75 245.18,431.74 246.94,431.72 248.71,431.71 250.49,431.69 252.3,431.68 254.12,431.67 255.96,431.65 257.82,431.64 259.7,431.63 261.6,431.61 263.51,431.6 265.45,431.59 267.4,431.57 269.38,431.56 271.37,431.55 273.38,431.54 275.42,431.52 277.47,431.51 279.55,431.5 281.64,431.48 283.76,431.47 285.9,431.46 288.06,431.45 290.24,431.43 292.44,431.42 294.66,431.41 296.91,431.4 299.18,431.38 301.47,431.37 303.78,431.36 306.12,431.35 308.48,431.33 310.87,431.32 313.28,431.31 315.71,431.3 318.17,431.29 318.35,431.28" fill="none" stroke="#3aaf85" stroke-width="2.3" stroke-linejoin="round" stroke-dasharray="8.5 8.1" stroke-dashoffset="-1.0"/>
<line x1="57.4" y1="334.7" x2="57.4" y2="524.7" stroke="#cccccc" stroke-width="1.4" />
<line x1="56.7" y1="524" x2="330.8" y2="524" stroke="#cccccc" stroke-width="1.4" />
<text x="51.8" y="376.35" font-size="12" fill="#808080" text-anchor="end" >100</text>
<text x="51.8" y="434.45" font-size="12" fill="#808080" text-anchor="end" >0</text>
<text x="51.8" y="492.55" font-size="12" fill="#808080" text-anchor="end" >−100</text>
<text x="70" y="538.5" font-size="12" fill="#808080" text-anchor="middle" >0.00</text>
<text x="121.1" y="538.5" font-size="12" fill="#808080" text-anchor="middle" >0.05</text>
<text x="172.2" y="538.5" font-size="12" fill="#808080" text-anchor="middle" >0.10</text>
<text x="223.3" y="538.5" font-size="12" fill="#808080" text-anchor="middle" >0.15</text>
<text x="274.4" y="538.5" font-size="12" fill="#808080" text-anchor="middle" >0.20</text>
<text x="325.5" y="538.5" font-size="12" fill="#808080" text-anchor="middle" >0.25</text>
<text x="194.1" y="555.8" font-size="13.2" fill="#4d4d4d" text-anchor="middle">Leverage (h<tspan font-size="9.5" dy="2.6">ii</tspan><tspan dy="-2.6">)</tspan></text>
<text transform="translate(15.0,429.35) rotate(-90)" font-size="13.2" fill="#4d4d4d" text-anchor="middle">Std. Residuals</text>
<text x="89.3" y="423.5" font-size="11" fill="#226dab" text-anchor="middle" >35</text>
<text x="115.7" y="422.9" font-size="11" fill="#226dab" text-anchor="middle" >129</text>
<text x="87" y="443.4" font-size="11" fill="#226dab" text-anchor="middle" >56</text>
<text x="119.6" y="442.8" font-size="11" fill="#226dab" text-anchor="middle" >20</text>
<text x="320.2" y="424" font-size="11" fill="#226dab" text-anchor="middle" >34</text>
<text x="261" y="419.8" font-size="11" fill="#3aaf85" text-anchor="middle" >0.8</text>
<text x="261" y="444" font-size="11" fill="#3aaf85" text-anchor="middle" >0.8</text>
<text x="343.1" y="310.3" font-size="14.4" fill="#1a1a1a" text-anchor="start" >Collinearity</text>
<text x="343.1" y="326" font-size="12" fill="#1a1a1a" text-anchor="start" >High collinearity (VIF) may inflate parameter uncertainty</text>
<line x1="405.2" y1="523.4" x2="678.9" y2="523.4" stroke="#e4e4e4" stroke-width="1.1" />
<line x1="405.2" y1="496.64" x2="678.9" y2="496.64" stroke="#e4e4e4" stroke-width="1.1" />
<line x1="405.2" y1="469.88" x2="678.9" y2="469.88" stroke="#e4e4e4" stroke-width="1.1" />
<line x1="405.2" y1="454.22" x2="678.9" y2="454.22" stroke="#e4e4e4" stroke-width="1.1" />
<line x1="405.2" y1="438.57" x2="678.9" y2="438.57" stroke="#e4e4e4" stroke-width="1.1" />
<line x1="405.2" y1="418.85" x2="678.9" y2="418.85" stroke="#e4e4e4" stroke-width="1.1" />
<line x1="405.2" y1="399.12" x2="678.9" y2="399.12" stroke="#e4e4e4" stroke-width="1.1" />
<line x1="405.2" y1="372.36" x2="678.9" y2="372.36" stroke="#e4e4e4" stroke-width="1.1" />
<line x1="405.2" y1="345.6" x2="678.9" y2="345.6" stroke="#e4e4e4" stroke-width="1.1" />
<line x1="456.7" y1="334.7" x2="456.7" y2="524" stroke="#e4e4e4" stroke-width="1.1" />
<line x1="542.3" y1="334.7" x2="542.3" y2="524" stroke="#e4e4e4" stroke-width="1.1" />
<line x1="627.9" y1="334.7" x2="627.9" y2="524" stroke="#e4e4e4" stroke-width="1.1" />
<rect x="405.2" y="334.7" width="273.7" height="10.9" fill="#ef6637" fill-opacity="0.19"/>
<rect x="405.2" y="345.6" width="273.7" height="53.52" fill="#6176ba" fill-opacity="0.19"/>
<rect x="405.2" y="399.12" width="273.7" height="124.88" fill="#8bcaaa" fill-opacity="0.19"/>
<line x1="456.7" y1="430.1" x2="456.7" y2="470.6" stroke="#3aaf85" stroke-width="2.2" />
<circle cx="456.7" cy="452" r="3.9" fill="#3aaf85"/>
<line x1="542.3" y1="413.9" x2="542.3" y2="456.2" stroke="#3aaf85" stroke-width="2.2" />
<circle cx="542.3" cy="436.1" r="3.9" fill="#3aaf85"/>
<line x1="627.9" y1="466.8" x2="627.9" y2="502" stroke="#3aaf85" stroke-width="2.2" />
<circle cx="627.9" cy="487.4" r="3.9" fill="#3aaf85"/>
<line x1="405.2" y1="334.7" x2="405.2" y2="524.7" stroke="#cccccc" stroke-width="1.4" />
<line x1="404.5" y1="524" x2="678.9" y2="524" stroke="#cccccc" stroke-width="1.4" />
<text x="400" y="528.4" font-size="12" fill="#808080" text-anchor="end" >1</text>
<text x="400" y="474.88" font-size="12" fill="#808080" text-anchor="end" >2</text>
<text x="400" y="443.57" font-size="12" fill="#808080" text-anchor="end" >3</text>
<text x="400" y="404.12" font-size="12" fill="#808080" text-anchor="end" >5</text>
<text x="400" y="350.6" font-size="12" fill="#808080" text-anchor="end" >10</text>
<text x="456.7" y="538.7" font-size="12" fill="#808080" text-anchor="middle" >Frequency.Applications</text>
<text x="542.3" y="538.7" font-size="12" fill="#808080" text-anchor="middle" >Frequency.Assignment</text>
<text x="627.9" y="538.7" font-size="12" fill="#808080" text-anchor="middle" >Frequency.La_types</text>
<text transform="translate(352.4,429.35) rotate(-90)" font-size="13.2" fill="#4d4d4d" text-anchor="middle">Variance Inflation</text>
<text transform="translate(367.3,429.35) rotate(-90)" font-size="13.2" fill="#4d4d4d" text-anchor="middle">Factor (VIF, log−scaled)</text>
<line x1="516.6" y1="570.8" x2="516.6" y2="587.6" stroke="#3aaf85" stroke-width="2.2" />
<circle cx="516.6" cy="579.2" r="3.9" fill="#3aaf85"/>
<text x="530.3" y="583.5" font-size="12" fill="#4d4d4d" text-anchor="start" >Low (&lt; 5)</text>
<text x="5.8" y="606" font-size="14.4" fill="#1a1a1a" text-anchor="start" >Normality of Residuals</text>
<text x="5.8" y="621.5" font-size="12" fill="#1a1a1a" text-anchor="start" >Dots should fall along the line</text>
<line x1="57.4" y1="811.5" x2="330.8" y2="811.5" stroke="#e4e4e4" stroke-width="1.1" />
<line x1="57.4" y1="779.68" x2="330.8" y2="779.68" stroke="#e4e4e4" stroke-width="1.1" />
<line x1="57.4" y1="747.86" x2="330.8" y2="747.86" stroke="#e4e4e4" stroke-width="1.1" />
<line x1="57.4" y1="716.04" x2="330.8" y2="716.04" stroke="#e4e4e4" stroke-width="1.1" />
<line x1="57.4" y1="684.22" x2="330.8" y2="684.22" stroke="#e4e4e4" stroke-width="1.1" />
<line x1="57.4" y1="652.4" x2="330.8" y2="652.4" stroke="#e4e4e4" stroke-width="1.1" />
<line x1="69.6" y1="630" x2="69.6" y2="819.6" stroke="#e4e4e4" stroke-width="1.1" />
<line x1="112.67" y1="630" x2="112.67" y2="819.6" stroke="#e4e4e4" stroke-width="1.1" />
<line x1="155.75" y1="630" x2="155.75" y2="819.6" stroke="#e4e4e4" stroke-width="1.1" />
<line x1="198.83" y1="630" x2="198.83" y2="819.6" stroke="#e4e4e4" stroke-width="1.1" />
<line x1="241.9" y1="630" x2="241.9" y2="819.6" stroke="#e4e4e4" stroke-width="1.1" />
<line x1="284.98" y1="630" x2="284.98" y2="819.6" stroke="#e4e4e4" stroke-width="1.1" />
<line x1="328.05" y1="630" x2="328.05" y2="819.6" stroke="#e4e4e4" stroke-width="1.1" />
<circle cx="70.01" cy="811.28" r="2.55" fill="#226dab"/>
<circle cx="70.83" cy="811.23" r="2.55" fill="#226dab"/>
<circle cx="71.65" cy="811.18" r="2.55" fill="#226dab"/>
<circle cx="72.46" cy="811.12" r="2.55" fill="#226dab"/>
<circle cx="73.28" cy="811.07" r="2.55" fill="#226dab"/>
<circle cx="74.1" cy="811.02" r="2.55" fill="#226dab"/>
<circle cx="74.92" cy="810.39" r="2.55" fill="#226dab"/>
<circle cx="75.74" cy="809.17" r="2.55" fill="#226dab"/>
<circle cx="76.56" cy="808.04" r="2.55" fill="#226dab"/>
<circle cx="77.38" cy="807.07" r="2.55" fill="#226dab"/>
<circle cx="78.2" cy="806.1" r="2.55" fill="#226dab"/>
<circle cx="79.03" cy="805.56" r="2.55" fill="#226dab"/>
<circle cx="79.85" cy="805.02" r="2.55" fill="#226dab"/>
<circle cx="80.67" cy="804.48" r="2.55" fill="#226dab"/>
<circle cx="81.5" cy="803.94" r="2.55" fill="#226dab"/>
<circle cx="82.32" cy="803.34" r="2.55" fill="#226dab"/>
<circle cx="83.15" cy="802.59" r="2.55" fill="#226dab"/>
<circle cx="83.98" cy="801.95" r="2.55" fill="#226dab"/>
<circle cx="84.81" cy="801.32" r="2.55" fill="#226dab"/>
<circle cx="85.64" cy="800.68" r="2.55" fill="#226dab"/>
<circle cx="86.48" cy="796.23" r="2.55" fill="#226dab"/>
<circle cx="87.31" cy="792.41" r="2.55" fill="#226dab"/>
<circle cx="88.15" cy="787.95" r="2.55" fill="#226dab"/>
<circle cx="88.98" cy="786.68" r="2.55" fill="#226dab"/>
<circle cx="89.82" cy="786.43" r="2.55" fill="#226dab"/>
<circle cx="90.67" cy="786.18" r="2.55" fill="#226dab"/>
<circle cx="91.51" cy="785.96" r="2.55" fill="#226dab"/>
<circle cx="92.36" cy="785.75" r="2.55" fill="#226dab"/>
<circle cx="93.2" cy="785.54" r="2.55" fill="#226dab"/>
<circle cx="94.05" cy="785.28" r="2.55" fill="#226dab"/>
<circle cx="94.91" cy="784.95" r="2.55" fill="#226dab"/>
<circle cx="95.76" cy="784.62" r="2.55" fill="#226dab"/>
<circle cx="96.62" cy="784.29" r="2.55" fill="#226dab"/>
<circle cx="97.48" cy="783.96" r="2.55" fill="#226dab"/>
<circle cx="98.34" cy="783.22" r="2.55" fill="#226dab"/>
<circle cx="99.21" cy="782.15" r="2.55" fill="#226dab"/>
<circle cx="100.08" cy="781.08" r="2.55" fill="#226dab"/>
<circle cx="100.95" cy="780.31" r="2.55" fill="#226dab"/>
<circle cx="101.83" cy="779.59" r="2.55" fill="#226dab"/>
<circle cx="102.71" cy="778.86" r="2.55" fill="#226dab"/>
<circle cx="103.59" cy="778.12" r="2.55" fill="#226dab"/>
<circle cx="104.48" cy="777.68" r="2.55" fill="#226dab"/>
<circle cx="105.37" cy="777.24" r="2.55" fill="#226dab"/>
<circle cx="106.26" cy="776.81" r="2.55" fill="#226dab"/>
<circle cx="107.16" cy="776.37" r="2.55" fill="#226dab"/>
<circle cx="108.06" cy="775.92" r="2.55" fill="#226dab"/>
<circle cx="108.96" cy="775.47" r="2.55" fill="#226dab"/>
<circle cx="109.87" cy="775.02" r="2.55" fill="#226dab"/>
<circle cx="110.79" cy="774.39" r="2.55" fill="#226dab"/>
<circle cx="111.71" cy="773.71" r="2.55" fill="#226dab"/>
<circle cx="112.63" cy="773.03" r="2.55" fill="#226dab"/>
<circle cx="113.56" cy="772.34" r="2.55" fill="#226dab"/>
<circle cx="114.5" cy="770.68" r="2.55" fill="#226dab"/>
<circle cx="115.44" cy="768.25" r="2.55" fill="#226dab"/>
<circle cx="116.38" cy="766.9" r="2.55" fill="#226dab"/>
<circle cx="117.33" cy="765.96" r="2.55" fill="#226dab"/>
<circle cx="118.29" cy="765.05" r="2.55" fill="#226dab"/>
<circle cx="119.25" cy="764.51" r="2.55" fill="#226dab"/>
<circle cx="120.22" cy="763.97" r="2.55" fill="#226dab"/>
<circle cx="121.19" cy="763.43" r="2.55" fill="#226dab"/>
<circle cx="122.18" cy="762.47" r="2.55" fill="#226dab"/>
<circle cx="123.17" cy="761.04" r="2.55" fill="#226dab"/>
<circle cx="124.16" cy="759.62" r="2.55" fill="#226dab"/>
<circle cx="125.17" cy="759.11" r="2.55" fill="#226dab"/>
<circle cx="126.18" cy="758.6" r="2.55" fill="#226dab"/>
<circle cx="127.19" cy="758.09" r="2.55" fill="#226dab"/>
<circle cx="128.22" cy="757.57" r="2.55" fill="#226dab"/>
<circle cx="129.26" cy="757.03" r="2.55" fill="#226dab"/>
<circle cx="130.3" cy="756.62" r="2.55" fill="#226dab"/>
<circle cx="131.35" cy="756.26" r="2.55" fill="#226dab"/>
<circle cx="132.42" cy="755.91" r="2.55" fill="#226dab"/>
<circle cx="133.49" cy="755.55" r="2.55" fill="#226dab"/>
<circle cx="134.57" cy="755.14" r="2.55" fill="#226dab"/>
<circle cx="135.66" cy="754.67" r="2.55" fill="#226dab"/>
<circle cx="136.77" cy="754.2" r="2.55" fill="#226dab"/>
<circle cx="137.88" cy="753.72" r="2.55" fill="#226dab"/>
<circle cx="139.01" cy="753.08" r="2.55" fill="#226dab"/>
<circle cx="140.14" cy="752.32" r="2.55" fill="#226dab"/>
<circle cx="141.29" cy="751.55" r="2.55" fill="#226dab"/>
<circle cx="142.46" cy="750.44" r="2.55" fill="#226dab"/>
<circle cx="143.63" cy="748.67" r="2.55" fill="#226dab"/>
<circle cx="144.82" cy="746.89" r="2.55" fill="#226dab"/>
<circle cx="146.03" cy="745.9" r="2.55" fill="#226dab"/>
<circle cx="147.25" cy="745.02" r="2.55" fill="#226dab"/>
<circle cx="148.48" cy="744.13" r="2.55" fill="#226dab"/>
<circle cx="149.74" cy="743.68" r="2.55" fill="#226dab"/>
<circle cx="151.01" cy="743.27" r="2.55" fill="#226dab"/>
<circle cx="152.29" cy="742.86" r="2.55" fill="#226dab"/>
<circle cx="153.6" cy="742.54" r="2.55" fill="#226dab"/>
<circle cx="154.92" cy="742.31" r="2.55" fill="#226dab"/>
<circle cx="156.27" cy="742.07" r="2.55" fill="#226dab"/>
<circle cx="157.64" cy="741.82" r="2.55" fill="#226dab"/>
<circle cx="159.03" cy="741.47" r="2.55" fill="#226dab"/>
<circle cx="160.44" cy="741.02" r="2.55" fill="#226dab"/>
<circle cx="161.88" cy="739.96" r="2.55" fill="#226dab"/>
<circle cx="163.35" cy="738.9" r="2.55" fill="#226dab"/>
<circle cx="164.84" cy="738.15" r="2.55" fill="#226dab"/>
<circle cx="166.36" cy="737.38" r="2.55" fill="#226dab"/>
<circle cx="167.91" cy="736.64" r="2.55" fill="#226dab"/>
<circle cx="169.5" cy="736" r="2.55" fill="#226dab"/>
<circle cx="171.12" cy="735.34" r="2.55" fill="#226dab"/>
<circle cx="172.78" cy="733.53" r="2.55" fill="#226dab"/>
<circle cx="174.47" cy="731.76" r="2.55" fill="#226dab"/>
<circle cx="176.21" cy="730.95" r="2.55" fill="#226dab"/>
<circle cx="177.99" cy="730.29" r="2.55" fill="#226dab"/>
<circle cx="179.82" cy="729.61" r="2.55" fill="#226dab"/>
<circle cx="181.7" cy="729" r="2.55" fill="#226dab"/>
<circle cx="183.64" cy="728.38" r="2.55" fill="#226dab"/>
<circle cx="185.63" cy="727.69" r="2.55" fill="#226dab"/>
<circle cx="187.69" cy="726.91" r="2.55" fill="#226dab"/>
<circle cx="189.82" cy="726.12" r="2.55" fill="#226dab"/>
<circle cx="192.02" cy="725.4" r="2.55" fill="#226dab"/>
<circle cx="194.31" cy="724.71" r="2.55" fill="#226dab"/>
<circle cx="196.69" cy="724.47" r="2.55" fill="#226dab"/>
<circle cx="199.17" cy="724.26" r="2.55" fill="#226dab"/>
<circle cx="201.76" cy="724.08" r="2.55" fill="#226dab"/>
<circle cx="204.48" cy="723.89" r="2.55" fill="#226dab"/>
<circle cx="207.34" cy="723.67" r="2.55" fill="#226dab"/>
<circle cx="210.36" cy="723.1" r="2.55" fill="#226dab"/>
<circle cx="213.57" cy="722.07" r="2.55" fill="#226dab"/>
<circle cx="216.98" cy="720.74" r="2.55" fill="#226dab"/>
<circle cx="220.65" cy="719.73" r="2.55" fill="#226dab"/>
<circle cx="224.61" cy="715.53" r="2.55" fill="#226dab"/>
<circle cx="228.93" cy="714.77" r="2.55" fill="#226dab"/>
<circle cx="233.69" cy="712.73" r="2.55" fill="#226dab"/>
<circle cx="239.01" cy="710.89" r="2.55" fill="#226dab"/>
<circle cx="245.07" cy="707.13" r="2.55" fill="#226dab"/>
<circle cx="252.15" cy="706.68" r="2.55" fill="#226dab"/>
<circle cx="260.73" cy="674.86" r="2.55" fill="#226dab"/>
<circle cx="271.77" cy="673.97" r="2.55" fill="#226dab"/>
<circle cx="287.67" cy="672.26" r="2.55" fill="#226dab"/>
<circle cx="319.03" cy="646.23" r="2.55" fill="#226dab"/>
<line x1="69.6" y1="800.87" x2="318.4" y2="640.42" stroke="#3aaf85" stroke-width="2.4" />
<line x1="57.4" y1="630" x2="57.4" y2="820.3" stroke="#cccccc" stroke-width="1.4" />
<line x1="56.7" y1="819.6" x2="330.8" y2="819.6" stroke="#cccccc" stroke-width="1.4" />
<text x="51.8" y="816.5" font-size="12" fill="#808080" text-anchor="end" >0</text>
<text x="51.8" y="752.86" font-size="12" fill="#808080" text-anchor="end" >1</text>
<text x="51.8" y="689.22" font-size="12" fill="#808080" text-anchor="end" >2</text>
<text x="69.6" y="834.5" font-size="12" fill="#808080" text-anchor="middle" >0</text>
<text x="155.75" y="834.5" font-size="12" fill="#808080" text-anchor="middle" >1</text>
<text x="241.9" y="834.5" font-size="12" fill="#808080" text-anchor="middle" >2</text>
<text x="328.05" y="834.5" font-size="12" fill="#808080" text-anchor="middle" >3</text>
<text x="194.1" y="852.3" font-size="13.3" fill="#4d4d4d" text-anchor="middle" >Standard Normal Distribution Quantiles</text>
<text transform="translate(15.0,724.8) rotate(-90)" font-size="13.2" fill="#4d4d4d" text-anchor="middle">lStd. Deviance Residualsl</text>
</svg></body></html>
